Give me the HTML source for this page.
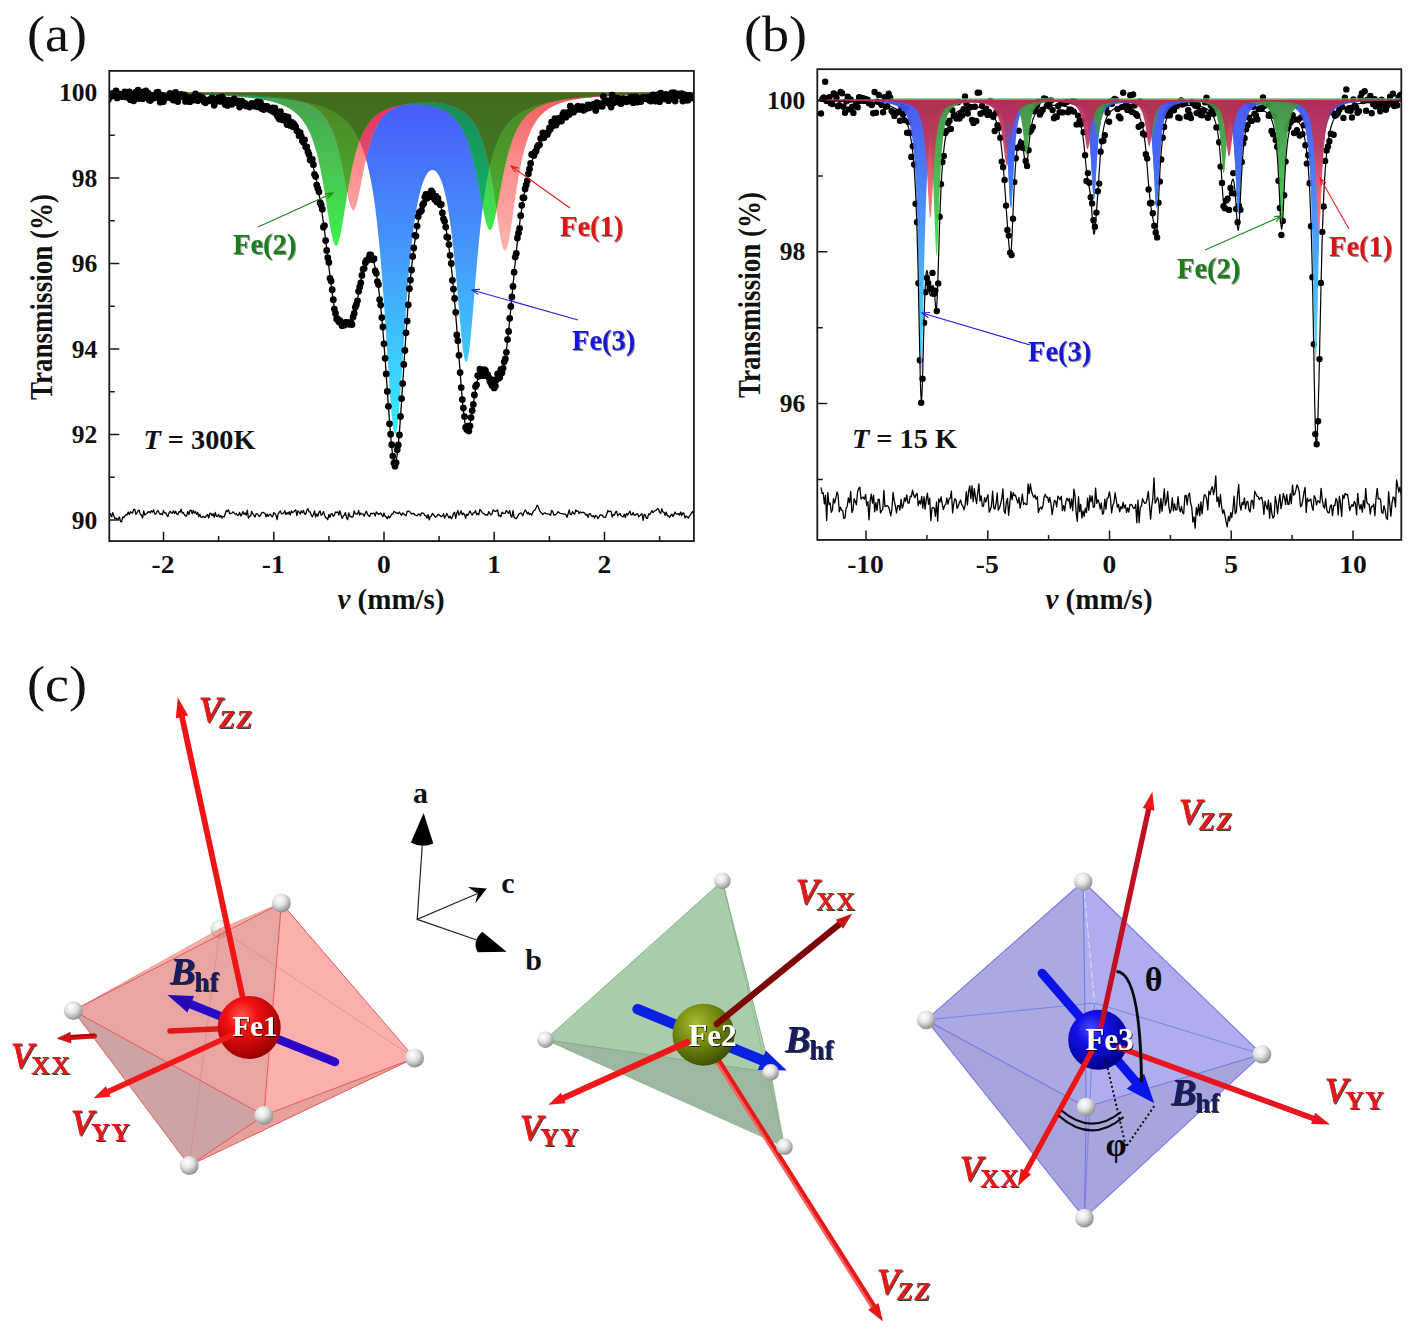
<!DOCTYPE html>
<html lang="en"><head><meta charset="utf-8"><title>Mossbauer spectra and EFG orientation</title>
<style>html,body{margin:0;padding:0;background:#fff;overflow:hidden;}svg{display:block;}text{font-family:"Liberation Serif", serif;}.b{font-weight:bold;}.i{font-style:italic;}.bi{font-weight:bold;font-style:italic;}</style></head><body>
<svg width="1416" height="1337" viewBox="0 0 1416 1337" role="img" aria-label="Mossbauer spectra and EFG orientation figure">
<defs>
<linearGradient id="aB" gradientUnits="userSpaceOnUse" x1="0" y1="92.5" x2="0" y2="438.8"><stop offset="0" stop-color="#4858f8"/><stop offset="0.45" stop-color="#4596fb"/><stop offset="1" stop-color="#35f2ff"/></linearGradient>
<linearGradient id="aG" gradientUnits="userSpaceOnUse" x1="0" y1="92.5" x2="0" y2="242.1"><stop offset="0" stop-color="#46a050"/><stop offset="0.5" stop-color="#49c552"/><stop offset="1" stop-color="#3df04a"/></linearGradient>
<linearGradient id="aR" gradientUnits="userSpaceOnUse" x1="0" y1="92.5" x2="0" y2="250.7"><stop offset="0" stop-color="#ee5a5e"/><stop offset="0.4" stop-color="#fb8a88"/><stop offset="1" stop-color="#ffb4b0"/></linearGradient>
<linearGradient id="aRB" gradientUnits="userSpaceOnUse" x1="0" y1="92.5" x2="0" y2="250.7"><stop offset="0" stop-color="#e8305a"/><stop offset="0.5" stop-color="#dc5078"/><stop offset="1" stop-color="#d07090"/></linearGradient>
<linearGradient id="aRG" gradientUnits="userSpaceOnUse" x1="0" y1="92.5" x2="0" y2="242.1"><stop offset="0" stop-color="#4a8426"/><stop offset="0.45" stop-color="#4c9c2a"/><stop offset="1" stop-color="#40c436"/></linearGradient>
<linearGradient id="aRGB" gradientUnits="userSpaceOnUse" x1="0" y1="92.5" x2="0" y2="242.1"><stop offset="0" stop-color="#426a1e"/><stop offset="0.5" stop-color="#3d7a22"/><stop offset="1" stop-color="#3a8a28"/></linearGradient>
<linearGradient id="aGB" gradientUnits="userSpaceOnUse" x1="0" y1="92.5" x2="0" y2="242.1"><stop offset="0" stop-color="#148c58"/><stop offset="1" stop-color="#16b86a"/></linearGradient>
<linearGradient id="bB" gradientUnits="userSpaceOnUse" x1="0" y1="100" x2="0" y2="373.2"><stop offset="0" stop-color="#4050f0"/><stop offset="0.45" stop-color="#4590fb"/><stop offset="1" stop-color="#35e8ff"/></linearGradient>
<linearGradient id="bB2" gradientUnits="userSpaceOnUse" x1="0" y1="100" x2="0" y2="373.2"><stop offset="0" stop-color="#4050f0" stop-opacity="0"/><stop offset="0.07" stop-color="#4258f2" stop-opacity="0"/><stop offset="0.2" stop-color="#4466f4" stop-opacity="1"/><stop offset="0.45" stop-color="#4590fb" stop-opacity="1"/><stop offset="1" stop-color="#35e8ff" stop-opacity="1"/></linearGradient>
<linearGradient id="bG" gradientUnits="userSpaceOnUse" x1="0" y1="100" x2="0" y2="259.4"><stop offset="0" stop-color="#3e8e42"/><stop offset="0.5" stop-color="#44b84c"/><stop offset="1" stop-color="#3fe64a"/></linearGradient>
<linearGradient id="bR" gradientUnits="userSpaceOnUse" x1="0" y1="100" x2="0" y2="236.6"><stop offset="0" stop-color="#b42a52"/><stop offset="0.35" stop-color="#c83a58"/><stop offset="0.7" stop-color="#f06868"/><stop offset="1" stop-color="#ff7c78"/></linearGradient>
<radialGradient id="sW" cx="38%" cy="32%" r="70%" fx="38%" fy="32%"><stop offset="0" stop-color="#ffffff"/><stop offset="0.45" stop-color="#e4e4e4"/><stop offset="1" stop-color="#8c8c8c"/></radialGradient>
<radialGradient id="sR" cx="38%" cy="32%" r="70%" fx="38%" fy="32%"><stop offset="0" stop-color="#ff5a4a"/><stop offset="0.35" stop-color="#f01010"/><stop offset="1" stop-color="#9a0000"/></radialGradient>
<radialGradient id="sO" cx="38%" cy="32%" r="70%" fx="38%" fy="32%"><stop offset="0" stop-color="#a9bc34"/><stop offset="0.4" stop-color="#7c9414"/><stop offset="1" stop-color="#3e5000"/></radialGradient>
<radialGradient id="sB" cx="38%" cy="32%" r="70%" fx="38%" fy="32%"><stop offset="0" stop-color="#4a4aff"/><stop offset="0.35" stop-color="#1212e8"/><stop offset="1" stop-color="#000088"/></radialGradient>
<filter id="sh" x="-10%" y="-10%" width="130%" height="130%"><feOffset in="SourceAlpha" dx="1.3" dy="1.1" result="o"/><feFlood flood-color="#000" flood-opacity="0.75"/><feComposite in2="o" operator="in" result="s"/><feMerge><feMergeNode in="s"/><feMergeNode in="SourceGraphic"/></feMerge></filter>
<filter id="sh2" x="-10%" y="-10%" width="130%" height="130%"><feOffset in="SourceAlpha" dx="1.2" dy="1.0" result="o"/><feFlood flood-color="#000" flood-opacity="0.45"/><feComposite in2="o" operator="in" result="s"/><feMerge><feMergeNode in="s"/><feMergeNode in="SourceGraphic"/></feMerge></filter>
<clipPath id="clipA"><rect x="109.3" y="70.9" width="584.6" height="470.2"/></clipPath>
<clipPath id="clipB"><rect x="817.3" y="69.2" width="584" height="470.7"/></clipPath>
</defs>
<rect x="0" y="0" width="1416" height="1337" fill="#ffffff"/>
<g clip-path="url(#clipA)">
<path d="M108.4 92.5L108.4 93.7 108.9 93.7 109.4 93.7 110 93.7 110.5 93.7 111 93.7 111.6 93.7 112.1 93.7 112.6 93.7 113.2 93.7 113.7 93.7 114.2 93.7 114.8 93.7 115.3 93.7 115.8 93.7 116.4 93.7 116.9 93.7 117.4 93.7 118 93.7 118.5 93.7 119 93.8 119.6 93.8 120.1 93.8 120.6 93.8 121.2 93.8 121.7 93.8 122.2 93.8 122.8 93.8 123.3 93.8 123.8 93.8 124.4 93.8 124.9 93.8 125.4 93.8 126 93.8 126.5 93.8 127 93.8 127.6 93.8 128.1 93.8 128.6 93.8 129.1 93.8 129.7 93.8 130.2 93.9 130.7 93.9 131.3 93.9 131.8 93.9 132.3 93.9 132.9 93.9 133.4 93.9 133.9 93.9 134.5 93.9 135 93.9 135.5 93.9 136.1 93.9 136.6 93.9 137.1 93.9 137.7 93.9 138.2 93.9 138.7 93.9 139.3 93.9 139.8 93.9 140.3 94 140.9 94 141.4 94 141.9 94 142.5 94 143 94 143.5 94 144.1 94 144.6 94 145.1 94 145.7 94 146.2 94 146.7 94 147.3 94 147.8 94 148.3 94 148.9 94 149.4 94.1 149.9 94.1 150.5 94.1 151 94.1 151.5 94.1 152.1 94.1 152.6 94.1 153.1 94.1 153.7 94.1 154.2 94.1 154.7 94.1 155.3 94.1 155.8 94.1 156.3 94.1 156.8 94.1 157.4 94.2 157.9 94.2 158.4 94.2 159 94.2 159.5 94.2 160 94.2 160.6 94.2 161.1 94.2 161.6 94.2 162.2 94.2 162.7 94.2 163.2 94.2 163.8 94.2 164.3 94.2 164.8 94.3 165.4 94.3 165.9 94.3 166.4 94.3 167 94.3 167.5 94.3 168 94.3 168.6 94.3 169.1 94.3 169.6 94.3 170.2 94.3 170.7 94.3 171.2 94.3 171.8 94.4 172.3 94.4 172.8 94.4 173.4 94.4 173.9 94.4 174.4 94.4 175 94.4 175.5 94.4 176 94.4 176.6 94.4 177.1 94.4 177.6 94.4 178.2 94.5 178.7 94.5 179.2 94.5 179.8 94.5 180.3 94.5 180.8 94.5 181.4 94.5 181.9 94.5 182.4 94.5 183 94.5 183.5 94.5 184 94.6 184.5 94.6 185.1 94.6 185.6 94.6 186.1 94.6 186.7 94.6 187.2 94.6 187.7 94.6 188.3 94.6 188.8 94.6 189.3 94.7 189.9 94.7 190.4 94.7 190.9 94.7 191.5 94.7 192 94.7 192.5 94.7 193.1 94.7 193.6 94.7 194.1 94.8 194.7 94.8 195.2 94.8 195.7 94.8 196.3 94.8 196.8 94.8 197.3 94.8 197.9 94.8 198.4 94.8 198.9 94.9 199.5 94.9 200 94.9 200.5 94.9 201.1 94.9 201.6 94.9 202.1 94.9 202.7 94.9 203.2 95 203.7 95 204.3 95 204.8 95 205.3 95 205.9 95 206.4 95 206.9 95 207.5 95.1 208 95.1 208.5 95.1 209.1 95.1 209.6 95.1 210.1 95.1 210.7 95.1 211.2 95.1 211.7 95.2 212.2 95.2 212.8 95.2 213.3 95.2 213.8 95.2 214.4 95.2 214.9 95.3 215.4 95.3 216 95.3 216.5 95.3 217 95.3 217.6 95.3 218.1 95.3 218.6 95.4 219.2 95.4 219.7 95.4 220.2 95.4 220.8 95.4 221.3 95.4 221.8 95.5 222.4 95.5 222.9 95.5 223.4 95.5 224 95.5 224.5 95.5 225 95.6 225.6 95.6 226.1 95.6 226.6 95.6 227.2 95.6 227.7 95.6 228.2 95.7 228.8 95.7 229.3 95.7 229.8 95.7 230.4 95.7 230.9 95.8 231.4 95.8 232 95.8 232.5 95.8 233 95.8 233.6 95.9 234.1 95.9 234.6 95.9 235.2 95.9 235.7 95.9 236.2 96 236.8 96 237.3 96 237.8 96 238.4 96 238.9 96.1 239.4 96.1 239.9 96.1 240.5 96.1 241 96.2 241.5 96.2 242.1 96.2 242.6 96.2 243.1 96.3 243.7 96.3 244.2 96.3 244.7 96.3 245.3 96.4 245.8 96.4 246.3 96.4 246.9 96.4 247.4 96.5 247.9 96.5 248.5 96.5 249 96.5 249.5 96.6 250.1 96.6 250.6 96.6 251.1 96.6 251.7 96.7 252.2 96.7 252.7 96.7 253.3 96.8 253.8 96.8 254.3 96.8 254.9 96.8 255.4 96.9 255.9 96.9 256.5 96.9 257 97 257.5 97 258.1 97 258.6 97.1 259.1 97.1 259.7 97.1 260.2 97.2 260.7 97.2 261.3 97.2 261.8 97.3 262.3 97.3 262.9 97.3 263.4 97.4 263.9 97.4 264.5 97.4 265 97.5 265.5 97.5 266.1 97.5 266.6 97.6 267.1 97.6 267.6 97.7 268.2 97.7 268.7 97.7 269.2 97.8 269.8 97.8 270.3 97.9 270.8 97.9 271.4 97.9 271.9 98 272.4 98 273 98.1 273.5 98.1 274 98.2 274.6 98.2 275.1 98.3 275.6 98.3 276.2 98.3 276.7 98.4 277.2 98.4 277.8 98.5 278.3 98.5 278.8 98.6 279.4 98.6 279.9 98.7 280.4 98.7 281 98.8 281.5 98.9 282 98.9 282.6 99 283.1 99 283.6 99.1 284.2 99.1 284.7 99.2 285.2 99.2 285.8 99.3 286.3 99.4 286.8 99.4 287.4 99.5 287.9 99.6 288.4 99.6 289 99.7 289.5 99.7 290 99.8 290.6 99.9 291.1 99.9 291.6 100 292.2 100.1 292.7 100.2 293.2 100.2 293.8 100.3 294.3 100.4 294.8 100.4 295.3 100.5 295.9 100.6 296.4 100.7 296.9 100.8 297.5 100.8 298 100.9 298.5 101 299.1 101.1 299.6 101.2 300.1 101.3 300.7 101.4 301.2 101.4 301.7 101.5 302.3 101.6 302.8 101.7 303.3 101.8 303.9 101.9 304.4 102 304.9 102.1 305.5 102.2 306 102.3 306.5 102.4 307.1 102.5 307.6 102.6 308.1 102.8 308.7 102.9 309.2 103 309.7 103.1 310.3 103.2 310.8 103.3 311.3 103.5 311.9 103.6 312.4 103.7 312.9 103.9 313.5 104 314 104.1 314.5 104.3 315.1 104.4 315.6 104.5 316.1 104.7 316.7 104.8 317.2 105 317.7 105.1 318.3 105.3 318.8 105.5 319.3 105.6 319.9 105.8 320.4 105.9 320.9 106.1 321.5 106.3 322 106.5 322.5 106.7 323 106.8 323.6 107 324.1 107.2 324.6 107.4 325.2 107.6 325.7 107.8 326.2 108 326.8 108.3 327.3 108.5 327.8 108.7 328.4 108.9 328.9 109.2 329.4 109.4 330 109.7 330.5 109.9 331 110.2 331.6 110.4 332.1 110.7 332.6 111 333.2 111.2 333.7 111.5 334.2 111.8 334.8 112.1 335.3 112.4 335.8 112.8 336.4 113.1 336.9 113.4 337.4 113.7 338 114.1 338.5 114.4 339 114.8 339.6 115.2 340.1 115.6 340.6 116 341.2 116.4 341.7 116.8 342.2 117.2 342.8 117.7 343.3 118.1 343.8 118.6 344.4 119.1 344.9 119.5 345.4 120 346 120.6 346.5 121.1 347 121.6 347.6 122.2 348.1 122.8 348.6 123.4 349.2 124 349.7 124.6 350.2 125.3 350.7 126 351.3 126.7 351.8 127.4 352.3 128.1 352.9 128.9 353.4 129.7 353.9 130.5 354.5 131.4 355 132.2 355.5 133.1 356.1 134.1 356.6 135 357.1 136 357.7 137.1 358.2 138.1 358.7 139.2 359.3 140.4 359.8 141.6 360.3 142.8 360.9 144.1 361.4 145.4 361.9 146.8 362.5 148.3 363 149.7 363.5 151.3 364.1 152.9 364.6 154.6 365.1 156.3 365.7 158.2 366.2 160 366.7 162 367.3 164.1 367.8 166.2 368.3 168.4 368.9 170.8 369.4 173.2 369.9 175.7 370.5 178.4 371 181.2 371.5 184 372.1 187.1 372.6 190.2 373.1 193.5 373.7 197 374.2 200.6 374.7 204.3 375.3 208.3 375.8 212.4 376.3 216.7 376.9 221.2 377.4 225.9 377.9 230.9 378.4 236 379 241.4 379.5 247 380 252.8 380.6 258.9 381.1 265.2 381.6 271.8 382.2 278.6 382.7 285.7 383.2 293 383.8 300.5 384.3 308.2 384.8 316.1 385.4 324.2 385.9 332.4 386.4 340.7 387 349.1 387.5 357.5 388 365.8 388.6 374 389.1 382 389.6 389.8 390.2 397.2 390.7 404.1 391.2 410.6 391.8 416.4 392.3 421.5 392.8 425.9 393.4 429.4 393.9 432.1 394.4 433.8 395 434.5 395.5 434.3 396 433.1 396.6 430.9 397.1 427.9 397.6 424 398.2 419.3 398.7 413.9 399.2 407.8 399.8 401.3 400.3 394.3 400.8 386.9 401.4 379.2 401.9 371.3 402.4 363.3 403 355.2 403.5 347.1 404 339.1 404.6 331.1 405.1 323.3 405.6 315.7 406.1 308.2 406.7 300.9 407.2 293.9 407.7 287.1 408.3 280.6 408.8 274.3 409.3 268.2 409.9 262.4 410.4 256.9 410.9 251.6 411.5 246.5 412 241.7 412.5 237.1 413.1 232.7 413.6 228.5 414.1 224.5 414.7 220.8 415.2 217.2 415.7 213.8 416.3 210.6 416.8 207.5 417.3 204.6 417.9 201.9 418.4 199.3 418.9 196.9 419.5 194.6 420 192.4 420.5 190.3 421.1 188.4 421.6 186.6 422.1 184.9 422.7 183.3 423.2 181.8 423.7 180.4 424.3 179.2 424.8 178 425.3 176.9 425.9 175.8 426.4 174.9 426.9 174.1 427.5 173.3 428 172.6 428.5 172 429.1 171.5 429.6 171.1 430.1 170.7 430.7 170.4 431.2 170.2 431.7 170 432.3 170 432.8 170 433.3 170.1 433.8 170.2 434.4 170.4 434.9 170.8 435.4 171.1 436 171.6 436.5 172.1 437 172.8 437.6 173.5 438.1 174.3 438.6 175.1 439.2 176.1 439.7 177.2 440.2 178.3 440.8 179.6 441.3 180.9 441.8 182.4 442.4 184 442.9 185.6 443.4 187.4 444 189.4 444.5 191.4 445 193.6 445.6 195.9 446.1 198.3 446.6 200.9 447.2 203.7 447.7 206.6 448.2 209.7 448.8 212.9 449.3 216.4 449.8 220 450.4 223.8 450.9 227.7 451.4 231.9 452 236.3 452.5 240.8 453 245.6 453.6 250.5 454.1 255.7 454.6 261 455.2 266.5 455.7 272.2 456.2 278 456.8 284 457.3 290 457.8 296.2 458.4 302.3 458.9 308.5 459.4 314.6 460 320.6 460.5 326.4 461 332 461.5 337.3 462.1 342.3 462.6 346.9 463.1 350.9 463.7 354.4 464.2 357.3 464.7 359.6 465.3 361.1 465.8 361.9 466.3 362 466.9 361.3 467.4 359.9 467.9 357.7 468.5 354.9 469 351.4 469.5 347.3 470.1 342.7 470.6 337.7 471.1 332.2 471.7 326.4 472.2 320.3 472.7 314.1 473.3 307.6 473.8 301.1 474.3 294.6 474.9 288.1 475.4 281.6 475.9 275.2 476.5 268.9 477 262.7 477.5 256.7 478.1 250.9 478.6 245.2 479.1 239.7 479.7 234.4 480.2 229.3 480.7 224.4 481.3 219.6 481.8 215.1 482.3 210.7 482.9 206.5 483.4 202.5 483.9 198.7 484.5 195 485 191.5 485.5 188.1 486.1 184.9 486.6 181.8 487.1 178.9 487.7 176.1 488.2 173.4 488.7 170.8 489.2 168.4 489.8 166 490.3 163.7 490.8 161.6 491.4 159.5 491.9 157.5 492.4 155.6 493 153.8 493.5 152 494 150.3 494.6 148.7 495.1 147.2 495.6 145.7 496.2 144.3 496.7 142.9 497.2 141.6 497.8 140.3 498.3 139.1 498.8 137.9 499.4 136.8 499.9 135.7 500.4 134.6 501 133.6 501.5 132.7 502 131.7 502.6 130.8 503.1 129.9 503.6 129.1 504.2 128.3 504.7 127.5 505.2 126.7 505.8 126 506.3 125.2 506.8 124.5 507.4 123.9 507.9 123.2 508.4 122.6 509 122 509.5 121.4 510 120.8 510.6 120.3 511.1 119.7 511.6 119.2 512.2 118.7 512.7 118.2 513.2 117.7 513.8 117.3 514.3 116.8 514.8 116.4 515.4 115.9 515.9 115.5 516.4 115.1 516.9 114.7 517.5 114.3 518 114 518.5 113.6 519.1 113.3 519.6 112.9 520.1 112.6 520.7 112.3 521.2 111.9 521.7 111.6 522.3 111.3 522.8 111 523.3 110.7 523.9 110.5 524.4 110.2 524.9 109.9 525.5 109.6 526 109.4 526.5 109.1 527.1 108.9 527.6 108.7 528.1 108.4 528.7 108.2 529.2 108 529.7 107.8 530.3 107.5 530.8 107.3 531.3 107.1 531.9 106.9 532.4 106.7 532.9 106.5 533.5 106.4 534 106.2 534.5 106 535.1 105.8 535.6 105.6 536.1 105.5 536.7 105.3 537.2 105.1 537.7 105 538.3 104.8 538.8 104.7 539.3 104.5 539.9 104.4 540.4 104.2 540.9 104.1 541.5 104 542 103.8 542.5 103.7 543.1 103.6 543.6 103.4 544.1 103.3 544.6 103.2 545.2 103.1 545.7 102.9 546.2 102.8 546.8 102.7 547.3 102.6 547.8 102.5 548.4 102.4 548.9 102.3 549.4 102.2 550 102 550.5 101.9 551 101.8 551.6 101.7 552.1 101.6 552.6 101.5 553.2 101.5 553.7 101.4 554.2 101.3 554.8 101.2 555.3 101.1 555.8 101 556.4 100.9 556.9 100.8 557.4 100.8 558 100.7 558.5 100.6 559 100.5 559.6 100.4 560.1 100.4 560.6 100.3 561.2 100.2 561.7 100.1 562.2 100.1 562.8 100 563.3 99.9 563.8 99.8 564.4 99.8 564.9 99.7 565.4 99.6 566 99.6 566.5 99.5 567 99.5 567.6 99.4 568.1 99.3 568.6 99.3 569.2 99.2 569.7 99.1 570.2 99.1 570.8 99 571.3 99 571.8 98.9 572.3 98.9 572.9 98.8 573.4 98.8 573.9 98.7 574.5 98.7 575 98.6 575.5 98.5 576.1 98.5 576.6 98.4 577.1 98.4 577.7 98.4 578.2 98.3 578.7 98.3 579.3 98.2 579.8 98.2 580.3 98.1 580.9 98.1 581.4 98 581.9 98 582.5 97.9 583 97.9 583.5 97.9 584.1 97.8 584.6 97.8 585.1 97.7 585.7 97.7 586.2 97.7 586.7 97.6 587.3 97.6 587.8 97.5 588.3 97.5 588.9 97.5 589.4 97.4 589.9 97.4 590.5 97.4 591 97.3 591.5 97.3 592.1 97.2 592.6 97.2 593.1 97.2 593.7 97.1 594.2 97.1 594.7 97.1 595.3 97 595.8 97 596.3 97 596.9 96.9 597.4 96.9 597.9 96.9 598.5 96.9 599 96.8 599.5 96.8 600 96.8 600.6 96.7 601.1 96.7 601.6 96.7 602.2 96.6 602.7 96.6 603.2 96.6 603.8 96.6 604.3 96.5 604.8 96.5 605.4 96.5 605.9 96.5 606.4 96.4 607 96.4 607.5 96.4 608 96.4 608.6 96.3 609.1 96.3 609.6 96.3 610.2 96.3 610.7 96.2 611.2 96.2 611.8 96.2 612.3 96.2 612.8 96.1 613.4 96.1 613.9 96.1 614.4 96.1 615 96 615.5 96 616 96 616.6 96 617.1 96 617.6 95.9 618.2 95.9 618.7 95.9 619.2 95.9 619.8 95.9 620.3 95.8 620.8 95.8 621.4 95.8 621.9 95.8 622.4 95.8 623 95.7 623.5 95.7 624 95.7 624.6 95.7 625.1 95.7 625.6 95.6 626.2 95.6 626.7 95.6 627.2 95.6 627.7 95.6 628.3 95.6 628.8 95.5 629.3 95.5 629.9 95.5 630.4 95.5 630.9 95.5 631.5 95.5 632 95.4 632.5 95.4 633.1 95.4 633.6 95.4 634.1 95.4 634.7 95.4 635.2 95.3 635.7 95.3 636.3 95.3 636.8 95.3 637.3 95.3 637.9 95.3 638.4 95.2 638.9 95.2 639.5 95.2 640 95.2 640.5 95.2 641.1 95.2 641.6 95.2 642.1 95.1 642.7 95.1 643.2 95.1 643.7 95.1 644.3 95.1 644.8 95.1 645.3 95.1 645.9 95 646.4 95 646.9 95 647.5 95 648 95 648.5 95 649.1 95 649.6 95 650.1 94.9 650.7 94.9 651.2 94.9 651.7 94.9 652.3 94.9 652.8 94.9 653.3 94.9 653.9 94.9 654.4 94.8 654.9 94.8 655.4 94.8 656 94.8 656.5 94.8 657 94.8 657.6 94.8 658.1 94.8 658.6 94.8 659.2 94.7 659.7 94.7 660.2 94.7 660.8 94.7 661.3 94.7 661.8 94.7 662.4 94.7 662.9 94.7 663.4 94.7 664 94.6 664.5 94.6 665 94.6 665.6 94.6 666.1 94.6 666.6 94.6 667.2 94.6 667.7 94.6 668.2 94.6 668.8 94.6 669.3 94.5 669.8 94.5 670.4 94.5 670.9 94.5 671.4 94.5 672 94.5 672.5 94.5 673 94.5 673.6 94.5 674.1 94.5 674.6 94.5 675.2 94.4 675.7 94.4 676.2 94.4 676.8 94.4 677.3 94.4 677.8 94.4 678.4 94.4 678.9 94.4 679.4 94.4 680 94.4 680.5 94.4 681 94.4 681.6 94.3 682.1 94.3 682.6 94.3 683.1 94.3 683.7 94.3 684.2 94.3 684.7 94.3 685.3 94.3 685.8 94.3 686.3 94.3 686.9 94.3 687.4 94.3 687.9 94.3 688.5 94.2 689 94.2 689.5 94.2 690.1 94.2 690.6 94.2 691.1 94.2 691.7 94.2 692.2 94.2 692.7 94.2 693.3 94.2 693.8 94.2L693.8 92.5 Z" fill="url(#aB)" />
<path d="M108.4 92.5L108.4 93.4 108.9 93.4 109.4 93.5 110 93.5 110.5 93.5 111 93.5 111.6 93.5 112.1 93.5 112.6 93.5 113.2 93.5 113.7 93.5 114.2 93.5 114.8 93.5 115.3 93.5 115.8 93.5 116.4 93.5 116.9 93.5 117.4 93.5 118 93.5 118.5 93.5 119 93.5 119.6 93.5 120.1 93.5 120.6 93.5 121.2 93.5 121.7 93.6 122.2 93.6 122.8 93.6 123.3 93.6 123.8 93.6 124.4 93.6 124.9 93.6 125.4 93.6 126 93.6 126.5 93.6 127 93.6 127.6 93.6 128.1 93.6 128.6 93.6 129.1 93.6 129.7 93.6 130.2 93.6 130.7 93.6 131.3 93.6 131.8 93.6 132.3 93.7 132.9 93.7 133.4 93.7 133.9 93.7 134.5 93.7 135 93.7 135.5 93.7 136.1 93.7 136.6 93.7 137.1 93.7 137.7 93.7 138.2 93.7 138.7 93.7 139.3 93.7 139.8 93.7 140.3 93.7 140.9 93.7 141.4 93.8 141.9 93.8 142.5 93.8 143 93.8 143.5 93.8 144.1 93.8 144.6 93.8 145.1 93.8 145.7 93.8 146.2 93.8 146.7 93.8 147.3 93.8 147.8 93.8 148.3 93.8 148.9 93.8 149.4 93.8 149.9 93.9 150.5 93.9 151 93.9 151.5 93.9 152.1 93.9 152.6 93.9 153.1 93.9 153.7 93.9 154.2 93.9 154.7 93.9 155.3 93.9 155.8 93.9 156.3 93.9 156.8 94 157.4 94 157.9 94 158.4 94 159 94 159.5 94 160 94 160.6 94 161.1 94 161.6 94 162.2 94 162.7 94 163.2 94 163.8 94.1 164.3 94.1 164.8 94.1 165.4 94.1 165.9 94.1 166.4 94.1 167 94.1 167.5 94.1 168 94.1 168.6 94.1 169.1 94.1 169.6 94.2 170.2 94.2 170.7 94.2 171.2 94.2 171.8 94.2 172.3 94.2 172.8 94.2 173.4 94.2 173.9 94.2 174.4 94.2 175 94.3 175.5 94.3 176 94.3 176.6 94.3 177.1 94.3 177.6 94.3 178.2 94.3 178.7 94.3 179.2 94.3 179.8 94.4 180.3 94.4 180.8 94.4 181.4 94.4 181.9 94.4 182.4 94.4 183 94.4 183.5 94.4 184 94.4 184.5 94.5 185.1 94.5 185.6 94.5 186.1 94.5 186.7 94.5 187.2 94.5 187.7 94.5 188.3 94.5 188.8 94.6 189.3 94.6 189.9 94.6 190.4 94.6 190.9 94.6 191.5 94.6 192 94.6 192.5 94.7 193.1 94.7 193.6 94.7 194.1 94.7 194.7 94.7 195.2 94.7 195.7 94.7 196.3 94.8 196.8 94.8 197.3 94.8 197.9 94.8 198.4 94.8 198.9 94.8 199.5 94.9 200 94.9 200.5 94.9 201.1 94.9 201.6 94.9 202.1 94.9 202.7 95 203.2 95 203.7 95 204.3 95 204.8 95 205.3 95 205.9 95.1 206.4 95.1 206.9 95.1 207.5 95.1 208 95.1 208.5 95.2 209.1 95.2 209.6 95.2 210.1 95.2 210.7 95.2 211.2 95.3 211.7 95.3 212.2 95.3 212.8 95.3 213.3 95.4 213.8 95.4 214.4 95.4 214.9 95.4 215.4 95.4 216 95.5 216.5 95.5 217 95.5 217.6 95.5 218.1 95.6 218.6 95.6 219.2 95.6 219.7 95.6 220.2 95.7 220.8 95.7 221.3 95.7 221.8 95.7 222.4 95.8 222.9 95.8 223.4 95.8 224 95.9 224.5 95.9 225 95.9 225.6 95.9 226.1 96 226.6 96 227.2 96 227.7 96.1 228.2 96.1 228.8 96.1 229.3 96.2 229.8 96.2 230.4 96.2 230.9 96.3 231.4 96.3 232 96.3 232.5 96.4 233 96.4 233.6 96.4 234.1 96.5 234.6 96.5 235.2 96.6 235.7 96.6 236.2 96.6 236.8 96.7 237.3 96.7 237.8 96.8 238.4 96.8 238.9 96.8 239.4 96.9 239.9 96.9 240.5 97 241 97 241.5 97.1 242.1 97.1 242.6 97.2 243.1 97.2 243.7 97.3 244.2 97.3 244.7 97.4 245.3 97.4 245.8 97.5 246.3 97.5 246.9 97.6 247.4 97.6 247.9 97.7 248.5 97.7 249 97.8 249.5 97.9 250.1 97.9 250.6 98 251.1 98 251.7 98.1 252.2 98.2 252.7 98.2 253.3 98.3 253.8 98.4 254.3 98.4 254.9 98.5 255.4 98.6 255.9 98.6 256.5 98.7 257 98.8 257.5 98.9 258.1 99 258.6 99 259.1 99.1 259.7 99.2 260.2 99.3 260.7 99.4 261.3 99.5 261.8 99.5 262.3 99.6 262.9 99.7 263.4 99.8 263.9 99.9 264.5 100 265 100.1 265.5 100.2 266.1 100.3 266.6 100.4 267.1 100.6 267.6 100.7 268.2 100.8 268.7 100.9 269.2 101 269.8 101.1 270.3 101.3 270.8 101.4 271.4 101.5 271.9 101.7 272.4 101.8 273 101.9 273.5 102.1 274 102.2 274.6 102.4 275.1 102.5 275.6 102.7 276.2 102.9 276.7 103 277.2 103.2 277.8 103.4 278.3 103.5 278.8 103.7 279.4 103.9 279.9 104.1 280.4 104.3 281 104.5 281.5 104.7 282 104.9 282.6 105.1 283.1 105.4 283.6 105.6 284.2 105.8 284.7 106.1 285.2 106.3 285.8 106.6 286.3 106.8 286.8 107.1 287.4 107.4 287.9 107.7 288.4 108 289 108.3 289.5 108.6 290 108.9 290.6 109.3 291.1 109.6 291.6 109.9 292.2 110.3 292.7 110.7 293.2 111.1 293.8 111.5 294.3 111.9 294.8 112.3 295.3 112.8 295.9 113.2 296.4 113.7 296.9 114.2 297.5 114.7 298 115.2 298.5 115.7 299.1 116.3 299.6 116.8 300.1 117.4 300.7 118.1 301.2 118.7 301.7 119.3 302.3 120 302.8 120.7 303.3 121.5 303.9 122.2 304.4 123 304.9 123.9 305.5 124.7 306 125.6 306.5 126.5 307.1 127.5 307.6 128.5 308.1 129.5 308.7 130.6 309.2 131.7 309.7 132.8 310.3 134.1 310.8 135.3 311.3 136.6 311.9 138 312.4 139.4 312.9 140.9 313.5 142.4 314 144 314.5 145.7 315.1 147.4 315.6 149.2 316.1 151.1 316.7 153.1 317.2 155.1 317.7 157.2 318.3 159.4 318.8 161.7 319.3 164.1 319.9 166.5 320.4 169.1 320.9 171.7 321.5 174.4 322 177.2 322.5 180.1 323 183.1 323.6 186.2 324.1 189.3 324.6 192.5 325.2 195.8 325.7 199.1 326.2 202.4 326.8 205.8 327.3 209.2 327.8 212.6 328.4 215.9 328.9 219.2 329.4 222.4 330 225.6 330.5 228.6 331 231.4 331.6 234.1 332.1 236.5 332.6 238.7 333.2 240.7 333.7 242.3 334.2 243.7 334.8 244.7 335.3 245.4 335.8 245.7 336.4 245.7 336.9 245.3 337.4 244.6 338 243.5 338.5 242.1 339 240.4 339.6 238.4 340.1 236.1 340.6 233.7 341.2 231 341.7 228.1 342.2 225.1 342.8 222 343.3 218.8 343.8 215.5 344.4 212.1 344.9 208.8 345.4 205.4 346 202.1 346.5 198.7 347 195.5 347.6 192.2 348.1 189.1 348.6 186 349.2 182.9 349.7 180 350.2 177.1 350.7 174.4 351.3 171.7 351.8 169.1 352.3 166.6 352.9 164.2 353.4 161.9 353.9 159.6 354.5 157.5 355 155.4 355.5 153.4 356.1 151.5 356.6 149.6 357.1 147.9 357.7 146.2 358.2 144.5 358.7 143 359.3 141.5 359.8 140 360.3 138.6 360.9 137.3 361.4 136 361.9 134.8 362.5 133.6 363 132.5 363.5 131.4 364.1 130.4 364.6 129.4 365.1 128.4 365.7 127.5 366.2 126.6 366.7 125.8 367.3 124.9 367.8 124.2 368.3 123.4 368.9 122.7 369.4 122 369.9 121.3 370.5 120.6 371 120 371.5 119.4 372.1 118.8 372.6 118.3 373.1 117.7 373.7 117.2 374.2 116.7 374.7 116.2 375.3 115.7 375.8 115.3 376.3 114.9 376.9 114.4 377.4 114 377.9 113.6 378.4 113.3 379 112.9 379.5 112.5 380 112.2 380.6 111.9 381.1 111.5 381.6 111.2 382.2 110.9 382.7 110.7 383.2 110.4 383.8 110.1 384.3 109.8 384.8 109.6 385.4 109.4 385.9 109.1 386.4 108.9 387 108.7 387.5 108.5 388 108.3 388.6 108.1 389.1 107.9 389.6 107.7 390.2 107.5 390.7 107.3 391.2 107.2 391.8 107 392.3 106.9 392.8 106.7 393.4 106.6 393.9 106.4 394.4 106.3 395 106.2 395.5 106 396 105.9 396.6 105.8 397.1 105.7 397.6 105.6 398.2 105.5 398.7 105.4 399.2 105.3 399.8 105.2 400.3 105.1 400.8 105.1 401.4 105 401.9 104.9 402.4 104.8 403 104.8 403.5 104.7 404 104.7 404.6 104.6 405.1 104.5 405.6 104.5 406.1 104.4 406.7 104.4 407.2 104.4 407.7 104.3 408.3 104.3 408.8 104.3 409.3 104.2 409.9 104.2 410.4 104.2 410.9 104.2 411.5 104.2 412 104.2 412.5 104.2 413.1 104.1 413.6 104.1 414.1 104.1 414.7 104.2 415.2 104.2 415.7 104.2 416.3 104.2 416.8 104.2 417.3 104.2 417.9 104.2 418.4 104.3 418.9 104.3 419.5 104.3 420 104.4 420.5 104.4 421.1 104.4 421.6 104.5 422.1 104.5 422.7 104.6 423.2 104.6 423.7 104.7 424.3 104.8 424.8 104.8 425.3 104.9 425.9 105 426.4 105.1 426.9 105.1 427.5 105.2 428 105.3 428.5 105.4 429.1 105.5 429.6 105.6 430.1 105.7 430.7 105.8 431.2 105.9 431.7 106.1 432.3 106.2 432.8 106.3 433.3 106.4 433.8 106.6 434.4 106.7 434.9 106.9 435.4 107 436 107.2 436.5 107.4 437 107.5 437.6 107.7 438.1 107.9 438.6 108.1 439.2 108.3 439.7 108.5 440.2 108.7 440.8 108.9 441.3 109.2 441.8 109.4 442.4 109.6 442.9 109.9 443.4 110.2 444 110.4 444.5 110.7 445 111 445.6 111.3 446.1 111.6 446.6 111.9 447.2 112.3 447.7 112.6 448.2 113 448.8 113.3 449.3 113.7 449.8 114.1 450.4 114.5 450.9 115 451.4 115.4 452 115.9 452.5 116.3 453 116.8 453.6 117.4 454.1 117.9 454.6 118.4 455.2 119 455.7 119.6 456.2 120.2 456.8 120.9 457.3 121.5 457.8 122.2 458.4 122.9 458.9 123.7 459.4 124.4 460 125.2 460.5 126.1 461 126.9 461.5 127.8 462.1 128.8 462.6 129.8 463.1 130.8 463.7 131.8 464.2 132.9 464.7 134.1 465.3 135.3 465.8 136.5 466.3 137.8 466.9 139.1 467.4 140.5 467.9 142 468.5 143.5 469 145 469.5 146.7 470.1 148.4 470.6 150.1 471.1 151.9 471.7 153.8 472.2 155.8 472.7 157.9 473.3 160 473.8 162.2 474.3 164.4 474.9 166.8 475.4 169.2 475.9 171.7 476.5 174.2 477 176.8 477.5 179.5 478.1 182.3 478.6 185.1 479.1 187.9 479.7 190.8 480.2 193.7 480.7 196.6 481.3 199.5 481.8 202.4 482.3 205.2 482.9 208 483.4 210.7 483.9 213.4 484.5 215.9 485 218.3 485.5 220.5 486.1 222.5 486.6 224.4 487.1 226 487.7 227.3 488.2 228.4 488.7 229.2 489.2 229.7 489.8 230 490.3 229.9 490.8 229.5 491.4 228.9 491.9 227.9 492.4 226.7 493 225.3 493.5 223.6 494 221.6 494.6 219.5 495.1 217.2 495.6 214.8 496.2 212.2 496.7 209.5 497.2 206.7 497.8 203.9 498.3 201 498.8 198.1 499.4 195.1 499.9 192.2 500.4 189.3 501 186.4 501.5 183.6 502 180.8 502.6 178 503.1 175.3 503.6 172.7 504.2 170.2 504.7 167.7 505.2 165.3 505.8 162.9 506.3 160.7 506.8 158.5 507.4 156.4 507.9 154.4 508.4 152.4 509 150.5 509.5 148.7 510 146.9 510.6 145.2 511.1 143.6 511.6 142 512.2 140.5 512.7 139.1 513.2 137.7 513.8 136.3 514.3 135 514.8 133.8 515.4 132.6 515.9 131.4 516.4 130.3 516.9 129.3 517.5 128.2 518 127.3 518.5 126.3 519.1 125.4 519.6 124.5 520.1 123.7 520.7 122.8 521.2 122.1 521.7 121.3 522.3 120.6 522.8 119.9 523.3 119.2 523.9 118.5 524.4 117.9 524.9 117.3 525.5 116.7 526 116.1 526.5 115.5 527.1 115 527.6 114.5 528.1 114 528.7 113.5 529.2 113 529.7 112.6 530.3 112.2 530.8 111.7 531.3 111.3 531.9 110.9 532.4 110.5 532.9 110.2 533.5 109.8 534 109.4 534.5 109.1 535.1 108.8 535.6 108.5 536.1 108.1 536.7 107.8 537.2 107.5 537.7 107.3 538.3 107 538.8 106.7 539.3 106.4 539.9 106.2 540.4 105.9 540.9 105.7 541.5 105.5 542 105.2 542.5 105 543.1 104.8 543.6 104.6 544.1 104.4 544.6 104.2 545.2 104 545.7 103.8 546.2 103.6 546.8 103.4 547.3 103.2 547.8 103.1 548.4 102.9 548.9 102.7 549.4 102.6 550 102.4 550.5 102.3 551 102.1 551.6 102 552.1 101.8 552.6 101.7 553.2 101.5 553.7 101.4 554.2 101.3 554.8 101.2 555.3 101 555.8 100.9 556.4 100.8 556.9 100.7 557.4 100.6 558 100.5 558.5 100.3 559 100.2 559.6 100.1 560.1 100 560.6 99.9 561.2 99.8 561.7 99.7 562.2 99.6 562.8 99.5 563.3 99.5 563.8 99.4 564.4 99.3 564.9 99.2 565.4 99.1 566 99 566.5 98.9 567 98.9 567.6 98.8 568.1 98.7 568.6 98.6 569.2 98.6 569.7 98.5 570.2 98.4 570.8 98.4 571.3 98.3 571.8 98.2 572.3 98.2 572.9 98.1 573.4 98 573.9 98 574.5 97.9 575 97.8 575.5 97.8 576.1 97.7 576.6 97.7 577.1 97.6 577.7 97.6 578.2 97.5 578.7 97.4 579.3 97.4 579.8 97.3 580.3 97.3 580.9 97.2 581.4 97.2 581.9 97.1 582.5 97.1 583 97 583.5 97 584.1 97 584.6 96.9 585.1 96.9 585.7 96.8 586.2 96.8 586.7 96.7 587.3 96.7 587.8 96.7 588.3 96.6 588.9 96.6 589.4 96.5 589.9 96.5 590.5 96.5 591 96.4 591.5 96.4 592.1 96.4 592.6 96.3 593.1 96.3 593.7 96.2 594.2 96.2 594.7 96.2 595.3 96.1 595.8 96.1 596.3 96.1 596.9 96.1 597.4 96 597.9 96 598.5 96 599 95.9 599.5 95.9 600 95.9 600.6 95.8 601.1 95.8 601.6 95.8 602.2 95.8 602.7 95.7 603.2 95.7 603.8 95.7 604.3 95.6 604.8 95.6 605.4 95.6 605.9 95.6 606.4 95.5 607 95.5 607.5 95.5 608 95.5 608.6 95.5 609.1 95.4 609.6 95.4 610.2 95.4 610.7 95.4 611.2 95.3 611.8 95.3 612.3 95.3 612.8 95.3 613.4 95.2 613.9 95.2 614.4 95.2 615 95.2 615.5 95.2 616 95.1 616.6 95.1 617.1 95.1 617.6 95.1 618.2 95.1 618.7 95.1 619.2 95 619.8 95 620.3 95 620.8 95 621.4 95 621.9 94.9 622.4 94.9 623 94.9 623.5 94.9 624 94.9 624.6 94.9 625.1 94.8 625.6 94.8 626.2 94.8 626.7 94.8 627.2 94.8 627.7 94.8 628.3 94.7 628.8 94.7 629.3 94.7 629.9 94.7 630.4 94.7 630.9 94.7 631.5 94.7 632 94.6 632.5 94.6 633.1 94.6 633.6 94.6 634.1 94.6 634.7 94.6 635.2 94.6 635.7 94.5 636.3 94.5 636.8 94.5 637.3 94.5 637.9 94.5 638.4 94.5 638.9 94.5 639.5 94.5 640 94.4 640.5 94.4 641.1 94.4 641.6 94.4 642.1 94.4 642.7 94.4 643.2 94.4 643.7 94.4 644.3 94.3 644.8 94.3 645.3 94.3 645.9 94.3 646.4 94.3 646.9 94.3 647.5 94.3 648 94.3 648.5 94.3 649.1 94.3 649.6 94.2 650.1 94.2 650.7 94.2 651.2 94.2 651.7 94.2 652.3 94.2 652.8 94.2 653.3 94.2 653.9 94.2 654.4 94.2 654.9 94.1 655.4 94.1 656 94.1 656.5 94.1 657 94.1 657.6 94.1 658.1 94.1 658.6 94.1 659.2 94.1 659.7 94.1 660.2 94.1 660.8 94 661.3 94 661.8 94 662.4 94 662.9 94 663.4 94 664 94 664.5 94 665 94 665.6 94 666.1 94 666.6 94 667.2 93.9 667.7 93.9 668.2 93.9 668.8 93.9 669.3 93.9 669.8 93.9 670.4 93.9 670.9 93.9 671.4 93.9 672 93.9 672.5 93.9 673 93.9 673.6 93.9 674.1 93.9 674.6 93.8 675.2 93.8 675.7 93.8 676.2 93.8 676.8 93.8 677.3 93.8 677.8 93.8 678.4 93.8 678.9 93.8 679.4 93.8 680 93.8 680.5 93.8 681 93.8 681.6 93.8 682.1 93.8 682.6 93.7 683.1 93.7 683.7 93.7 684.2 93.7 684.7 93.7 685.3 93.7 685.8 93.7 686.3 93.7 686.9 93.7 687.4 93.7 687.9 93.7 688.5 93.7 689 93.7 689.5 93.7 690.1 93.7 690.6 93.7 691.1 93.7 691.7 93.6 692.2 93.6 692.7 93.6 693.3 93.6 693.8 93.6L693.8 92.5 Z" fill="url(#aG)" />
<path d="M108.4 92.5L108.4 93.4 108.9 93.4 109.4 93.5 110 93.5 110.5 93.5 111 93.5 111.6 93.5 112.1 93.5 112.6 93.5 113.2 93.5 113.7 93.5 114.2 93.5 114.8 93.5 115.3 93.5 115.8 93.5 116.4 93.5 116.9 93.5 117.4 93.5 118 93.5 118.5 93.5 119 93.5 119.6 93.5 120.1 93.5 120.6 93.5 121.2 93.5 121.7 93.6 122.2 93.6 122.8 93.6 123.3 93.6 123.8 93.6 124.4 93.6 124.9 93.6 125.4 93.6 126 93.6 126.5 93.6 127 93.6 127.6 93.6 128.1 93.6 128.6 93.6 129.1 93.6 129.7 93.6 130.2 93.6 130.7 93.6 131.3 93.6 131.8 93.6 132.3 93.7 132.9 93.7 133.4 93.7 133.9 93.7 134.5 93.7 135 93.7 135.5 93.7 136.1 93.7 136.6 93.7 137.1 93.7 137.7 93.7 138.2 93.7 138.7 93.7 139.3 93.7 139.8 93.7 140.3 93.7 140.9 93.7 141.4 93.8 141.9 93.8 142.5 93.8 143 93.8 143.5 93.8 144.1 93.8 144.6 93.8 145.1 93.8 145.7 93.8 146.2 93.8 146.7 93.8 147.3 93.8 147.8 93.8 148.3 93.8 148.9 93.8 149.4 93.8 149.9 93.9 150.5 93.9 151 93.9 151.5 93.9 152.1 93.9 152.6 93.9 153.1 93.9 153.7 93.9 154.2 93.9 154.7 93.9 155.3 93.9 155.8 93.9 156.3 93.9 156.8 94 157.4 94 157.9 94 158.4 94 159 94 159.5 94 160 94 160.6 94 161.1 94 161.6 94 162.2 94 162.7 94 163.2 94 163.8 94.1 164.3 94.1 164.8 94.1 165.4 94.1 165.9 94.1 166.4 94.1 167 94.1 167.5 94.1 168 94.1 168.6 94.1 169.1 94.1 169.6 94.2 170.2 94.2 170.7 94.2 171.2 94.2 171.8 94.2 172.3 94.2 172.8 94.2 173.4 94.2 173.9 94.2 174.4 94.2 175 94.3 175.5 94.3 176 94.3 176.6 94.3 177.1 94.3 177.6 94.3 178.2 94.3 178.7 94.3 179.2 94.3 179.8 94.4 180.3 94.4 180.8 94.4 181.4 94.4 181.9 94.4 182.4 94.4 183 94.4 183.5 94.4 184 94.4 184.5 94.5 185.1 94.5 185.6 94.5 186.1 94.5 186.7 94.5 187.2 94.5 187.7 94.5 188.3 94.5 188.8 94.6 189.3 94.6 189.9 94.6 190.4 94.6 190.9 94.6 191.5 94.6 192 94.6 192.5 94.7 193.1 94.7 193.6 94.7 194.1 94.7 194.7 94.7 195.2 94.7 195.7 94.7 196.3 94.8 196.8 94.8 197.3 94.8 197.9 94.8 198.4 94.8 198.9 94.8 199.5 94.9 200 94.9 200.5 94.9 201.1 94.9 201.6 94.9 202.1 94.9 202.7 94.9 203.2 95 203.7 95 204.3 95 204.8 95 205.3 95 205.9 95 206.4 95 206.9 95 207.5 95.1 208 95.1 208.5 95.1 209.1 95.1 209.6 95.1 210.1 95.1 210.7 95.1 211.2 95.1 211.7 95.2 212.2 95.2 212.8 95.2 213.3 95.2 213.8 95.2 214.4 95.2 214.9 95.3 215.4 95.3 216 95.3 216.5 95.3 217 95.3 217.6 95.3 218.1 95.3 218.6 95.4 219.2 95.4 219.7 95.4 220.2 95.4 220.8 95.4 221.3 95.4 221.8 95.5 222.4 95.5 222.9 95.5 223.4 95.5 224 95.5 224.5 95.5 225 95.6 225.6 95.6 226.1 95.6 226.6 95.6 227.2 95.6 227.7 95.6 228.2 95.7 228.8 95.7 229.3 95.7 229.8 95.7 230.4 95.7 230.9 95.8 231.4 95.8 232 95.8 232.5 95.8 233 95.8 233.6 95.9 234.1 95.9 234.6 95.9 235.2 95.9 235.7 95.9 236.2 96 236.8 96 237.3 96 237.8 96 238.4 96 238.9 96.1 239.4 96.1 239.9 96.1 240.5 96.1 241 96.2 241.5 96.2 242.1 96.2 242.6 96.2 243.1 96.3 243.7 96.3 244.2 96.3 244.7 96.3 245.3 96.4 245.8 96.4 246.3 96.4 246.9 96.4 247.4 96.5 247.9 96.5 248.5 96.5 249 96.5 249.5 96.6 250.1 96.6 250.6 96.6 251.1 96.6 251.7 96.7 252.2 96.7 252.7 96.7 253.3 96.8 253.8 96.8 254.3 96.8 254.9 96.8 255.4 96.9 255.9 96.9 256.5 96.9 257 97 257.5 97 258.1 97 258.6 97.1 259.1 97.1 259.7 97.1 260.2 97.2 260.7 97.2 261.3 97.2 261.8 97.3 262.3 97.3 262.9 97.3 263.4 97.4 263.9 97.4 264.5 97.4 265 97.5 265.5 97.5 266.1 97.5 266.6 97.6 267.1 97.6 267.6 97.7 268.2 97.7 268.7 97.7 269.2 97.8 269.8 97.8 270.3 97.9 270.8 97.9 271.4 97.9 271.9 98 272.4 98 273 98.1 273.5 98.1 274 98.2 274.6 98.2 275.1 98.3 275.6 98.3 276.2 98.3 276.7 98.4 277.2 98.4 277.8 98.5 278.3 98.5 278.8 98.6 279.4 98.6 279.9 98.7 280.4 98.7 281 98.8 281.5 98.9 282 98.9 282.6 99 283.1 99 283.6 99.1 284.2 99.1 284.7 99.2 285.2 99.2 285.8 99.3 286.3 99.4 286.8 99.4 287.4 99.5 287.9 99.6 288.4 99.6 289 99.7 289.5 99.7 290 99.8 290.6 99.9 291.1 99.9 291.6 100 292.2 100.1 292.7 100.2 293.2 100.2 293.8 100.3 294.3 100.4 294.8 100.4 295.3 100.5 295.9 100.6 296.4 100.7 296.9 100.8 297.5 100.8 298 100.9 298.5 101 299.1 101.1 299.6 101.2 300.1 101.3 300.7 101.4 301.2 101.4 301.7 101.5 302.3 101.6 302.8 101.7 303.3 101.8 303.9 101.9 304.4 102 304.9 102.1 305.5 102.2 306 102.3 306.5 102.4 307.1 102.5 307.6 102.6 308.1 102.8 308.7 102.9 309.2 103 309.7 103.1 310.3 103.2 310.8 103.3 311.3 103.5 311.9 103.6 312.4 103.7 312.9 103.9 313.5 104 314 104.1 314.5 104.3 315.1 104.4 315.6 104.5 316.1 104.7 316.7 104.8 317.2 105 317.7 105.1 318.3 105.3 318.8 105.5 319.3 105.6 319.9 105.8 320.4 105.9 320.9 106.1 321.5 106.3 322 106.5 322.5 106.7 323 106.8 323.6 107 324.1 107.2 324.6 107.4 325.2 107.6 325.7 107.8 326.2 108 326.8 108.3 327.3 108.5 327.8 108.7 328.4 108.9 328.9 109.2 329.4 109.4 330 109.7 330.5 109.9 331 110.2 331.6 110.4 332.1 110.7 332.6 111 333.2 111.2 333.7 111.5 334.2 111.8 334.8 112.1 335.3 112.4 335.8 112.8 336.4 113.1 336.9 113.4 337.4 113.7 338 114.1 338.5 114.4 339 114.8 339.6 115.2 340.1 115.6 340.6 116 341.2 116.4 341.7 116.8 342.2 117.2 342.8 117.7 343.3 118.1 343.8 118.6 344.4 119.1 344.9 119.5 345.4 120 346 120.6 346.5 121.1 347 121.6 347.6 122.2 348.1 122.8 348.6 123.4 349.2 124 349.7 124.6 350.2 125.3 350.7 126 351.3 126.7 351.8 127.4 352.3 128.1 352.9 128.9 353.4 129.7 353.9 130.5 354.5 131.4 355 132.2 355.5 133.1 356.1 134.1 356.6 135 357.1 136 357.7 137.1 358.2 138.1 358.7 139.2 359.3 140.4 359.8 140 360.3 138.6 360.9 137.3 361.4 136 361.9 134.8 362.5 133.6 363 132.5 363.5 131.4 364.1 130.4 364.6 129.4 365.1 128.4 365.7 127.5 366.2 126.6 366.7 125.8 367.3 124.9 367.8 124.2 368.3 123.4 368.9 122.7 369.4 122 369.9 121.3 370.5 120.6 371 120 371.5 119.4 372.1 118.8 372.6 118.3 373.1 117.7 373.7 117.2 374.2 116.7 374.7 116.2 375.3 115.7 375.8 115.3 376.3 114.9 376.9 114.4 377.4 114 377.9 113.6 378.4 113.3 379 112.9 379.5 112.5 380 112.2 380.6 111.9 381.1 111.5 381.6 111.2 382.2 110.9 382.7 110.7 383.2 110.4 383.8 110.1 384.3 109.8 384.8 109.6 385.4 109.4 385.9 109.1 386.4 108.9 387 108.7 387.5 108.5 388 108.3 388.6 108.1 389.1 107.9 389.6 107.7 390.2 107.5 390.7 107.3 391.2 107.2 391.8 107 392.3 106.9 392.8 106.7 393.4 106.6 393.9 106.4 394.4 106.3 395 106.2 395.5 106 396 105.9 396.6 105.8 397.1 105.7 397.6 105.6 398.2 105.5 398.7 105.4 399.2 105.3 399.8 105.2 400.3 105.1 400.8 105.1 401.4 105 401.9 104.9 402.4 104.8 403 104.8 403.5 104.7 404 104.7 404.6 104.6 405.1 104.5 405.6 104.5 406.1 104.4 406.7 104.4 407.2 104.4 407.7 104.3 408.3 104.3 408.8 104.3 409.3 104.2 409.9 104.2 410.4 104.2 410.9 104.2 411.5 104.2 412 104.2 412.5 104.2 413.1 104.1 413.6 104.1 414.1 104.1 414.7 104.2 415.2 104.2 415.7 104.2 416.3 104.2 416.8 104.2 417.3 104.2 417.9 104.2 418.4 104.3 418.9 104.3 419.5 104.3 420 104.4 420.5 104.4 421.1 104.4 421.6 104.5 422.1 104.5 422.7 104.6 423.2 104.6 423.7 104.7 424.3 104.8 424.8 104.8 425.3 104.9 425.9 105 426.4 105.1 426.9 105.1 427.5 105.2 428 105.3 428.5 105.4 429.1 105.5 429.6 105.6 430.1 105.7 430.7 105.8 431.2 105.9 431.7 106.1 432.3 106.2 432.8 106.3 433.3 106.4 433.8 106.6 434.4 106.7 434.9 106.9 435.4 107 436 107.2 436.5 107.4 437 107.5 437.6 107.7 438.1 107.9 438.6 108.1 439.2 108.3 439.7 108.5 440.2 108.7 440.8 108.9 441.3 109.2 441.8 109.4 442.4 109.6 442.9 109.9 443.4 110.2 444 110.4 444.5 110.7 445 111 445.6 111.3 446.1 111.6 446.6 111.9 447.2 112.3 447.7 112.6 448.2 113 448.8 113.3 449.3 113.7 449.8 114.1 450.4 114.5 450.9 115 451.4 115.4 452 115.9 452.5 116.3 453 116.8 453.6 117.4 454.1 117.9 454.6 118.4 455.2 119 455.7 119.6 456.2 120.2 456.8 120.9 457.3 121.5 457.8 122.2 458.4 122.9 458.9 123.7 459.4 124.4 460 125.2 460.5 126.1 461 126.9 461.5 127.8 462.1 128.8 462.6 129.8 463.1 130.8 463.7 131.8 464.2 132.9 464.7 134.1 465.3 135.3 465.8 136.5 466.3 137.8 466.9 139.1 467.4 140.5 467.9 142 468.5 143.5 469 145 469.5 146.7 470.1 148.4 470.6 150.1 471.1 151.9 471.7 153.8 472.2 155.8 472.7 157.9 473.3 160 473.8 162.2 474.3 164.4 474.9 166.8 475.4 169.2 475.9 171.7 476.5 174.2 477 176.8 477.5 179.5 478.1 182.3 478.6 185.1 479.1 187.9 479.7 190.8 480.2 193.7 480.7 196.6 481.3 199.5 481.8 202.4 482.3 205.2 482.9 206.5 483.4 202.5 483.9 198.7 484.5 195 485 191.5 485.5 188.1 486.1 184.9 486.6 181.8 487.1 178.9 487.7 176.1 488.2 173.4 488.7 170.8 489.2 168.4 489.8 166 490.3 163.7 490.8 161.6 491.4 159.5 491.9 157.5 492.4 155.6 493 153.8 493.5 152 494 150.3 494.6 148.7 495.1 147.2 495.6 145.7 496.2 144.3 496.7 142.9 497.2 141.6 497.8 140.3 498.3 139.1 498.8 137.9 499.4 136.8 499.9 135.7 500.4 134.6 501 133.6 501.5 132.7 502 131.7 502.6 130.8 503.1 129.9 503.6 129.1 504.2 128.3 504.7 127.5 505.2 126.7 505.8 126 506.3 125.2 506.8 124.5 507.4 123.9 507.9 123.2 508.4 122.6 509 122 509.5 121.4 510 120.8 510.6 120.3 511.1 119.7 511.6 119.2 512.2 118.7 512.7 118.2 513.2 117.7 513.8 117.3 514.3 116.8 514.8 116.4 515.4 115.9 515.9 115.5 516.4 115.1 516.9 114.7 517.5 114.3 518 114 518.5 113.6 519.1 113.3 519.6 112.9 520.1 112.6 520.7 112.3 521.2 111.9 521.7 111.6 522.3 111.3 522.8 111 523.3 110.7 523.9 110.5 524.4 110.2 524.9 109.9 525.5 109.6 526 109.4 526.5 109.1 527.1 108.9 527.6 108.7 528.1 108.4 528.7 108.2 529.2 108 529.7 107.8 530.3 107.5 530.8 107.3 531.3 107.1 531.9 106.9 532.4 106.7 532.9 106.5 533.5 106.4 534 106.2 534.5 106 535.1 105.8 535.6 105.6 536.1 105.5 536.7 105.3 537.2 105.1 537.7 105 538.3 104.8 538.8 104.7 539.3 104.5 539.9 104.4 540.4 104.2 540.9 104.1 541.5 104 542 103.8 542.5 103.7 543.1 103.6 543.6 103.4 544.1 103.3 544.6 103.2 545.2 103.1 545.7 102.9 546.2 102.8 546.8 102.7 547.3 102.6 547.8 102.5 548.4 102.4 548.9 102.3 549.4 102.2 550 102 550.5 101.9 551 101.8 551.6 101.7 552.1 101.6 552.6 101.5 553.2 101.5 553.7 101.4 554.2 101.3 554.8 101.2 555.3 101 555.8 100.9 556.4 100.8 556.9 100.7 557.4 100.6 558 100.5 558.5 100.3 559 100.2 559.6 100.1 560.1 100 560.6 99.9 561.2 99.8 561.7 99.7 562.2 99.6 562.8 99.5 563.3 99.5 563.8 99.4 564.4 99.3 564.9 99.2 565.4 99.1 566 99 566.5 98.9 567 98.9 567.6 98.8 568.1 98.7 568.6 98.6 569.2 98.6 569.7 98.5 570.2 98.4 570.8 98.4 571.3 98.3 571.8 98.2 572.3 98.2 572.9 98.1 573.4 98 573.9 98 574.5 97.9 575 97.8 575.5 97.8 576.1 97.7 576.6 97.7 577.1 97.6 577.7 97.6 578.2 97.5 578.7 97.4 579.3 97.4 579.8 97.3 580.3 97.3 580.9 97.2 581.4 97.2 581.9 97.1 582.5 97.1 583 97 583.5 97 584.1 97 584.6 96.9 585.1 96.9 585.7 96.8 586.2 96.8 586.7 96.7 587.3 96.7 587.8 96.7 588.3 96.6 588.9 96.6 589.4 96.5 589.9 96.5 590.5 96.5 591 96.4 591.5 96.4 592.1 96.4 592.6 96.3 593.1 96.3 593.7 96.2 594.2 96.2 594.7 96.2 595.3 96.1 595.8 96.1 596.3 96.1 596.9 96.1 597.4 96 597.9 96 598.5 96 599 95.9 599.5 95.9 600 95.9 600.6 95.8 601.1 95.8 601.6 95.8 602.2 95.8 602.7 95.7 603.2 95.7 603.8 95.7 604.3 95.6 604.8 95.6 605.4 95.6 605.9 95.6 606.4 95.5 607 95.5 607.5 95.5 608 95.5 608.6 95.5 609.1 95.4 609.6 95.4 610.2 95.4 610.7 95.4 611.2 95.3 611.8 95.3 612.3 95.3 612.8 95.3 613.4 95.2 613.9 95.2 614.4 95.2 615 95.2 615.5 95.2 616 95.1 616.6 95.1 617.1 95.1 617.6 95.1 618.2 95.1 618.7 95.1 619.2 95 619.8 95 620.3 95 620.8 95 621.4 95 621.9 94.9 622.4 94.9 623 94.9 623.5 94.9 624 94.9 624.6 94.9 625.1 94.8 625.6 94.8 626.2 94.8 626.7 94.8 627.2 94.8 627.7 94.8 628.3 94.7 628.8 94.7 629.3 94.7 629.9 94.7 630.4 94.7 630.9 94.7 631.5 94.7 632 94.6 632.5 94.6 633.1 94.6 633.6 94.6 634.1 94.6 634.7 94.6 635.2 94.6 635.7 94.5 636.3 94.5 636.8 94.5 637.3 94.5 637.9 94.5 638.4 94.5 638.9 94.5 639.5 94.5 640 94.4 640.5 94.4 641.1 94.4 641.6 94.4 642.1 94.4 642.7 94.4 643.2 94.4 643.7 94.4 644.3 94.3 644.8 94.3 645.3 94.3 645.9 94.3 646.4 94.3 646.9 94.3 647.5 94.3 648 94.3 648.5 94.3 649.1 94.3 649.6 94.2 650.1 94.2 650.7 94.2 651.2 94.2 651.7 94.2 652.3 94.2 652.8 94.2 653.3 94.2 653.9 94.2 654.4 94.2 654.9 94.1 655.4 94.1 656 94.1 656.5 94.1 657 94.1 657.6 94.1 658.1 94.1 658.6 94.1 659.2 94.1 659.7 94.1 660.2 94.1 660.8 94 661.3 94 661.8 94 662.4 94 662.9 94 663.4 94 664 94 664.5 94 665 94 665.6 94 666.1 94 666.6 94 667.2 93.9 667.7 93.9 668.2 93.9 668.8 93.9 669.3 93.9 669.8 93.9 670.4 93.9 670.9 93.9 671.4 93.9 672 93.9 672.5 93.9 673 93.9 673.6 93.9 674.1 93.9 674.6 93.8 675.2 93.8 675.7 93.8 676.2 93.8 676.8 93.8 677.3 93.8 677.8 93.8 678.4 93.8 678.9 93.8 679.4 93.8 680 93.8 680.5 93.8 681 93.8 681.6 93.8 682.1 93.8 682.6 93.7 683.1 93.7 683.7 93.7 684.2 93.7 684.7 93.7 685.3 93.7 685.8 93.7 686.3 93.7 686.9 93.7 687.4 93.7 687.9 93.7 688.5 93.7 689 93.7 689.5 93.7 690.1 93.7 690.6 93.7 691.1 93.7 691.7 93.6 692.2 93.6 692.7 93.6 693.3 93.6 693.8 93.6L693.8 92.5 Z" fill="url(#aGB)" />
<path d="M108.4 92.5L108.4 93.1 108.9 93.1 109.4 93.1 110 93.1 110.5 93.1 111 93.1 111.6 93.1 112.1 93.1 112.6 93.1 113.2 93.1 113.7 93.1 114.2 93.1 114.8 93.1 115.3 93.1 115.8 93.1 116.4 93.1 116.9 93.1 117.4 93.1 118 93.2 118.5 93.2 119 93.2 119.6 93.2 120.1 93.2 120.6 93.2 121.2 93.2 121.7 93.2 122.2 93.2 122.8 93.2 123.3 93.2 123.8 93.2 124.4 93.2 124.9 93.2 125.4 93.2 126 93.2 126.5 93.2 127 93.2 127.6 93.2 128.1 93.2 128.6 93.2 129.1 93.2 129.7 93.2 130.2 93.2 130.7 93.2 131.3 93.2 131.8 93.2 132.3 93.2 132.9 93.2 133.4 93.2 133.9 93.2 134.5 93.2 135 93.2 135.5 93.2 136.1 93.2 136.6 93.3 137.1 93.3 137.7 93.3 138.2 93.3 138.7 93.3 139.3 93.3 139.8 93.3 140.3 93.3 140.9 93.3 141.4 93.3 141.9 93.3 142.5 93.3 143 93.3 143.5 93.3 144.1 93.3 144.6 93.3 145.1 93.3 145.7 93.3 146.2 93.3 146.7 93.3 147.3 93.3 147.8 93.3 148.3 93.3 148.9 93.3 149.4 93.3 149.9 93.3 150.5 93.3 151 93.3 151.5 93.4 152.1 93.4 152.6 93.4 153.1 93.4 153.7 93.4 154.2 93.4 154.7 93.4 155.3 93.4 155.8 93.4 156.3 93.4 156.8 93.4 157.4 93.4 157.9 93.4 158.4 93.4 159 93.4 159.5 93.4 160 93.4 160.6 93.4 161.1 93.4 161.6 93.4 162.2 93.4 162.7 93.4 163.2 93.4 163.8 93.4 164.3 93.5 164.8 93.5 165.4 93.5 165.9 93.5 166.4 93.5 167 93.5 167.5 93.5 168 93.5 168.6 93.5 169.1 93.5 169.6 93.5 170.2 93.5 170.7 93.5 171.2 93.5 171.8 93.5 172.3 93.5 172.8 93.5 173.4 93.5 173.9 93.5 174.4 93.5 175 93.6 175.5 93.6 176 93.6 176.6 93.6 177.1 93.6 177.6 93.6 178.2 93.6 178.7 93.6 179.2 93.6 179.8 93.6 180.3 93.6 180.8 93.6 181.4 93.6 181.9 93.6 182.4 93.6 183 93.6 183.5 93.6 184 93.7 184.5 93.7 185.1 93.7 185.6 93.7 186.1 93.7 186.7 93.7 187.2 93.7 187.7 93.7 188.3 93.7 188.8 93.7 189.3 93.7 189.9 93.7 190.4 93.7 190.9 93.7 191.5 93.7 192 93.8 192.5 93.8 193.1 93.8 193.6 93.8 194.1 93.8 194.7 93.8 195.2 93.8 195.7 93.8 196.3 93.8 196.8 93.8 197.3 93.8 197.9 93.8 198.4 93.8 198.9 93.8 199.5 93.9 200 93.9 200.5 93.9 201.1 93.9 201.6 93.9 202.1 93.9 202.7 93.9 203.2 93.9 203.7 93.9 204.3 93.9 204.8 93.9 205.3 94 205.9 94 206.4 94 206.9 94 207.5 94 208 94 208.5 94 209.1 94 209.6 94 210.1 94 210.7 94 211.2 94.1 211.7 94.1 212.2 94.1 212.8 94.1 213.3 94.1 213.8 94.1 214.4 94.1 214.9 94.1 215.4 94.1 216 94.2 216.5 94.2 217 94.2 217.6 94.2 218.1 94.2 218.6 94.2 219.2 94.2 219.7 94.2 220.2 94.2 220.8 94.3 221.3 94.3 221.8 94.3 222.4 94.3 222.9 94.3 223.4 94.3 224 94.3 224.5 94.3 225 94.4 225.6 94.4 226.1 94.4 226.6 94.4 227.2 94.4 227.7 94.4 228.2 94.4 228.8 94.5 229.3 94.5 229.8 94.5 230.4 94.5 230.9 94.5 231.4 94.5 232 94.5 232.5 94.6 233 94.6 233.6 94.6 234.1 94.6 234.6 94.6 235.2 94.6 235.7 94.7 236.2 94.7 236.8 94.7 237.3 94.7 237.8 94.7 238.4 94.7 238.9 94.8 239.4 94.8 239.9 94.8 240.5 94.8 241 94.8 241.5 94.9 242.1 94.9 242.6 94.9 243.1 94.9 243.7 94.9 244.2 95 244.7 95 245.3 95 245.8 95 246.3 95.1 246.9 95.1 247.4 95.1 247.9 95.1 248.5 95.1 249 95.2 249.5 95.2 250.1 95.2 250.6 95.2 251.1 95.3 251.7 95.3 252.2 95.3 252.7 95.3 253.3 95.4 253.8 95.4 254.3 95.4 254.9 95.4 255.4 95.5 255.9 95.5 256.5 95.5 257 95.6 257.5 95.6 258.1 95.6 258.6 95.7 259.1 95.7 259.7 95.7 260.2 95.7 260.7 95.8 261.3 95.8 261.8 95.8 262.3 95.9 262.9 95.9 263.4 96 263.9 96 264.5 96 265 96.1 265.5 96.1 266.1 96.1 266.6 96.2 267.1 96.2 267.6 96.3 268.2 96.3 268.7 96.3 269.2 96.4 269.8 96.4 270.3 96.5 270.8 96.5 271.4 96.6 271.9 96.6 272.4 96.7 273 96.7 273.5 96.8 274 96.8 274.6 96.9 275.1 96.9 275.6 97 276.2 97 276.7 97.1 277.2 97.1 277.8 97.2 278.3 97.2 278.8 97.3 279.4 97.4 279.9 97.4 280.4 97.5 281 97.6 281.5 97.6 282 97.7 282.6 97.8 283.1 97.8 283.6 97.9 284.2 98 284.7 98.1 285.2 98.1 285.8 98.2 286.3 98.3 286.8 98.4 287.4 98.5 287.9 98.5 288.4 98.6 289 98.7 289.5 98.8 290 98.9 290.6 99 291.1 99.1 291.6 99.2 292.2 99.3 292.7 99.4 293.2 99.5 293.8 99.6 294.3 99.7 294.8 99.9 295.3 100 295.9 100.1 296.4 100.2 296.9 100.3 297.5 100.5 298 100.6 298.5 100.7 299.1 100.9 299.6 101 300.1 101.2 300.7 101.3 301.2 101.5 301.7 101.7 302.3 101.8 302.8 102 303.3 102.2 303.9 102.4 304.4 102.5 304.9 102.7 305.5 102.9 306 103.1 306.5 103.3 307.1 103.6 307.6 103.8 308.1 104 308.7 104.3 309.2 104.5 309.7 104.8 310.3 105 310.8 105.3 311.3 105.6 311.9 105.8 312.4 106.1 312.9 106.4 313.5 106.8 314 107.1 314.5 107.4 315.1 107.8 315.6 108.1 316.1 108.5 316.7 108.9 317.2 109.3 317.7 109.7 318.3 110.2 318.8 110.6 319.3 111.1 319.9 111.6 320.4 112.1 320.9 112.6 321.5 113.1 322 113.7 322.5 114.3 323 114.9 323.6 115.5 324.1 116.2 324.6 116.9 325.2 117.6 325.7 118.3 326.2 119.1 326.8 119.9 327.3 120.8 327.8 121.6 328.4 122.6 328.9 123.5 329.4 124.5 330 125.6 330.5 126.7 331 127.8 331.6 129 332.1 130.2 332.6 131.5 333.2 132.9 333.7 134.3 334.2 135.8 334.8 137.3 335.3 139 335.8 140.6 336.4 142.4 336.9 144.2 337.4 146.1 338 148.1 338.5 150.2 339 152.3 339.6 154.6 340.1 156.9 340.6 159.3 341.2 161.7 341.7 164.3 342.2 166.9 342.8 169.5 343.3 172.2 343.8 175 344.4 177.8 344.9 180.6 345.4 183.4 346 186.2 346.5 189 347 191.7 347.6 194.3 348.1 196.8 348.6 199.2 349.2 201.4 349.7 203.4 350.2 205.2 350.7 206.8 351.3 208 351.8 209 352.3 209.7 352.9 210.1 353.4 210.2 353.9 209.9 354.5 209.4 355 208.5 355.5 207.3 356.1 205.9 356.6 204.2 357.1 202.3 357.7 200.1 358.2 197.8 358.7 195.4 359.3 192.8 359.8 190.2 360.3 187.5 360.9 184.7 361.4 181.9 361.9 179.1 362.5 176.3 363 173.6 363.5 170.9 364.1 168.2 364.6 165.6 365.1 163.1 365.7 160.6 366.2 158.2 366.7 155.9 367.3 153.6 367.8 151.5 368.3 149.4 368.9 147.4 369.4 145.5 369.9 143.7 370.5 141.9 371 140.2 371.5 138.6 372.1 137.1 372.6 135.6 373.1 134.2 373.7 132.8 374.2 131.5 374.7 130.3 375.3 129.1 375.8 127.9 376.3 126.9 376.9 125.8 377.4 124.8 377.9 123.9 378.4 123 379 122.1 379.5 121.3 380 120.5 380.6 119.7 381.1 119 381.6 118.3 382.2 117.6 382.7 116.9 383.2 116.3 383.8 115.7 384.3 115.2 384.8 114.6 385.4 114.1 385.9 113.6 386.4 113.1 387 112.6 387.5 112.2 388 111.8 388.6 111.4 389.1 111 389.6 110.6 390.2 110.2 390.7 109.9 391.2 109.5 391.8 109.2 392.3 108.9 392.8 108.6 393.4 108.3 393.9 108 394.4 107.7 395 107.5 395.5 107.2 396 107 396.6 106.8 397.1 106.5 397.6 106.3 398.2 106.1 398.7 105.9 399.2 105.7 399.8 105.5 400.3 105.4 400.8 105.2 401.4 105 401.9 104.9 402.4 104.7 403 104.6 403.5 104.4 404 104.3 404.6 104.2 405.1 104 405.6 103.9 406.1 103.8 406.7 103.7 407.2 103.6 407.7 103.5 408.3 103.4 408.8 103.3 409.3 103.2 409.9 103.1 410.4 103 410.9 102.9 411.5 102.9 412 102.8 412.5 102.7 413.1 102.7 413.6 102.6 414.1 102.5 414.7 102.5 415.2 102.4 415.7 102.4 416.3 102.3 416.8 102.3 417.3 102.3 417.9 102.2 418.4 102.2 418.9 102.2 419.5 102.1 420 102.1 420.5 102.1 421.1 102.1 421.6 102.1 422.1 102 422.7 102 423.2 102 423.7 102 424.3 102 424.8 102 425.3 102 425.9 102 426.4 102 426.9 102 427.5 102 428 102.1 428.5 102.1 429.1 102.1 429.6 102.1 430.1 102.1 430.7 102.2 431.2 102.2 431.7 102.2 432.3 102.3 432.8 102.3 433.3 102.3 433.8 102.4 434.4 102.4 434.9 102.5 435.4 102.5 436 102.6 436.5 102.7 437 102.7 437.6 102.8 438.1 102.8 438.6 102.9 439.2 103 439.7 103.1 440.2 103.1 440.8 103.2 441.3 103.3 441.8 103.4 442.4 103.5 442.9 103.6 443.4 103.7 444 103.8 444.5 103.9 445 104 445.6 104.2 446.1 104.3 446.6 104.4 447.2 104.5 447.7 104.7 448.2 104.8 448.8 105 449.3 105.1 449.8 105.3 450.4 105.4 450.9 105.6 451.4 105.8 452 105.9 452.5 106.1 453 106.3 453.6 106.5 454.1 106.7 454.6 106.9 455.2 107.1 455.7 107.4 456.2 107.6 456.8 107.8 457.3 108.1 457.8 108.3 458.4 108.6 458.9 108.9 459.4 109.2 460 109.5 460.5 109.8 461 110.1 461.5 110.4 462.1 110.7 462.6 111.1 463.1 111.5 463.7 111.8 464.2 112.2 464.7 112.6 465.3 113 465.8 113.5 466.3 113.9 466.9 114.4 467.4 114.9 467.9 115.4 468.5 115.9 469 116.4 469.5 117 470.1 117.6 470.6 118.2 471.1 118.8 471.7 119.4 472.2 120.1 472.7 120.8 473.3 121.6 473.8 122.3 474.3 123.1 474.9 123.9 475.4 124.8 475.9 125.7 476.5 126.6 477 127.6 477.5 128.6 478.1 129.7 478.6 130.8 479.1 131.9 479.7 133.1 480.2 134.4 480.7 135.7 481.3 137.1 481.8 138.5 482.3 140 482.9 141.5 483.4 143.2 483.9 144.9 484.5 146.6 485 148.5 485.5 150.4 486.1 152.4 486.6 154.5 487.1 156.7 487.7 159 488.2 161.4 488.7 163.9 489.2 166.5 489.8 169.2 490.3 172 490.8 174.9 491.4 177.9 491.9 181 492.4 184.3 493 187.6 493.5 191 494 194.5 494.6 198 495.1 201.7 495.6 205.3 496.2 209.1 496.7 212.8 497.2 216.5 497.8 220.2 498.3 223.8 498.8 227.4 499.4 230.8 499.9 234.1 500.4 237.1 501 240 501.5 242.6 502 244.8 502.6 246.8 503.1 248.4 503.6 249.6 504.2 250.4 504.7 250.8 505.2 250.8 505.8 250.3 506.3 249.5 506.8 248.2 507.4 246.6 507.9 244.6 508.4 242.3 509 239.7 509.5 236.8 510 233.7 510.6 230.4 511.1 227 511.6 223.4 512.2 219.7 512.7 216 513.2 212.3 513.8 208.6 514.3 204.8 514.8 201.1 515.4 197.5 515.9 193.9 516.4 190.4 516.9 187 517.5 183.7 518 180.5 518.5 177.3 519.1 174.3 519.6 171.4 520.1 168.6 520.7 165.9 521.2 163.3 521.7 160.8 522.3 158.4 522.8 156.1 523.3 153.9 523.9 151.8 524.4 149.7 524.9 147.8 525.5 145.9 526 144.1 526.5 142.4 527.1 140.8 527.6 139.2 528.1 137.7 528.7 136.3 529.2 134.9 529.7 133.6 530.3 132.3 530.8 131.1 531.3 129.9 531.9 128.8 532.4 127.8 532.9 126.7 533.5 125.7 534 124.8 534.5 123.9 535.1 123 535.6 122.2 536.1 121.3 536.7 120.6 537.2 119.8 537.7 119.1 538.3 118.4 538.8 117.7 539.3 117.1 539.9 116.5 540.4 115.9 540.9 115.3 541.5 114.7 542 114.2 542.5 113.7 543.1 113.2 543.6 112.7 544.1 112.2 544.6 111.8 545.2 111.3 545.7 110.9 546.2 110.5 546.8 110.1 547.3 109.7 547.8 109.4 548.4 109 548.9 108.7 549.4 108.3 550 108 550.5 107.7 551 107.4 551.6 107.1 552.1 106.8 552.6 106.5 553.2 106.2 553.7 106 554.2 105.7 554.8 105.5 555.3 105.2 555.8 105 556.4 104.7 556.9 104.5 557.4 104.3 558 104.1 558.5 103.9 559 103.7 559.6 103.5 560.1 103.3 560.6 103.1 561.2 102.9 561.7 102.8 562.2 102.6 562.8 102.4 563.3 102.3 563.8 102.1 564.4 101.9 564.9 101.8 565.4 101.6 566 101.5 566.5 101.4 567 101.2 567.6 101.1 568.1 101 568.6 100.8 569.2 100.7 569.7 100.6 570.2 100.5 570.8 100.3 571.3 100.2 571.8 100.1 572.3 100 572.9 99.9 573.4 99.8 573.9 99.7 574.5 99.6 575 99.5 575.5 99.4 576.1 99.3 576.6 99.2 577.1 99.1 577.7 99 578.2 98.9 578.7 98.9 579.3 98.8 579.8 98.7 580.3 98.6 580.9 98.5 581.4 98.5 581.9 98.4 582.5 98.3 583 98.2 583.5 98.2 584.1 98.1 584.6 98 585.1 98 585.7 97.9 586.2 97.8 586.7 97.8 587.3 97.7 587.8 97.6 588.3 97.6 588.9 97.5 589.4 97.5 589.9 97.4 590.5 97.4 591 97.3 591.5 97.2 592.1 97.2 592.6 97.1 593.1 97.1 593.7 97 594.2 97 594.7 96.9 595.3 96.9 595.8 96.8 596.3 96.8 596.9 96.7 597.4 96.7 597.9 96.7 598.5 96.6 599 96.6 599.5 96.5 600 96.5 600.6 96.4 601.1 96.4 601.6 96.4 602.2 96.3 602.7 96.3 603.2 96.3 603.8 96.2 604.3 96.2 604.8 96.1 605.4 96.1 605.9 96.1 606.4 96 607 96 607.5 96 608 95.9 608.6 95.9 609.1 95.9 609.6 95.8 610.2 95.8 610.7 95.8 611.2 95.8 611.8 95.7 612.3 95.7 612.8 95.7 613.4 95.6 613.9 95.6 614.4 95.6 615 95.6 615.5 95.5 616 95.5 616.6 95.5 617.1 95.4 617.6 95.4 618.2 95.4 618.7 95.4 619.2 95.3 619.8 95.3 620.3 95.3 620.8 95.3 621.4 95.3 621.9 95.2 622.4 95.2 623 95.2 623.5 95.2 624 95.1 624.6 95.1 625.1 95.1 625.6 95.1 626.2 95.1 626.7 95 627.2 95 627.7 95 628.3 95 628.8 95 629.3 94.9 629.9 94.9 630.4 94.9 630.9 94.9 631.5 94.9 632 94.8 632.5 94.8 633.1 94.8 633.6 94.8 634.1 94.8 634.7 94.8 635.2 94.7 635.7 94.7 636.3 94.7 636.8 94.7 637.3 94.7 637.9 94.7 638.4 94.6 638.9 94.6 639.5 94.6 640 94.6 640.5 94.6 641.1 94.6 641.6 94.6 642.1 94.5 642.7 94.5 643.2 94.5 643.7 94.5 644.3 94.5 644.8 94.5 645.3 94.5 645.9 94.4 646.4 94.4 646.9 94.4 647.5 94.4 648 94.4 648.5 94.4 649.1 94.4 649.6 94.3 650.1 94.3 650.7 94.3 651.2 94.3 651.7 94.3 652.3 94.3 652.8 94.3 653.3 94.3 653.9 94.3 654.4 94.2 654.9 94.2 655.4 94.2 656 94.2 656.5 94.2 657 94.2 657.6 94.2 658.1 94.2 658.6 94.2 659.2 94.1 659.7 94.1 660.2 94.1 660.8 94.1 661.3 94.1 661.8 94.1 662.4 94.1 662.9 94.1 663.4 94.1 664 94.1 664.5 94 665 94 665.6 94 666.1 94 666.6 94 667.2 94 667.7 94 668.2 94 668.8 94 669.3 94 669.8 94 670.4 93.9 670.9 93.9 671.4 93.9 672 93.9 672.5 93.9 673 93.9 673.6 93.9 674.1 93.9 674.6 93.9 675.2 93.9 675.7 93.9 676.2 93.9 676.8 93.8 677.3 93.8 677.8 93.8 678.4 93.8 678.9 93.8 679.4 93.8 680 93.8 680.5 93.8 681 93.8 681.6 93.8 682.1 93.8 682.6 93.8 683.1 93.8 683.7 93.8 684.2 93.7 684.7 93.7 685.3 93.7 685.8 93.7 686.3 93.7 686.9 93.7 687.4 93.7 687.9 93.7 688.5 93.7 689 93.7 689.5 93.7 690.1 93.7 690.6 93.7 691.1 93.7 691.7 93.7 692.2 93.7 692.7 93.6 693.3 93.6 693.8 93.6L693.8 92.5 Z" fill="url(#aR)" />
<path d="M108.4 92.5L108.4 93.1 108.9 93.1 109.4 93.1 110 93.1 110.5 93.1 111 93.1 111.6 93.1 112.1 93.1 112.6 93.1 113.2 93.1 113.7 93.1 114.2 93.1 114.8 93.1 115.3 93.1 115.8 93.1 116.4 93.1 116.9 93.1 117.4 93.1 118 93.2 118.5 93.2 119 93.2 119.6 93.2 120.1 93.2 120.6 93.2 121.2 93.2 121.7 93.2 122.2 93.2 122.8 93.2 123.3 93.2 123.8 93.2 124.4 93.2 124.9 93.2 125.4 93.2 126 93.2 126.5 93.2 127 93.2 127.6 93.2 128.1 93.2 128.6 93.2 129.1 93.2 129.7 93.2 130.2 93.2 130.7 93.2 131.3 93.2 131.8 93.2 132.3 93.2 132.9 93.2 133.4 93.2 133.9 93.2 134.5 93.2 135 93.2 135.5 93.2 136.1 93.2 136.6 93.3 137.1 93.3 137.7 93.3 138.2 93.3 138.7 93.3 139.3 93.3 139.8 93.3 140.3 93.3 140.9 93.3 141.4 93.3 141.9 93.3 142.5 93.3 143 93.3 143.5 93.3 144.1 93.3 144.6 93.3 145.1 93.3 145.7 93.3 146.2 93.3 146.7 93.3 147.3 93.3 147.8 93.3 148.3 93.3 148.9 93.3 149.4 93.3 149.9 93.3 150.5 93.3 151 93.3 151.5 93.4 152.1 93.4 152.6 93.4 153.1 93.4 153.7 93.4 154.2 93.4 154.7 93.4 155.3 93.4 155.8 93.4 156.3 93.4 156.8 93.4 157.4 93.4 157.9 93.4 158.4 93.4 159 93.4 159.5 93.4 160 93.4 160.6 93.4 161.1 93.4 161.6 93.4 162.2 93.4 162.7 93.4 163.2 93.4 163.8 93.4 164.3 93.5 164.8 93.5 165.4 93.5 165.9 93.5 166.4 93.5 167 93.5 167.5 93.5 168 93.5 168.6 93.5 169.1 93.5 169.6 93.5 170.2 93.5 170.7 93.5 171.2 93.5 171.8 93.5 172.3 93.5 172.8 93.5 173.4 93.5 173.9 93.5 174.4 93.5 175 93.6 175.5 93.6 176 93.6 176.6 93.6 177.1 93.6 177.6 93.6 178.2 93.6 178.7 93.6 179.2 93.6 179.8 93.6 180.3 93.6 180.8 93.6 181.4 93.6 181.9 93.6 182.4 93.6 183 93.6 183.5 93.6 184 93.7 184.5 93.7 185.1 93.7 185.6 93.7 186.1 93.7 186.7 93.7 187.2 93.7 187.7 93.7 188.3 93.7 188.8 93.7 189.3 93.7 189.9 93.7 190.4 93.7 190.9 93.7 191.5 93.7 192 93.8 192.5 93.8 193.1 93.8 193.6 93.8 194.1 93.8 194.7 93.8 195.2 93.8 195.7 93.8 196.3 93.8 196.8 93.8 197.3 93.8 197.9 93.8 198.4 93.8 198.9 93.8 199.5 93.9 200 93.9 200.5 93.9 201.1 93.9 201.6 93.9 202.1 93.9 202.7 93.9 203.2 93.9 203.7 93.9 204.3 93.9 204.8 93.9 205.3 94 205.9 94 206.4 94 206.9 94 207.5 94 208 94 208.5 94 209.1 94 209.6 94 210.1 94 210.7 94 211.2 94.1 211.7 94.1 212.2 94.1 212.8 94.1 213.3 94.1 213.8 94.1 214.4 94.1 214.9 94.1 215.4 94.1 216 94.2 216.5 94.2 217 94.2 217.6 94.2 218.1 94.2 218.6 94.2 219.2 94.2 219.7 94.2 220.2 94.2 220.8 94.3 221.3 94.3 221.8 94.3 222.4 94.3 222.9 94.3 223.4 94.3 224 94.3 224.5 94.3 225 94.4 225.6 94.4 226.1 94.4 226.6 94.4 227.2 94.4 227.7 94.4 228.2 94.4 228.8 94.5 229.3 94.5 229.8 94.5 230.4 94.5 230.9 94.5 231.4 94.5 232 94.5 232.5 94.6 233 94.6 233.6 94.6 234.1 94.6 234.6 94.6 235.2 94.6 235.7 94.7 236.2 94.7 236.8 94.7 237.3 94.7 237.8 94.7 238.4 94.7 238.9 94.8 239.4 94.8 239.9 94.8 240.5 94.8 241 94.8 241.5 94.9 242.1 94.9 242.6 94.9 243.1 94.9 243.7 94.9 244.2 95 244.7 95 245.3 95 245.8 95 246.3 95.1 246.9 95.1 247.4 95.1 247.9 95.1 248.5 95.1 249 95.2 249.5 95.2 250.1 95.2 250.6 95.2 251.1 95.3 251.7 95.3 252.2 95.3 252.7 95.3 253.3 95.4 253.8 95.4 254.3 95.4 254.9 95.4 255.4 95.5 255.9 95.5 256.5 95.5 257 95.6 257.5 95.6 258.1 95.6 258.6 95.7 259.1 95.7 259.7 95.7 260.2 95.7 260.7 95.8 261.3 95.8 261.8 95.8 262.3 95.9 262.9 95.9 263.4 96 263.9 96 264.5 96 265 96.1 265.5 96.1 266.1 96.1 266.6 96.2 267.1 96.2 267.6 96.3 268.2 96.3 268.7 96.3 269.2 96.4 269.8 96.4 270.3 96.5 270.8 96.5 271.4 96.6 271.9 96.6 272.4 96.7 273 96.7 273.5 96.8 274 96.8 274.6 96.9 275.1 96.9 275.6 97 276.2 97 276.7 97.1 277.2 97.1 277.8 97.2 278.3 97.2 278.8 97.3 279.4 97.4 279.9 97.4 280.4 97.5 281 97.6 281.5 97.6 282 97.7 282.6 97.8 283.1 97.8 283.6 97.9 284.2 98 284.7 98.1 285.2 98.1 285.8 98.2 286.3 98.3 286.8 98.4 287.4 98.5 287.9 98.5 288.4 98.6 289 98.7 289.5 98.8 290 98.9 290.6 99 291.1 99.1 291.6 99.2 292.2 99.3 292.7 99.4 293.2 99.5 293.8 99.6 294.3 99.7 294.8 99.9 295.3 100 295.9 100.1 296.4 100.2 296.9 100.3 297.5 100.5 298 100.6 298.5 100.7 299.1 100.9 299.6 101 300.1 101.2 300.7 101.3 301.2 101.4 301.7 101.5 302.3 101.6 302.8 101.7 303.3 101.8 303.9 101.9 304.4 102 304.9 102.1 305.5 102.2 306 102.3 306.5 102.4 307.1 102.5 307.6 102.6 308.1 102.8 308.7 102.9 309.2 103 309.7 103.1 310.3 103.2 310.8 103.3 311.3 103.5 311.9 103.6 312.4 103.7 312.9 103.9 313.5 104 314 104.1 314.5 104.3 315.1 104.4 315.6 104.5 316.1 104.7 316.7 104.8 317.2 105 317.7 105.1 318.3 105.3 318.8 105.5 319.3 105.6 319.9 105.8 320.4 105.9 320.9 106.1 321.5 106.3 322 106.5 322.5 106.7 323 106.8 323.6 107 324.1 107.2 324.6 107.4 325.2 107.6 325.7 107.8 326.2 108 326.8 108.3 327.3 108.5 327.8 108.7 328.4 108.9 328.9 109.2 329.4 109.4 330 109.7 330.5 109.9 331 110.2 331.6 110.4 332.1 110.7 332.6 111 333.2 111.2 333.7 111.5 334.2 111.8 334.8 112.1 335.3 112.4 335.8 112.8 336.4 113.1 336.9 113.4 337.4 113.7 338 114.1 338.5 114.4 339 114.8 339.6 115.2 340.1 115.6 340.6 116 341.2 116.4 341.7 116.8 342.2 117.2 342.8 117.7 343.3 118.1 343.8 118.6 344.4 119.1 344.9 119.5 345.4 120 346 120.6 346.5 121.1 347 121.6 347.6 122.2 348.1 122.8 348.6 123.4 349.2 124 349.7 124.6 350.2 125.3 350.7 126 351.3 126.7 351.8 127.4 352.3 128.1 352.9 128.9 353.4 129.7 353.9 130.5 354.5 131.4 355 132.2 355.5 133.1 356.1 134.1 356.6 135 357.1 136 357.7 137.1 358.2 138.1 358.7 139.2 359.3 140.4 359.8 141.6 360.3 142.8 360.9 144.1 361.4 145.4 361.9 146.8 362.5 148.3 363 149.7 363.5 151.3 364.1 152.9 364.6 154.6 365.1 156.3 365.7 158.2 366.2 158.2 366.7 155.9 367.3 153.6 367.8 151.5 368.3 149.4 368.9 147.4 369.4 145.5 369.9 143.7 370.5 141.9 371 140.2 371.5 138.6 372.1 137.1 372.6 135.6 373.1 134.2 373.7 132.8 374.2 131.5 374.7 130.3 375.3 129.1 375.8 127.9 376.3 126.9 376.9 125.8 377.4 124.8 377.9 123.9 378.4 123 379 122.1 379.5 121.3 380 120.5 380.6 119.7 381.1 119 381.6 118.3 382.2 117.6 382.7 116.9 383.2 116.3 383.8 115.7 384.3 115.2 384.8 114.6 385.4 114.1 385.9 113.6 386.4 113.1 387 112.6 387.5 112.2 388 111.8 388.6 111.4 389.1 111 389.6 110.6 390.2 110.2 390.7 109.9 391.2 109.5 391.8 109.2 392.3 108.9 392.8 108.6 393.4 108.3 393.9 108 394.4 107.7 395 107.5 395.5 107.2 396 107 396.6 106.8 397.1 106.5 397.6 106.3 398.2 106.1 398.7 105.9 399.2 105.7 399.8 105.5 400.3 105.4 400.8 105.2 401.4 105 401.9 104.9 402.4 104.7 403 104.6 403.5 104.4 404 104.3 404.6 104.2 405.1 104 405.6 103.9 406.1 103.8 406.7 103.7 407.2 103.6 407.7 103.5 408.3 103.4 408.8 103.3 409.3 103.2 409.9 103.1 410.4 103 410.9 102.9 411.5 102.9 412 102.8 412.5 102.7 413.1 102.7 413.6 102.6 414.1 102.5 414.7 102.5 415.2 102.4 415.7 102.4 416.3 102.3 416.8 102.3 417.3 102.3 417.9 102.2 418.4 102.2 418.9 102.2 419.5 102.1 420 102.1 420.5 102.1 421.1 102.1 421.6 102.1 422.1 102 422.7 102 423.2 102 423.7 102 424.3 102 424.8 102 425.3 102 425.9 102 426.4 102 426.9 102 427.5 102 428 102.1 428.5 102.1 429.1 102.1 429.6 102.1 430.1 102.1 430.7 102.2 431.2 102.2 431.7 102.2 432.3 102.3 432.8 102.3 433.3 102.3 433.8 102.4 434.4 102.4 434.9 102.5 435.4 102.5 436 102.6 436.5 102.7 437 102.7 437.6 102.8 438.1 102.8 438.6 102.9 439.2 103 439.7 103.1 440.2 103.1 440.8 103.2 441.3 103.3 441.8 103.4 442.4 103.5 442.9 103.6 443.4 103.7 444 103.8 444.5 103.9 445 104 445.6 104.2 446.1 104.3 446.6 104.4 447.2 104.5 447.7 104.7 448.2 104.8 448.8 105 449.3 105.1 449.8 105.3 450.4 105.4 450.9 105.6 451.4 105.8 452 105.9 452.5 106.1 453 106.3 453.6 106.5 454.1 106.7 454.6 106.9 455.2 107.1 455.7 107.4 456.2 107.6 456.8 107.8 457.3 108.1 457.8 108.3 458.4 108.6 458.9 108.9 459.4 109.2 460 109.5 460.5 109.8 461 110.1 461.5 110.4 462.1 110.7 462.6 111.1 463.1 111.5 463.7 111.8 464.2 112.2 464.7 112.6 465.3 113 465.8 113.5 466.3 113.9 466.9 114.4 467.4 114.9 467.9 115.4 468.5 115.9 469 116.4 469.5 117 470.1 117.6 470.6 118.2 471.1 118.8 471.7 119.4 472.2 120.1 472.7 120.8 473.3 121.6 473.8 122.3 474.3 123.1 474.9 123.9 475.4 124.8 475.9 125.7 476.5 126.6 477 127.6 477.5 128.6 478.1 129.7 478.6 130.8 479.1 131.9 479.7 133.1 480.2 134.4 480.7 135.7 481.3 137.1 481.8 138.5 482.3 140 482.9 141.5 483.4 143.2 483.9 144.9 484.5 146.6 485 148.5 485.5 150.4 486.1 152.4 486.6 154.5 487.1 156.7 487.7 159 488.2 161.4 488.7 163.9 489.2 166.5 489.8 166 490.3 163.7 490.8 161.6 491.4 159.5 491.9 157.5 492.4 155.6 493 153.8 493.5 152 494 150.3 494.6 148.7 495.1 147.2 495.6 145.7 496.2 144.3 496.7 142.9 497.2 141.6 497.8 140.3 498.3 139.1 498.8 137.9 499.4 136.8 499.9 135.7 500.4 134.6 501 133.6 501.5 132.7 502 131.7 502.6 130.8 503.1 129.9 503.6 129.1 504.2 128.3 504.7 127.5 505.2 126.7 505.8 126 506.3 125.2 506.8 124.5 507.4 123.9 507.9 123.2 508.4 122.6 509 122 509.5 121.4 510 120.8 510.6 120.3 511.1 119.7 511.6 119.2 512.2 118.7 512.7 118.2 513.2 117.7 513.8 117.3 514.3 116.8 514.8 116.4 515.4 115.9 515.9 115.5 516.4 115.1 516.9 114.7 517.5 114.3 518 114 518.5 113.6 519.1 113.3 519.6 112.9 520.1 112.6 520.7 112.3 521.2 111.9 521.7 111.6 522.3 111.3 522.8 111 523.3 110.7 523.9 110.5 524.4 110.2 524.9 109.9 525.5 109.6 526 109.4 526.5 109.1 527.1 108.9 527.6 108.7 528.1 108.4 528.7 108.2 529.2 108 529.7 107.8 530.3 107.5 530.8 107.3 531.3 107.1 531.9 106.9 532.4 106.7 532.9 106.5 533.5 106.4 534 106.2 534.5 106 535.1 105.8 535.6 105.6 536.1 105.5 536.7 105.3 537.2 105.1 537.7 105 538.3 104.8 538.8 104.7 539.3 104.5 539.9 104.4 540.4 104.2 540.9 104.1 541.5 104 542 103.8 542.5 103.7 543.1 103.6 543.6 103.4 544.1 103.3 544.6 103.2 545.2 103.1 545.7 102.9 546.2 102.8 546.8 102.7 547.3 102.6 547.8 102.5 548.4 102.4 548.9 102.3 549.4 102.2 550 102 550.5 101.9 551 101.8 551.6 101.7 552.1 101.6 552.6 101.5 553.2 101.5 553.7 101.4 554.2 101.3 554.8 101.2 555.3 101.1 555.8 101 556.4 100.9 556.9 100.8 557.4 100.8 558 100.7 558.5 100.6 559 100.5 559.6 100.4 560.1 100.4 560.6 100.3 561.2 100.2 561.7 100.1 562.2 100.1 562.8 100 563.3 99.9 563.8 99.8 564.4 99.8 564.9 99.7 565.4 99.6 566 99.6 566.5 99.5 567 99.5 567.6 99.4 568.1 99.3 568.6 99.3 569.2 99.2 569.7 99.1 570.2 99.1 570.8 99 571.3 99 571.8 98.9 572.3 98.9 572.9 98.8 573.4 98.8 573.9 98.7 574.5 98.7 575 98.6 575.5 98.5 576.1 98.5 576.6 98.4 577.1 98.4 577.7 98.4 578.2 98.3 578.7 98.3 579.3 98.2 579.8 98.2 580.3 98.1 580.9 98.1 581.4 98 581.9 98 582.5 97.9 583 97.9 583.5 97.9 584.1 97.8 584.6 97.8 585.1 97.7 585.7 97.7 586.2 97.7 586.7 97.6 587.3 97.6 587.8 97.5 588.3 97.5 588.9 97.5 589.4 97.4 589.9 97.4 590.5 97.4 591 97.3 591.5 97.2 592.1 97.2 592.6 97.1 593.1 97.1 593.7 97 594.2 97 594.7 96.9 595.3 96.9 595.8 96.8 596.3 96.8 596.9 96.7 597.4 96.7 597.9 96.7 598.5 96.6 599 96.6 599.5 96.5 600 96.5 600.6 96.4 601.1 96.4 601.6 96.4 602.2 96.3 602.7 96.3 603.2 96.3 603.8 96.2 604.3 96.2 604.8 96.1 605.4 96.1 605.9 96.1 606.4 96 607 96 607.5 96 608 95.9 608.6 95.9 609.1 95.9 609.6 95.8 610.2 95.8 610.7 95.8 611.2 95.8 611.8 95.7 612.3 95.7 612.8 95.7 613.4 95.6 613.9 95.6 614.4 95.6 615 95.6 615.5 95.5 616 95.5 616.6 95.5 617.1 95.4 617.6 95.4 618.2 95.4 618.7 95.4 619.2 95.3 619.8 95.3 620.3 95.3 620.8 95.3 621.4 95.3 621.9 95.2 622.4 95.2 623 95.2 623.5 95.2 624 95.1 624.6 95.1 625.1 95.1 625.6 95.1 626.2 95.1 626.7 95 627.2 95 627.7 95 628.3 95 628.8 95 629.3 94.9 629.9 94.9 630.4 94.9 630.9 94.9 631.5 94.9 632 94.8 632.5 94.8 633.1 94.8 633.6 94.8 634.1 94.8 634.7 94.8 635.2 94.7 635.7 94.7 636.3 94.7 636.8 94.7 637.3 94.7 637.9 94.7 638.4 94.6 638.9 94.6 639.5 94.6 640 94.6 640.5 94.6 641.1 94.6 641.6 94.6 642.1 94.5 642.7 94.5 643.2 94.5 643.7 94.5 644.3 94.5 644.8 94.5 645.3 94.5 645.9 94.4 646.4 94.4 646.9 94.4 647.5 94.4 648 94.4 648.5 94.4 649.1 94.4 649.6 94.3 650.1 94.3 650.7 94.3 651.2 94.3 651.7 94.3 652.3 94.3 652.8 94.3 653.3 94.3 653.9 94.3 654.4 94.2 654.9 94.2 655.4 94.2 656 94.2 656.5 94.2 657 94.2 657.6 94.2 658.1 94.2 658.6 94.2 659.2 94.1 659.7 94.1 660.2 94.1 660.8 94.1 661.3 94.1 661.8 94.1 662.4 94.1 662.9 94.1 663.4 94.1 664 94.1 664.5 94 665 94 665.6 94 666.1 94 666.6 94 667.2 94 667.7 94 668.2 94 668.8 94 669.3 94 669.8 94 670.4 93.9 670.9 93.9 671.4 93.9 672 93.9 672.5 93.9 673 93.9 673.6 93.9 674.1 93.9 674.6 93.9 675.2 93.9 675.7 93.9 676.2 93.9 676.8 93.8 677.3 93.8 677.8 93.8 678.4 93.8 678.9 93.8 679.4 93.8 680 93.8 680.5 93.8 681 93.8 681.6 93.8 682.1 93.8 682.6 93.8 683.1 93.8 683.7 93.8 684.2 93.7 684.7 93.7 685.3 93.7 685.8 93.7 686.3 93.7 686.9 93.7 687.4 93.7 687.9 93.7 688.5 93.7 689 93.7 689.5 93.7 690.1 93.7 690.6 93.7 691.1 93.7 691.7 93.7 692.2 93.7 692.7 93.6 693.3 93.6 693.8 93.6L693.8 92.5 Z" fill="url(#aRB)" />
<path d="M108.4 92.5L108.4 93.1 108.9 93.1 109.4 93.1 110 93.1 110.5 93.1 111 93.1 111.6 93.1 112.1 93.1 112.6 93.1 113.2 93.1 113.7 93.1 114.2 93.1 114.8 93.1 115.3 93.1 115.8 93.1 116.4 93.1 116.9 93.1 117.4 93.1 118 93.2 118.5 93.2 119 93.2 119.6 93.2 120.1 93.2 120.6 93.2 121.2 93.2 121.7 93.2 122.2 93.2 122.8 93.2 123.3 93.2 123.8 93.2 124.4 93.2 124.9 93.2 125.4 93.2 126 93.2 126.5 93.2 127 93.2 127.6 93.2 128.1 93.2 128.6 93.2 129.1 93.2 129.7 93.2 130.2 93.2 130.7 93.2 131.3 93.2 131.8 93.2 132.3 93.2 132.9 93.2 133.4 93.2 133.9 93.2 134.5 93.2 135 93.2 135.5 93.2 136.1 93.2 136.6 93.3 137.1 93.3 137.7 93.3 138.2 93.3 138.7 93.3 139.3 93.3 139.8 93.3 140.3 93.3 140.9 93.3 141.4 93.3 141.9 93.3 142.5 93.3 143 93.3 143.5 93.3 144.1 93.3 144.6 93.3 145.1 93.3 145.7 93.3 146.2 93.3 146.7 93.3 147.3 93.3 147.8 93.3 148.3 93.3 148.9 93.3 149.4 93.3 149.9 93.3 150.5 93.3 151 93.3 151.5 93.4 152.1 93.4 152.6 93.4 153.1 93.4 153.7 93.4 154.2 93.4 154.7 93.4 155.3 93.4 155.8 93.4 156.3 93.4 156.8 93.4 157.4 93.4 157.9 93.4 158.4 93.4 159 93.4 159.5 93.4 160 93.4 160.6 93.4 161.1 93.4 161.6 93.4 162.2 93.4 162.7 93.4 163.2 93.4 163.8 93.4 164.3 93.5 164.8 93.5 165.4 93.5 165.9 93.5 166.4 93.5 167 93.5 167.5 93.5 168 93.5 168.6 93.5 169.1 93.5 169.6 93.5 170.2 93.5 170.7 93.5 171.2 93.5 171.8 93.5 172.3 93.5 172.8 93.5 173.4 93.5 173.9 93.5 174.4 93.5 175 93.6 175.5 93.6 176 93.6 176.6 93.6 177.1 93.6 177.6 93.6 178.2 93.6 178.7 93.6 179.2 93.6 179.8 93.6 180.3 93.6 180.8 93.6 181.4 93.6 181.9 93.6 182.4 93.6 183 93.6 183.5 93.6 184 93.7 184.5 93.7 185.1 93.7 185.6 93.7 186.1 93.7 186.7 93.7 187.2 93.7 187.7 93.7 188.3 93.7 188.8 93.7 189.3 93.7 189.9 93.7 190.4 93.7 190.9 93.7 191.5 93.7 192 93.8 192.5 93.8 193.1 93.8 193.6 93.8 194.1 93.8 194.7 93.8 195.2 93.8 195.7 93.8 196.3 93.8 196.8 93.8 197.3 93.8 197.9 93.8 198.4 93.8 198.9 93.8 199.5 93.9 200 93.9 200.5 93.9 201.1 93.9 201.6 93.9 202.1 93.9 202.7 93.9 203.2 93.9 203.7 93.9 204.3 93.9 204.8 93.9 205.3 94 205.9 94 206.4 94 206.9 94 207.5 94 208 94 208.5 94 209.1 94 209.6 94 210.1 94 210.7 94 211.2 94.1 211.7 94.1 212.2 94.1 212.8 94.1 213.3 94.1 213.8 94.1 214.4 94.1 214.9 94.1 215.4 94.1 216 94.2 216.5 94.2 217 94.2 217.6 94.2 218.1 94.2 218.6 94.2 219.2 94.2 219.7 94.2 220.2 94.2 220.8 94.3 221.3 94.3 221.8 94.3 222.4 94.3 222.9 94.3 223.4 94.3 224 94.3 224.5 94.3 225 94.4 225.6 94.4 226.1 94.4 226.6 94.4 227.2 94.4 227.7 94.4 228.2 94.4 228.8 94.5 229.3 94.5 229.8 94.5 230.4 94.5 230.9 94.5 231.4 94.5 232 94.5 232.5 94.6 233 94.6 233.6 94.6 234.1 94.6 234.6 94.6 235.2 94.6 235.7 94.7 236.2 94.7 236.8 94.7 237.3 94.7 237.8 94.7 238.4 94.7 238.9 94.8 239.4 94.8 239.9 94.8 240.5 94.8 241 94.8 241.5 94.9 242.1 94.9 242.6 94.9 243.1 94.9 243.7 94.9 244.2 95 244.7 95 245.3 95 245.8 95 246.3 95.1 246.9 95.1 247.4 95.1 247.9 95.1 248.5 95.1 249 95.2 249.5 95.2 250.1 95.2 250.6 95.2 251.1 95.3 251.7 95.3 252.2 95.3 252.7 95.3 253.3 95.4 253.8 95.4 254.3 95.4 254.9 95.4 255.4 95.5 255.9 95.5 256.5 95.5 257 95.6 257.5 95.6 258.1 95.6 258.6 95.7 259.1 95.7 259.7 95.7 260.2 95.7 260.7 95.8 261.3 95.8 261.8 95.8 262.3 95.9 262.9 95.9 263.4 96 263.9 96 264.5 96 265 96.1 265.5 96.1 266.1 96.1 266.6 96.2 267.1 96.2 267.6 96.3 268.2 96.3 268.7 96.3 269.2 96.4 269.8 96.4 270.3 96.5 270.8 96.5 271.4 96.6 271.9 96.6 272.4 96.7 273 96.7 273.5 96.8 274 96.8 274.6 96.9 275.1 96.9 275.6 97 276.2 97 276.7 97.1 277.2 97.1 277.8 97.2 278.3 97.2 278.8 97.3 279.4 97.4 279.9 97.4 280.4 97.5 281 97.6 281.5 97.6 282 97.7 282.6 97.8 283.1 97.8 283.6 97.9 284.2 98 284.7 98.1 285.2 98.1 285.8 98.2 286.3 98.3 286.8 98.4 287.4 98.5 287.9 98.5 288.4 98.6 289 98.7 289.5 98.8 290 98.9 290.6 99 291.1 99.1 291.6 99.2 292.2 99.3 292.7 99.4 293.2 99.5 293.8 99.6 294.3 99.7 294.8 99.9 295.3 100 295.9 100.1 296.4 100.2 296.9 100.3 297.5 100.5 298 100.6 298.5 100.7 299.1 100.9 299.6 101 300.1 101.2 300.7 101.3 301.2 101.5 301.7 101.7 302.3 101.8 302.8 102 303.3 102.2 303.9 102.4 304.4 102.5 304.9 102.7 305.5 102.9 306 103.1 306.5 103.3 307.1 103.6 307.6 103.8 308.1 104 308.7 104.3 309.2 104.5 309.7 104.8 310.3 105 310.8 105.3 311.3 105.6 311.9 105.8 312.4 106.1 312.9 106.4 313.5 106.8 314 107.1 314.5 107.4 315.1 107.8 315.6 108.1 316.1 108.5 316.7 108.9 317.2 109.3 317.7 109.7 318.3 110.2 318.8 110.6 319.3 111.1 319.9 111.6 320.4 112.1 320.9 112.6 321.5 113.1 322 113.7 322.5 114.3 323 114.9 323.6 115.5 324.1 116.2 324.6 116.9 325.2 117.6 325.7 118.3 326.2 119.1 326.8 119.9 327.3 120.8 327.8 121.6 328.4 122.6 328.9 123.5 329.4 124.5 330 125.6 330.5 126.7 331 127.8 331.6 129 332.1 130.2 332.6 131.5 333.2 132.9 333.7 134.3 334.2 135.8 334.8 137.3 335.3 139 335.8 140.6 336.4 142.4 336.9 144.2 337.4 146.1 338 148.1 338.5 150.2 339 152.3 339.6 154.6 340.1 156.9 340.6 159.3 341.2 161.7 341.7 164.3 342.2 166.9 342.8 169.5 343.3 172.2 343.8 175 344.4 177.8 344.9 180.6 345.4 183.4 346 186.2 346.5 189 347 191.7 347.6 192.2 348.1 189.1 348.6 186 349.2 182.9 349.7 180 350.2 177.1 350.7 174.4 351.3 171.7 351.8 169.1 352.3 166.6 352.9 164.2 353.4 161.9 353.9 159.6 354.5 157.5 355 155.4 355.5 153.4 356.1 151.5 356.6 149.6 357.1 147.9 357.7 146.2 358.2 144.5 358.7 143 359.3 141.5 359.8 140 360.3 138.6 360.9 137.3 361.4 136 361.9 134.8 362.5 133.6 363 132.5 363.5 131.4 364.1 130.4 364.6 129.4 365.1 128.4 365.7 127.5 366.2 126.6 366.7 125.8 367.3 124.9 367.8 124.2 368.3 123.4 368.9 122.7 369.4 122 369.9 121.3 370.5 120.6 371 120 371.5 119.4 372.1 118.8 372.6 118.3 373.1 117.7 373.7 117.2 374.2 116.7 374.7 116.2 375.3 115.7 375.8 115.3 376.3 114.9 376.9 114.4 377.4 114 377.9 113.6 378.4 113.3 379 112.9 379.5 112.5 380 112.2 380.6 111.9 381.1 111.5 381.6 111.2 382.2 110.9 382.7 110.7 383.2 110.4 383.8 110.1 384.3 109.8 384.8 109.6 385.4 109.4 385.9 109.1 386.4 108.9 387 108.7 387.5 108.5 388 108.3 388.6 108.1 389.1 107.9 389.6 107.7 390.2 107.5 390.7 107.3 391.2 107.2 391.8 107 392.3 106.9 392.8 106.7 393.4 106.6 393.9 106.4 394.4 106.3 395 106.2 395.5 106 396 105.9 396.6 105.8 397.1 105.7 397.6 105.6 398.2 105.5 398.7 105.4 399.2 105.3 399.8 105.2 400.3 105.1 400.8 105.1 401.4 105 401.9 104.9 402.4 104.7 403 104.6 403.5 104.4 404 104.3 404.6 104.2 405.1 104 405.6 103.9 406.1 103.8 406.7 103.7 407.2 103.6 407.7 103.5 408.3 103.4 408.8 103.3 409.3 103.2 409.9 103.1 410.4 103 410.9 102.9 411.5 102.9 412 102.8 412.5 102.7 413.1 102.7 413.6 102.6 414.1 102.5 414.7 102.5 415.2 102.4 415.7 102.4 416.3 102.3 416.8 102.3 417.3 102.3 417.9 102.2 418.4 102.2 418.9 102.2 419.5 102.1 420 102.1 420.5 102.1 421.1 102.1 421.6 102.1 422.1 102 422.7 102 423.2 102 423.7 102 424.3 102 424.8 102 425.3 102 425.9 102 426.4 102 426.9 102 427.5 102 428 102.1 428.5 102.1 429.1 102.1 429.6 102.1 430.1 102.1 430.7 102.2 431.2 102.2 431.7 102.2 432.3 102.3 432.8 102.3 433.3 102.3 433.8 102.4 434.4 102.4 434.9 102.5 435.4 102.5 436 102.6 436.5 102.7 437 102.7 437.6 102.8 438.1 102.8 438.6 102.9 439.2 103 439.7 103.1 440.2 103.1 440.8 103.2 441.3 103.3 441.8 103.4 442.4 103.5 442.9 103.6 443.4 103.7 444 103.8 444.5 103.9 445 104 445.6 104.2 446.1 104.3 446.6 104.4 447.2 104.5 447.7 104.7 448.2 104.8 448.8 105 449.3 105.1 449.8 105.3 450.4 105.4 450.9 105.6 451.4 105.8 452 105.9 452.5 106.1 453 106.3 453.6 106.5 454.1 106.7 454.6 106.9 455.2 107.1 455.7 107.4 456.2 107.6 456.8 107.8 457.3 108.1 457.8 108.3 458.4 108.6 458.9 108.9 459.4 109.2 460 109.5 460.5 109.8 461 110.1 461.5 110.4 462.1 110.7 462.6 111.1 463.1 111.5 463.7 111.8 464.2 112.2 464.7 112.6 465.3 113 465.8 113.5 466.3 113.9 466.9 114.4 467.4 114.9 467.9 115.4 468.5 115.9 469 116.4 469.5 117 470.1 117.6 470.6 118.2 471.1 118.8 471.7 119.4 472.2 120.1 472.7 120.8 473.3 121.6 473.8 122.3 474.3 123.1 474.9 123.9 475.4 124.8 475.9 125.7 476.5 126.6 477 127.6 477.5 128.6 478.1 129.7 478.6 130.8 479.1 131.9 479.7 133.1 480.2 134.4 480.7 135.7 481.3 137.1 481.8 138.5 482.3 140 482.9 141.5 483.4 143.2 483.9 144.9 484.5 146.6 485 148.5 485.5 150.4 486.1 152.4 486.6 154.5 487.1 156.7 487.7 159 488.2 161.4 488.7 163.9 489.2 166.5 489.8 169.2 490.3 172 490.8 174.9 491.4 177.9 491.9 181 492.4 184.3 493 187.6 493.5 191 494 194.5 494.6 198 495.1 201.7 495.6 205.3 496.2 209.1 496.7 209.5 497.2 206.7 497.8 203.9 498.3 201 498.8 198.1 499.4 195.1 499.9 192.2 500.4 189.3 501 186.4 501.5 183.6 502 180.8 502.6 178 503.1 175.3 503.6 172.7 504.2 170.2 504.7 167.7 505.2 165.3 505.8 162.9 506.3 160.7 506.8 158.5 507.4 156.4 507.9 154.4 508.4 152.4 509 150.5 509.5 148.7 510 146.9 510.6 145.2 511.1 143.6 511.6 142 512.2 140.5 512.7 139.1 513.2 137.7 513.8 136.3 514.3 135 514.8 133.8 515.4 132.6 515.9 131.4 516.4 130.3 516.9 129.3 517.5 128.2 518 127.3 518.5 126.3 519.1 125.4 519.6 124.5 520.1 123.7 520.7 122.8 521.2 122.1 521.7 121.3 522.3 120.6 522.8 119.9 523.3 119.2 523.9 118.5 524.4 117.9 524.9 117.3 525.5 116.7 526 116.1 526.5 115.5 527.1 115 527.6 114.5 528.1 114 528.7 113.5 529.2 113 529.7 112.6 530.3 112.2 530.8 111.7 531.3 111.3 531.9 110.9 532.4 110.5 532.9 110.2 533.5 109.8 534 109.4 534.5 109.1 535.1 108.8 535.6 108.5 536.1 108.1 536.7 107.8 537.2 107.5 537.7 107.3 538.3 107 538.8 106.7 539.3 106.4 539.9 106.2 540.4 105.9 540.9 105.7 541.5 105.5 542 105.2 542.5 105 543.1 104.8 543.6 104.6 544.1 104.4 544.6 104.2 545.2 104 545.7 103.8 546.2 103.6 546.8 103.4 547.3 103.2 547.8 103.1 548.4 102.9 548.9 102.7 549.4 102.6 550 102.4 550.5 102.3 551 102.1 551.6 102 552.1 101.8 552.6 101.7 553.2 101.5 553.7 101.4 554.2 101.3 554.8 101.2 555.3 101 555.8 100.9 556.4 100.8 556.9 100.7 557.4 100.6 558 100.5 558.5 100.3 559 100.2 559.6 100.1 560.1 100 560.6 99.9 561.2 99.8 561.7 99.7 562.2 99.6 562.8 99.5 563.3 99.5 563.8 99.4 564.4 99.3 564.9 99.2 565.4 99.1 566 99 566.5 98.9 567 98.9 567.6 98.8 568.1 98.7 568.6 98.6 569.2 98.6 569.7 98.5 570.2 98.4 570.8 98.4 571.3 98.3 571.8 98.2 572.3 98.2 572.9 98.1 573.4 98 573.9 98 574.5 97.9 575 97.8 575.5 97.8 576.1 97.7 576.6 97.7 577.1 97.6 577.7 97.6 578.2 97.5 578.7 97.4 579.3 97.4 579.8 97.3 580.3 97.3 580.9 97.2 581.4 97.2 581.9 97.1 582.5 97.1 583 97 583.5 97 584.1 97 584.6 96.9 585.1 96.9 585.7 96.8 586.2 96.8 586.7 96.7 587.3 96.7 587.8 96.7 588.3 96.6 588.9 96.6 589.4 96.5 589.9 96.5 590.5 96.5 591 96.4 591.5 96.4 592.1 96.4 592.6 96.3 593.1 96.3 593.7 96.2 594.2 96.2 594.7 96.2 595.3 96.1 595.8 96.1 596.3 96.1 596.9 96.1 597.4 96 597.9 96 598.5 96 599 95.9 599.5 95.9 600 95.9 600.6 95.8 601.1 95.8 601.6 95.8 602.2 95.8 602.7 95.7 603.2 95.7 603.8 95.7 604.3 95.6 604.8 95.6 605.4 95.6 605.9 95.6 606.4 95.5 607 95.5 607.5 95.5 608 95.5 608.6 95.5 609.1 95.4 609.6 95.4 610.2 95.4 610.7 95.4 611.2 95.3 611.8 95.3 612.3 95.3 612.8 95.3 613.4 95.2 613.9 95.2 614.4 95.2 615 95.2 615.5 95.2 616 95.1 616.6 95.1 617.1 95.1 617.6 95.1 618.2 95.1 618.7 95.1 619.2 95 619.8 95 620.3 95 620.8 95 621.4 95 621.9 94.9 622.4 94.9 623 94.9 623.5 94.9 624 94.9 624.6 94.9 625.1 94.8 625.6 94.8 626.2 94.8 626.7 94.8 627.2 94.8 627.7 94.8 628.3 94.7 628.8 94.7 629.3 94.7 629.9 94.7 630.4 94.7 630.9 94.7 631.5 94.7 632 94.6 632.5 94.6 633.1 94.6 633.6 94.6 634.1 94.6 634.7 94.6 635.2 94.6 635.7 94.5 636.3 94.5 636.8 94.5 637.3 94.5 637.9 94.5 638.4 94.5 638.9 94.5 639.5 94.5 640 94.4 640.5 94.4 641.1 94.4 641.6 94.4 642.1 94.4 642.7 94.4 643.2 94.4 643.7 94.4 644.3 94.3 644.8 94.3 645.3 94.3 645.9 94.3 646.4 94.3 646.9 94.3 647.5 94.3 648 94.3 648.5 94.3 649.1 94.3 649.6 94.2 650.1 94.2 650.7 94.2 651.2 94.2 651.7 94.2 652.3 94.2 652.8 94.2 653.3 94.2 653.9 94.2 654.4 94.2 654.9 94.1 655.4 94.1 656 94.1 656.5 94.1 657 94.1 657.6 94.1 658.1 94.1 658.6 94.1 659.2 94.1 659.7 94.1 660.2 94.1 660.8 94 661.3 94 661.8 94 662.4 94 662.9 94 663.4 94 664 94 664.5 94 665 94 665.6 94 666.1 94 666.6 94 667.2 93.9 667.7 93.9 668.2 93.9 668.8 93.9 669.3 93.9 669.8 93.9 670.4 93.9 670.9 93.9 671.4 93.9 672 93.9 672.5 93.9 673 93.9 673.6 93.9 674.1 93.9 674.6 93.8 675.2 93.8 675.7 93.8 676.2 93.8 676.8 93.8 677.3 93.8 677.8 93.8 678.4 93.8 678.9 93.8 679.4 93.8 680 93.8 680.5 93.8 681 93.8 681.6 93.8 682.1 93.8 682.6 93.7 683.1 93.7 683.7 93.7 684.2 93.7 684.7 93.7 685.3 93.7 685.8 93.7 686.3 93.7 686.9 93.7 687.4 93.7 687.9 93.7 688.5 93.7 689 93.7 689.5 93.7 690.1 93.7 690.6 93.7 691.1 93.7 691.7 93.6 692.2 93.6 692.7 93.6 693.3 93.6 693.8 93.6L693.8 92.5 Z" fill="url(#aRG)" />
<path d="M108.4 92.5L108.4 93.1 108.9 93.1 109.4 93.1 110 93.1 110.5 93.1 111 93.1 111.6 93.1 112.1 93.1 112.6 93.1 113.2 93.1 113.7 93.1 114.2 93.1 114.8 93.1 115.3 93.1 115.8 93.1 116.4 93.1 116.9 93.1 117.4 93.1 118 93.2 118.5 93.2 119 93.2 119.6 93.2 120.1 93.2 120.6 93.2 121.2 93.2 121.7 93.2 122.2 93.2 122.8 93.2 123.3 93.2 123.8 93.2 124.4 93.2 124.9 93.2 125.4 93.2 126 93.2 126.5 93.2 127 93.2 127.6 93.2 128.1 93.2 128.6 93.2 129.1 93.2 129.7 93.2 130.2 93.2 130.7 93.2 131.3 93.2 131.8 93.2 132.3 93.2 132.9 93.2 133.4 93.2 133.9 93.2 134.5 93.2 135 93.2 135.5 93.2 136.1 93.2 136.6 93.3 137.1 93.3 137.7 93.3 138.2 93.3 138.7 93.3 139.3 93.3 139.8 93.3 140.3 93.3 140.9 93.3 141.4 93.3 141.9 93.3 142.5 93.3 143 93.3 143.5 93.3 144.1 93.3 144.6 93.3 145.1 93.3 145.7 93.3 146.2 93.3 146.7 93.3 147.3 93.3 147.8 93.3 148.3 93.3 148.9 93.3 149.4 93.3 149.9 93.3 150.5 93.3 151 93.3 151.5 93.4 152.1 93.4 152.6 93.4 153.1 93.4 153.7 93.4 154.2 93.4 154.7 93.4 155.3 93.4 155.8 93.4 156.3 93.4 156.8 93.4 157.4 93.4 157.9 93.4 158.4 93.4 159 93.4 159.5 93.4 160 93.4 160.6 93.4 161.1 93.4 161.6 93.4 162.2 93.4 162.7 93.4 163.2 93.4 163.8 93.4 164.3 93.5 164.8 93.5 165.4 93.5 165.9 93.5 166.4 93.5 167 93.5 167.5 93.5 168 93.5 168.6 93.5 169.1 93.5 169.6 93.5 170.2 93.5 170.7 93.5 171.2 93.5 171.8 93.5 172.3 93.5 172.8 93.5 173.4 93.5 173.9 93.5 174.4 93.5 175 93.6 175.5 93.6 176 93.6 176.6 93.6 177.1 93.6 177.6 93.6 178.2 93.6 178.7 93.6 179.2 93.6 179.8 93.6 180.3 93.6 180.8 93.6 181.4 93.6 181.9 93.6 182.4 93.6 183 93.6 183.5 93.6 184 93.7 184.5 93.7 185.1 93.7 185.6 93.7 186.1 93.7 186.7 93.7 187.2 93.7 187.7 93.7 188.3 93.7 188.8 93.7 189.3 93.7 189.9 93.7 190.4 93.7 190.9 93.7 191.5 93.7 192 93.8 192.5 93.8 193.1 93.8 193.6 93.8 194.1 93.8 194.7 93.8 195.2 93.8 195.7 93.8 196.3 93.8 196.8 93.8 197.3 93.8 197.9 93.8 198.4 93.8 198.9 93.8 199.5 93.9 200 93.9 200.5 93.9 201.1 93.9 201.6 93.9 202.1 93.9 202.7 93.9 203.2 93.9 203.7 93.9 204.3 93.9 204.8 93.9 205.3 94 205.9 94 206.4 94 206.9 94 207.5 94 208 94 208.5 94 209.1 94 209.6 94 210.1 94 210.7 94 211.2 94.1 211.7 94.1 212.2 94.1 212.8 94.1 213.3 94.1 213.8 94.1 214.4 94.1 214.9 94.1 215.4 94.1 216 94.2 216.5 94.2 217 94.2 217.6 94.2 218.1 94.2 218.6 94.2 219.2 94.2 219.7 94.2 220.2 94.2 220.8 94.3 221.3 94.3 221.8 94.3 222.4 94.3 222.9 94.3 223.4 94.3 224 94.3 224.5 94.3 225 94.4 225.6 94.4 226.1 94.4 226.6 94.4 227.2 94.4 227.7 94.4 228.2 94.4 228.8 94.5 229.3 94.5 229.8 94.5 230.4 94.5 230.9 94.5 231.4 94.5 232 94.5 232.5 94.6 233 94.6 233.6 94.6 234.1 94.6 234.6 94.6 235.2 94.6 235.7 94.7 236.2 94.7 236.8 94.7 237.3 94.7 237.8 94.7 238.4 94.7 238.9 94.8 239.4 94.8 239.9 94.8 240.5 94.8 241 94.8 241.5 94.9 242.1 94.9 242.6 94.9 243.1 94.9 243.7 94.9 244.2 95 244.7 95 245.3 95 245.8 95 246.3 95.1 246.9 95.1 247.4 95.1 247.9 95.1 248.5 95.1 249 95.2 249.5 95.2 250.1 95.2 250.6 95.2 251.1 95.3 251.7 95.3 252.2 95.3 252.7 95.3 253.3 95.4 253.8 95.4 254.3 95.4 254.9 95.4 255.4 95.5 255.9 95.5 256.5 95.5 257 95.6 257.5 95.6 258.1 95.6 258.6 95.7 259.1 95.7 259.7 95.7 260.2 95.7 260.7 95.8 261.3 95.8 261.8 95.8 262.3 95.9 262.9 95.9 263.4 96 263.9 96 264.5 96 265 96.1 265.5 96.1 266.1 96.1 266.6 96.2 267.1 96.2 267.6 96.3 268.2 96.3 268.7 96.3 269.2 96.4 269.8 96.4 270.3 96.5 270.8 96.5 271.4 96.6 271.9 96.6 272.4 96.7 273 96.7 273.5 96.8 274 96.8 274.6 96.9 275.1 96.9 275.6 97 276.2 97 276.7 97.1 277.2 97.1 277.8 97.2 278.3 97.2 278.8 97.3 279.4 97.4 279.9 97.4 280.4 97.5 281 97.6 281.5 97.6 282 97.7 282.6 97.8 283.1 97.8 283.6 97.9 284.2 98 284.7 98.1 285.2 98.1 285.8 98.2 286.3 98.3 286.8 98.4 287.4 98.5 287.9 98.5 288.4 98.6 289 98.7 289.5 98.8 290 98.9 290.6 99 291.1 99.1 291.6 99.2 292.2 99.3 292.7 99.4 293.2 99.5 293.8 99.6 294.3 99.7 294.8 99.9 295.3 100 295.9 100.1 296.4 100.2 296.9 100.3 297.5 100.5 298 100.6 298.5 100.7 299.1 100.9 299.6 101 300.1 101.2 300.7 101.3 301.2 101.4 301.7 101.5 302.3 101.6 302.8 101.7 303.3 101.8 303.9 101.9 304.4 102 304.9 102.1 305.5 102.2 306 102.3 306.5 102.4 307.1 102.5 307.6 102.6 308.1 102.8 308.7 102.9 309.2 103 309.7 103.1 310.3 103.2 310.8 103.3 311.3 103.5 311.9 103.6 312.4 103.7 312.9 103.9 313.5 104 314 104.1 314.5 104.3 315.1 104.4 315.6 104.5 316.1 104.7 316.7 104.8 317.2 105 317.7 105.1 318.3 105.3 318.8 105.5 319.3 105.6 319.9 105.8 320.4 105.9 320.9 106.1 321.5 106.3 322 106.5 322.5 106.7 323 106.8 323.6 107 324.1 107.2 324.6 107.4 325.2 107.6 325.7 107.8 326.2 108 326.8 108.3 327.3 108.5 327.8 108.7 328.4 108.9 328.9 109.2 329.4 109.4 330 109.7 330.5 109.9 331 110.2 331.6 110.4 332.1 110.7 332.6 111 333.2 111.2 333.7 111.5 334.2 111.8 334.8 112.1 335.3 112.4 335.8 112.8 336.4 113.1 336.9 113.4 337.4 113.7 338 114.1 338.5 114.4 339 114.8 339.6 115.2 340.1 115.6 340.6 116 341.2 116.4 341.7 116.8 342.2 117.2 342.8 117.7 343.3 118.1 343.8 118.6 344.4 119.1 344.9 119.5 345.4 120 346 120.6 346.5 121.1 347 121.6 347.6 122.2 348.1 122.8 348.6 123.4 349.2 124 349.7 124.6 350.2 125.3 350.7 126 351.3 126.7 351.8 127.4 352.3 128.1 352.9 128.9 353.4 129.7 353.9 130.5 354.5 131.4 355 132.2 355.5 133.1 356.1 134.1 356.6 135 357.1 136 357.7 137.1 358.2 138.1 358.7 139.2 359.3 140.4 359.8 140 360.3 138.6 360.9 137.3 361.4 136 361.9 134.8 362.5 133.6 363 132.5 363.5 131.4 364.1 130.4 364.6 129.4 365.1 128.4 365.7 127.5 366.2 126.6 366.7 125.8 367.3 124.9 367.8 124.2 368.3 123.4 368.9 122.7 369.4 122 369.9 121.3 370.5 120.6 371 120 371.5 119.4 372.1 118.8 372.6 118.3 373.1 117.7 373.7 117.2 374.2 116.7 374.7 116.2 375.3 115.7 375.8 115.3 376.3 114.9 376.9 114.4 377.4 114 377.9 113.6 378.4 113.3 379 112.9 379.5 112.5 380 112.2 380.6 111.9 381.1 111.5 381.6 111.2 382.2 110.9 382.7 110.7 383.2 110.4 383.8 110.1 384.3 109.8 384.8 109.6 385.4 109.4 385.9 109.1 386.4 108.9 387 108.7 387.5 108.5 388 108.3 388.6 108.1 389.1 107.9 389.6 107.7 390.2 107.5 390.7 107.3 391.2 107.2 391.8 107 392.3 106.9 392.8 106.7 393.4 106.6 393.9 106.4 394.4 106.3 395 106.2 395.5 106 396 105.9 396.6 105.8 397.1 105.7 397.6 105.6 398.2 105.5 398.7 105.4 399.2 105.3 399.8 105.2 400.3 105.1 400.8 105.1 401.4 105 401.9 104.9 402.4 104.7 403 104.6 403.5 104.4 404 104.3 404.6 104.2 405.1 104 405.6 103.9 406.1 103.8 406.7 103.7 407.2 103.6 407.7 103.5 408.3 103.4 408.8 103.3 409.3 103.2 409.9 103.1 410.4 103 410.9 102.9 411.5 102.9 412 102.8 412.5 102.7 413.1 102.7 413.6 102.6 414.1 102.5 414.7 102.5 415.2 102.4 415.7 102.4 416.3 102.3 416.8 102.3 417.3 102.3 417.9 102.2 418.4 102.2 418.9 102.2 419.5 102.1 420 102.1 420.5 102.1 421.1 102.1 421.6 102.1 422.1 102 422.7 102 423.2 102 423.7 102 424.3 102 424.8 102 425.3 102 425.9 102 426.4 102 426.9 102 427.5 102 428 102.1 428.5 102.1 429.1 102.1 429.6 102.1 430.1 102.1 430.7 102.2 431.2 102.2 431.7 102.2 432.3 102.3 432.8 102.3 433.3 102.3 433.8 102.4 434.4 102.4 434.9 102.5 435.4 102.5 436 102.6 436.5 102.7 437 102.7 437.6 102.8 438.1 102.8 438.6 102.9 439.2 103 439.7 103.1 440.2 103.1 440.8 103.2 441.3 103.3 441.8 103.4 442.4 103.5 442.9 103.6 443.4 103.7 444 103.8 444.5 103.9 445 104 445.6 104.2 446.1 104.3 446.6 104.4 447.2 104.5 447.7 104.7 448.2 104.8 448.8 105 449.3 105.1 449.8 105.3 450.4 105.4 450.9 105.6 451.4 105.8 452 105.9 452.5 106.1 453 106.3 453.6 106.5 454.1 106.7 454.6 106.9 455.2 107.1 455.7 107.4 456.2 107.6 456.8 107.8 457.3 108.1 457.8 108.3 458.4 108.6 458.9 108.9 459.4 109.2 460 109.5 460.5 109.8 461 110.1 461.5 110.4 462.1 110.7 462.6 111.1 463.1 111.5 463.7 111.8 464.2 112.2 464.7 112.6 465.3 113 465.8 113.5 466.3 113.9 466.9 114.4 467.4 114.9 467.9 115.4 468.5 115.9 469 116.4 469.5 117 470.1 117.6 470.6 118.2 471.1 118.8 471.7 119.4 472.2 120.1 472.7 120.8 473.3 121.6 473.8 122.3 474.3 123.1 474.9 123.9 475.4 124.8 475.9 125.7 476.5 126.6 477 127.6 477.5 128.6 478.1 129.7 478.6 130.8 479.1 131.9 479.7 133.1 480.2 134.4 480.7 135.7 481.3 137.1 481.8 138.5 482.3 140 482.9 141.5 483.4 143.2 483.9 144.9 484.5 146.6 485 148.5 485.5 150.4 486.1 152.4 486.6 154.5 487.1 156.7 487.7 159 488.2 161.4 488.7 163.9 489.2 166.5 489.8 166 490.3 163.7 490.8 161.6 491.4 159.5 491.9 157.5 492.4 155.6 493 153.8 493.5 152 494 150.3 494.6 148.7 495.1 147.2 495.6 145.7 496.2 144.3 496.7 142.9 497.2 141.6 497.8 140.3 498.3 139.1 498.8 137.9 499.4 136.8 499.9 135.7 500.4 134.6 501 133.6 501.5 132.7 502 131.7 502.6 130.8 503.1 129.9 503.6 129.1 504.2 128.3 504.7 127.5 505.2 126.7 505.8 126 506.3 125.2 506.8 124.5 507.4 123.9 507.9 123.2 508.4 122.6 509 122 509.5 121.4 510 120.8 510.6 120.3 511.1 119.7 511.6 119.2 512.2 118.7 512.7 118.2 513.2 117.7 513.8 117.3 514.3 116.8 514.8 116.4 515.4 115.9 515.9 115.5 516.4 115.1 516.9 114.7 517.5 114.3 518 114 518.5 113.6 519.1 113.3 519.6 112.9 520.1 112.6 520.7 112.3 521.2 111.9 521.7 111.6 522.3 111.3 522.8 111 523.3 110.7 523.9 110.5 524.4 110.2 524.9 109.9 525.5 109.6 526 109.4 526.5 109.1 527.1 108.9 527.6 108.7 528.1 108.4 528.7 108.2 529.2 108 529.7 107.8 530.3 107.5 530.8 107.3 531.3 107.1 531.9 106.9 532.4 106.7 532.9 106.5 533.5 106.4 534 106.2 534.5 106 535.1 105.8 535.6 105.6 536.1 105.5 536.7 105.3 537.2 105.1 537.7 105 538.3 104.8 538.8 104.7 539.3 104.5 539.9 104.4 540.4 104.2 540.9 104.1 541.5 104 542 103.8 542.5 103.7 543.1 103.6 543.6 103.4 544.1 103.3 544.6 103.2 545.2 103.1 545.7 102.9 546.2 102.8 546.8 102.7 547.3 102.6 547.8 102.5 548.4 102.4 548.9 102.3 549.4 102.2 550 102 550.5 101.9 551 101.8 551.6 101.7 552.1 101.6 552.6 101.5 553.2 101.5 553.7 101.4 554.2 101.3 554.8 101.2 555.3 101 555.8 100.9 556.4 100.8 556.9 100.7 557.4 100.6 558 100.5 558.5 100.3 559 100.2 559.6 100.1 560.1 100 560.6 99.9 561.2 99.8 561.7 99.7 562.2 99.6 562.8 99.5 563.3 99.5 563.8 99.4 564.4 99.3 564.9 99.2 565.4 99.1 566 99 566.5 98.9 567 98.9 567.6 98.8 568.1 98.7 568.6 98.6 569.2 98.6 569.7 98.5 570.2 98.4 570.8 98.4 571.3 98.3 571.8 98.2 572.3 98.2 572.9 98.1 573.4 98 573.9 98 574.5 97.9 575 97.8 575.5 97.8 576.1 97.7 576.6 97.7 577.1 97.6 577.7 97.6 578.2 97.5 578.7 97.4 579.3 97.4 579.8 97.3 580.3 97.3 580.9 97.2 581.4 97.2 581.9 97.1 582.5 97.1 583 97 583.5 97 584.1 97 584.6 96.9 585.1 96.9 585.7 96.8 586.2 96.8 586.7 96.7 587.3 96.7 587.8 96.7 588.3 96.6 588.9 96.6 589.4 96.5 589.9 96.5 590.5 96.5 591 96.4 591.5 96.4 592.1 96.4 592.6 96.3 593.1 96.3 593.7 96.2 594.2 96.2 594.7 96.2 595.3 96.1 595.8 96.1 596.3 96.1 596.9 96.1 597.4 96 597.9 96 598.5 96 599 95.9 599.5 95.9 600 95.9 600.6 95.8 601.1 95.8 601.6 95.8 602.2 95.8 602.7 95.7 603.2 95.7 603.8 95.7 604.3 95.6 604.8 95.6 605.4 95.6 605.9 95.6 606.4 95.5 607 95.5 607.5 95.5 608 95.5 608.6 95.5 609.1 95.4 609.6 95.4 610.2 95.4 610.7 95.4 611.2 95.3 611.8 95.3 612.3 95.3 612.8 95.3 613.4 95.2 613.9 95.2 614.4 95.2 615 95.2 615.5 95.2 616 95.1 616.6 95.1 617.1 95.1 617.6 95.1 618.2 95.1 618.7 95.1 619.2 95 619.8 95 620.3 95 620.8 95 621.4 95 621.9 94.9 622.4 94.9 623 94.9 623.5 94.9 624 94.9 624.6 94.9 625.1 94.8 625.6 94.8 626.2 94.8 626.7 94.8 627.2 94.8 627.7 94.8 628.3 94.7 628.8 94.7 629.3 94.7 629.9 94.7 630.4 94.7 630.9 94.7 631.5 94.7 632 94.6 632.5 94.6 633.1 94.6 633.6 94.6 634.1 94.6 634.7 94.6 635.2 94.6 635.7 94.5 636.3 94.5 636.8 94.5 637.3 94.5 637.9 94.5 638.4 94.5 638.9 94.5 639.5 94.5 640 94.4 640.5 94.4 641.1 94.4 641.6 94.4 642.1 94.4 642.7 94.4 643.2 94.4 643.7 94.4 644.3 94.3 644.8 94.3 645.3 94.3 645.9 94.3 646.4 94.3 646.9 94.3 647.5 94.3 648 94.3 648.5 94.3 649.1 94.3 649.6 94.2 650.1 94.2 650.7 94.2 651.2 94.2 651.7 94.2 652.3 94.2 652.8 94.2 653.3 94.2 653.9 94.2 654.4 94.2 654.9 94.1 655.4 94.1 656 94.1 656.5 94.1 657 94.1 657.6 94.1 658.1 94.1 658.6 94.1 659.2 94.1 659.7 94.1 660.2 94.1 660.8 94 661.3 94 661.8 94 662.4 94 662.9 94 663.4 94 664 94 664.5 94 665 94 665.6 94 666.1 94 666.6 94 667.2 93.9 667.7 93.9 668.2 93.9 668.8 93.9 669.3 93.9 669.8 93.9 670.4 93.9 670.9 93.9 671.4 93.9 672 93.9 672.5 93.9 673 93.9 673.6 93.9 674.1 93.9 674.6 93.8 675.2 93.8 675.7 93.8 676.2 93.8 676.8 93.8 677.3 93.8 677.8 93.8 678.4 93.8 678.9 93.8 679.4 93.8 680 93.8 680.5 93.8 681 93.8 681.6 93.8 682.1 93.8 682.6 93.7 683.1 93.7 683.7 93.7 684.2 93.7 684.7 93.7 685.3 93.7 685.8 93.7 686.3 93.7 686.9 93.7 687.4 93.7 687.9 93.7 688.5 93.7 689 93.7 689.5 93.7 690.1 93.7 690.6 93.7 691.1 93.7 691.7 93.6 692.2 93.6 692.7 93.6 693.3 93.6 693.8 93.6L693.8 92.5 Z" fill="url(#aRGB)" />
<path d="M174.5 92.5H648.6" stroke="#7a7432" stroke-width="1.2" fill="none"/>
<path d="M108.4 95.2 108.9 95.2 109.4 95.2 110 95.3 110.5 95.3 111 95.3 111.6 95.3 112.1 95.3 112.6 95.3 113.2 95.3 113.7 95.3 114.2 95.3 114.8 95.3 115.3 95.4 115.8 95.4 116.4 95.4 116.9 95.4 117.4 95.4 118 95.4 118.5 95.4 119 95.4 119.6 95.5 120.1 95.5 120.6 95.5 121.2 95.5 121.7 95.5 122.2 95.5 122.8 95.5 123.3 95.5 123.8 95.5 124.4 95.6 124.9 95.6 125.4 95.6 126 95.6 126.5 95.6 127 95.6 127.6 95.6 128.1 95.6 128.6 95.7 129.1 95.7 129.7 95.7 130.2 95.7 130.7 95.7 131.3 95.7 131.8 95.7 132.3 95.8 132.9 95.8 133.4 95.8 133.9 95.8 134.5 95.8 135 95.8 135.5 95.8 136.1 95.9 136.6 95.9 137.1 95.9 137.7 95.9 138.2 95.9 138.7 95.9 139.3 95.9 139.8 96 140.3 96 140.9 96 141.4 96 141.9 96 142.5 96 143 96 143.5 96.1 144.1 96.1 144.6 96.1 145.1 96.1 145.7 96.1 146.2 96.1 146.7 96.2 147.3 96.2 147.8 96.2 148.3 96.2 148.9 96.2 149.4 96.2 149.9 96.3 150.5 96.3 151 96.3 151.5 96.3 152.1 96.3 152.6 96.3 153.1 96.4 153.7 96.4 154.2 96.4 154.7 96.4 155.3 96.4 155.8 96.4 156.3 96.5 156.8 96.5 157.4 96.5 157.9 96.5 158.4 96.5 159 96.6 159.5 96.6 160 96.6 160.6 96.6 161.1 96.6 161.6 96.7 162.2 96.7 162.7 96.7 163.2 96.7 163.8 96.7 164.3 96.8 164.8 96.8 165.4 96.8 165.9 96.8 166.4 96.8 167 96.9 167.5 96.9 168 96.9 168.6 96.9 169.1 97 169.6 97 170.2 97 170.7 97 171.2 97 171.8 97.1 172.3 97.1 172.8 97.1 173.4 97.1 173.9 97.2 174.4 97.2 175 97.2 175.5 97.2 176 97.3 176.6 97.3 177.1 97.3 177.6 97.3 178.2 97.4 178.7 97.4 179.2 97.4 179.8 97.4 180.3 97.5 180.8 97.5 181.4 97.5 181.9 97.5 182.4 97.6 183 97.6 183.5 97.6 184 97.7 184.5 97.7 185.1 97.7 185.6 97.7 186.1 97.8 186.7 97.8 187.2 97.8 187.7 97.9 188.3 97.9 188.8 97.9 189.3 97.9 189.9 98 190.4 98 190.9 98 191.5 98.1 192 98.1 192.5 98.1 193.1 98.2 193.6 98.2 194.1 98.2 194.7 98.3 195.2 98.3 195.7 98.3 196.3 98.4 196.8 98.4 197.3 98.4 197.9 98.5 198.4 98.5 198.9 98.5 199.5 98.6 200 98.6 200.5 98.7 201.1 98.7 201.6 98.7 202.1 98.8 202.7 98.8 203.2 98.8 203.7 98.9 204.3 98.9 204.8 99 205.3 99 205.9 99 206.4 99.1 206.9 99.1 207.5 99.2 208 99.2 208.5 99.3 209.1 99.3 209.6 99.3 210.1 99.4 210.7 99.4 211.2 99.5 211.7 99.5 212.2 99.6 212.8 99.6 213.3 99.7 213.8 99.7 214.4 99.8 214.9 99.8 215.4 99.9 216 99.9 216.5 100 217 100 217.6 100.1 218.1 100.1 218.6 100.2 219.2 100.2 219.7 100.3 220.2 100.3 220.8 100.4 221.3 100.4 221.8 100.5 222.4 100.5 222.9 100.6 223.4 100.7 224 100.7 224.5 100.8 225 100.8 225.6 100.9 226.1 101 226.6 101 227.2 101.1 227.7 101.1 228.2 101.2 228.8 101.3 229.3 101.3 229.8 101.4 230.4 101.5 230.9 101.5 231.4 101.6 232 101.7 232.5 101.8 233 101.8 233.6 101.9 234.1 102 234.6 102 235.2 102.1 235.7 102.2 236.2 102.3 236.8 102.4 237.3 102.4 237.8 102.5 238.4 102.6 238.9 102.7 239.4 102.8 239.9 102.9 240.5 102.9 241 103 241.5 103.1 242.1 103.2 242.6 103.3 243.1 103.4 243.7 103.5 244.2 103.6 244.7 103.7 245.3 103.8 245.8 103.9 246.3 104 246.9 104.1 247.4 104.2 247.9 104.3 248.5 104.4 249 104.5 249.5 104.6 250.1 104.7 250.6 104.8 251.1 104.9 251.7 105.1 252.2 105.2 252.7 105.3 253.3 105.4 253.8 105.5 254.3 105.7 254.9 105.8 255.4 105.9 255.9 106.1 256.5 106.2 257 106.3 257.5 106.5 258.1 106.6 258.6 106.7 259.1 106.9 259.7 107 260.2 107.2 260.7 107.3 261.3 107.5 261.8 107.7 262.3 107.8 262.9 108 263.4 108.1 263.9 108.3 264.5 108.5 265 108.7 265.5 108.8 266.1 109 266.6 109.2 267.1 109.4 267.6 109.6 268.2 109.8 268.7 110 269.2 110.2 269.8 110.4 270.3 110.6 270.8 110.8 271.4 111 271.9 111.3 272.4 111.5 273 111.7 273.5 112 274 112.2 274.6 112.5 275.1 112.7 275.6 113 276.2 113.2 276.7 113.5 277.2 113.8 277.8 114 278.3 114.3 278.8 114.6 279.4 114.9 279.9 115.2 280.4 115.5 281 115.9 281.5 116.2 282 116.5 282.6 116.9 283.1 117.2 283.6 117.6 284.2 117.9 284.7 118.3 285.2 118.7 285.8 119.1 286.3 119.5 286.8 119.9 287.4 120.3 287.9 120.8 288.4 121.2 289 121.7 289.5 122.2 290 122.6 290.6 123.1 291.1 123.6 291.6 124.2 292.2 124.7 292.7 125.2 293.2 125.8 293.8 126.4 294.3 127 294.8 127.6 295.3 128.2 295.9 128.9 296.4 129.6 296.9 130.3 297.5 131 298 131.7 298.5 132.5 299.1 133.3 299.6 134.1 300.1 134.9 300.7 135.7 301.2 136.6 301.7 137.5 302.3 138.5 302.8 139.5 303.3 140.5 303.9 141.5 304.4 142.6 304.9 143.7 305.5 144.9 306 146.1 306.5 147.3 307.1 148.6 307.6 149.9 308.1 151.3 308.7 152.7 309.2 154.2 309.7 155.7 310.3 157.3 310.8 158.9 311.3 160.7 311.9 162.4 312.4 164.3 312.9 166.2 313.5 168.2 314 170.2 314.5 172.4 315.1 174.6 315.6 176.9 316.1 179.3 316.7 181.8 317.2 184.4 317.7 187.1 318.3 189.9 318.8 192.8 319.3 195.8 319.9 198.9 320.4 202.1 320.9 205.4 321.5 208.8 322 212.4 322.5 216.1 323 219.8 323.6 223.7 324.1 227.7 324.6 231.8 325.2 236 325.7 240.2 326.2 244.6 326.8 249 327.3 253.4 327.8 257.9 328.4 262.4 328.9 266.9 329.4 271.4 330 275.8 330.5 280.1 331 284.4 331.6 288.5 332.1 292.4 332.6 296.2 333.2 299.8 333.7 303.2 334.2 306.3 334.8 309.2 335.3 311.8 335.8 314.1 336.4 316.1 336.9 317.9 337.4 319.4 338 320.7 338.5 321.7 339 322.5 339.6 323.2 340.1 323.6 340.6 323.9 341.2 324.1 341.7 324.2 342.2 324.2 342.8 324.2 343.3 324.1 343.8 324 344.4 324 344.9 323.9 345.4 323.9 346 323.8 346.5 323.8 347 323.8 347.6 323.7 348.1 323.7 348.6 323.5 349.2 323.3 349.7 323 350.2 322.6 350.7 322.1 351.3 321.4 351.8 320.5 352.3 319.5 352.9 318.2 353.4 316.7 353.9 315.1 354.5 313.2 355 311.1 355.5 308.8 356.1 306.4 356.6 303.8 357.1 301.2 357.7 298.4 358.2 295.5 358.7 292.6 359.3 289.7 359.8 286.8 360.3 283.9 360.9 281.1 361.4 278.4 361.9 275.7 362.5 273.2 363 270.8 363.5 268.6 364.1 266.5 364.6 264.6 365.1 262.8 365.7 261.3 366.2 259.9 366.7 258.7 367.3 257.7 367.8 256.9 368.3 256.3 368.9 255.9 369.4 255.7 369.9 255.7 370.5 255.9 371 256.4 371.5 257 372.1 257.9 372.6 259 373.1 260.4 373.7 262 374.2 263.8 374.7 265.8 375.3 268.1 375.8 270.6 376.3 273.4 376.9 276.5 377.4 279.8 377.9 283.4 378.4 287.2 379 291.4 379.5 295.8 380 300.5 380.6 305.5 381.1 310.7 381.6 316.3 382.2 322.1 382.7 328.3 383.2 334.7 383.8 341.3 384.3 348.2 384.8 355.3 385.4 362.6 385.9 370.1 386.4 377.7 387 385.4 387.5 393.1 388 400.8 388.6 408.4 389.1 415.9 389.6 423 390.2 429.9 390.7 436.3 391.2 442.3 391.8 447.6 392.3 452.3 392.8 456.2 393.4 459.3 393.9 461.5 394.4 462.8 395 463.2 395.5 462.5 396 461 396.6 458.5 397.1 455.1 397.6 450.9 398.2 445.9 398.7 440.2 399.2 433.9 399.8 427 400.3 419.8 400.8 412.1 401.4 404.2 401.9 396.1 402.4 387.8 403 379.5 403.5 371.2 404 363 404.6 354.9 405.1 346.9 405.6 339.1 406.1 331.4 406.7 324 407.2 316.9 407.7 309.9 408.3 303.2 408.8 296.8 409.3 290.6 409.9 284.7 410.4 279.1 410.9 273.7 411.5 268.5 412 263.6 412.5 258.9 413.1 254.5 413.6 250.2 414.1 246.2 414.7 242.4 415.2 238.8 415.7 235.3 416.3 232.1 416.8 229 417.3 226.1 417.9 223.4 418.4 220.8 418.9 218.3 419.5 216 420 213.9 420.5 211.8 421.1 209.9 421.6 208.1 422.1 206.5 422.7 204.9 423.2 203.5 423.7 202.2 424.3 200.9 424.8 199.8 425.3 198.8 425.9 197.8 426.4 197 426.9 196.2 427.5 195.6 428 195 428.5 194.5 429.1 194.1 429.6 193.8 430.1 193.6 430.7 193.4 431.2 193.3 431.7 193.3 432.3 193.4 432.8 193.6 433.3 193.8 433.8 194.2 434.4 194.6 434.9 195.1 435.4 195.7 436 196.4 436.5 197.1 437 198 437.6 199 438.1 200 438.6 201.1 439.2 202.4 439.7 203.7 440.2 205.2 440.8 206.7 441.3 208.4 441.8 210.2 442.4 212.1 442.9 214.1 443.4 216.3 444 218.6 444.5 221 445 223.6 445.6 226.3 446.1 229.2 446.6 232.3 447.2 235.5 447.7 238.9 448.2 242.5 448.8 246.2 449.3 250.2 449.8 254.4 450.4 258.7 450.9 263.3 451.4 268.1 452 273.1 452.5 278.3 453 283.7 453.6 289.4 454.1 295.3 454.6 301.4 455.2 307.7 455.7 314.2 456.2 320.8 456.8 327.7 457.3 334.6 457.8 341.7 458.4 348.8 458.9 356 459.4 363.2 460 370.3 460.5 377.2 461 384 461.5 390.6 462.1 396.8 462.6 402.7 463.1 408.2 463.7 413.1 464.2 417.5 464.7 421.3 465.3 424.4 465.8 426.9 466.3 428.7 466.9 429.8 467.4 430.2 467.9 430 468.5 429.2 469 427.9 469.5 426 470.1 423.6 470.6 420.9 471.1 417.9 471.7 414.7 472.2 411.3 472.7 407.7 473.3 404.2 473.8 400.6 474.3 397.1 474.9 393.8 475.4 390.6 475.9 387.6 476.5 384.7 477 382.2 477.5 379.9 478.1 377.8 478.6 376 479.1 374.5 479.7 373.3 480.2 372.3 480.7 371.6 481.3 371.2 481.8 370.9 482.3 370.9 482.9 371.1 483.4 371.4 483.9 371.9 484.5 372.5 485 373.3 485.5 374 486.1 374.9 486.6 375.7 487.1 376.6 487.7 377.4 488.2 378.2 488.7 378.9 489.2 379.6 489.8 380.2 490.3 380.6 490.8 381 491.4 381.3 491.9 381.5 492.4 381.6 493 381.6 493.5 381.6 494 381.5 494.6 381.3 495.1 381.1 495.6 380.8 496.2 380.5 496.7 380.2 497.2 379.8 497.8 379.4 498.3 378.9 498.8 378.4 499.4 377.7 499.9 377 500.4 376.1 501 375 501.5 373.8 502 372.3 502.6 370.6 503.1 368.6 503.6 366.4 504.2 363.8 504.7 361 505.2 357.8 505.8 354.2 506.3 350.4 506.8 346.3 507.4 341.9 507.9 337.2 508.4 332.3 509 327.2 509.5 321.9 510 316.4 510.6 310.9 511.1 305.3 511.6 299.6 512.2 294 512.7 288.3 513.2 282.7 513.8 277.1 514.3 271.7 514.8 266.3 515.4 261 515.9 255.9 516.4 250.9 516.9 246 517.5 241.3 518 236.7 518.5 232.2 519.1 228 519.6 223.8 520.1 219.8 520.7 216 521.2 212.3 521.7 208.7 522.3 205.3 522.8 202 523.3 198.8 523.9 195.7 524.4 192.8 524.9 190 525.5 187.2 526 184.6 526.5 182.1 527.1 179.7 527.6 177.4 528.1 175.1 528.7 173 529.2 170.9 529.7 168.9 530.3 167 530.8 165.2 531.3 163.4 531.9 161.7 532.4 160 532.9 158.4 533.5 156.9 534 155.4 534.5 154 535.1 152.6 535.6 151.3 536.1 150 536.7 148.7 537.2 147.5 537.7 146.3 538.3 145.2 538.8 144.1 539.3 143.1 539.9 142 540.4 141.1 540.9 140.1 541.5 139.2 542 138.3 542.5 137.4 543.1 136.5 543.6 135.7 544.1 134.9 544.6 134.1 545.2 133.4 545.7 132.6 546.2 131.9 546.8 131.2 547.3 130.6 547.8 129.9 548.4 129.3 548.9 128.6 549.4 128 550 127.5 550.5 126.9 551 126.3 551.6 125.8 552.1 125.2 552.6 124.7 553.2 124.2 553.7 123.7 554.2 123.3 554.8 122.8 555.3 122.3 555.8 121.9 556.4 121.5 556.9 121 557.4 120.6 558 120.2 558.5 119.8 559 119.4 559.6 119 560.1 118.7 560.6 118.3 561.2 118 561.7 117.6 562.2 117.3 562.8 116.9 563.3 116.6 563.8 116.3 564.4 116 564.9 115.7 565.4 115.4 566 115.1 566.5 114.8 567 114.5 567.6 114.3 568.1 114 568.6 113.7 569.2 113.5 569.7 113.2 570.2 113 570.8 112.7 571.3 112.5 571.8 112.2 572.3 112 572.9 111.8 573.4 111.6 573.9 111.4 574.5 111.1 575 110.9 575.5 110.7 576.1 110.5 576.6 110.3 577.1 110.1 577.7 109.9 578.2 109.7 578.7 109.6 579.3 109.4 579.8 109.2 580.3 109 580.9 108.8 581.4 108.7 581.9 108.5 582.5 108.3 583 108.2 583.5 108 584.1 107.9 584.6 107.7 585.1 107.6 585.7 107.4 586.2 107.3 586.7 107.1 587.3 107 587.8 106.8 588.3 106.7 588.9 106.6 589.4 106.4 589.9 106.3 590.5 106.2 591 106 591.5 105.9 592.1 105.8 592.6 105.7 593.1 105.5 593.7 105.4 594.2 105.3 594.7 105.2 595.3 105.1 595.8 105 596.3 104.9 596.9 104.7 597.4 104.6 597.9 104.5 598.5 104.4 599 104.3 599.5 104.2 600 104.1 600.6 104 601.1 103.9 601.6 103.8 602.2 103.7 602.7 103.6 603.2 103.5 603.8 103.5 604.3 103.4 604.8 103.3 605.4 103.2 605.9 103.1 606.4 103 607 102.9 607.5 102.9 608 102.8 608.6 102.7 609.1 102.6 609.6 102.5 610.2 102.5 610.7 102.4 611.2 102.3 611.8 102.2 612.3 102.1 612.8 102.1 613.4 102 613.9 101.9 614.4 101.9 615 101.8 615.5 101.7 616 101.6 616.6 101.6 617.1 101.5 617.6 101.4 618.2 101.4 618.7 101.3 619.2 101.3 619.8 101.2 620.3 101.1 620.8 101.1 621.4 101 621.9 100.9 622.4 100.9 623 100.8 623.5 100.8 624 100.7 624.6 100.7 625.1 100.6 625.6 100.5 626.2 100.5 626.7 100.4 627.2 100.4 627.7 100.3 628.3 100.3 628.8 100.2 629.3 100.2 629.9 100.1 630.4 100.1 630.9 100 631.5 100 632 99.9 632.5 99.9 633.1 99.8 633.6 99.8 634.1 99.7 634.7 99.7 635.2 99.6 635.7 99.6 636.3 99.5 636.8 99.5 637.3 99.5 637.9 99.4 638.4 99.4 638.9 99.3 639.5 99.3 640 99.2 640.5 99.2 641.1 99.2 641.6 99.1 642.1 99.1 642.7 99 643.2 99 643.7 99 644.3 98.9 644.8 98.9 645.3 98.8 645.9 98.8 646.4 98.8 646.9 98.7 647.5 98.7 648 98.7 648.5 98.6 649.1 98.6 649.6 98.5 650.1 98.5 650.7 98.5 651.2 98.4 651.7 98.4 652.3 98.4 652.8 98.3 653.3 98.3 653.9 98.3 654.4 98.2 654.9 98.2 655.4 98.2 656 98.1 656.5 98.1 657 98.1 657.6 98 658.1 98 658.6 98 659.2 98 659.7 97.9 660.2 97.9 660.8 97.9 661.3 97.8 661.8 97.8 662.4 97.8 662.9 97.8 663.4 97.7 664 97.7 664.5 97.7 665 97.6 665.6 97.6 666.1 97.6 666.6 97.6 667.2 97.5 667.7 97.5 668.2 97.5 668.8 97.5 669.3 97.4 669.8 97.4 670.4 97.4 670.9 97.4 671.4 97.3 672 97.3 672.5 97.3 673 97.3 673.6 97.2 674.1 97.2 674.6 97.2 675.2 97.2 675.7 97.1 676.2 97.1 676.8 97.1 677.3 97.1 677.8 97 678.4 97 678.9 97 679.4 97 680 97 680.5 96.9 681 96.9 681.6 96.9 682.1 96.9 682.6 96.8 683.1 96.8 683.7 96.8 684.2 96.8 684.7 96.8 685.3 96.7 685.8 96.7 686.3 96.7 686.9 96.7 687.4 96.7 687.9 96.6 688.5 96.6 689 96.6 689.5 96.6 690.1 96.6 690.6 96.5 691.1 96.5 691.7 96.5 692.2 96.5 692.7 96.5 693.3 96.5 693.8 96.4" fill="none" stroke="#000" stroke-width="1.3"/>
<path d="M108.4 99.4h0M109.5 94.1h0M110.6 95.3h0M111.7 96.3h0M112.8 93.4h0M113.9 95.3h0M115 95.4h0M116.1 91h0M117.2 97.9h0M118.3 96.9h0M119.4 93.9h0M120.5 95h0M121.6 96.7h0M122.7 94.9h0M123.8 94.9h0M124.9 92h0M126 97h0M127.1 95.9h0M128.2 96.3h0M129.3 91.9h0M130.4 99.8h0M131.5 96.1h0M132.6 94.8h0M133.7 100.8h0M134.8 95.7h0M135.9 92.2h0M137 94.9h0M138.1 90.2h0M139.2 98.5h0M140.3 94.9h0M141.4 94.2h0M142.6 98.7h0M143.7 92h0M144.8 97.4h0M145.9 91h0M147 94.5h0M148.1 93.2h0M149.2 99.9h0M150.3 100.6h0M151.4 95.5h0M152.5 98.4h0M153.6 95.9h0M154.7 97.8h0M155.8 94.6h0M156.9 92.3h0M158 92.1h0M159.1 97.5h0M160.2 102.2h0M161.3 97.3h0M162.4 95.4h0M163.5 101.5h0M164.6 97.4h0M165.7 97.1h0M166.8 97.5h0M167.9 96.6h0M169 96.2h0M170.1 93.4h0M171.2 98.3h0M172.3 96.9h0M173.4 100.1h0M174.5 96.3h0M175.6 92.5h0M176.7 97h0M177.8 101.6h0M178.9 96.4h0M180 95.2h0M181.1 94.5h0M182.2 95h0M183.3 96.9h0M184.4 94.8h0M185.5 101.4h0M186.7 97.1h0M187.8 98.1h0M188.9 101.5h0M190 101.7h0M191.1 97.5h0M192.2 98.9h0M193.3 100h0M194.4 97.8h0M195.5 93.9h0M196.6 100h0M197.7 100.7h0M198.8 99.6h0M199.9 96.3h0M201 98.2h0M202.1 97.3h0M203.2 98.1h0M204.3 102.1h0M205.4 102.8h0M206.5 100.8h0M207.6 100.5h0M208.7 100.9h0M209.8 99.3h0M210.9 99.3h0M212 97.9h0M213.1 99.5h0M214.2 105.3h0M215.3 102h0M216.4 99.1h0M217.5 98.9h0M218.6 98h0M219.7 101.2h0M220.8 101.4h0M221.9 96.9h0M223 101.8h0M224.1 99.3h0M225.2 104.4h0M226.3 101.4h0M227.4 105.4h0M228.5 100.1h0M229.6 100.7h0M230.8 102.3h0M231.9 104.3h0M233 103.2h0M234.1 98.9h0M235.2 102.6h0M236.3 102.3h0M237.4 101.4h0M238.5 101h0M239.6 107.1h0M240.7 102h0M241.8 101.1h0M242.9 104.9h0M244 103.9h0M245.1 103.5h0M246.2 105.9h0M247.3 105.4h0M248.4 105.3h0M249.5 107h0M250.6 105.5h0M251.7 103.5h0M252.8 104.4h0M253.9 104.3h0M255 106.3h0M256.1 103.4h0M257.2 101.8h0M258.3 106.9h0M259.4 103.7h0M260.5 102.4h0M261.6 108.5h0M262.7 106.2h0M263.8 109.5h0M264.9 107.3h0M266 106.2h0M267.1 106.3h0M268.2 108.5h0M269.3 109.5h0M270.4 108.6h0M271.5 110.4h0M272.6 107.8h0M273.7 112.1h0M274.9 108.1h0M276 112.6h0M277.1 115.4h0M278.2 117h0M279.3 119.1h0M280.4 111.6h0M281.5 118.1h0M282.6 119.9h0M283.7 120h0M284.8 116.1h0M285.9 120.2h0M287 124.6h0M288.1 117.2h0M289.2 123.1h0M290.3 125.6h0M291.4 122.2h0M292.5 126.5h0M293.6 123.6h0M294.7 125.5h0M295.8 126.8h0M296.9 130.7h0M298 131.5h0M299.1 135.7h0M300.2 132.7h0M301.3 136.5h0M302.4 141.1h0M303.5 142.2h0M304.6 139.8h0M305.7 147.1h0M306.8 146.8h0M307.9 151.7h0M309 154.4h0M310.1 159.9h0M311.2 160.6h0M312.3 159.5h0M313.4 164.7h0M314.5 174.3h0M315.6 176.5h0M316.7 185.1h0M317.8 188.4h0M319 191.8h0M320.1 202.7h0M321.2 204.9h0M322.3 209.2h0M323.4 227.2h0M324.5 225.6h0M325.6 240.6h0M326.7 250.4h0M327.8 257.7h0M328.9 262.4h0M330 278.3h0M331.1 281.1h0M332.2 289.7h0M333.3 299.7h0M334.4 309.1h0M335.5 313.4h0M336.6 318.9h0M337.7 319h0M338.8 321.8h0M339.9 320.6h0M341 323.3h0M342.1 325.7h0M343.2 323.4h0M344.3 325.2h0M345.4 322.5h0M346.5 322.3h0M347.6 323.8h0M348.7 323h0M349.8 324.4h0M350.9 322.3h0M352 324.5h0M353.1 317h0M354.2 313.5h0M355.3 307.2h0M356.4 304.7h0M357.5 300.8h0M358.6 291.3h0M359.7 287h0M360.8 283h0M361.9 275.4h0M363.1 269.3h0M364.2 268.6h0M365.3 262.7h0M366.4 260.5h0M367.5 260.2h0M368.6 258.9h0M369.7 254.8h0M370.8 254.9h0M371.9 258.3h0M373 259.7h0M374.1 258.7h0M375.2 270.9h0M376.3 273.3h0M377.4 281.6h0M378.5 284.6h0M379.6 299.6h0M380.7 305.1h0M381.8 317.6h0M382.9 327h0M384 343.8h0M385.1 358.3h0M386.2 373.9h0M387.3 391.4h0M388.4 406.3h0M389.5 423.8h0M390.6 434.2h0M391.7 444.7h0M392.8 456.1h0M393.9 463.1h0M395 466.2h0M396.1 462.6h0M397.2 449.7h0M398.3 445h0M399.4 434.9h0M400.5 416.4h0M401.6 398.6h0M402.7 383.6h0M403.8 364.4h0M404.9 350.5h0M406 332.8h0M407.2 321.1h0M408.3 304.8h0M409.4 288.7h0M410.5 280.1h0M411.6 270h0M412.7 256.5h0M413.8 248h0M414.9 235.3h0M416 236.1h0M417.1 226.1h0M418.2 216.6h0M419.3 212.4h0M420.4 211.8h0M421.5 210.4h0M422.6 204.9h0M423.7 203.4h0M424.8 197.1h0M425.9 194.4h0M427 198.3h0M428.1 196.1h0M429.2 193.9h0M430.3 196.7h0M431.4 191h0M432.5 192.5h0M433.6 196.6h0M434.7 199.5h0M435.8 196.2h0M436.9 202h0M438 198.3h0M439.1 203.1h0M440.2 204.7h0M441.3 204.5h0M442.4 213h0M443.5 219h0M444.6 221.3h0M445.7 227.1h0M446.8 237h0M447.9 237.4h0M449 244.6h0M450.1 255.3h0M451.3 263.5h0M452.4 280.3h0M453.5 289.1h0M454.6 298.5h0M455.7 312.3h0M456.8 334.9h0M457.9 340.8h0M459 355.3h0M460.1 372.6h0M461.2 387.6h0M462.3 399.6h0M463.4 408.1h0M464.5 416.6h0M465.6 427.4h0M466.7 429.4h0M467.8 426.1h0M468.9 431.1h0M470 425.9h0M471.1 417.6h0M472.2 410.6h0M473.3 404.5h0M474.4 395h0M475.5 386.6h0M476.6 384.8h0M477.7 375.6h0M478.8 376.3h0M479.9 369.2h0M481 371.1h0M482.1 370.6h0M483.2 375.7h0M484.3 369.7h0M485.4 370.4h0M486.5 374.1h0M487.6 374.6h0M488.7 377.5h0M489.8 381.3h0M490.9 383h0M492 385.6h0M493.1 379.8h0M494.2 387.9h0M495.4 385.9h0M496.5 379.8h0M497.6 373.9h0M498.7 378.3h0M499.8 377.4h0M500.9 369.5h0M502 372.7h0M503.1 368.3h0M504.2 361.8h0M505.3 359h0M506.4 352.3h0M507.5 339.6h0M508.6 331.4h0M509.7 318.3h0M510.8 306.5h0M511.9 297h0M513 286.4h0M514.1 272.2h0M515.2 257h0M516.3 253.4h0M517.4 238h0M518.5 232.9h0M519.6 228.3h0M520.7 215.7h0M521.8 205.3h0M522.9 197.7h0M524 197.8h0M525.1 189h0M526.2 184.9h0M527.3 180.9h0M528.4 173.8h0M529.5 168.9h0M530.6 163.4h0M531.7 154.4h0M532.8 154.9h0M533.9 155.4h0M535 152.2h0M536.1 150.9h0M537.2 147.1h0M538.3 145.4h0M539.5 144.8h0M540.6 138.6h0M541.7 138.1h0M542.8 133h0M543.9 137.7h0M545 133.8h0M546.1 133.4h0M547.2 134.6h0M548.3 132.1h0M549.4 128h0M550.5 128.9h0M551.6 122.2h0M552.7 125.8h0M553.8 124h0M554.9 118.7h0M556 125.1h0M557.1 119.1h0M558.2 121.7h0M559.3 118.2h0M560.4 120.9h0M561.5 121h0M562.6 115h0M563.7 112.6h0M564.8 115.4h0M565.9 117.2h0M567 113.6h0M568.1 112.5h0M569.2 114.6h0M570.3 106.1h0M571.4 110.8h0M572.5 108.5h0M573.6 112.2h0M574.7 109.2h0M575.8 107.8h0M576.9 109.3h0M578 106.2h0M579.1 109.4h0M580.2 107.4h0M581.3 107.8h0M582.4 106.6h0M583.6 110.3h0M584.7 107.4h0M585.8 108.7h0M586.9 108.3h0M588 104.8h0M589.1 107.9h0M590.2 107.1h0M591.3 106.7h0M592.4 104.7h0M593.5 104.4h0M594.6 107.2h0M595.7 110.4h0M596.8 102.7h0M597.9 105.9h0M599 103.4h0M600.1 106.1h0M601.2 105h0M602.3 106.3h0M603.4 96.6h0M604.5 101.8h0M605.6 100.7h0M606.7 102.7h0M607.8 101h0M608.9 101h0M610 104.2h0M611.1 107h0M612.2 95.2h0M613.3 101.2h0M614.4 102.6h0M615.5 101.7h0M616.6 100.7h0M617.7 98.1h0M618.8 99h0M619.9 103h0M621 103.7h0M622.1 101.2h0M623.2 98.7h0M624.3 100.9h0M625.4 100h0M626.5 101.8h0M627.7 100.6h0M628.8 98.7h0M629.9 100.6h0M631 97.1h0M632.1 101.9h0M633.2 102.7h0M634.3 96.8h0M635.4 100.7h0M636.5 97.1h0M637.6 102.1h0M638.7 101.6h0M639.8 98.7h0M640.9 101.6h0M642 98h0M643.1 97.4h0M644.2 97.5h0M645.3 98.5h0M646.4 98h0M647.5 99.1h0M648.6 97.1h0M649.7 100.4h0M650.8 101h0M651.9 97.2h0M653 94.8h0M654.1 100.1h0M655.2 101h0M656.3 97.7h0M657.4 94.9h0M658.5 98.7h0M659.6 101.7h0M660.7 93.2h0M661.8 99h0M662.9 97h0M664 95.6h0M665.1 98.9h0M666.2 94.4h0M667.3 98.3h0M668.4 100.7h0M669.5 97.9h0M670.6 95.2h0M671.8 92.9h0M672.9 94.1h0M674 92.6h0M675.1 101.1h0M676.2 96.5h0M677.3 94.5h0M678.4 93.8h0M679.5 94.3h0M680.6 96.1h0M681.7 93.7h0M682.8 101h0M683.9 94.9h0M685 94.8h0M686.1 97.5h0M687.2 100.3h0M688.3 99.9h0M689.4 95.4h0M690.5 97.2h0M691.6 96.9h0M692.7 97.8h0M693.8 97.1h0" fill="none" stroke="#000" stroke-width="6.8" stroke-linecap="round"/>
<path d="M108.4 515.3 109.5 516.1 110.6 513.7 111.7 516.8 112.8 512.6 113.9 515.9 115 518.7 116.1 518.2 117.2 519.3 118.3 519 119.4 517 120.5 521.4 121.6 521.9 122.7 517.2 123.8 517.5 124.9 516 126 514.6 127.1 514.9 128.2 512.1 129.3 514.5 130.4 511.7 131.5 512.8 132.6 513 133.7 509.4 134.8 509.4 135.9 514.3 137 512.9 138.1 510.7 139.2 510.2 140.3 514.6 141.4 514.8 142.6 518 143.7 511 144.8 515.1 145.9 513.9 147 513.5 148.1 512 149.2 511.7 150.3 513 151.4 510.7 152.5 512.1 153.6 509.9 154.7 514.1 155.8 514 156.9 511.8 158 510.6 159.1 512.8 160.2 514.5 161.3 513.6 162.4 514.7 163.5 510.5 164.6 513 165.7 512.8 166.8 514.9 167.9 516.6 169 512.9 170.1 511.4 171.2 512.8 172.3 513.3 173.4 510.8 174.5 513.4 175.6 511.1 176.7 514 177.8 514.6 178.9 511.7 180 512.2 181.1 509.1 182.2 513.1 183.3 512.5 184.4 514.7 185.5 516 186.7 515.8 187.8 511.4 188.9 514.6 190 510.3 191.1 510.1 192.2 513.7 193.3 510.3 194.4 513.2 195.5 511.7 196.6 514.4 197.7 512.4 198.8 516.6 199.9 514.3 201 517.2 202.1 517.3 203.2 516.3 204.3 517.3 205.4 517.5 206.5 515.4 207.6 514.5 208.7 518 209.8 513.7 210.9 513.2 212 515.8 213.1 513.7 214.2 517.3 215.3 512.4 216.4 516.2 217.5 516.5 218.6 514.5 219.7 517.2 220.8 515.5 221.9 518.1 223 516.3 224.1 517 225.2 513.7 226.3 510.5 227.4 511.5 228.5 509.9 229.6 513.5 230.8 513.5 231.9 513.1 233 511.8 234.1 512.9 235.2 514.2 236.3 513.5 237.4 515.3 238.5 515.1 239.6 512.4 240.7 516 241.8 514.5 242.9 511.6 244 514.3 245.1 512.9 246.2 515.2 247.3 510.2 248.4 518.2 249.5 516.2 250.6 516.2 251.7 511.3 252.8 513.9 253.9 515.2 255 517.1 256.1 513.6 257.2 513.8 258.3 515.1 259.4 516.5 260.5 515.5 261.6 512.8 262.7 512.4 263.8 512.7 264.9 513.3 266 516.8 267.1 513.9 268.2 516.4 269.3 514.7 270.4 514.1 271.5 516.3 272.6 516.8 273.7 512.6 274.9 513.6 276 515.4 277.1 519.7 278.2 513.9 279.3 512.2 280.4 510.9 281.5 513.9 282.6 513.6 283.7 513.1 284.8 510.7 285.9 514.6 287 512.6 288.1 514.1 289.2 511.7 290.3 515 291.4 511 292.5 512.5 293.6 512 294.7 510.7 295.8 509.8 296.9 515.6 298 510.8 299.1 512.1 300.2 514 301.3 510.7 302.4 512.8 303.5 510.5 304.6 513.9 305.7 514.3 306.8 510.3 307.9 508.6 309 511.8 310.1 511.8 311.2 514.8 312.3 516.7 313.4 514.5 314.5 510.9 315.6 517 316.7 514 317.8 516.3 319 512.3 320.1 510.9 321.2 515.3 322.3 514.3 323.4 511.6 324.5 515 325.6 517.6 326.7 518.1 327.8 519.7 328.9 514.5 330 517.4 331.1 513.7 332.2 513.8 333.3 516.2 334.4 515.3 335.5 512 336.6 512.5 337.7 511.7 338.8 515.2 339.9 510.6 341 514.7 342.1 518.4 343.2 516.2 344.3 515 345.4 512.5 346.5 517.6 347.6 519.6 348.7 512.8 349.8 516.3 350.9 516.5 352 517.3 353.1 516.4 354.2 510.9 355.3 513.7 356.4 514 357.5 514.1 358.6 510.4 359.7 515 360.8 513.1 361.9 514 363.1 514.1 364.2 516.2 365.3 513.1 366.4 511.2 367.5 514.3 368.6 515.8 369.7 516.3 370.8 513.1 371.9 513.8 373 513.3 374.1 513.1 375.2 516.1 376.3 511.9 377.4 513.3 378.5 514.3 379.6 514 380.7 512.9 381.8 514.8 382.9 516.7 384 513 385.1 516.2 386.2 516.9 387.3 518.7 388.4 515.9 389.5 517.9 390.6 516.5 391.7 514 392.8 514 393.9 511.4 395 512.1 396.1 513.1 397.2 512.9 398.3 513.6 399.4 512 400.5 514 401.6 515.2 402.7 512.9 403.8 514.1 404.9 514.6 406 515.9 407.2 511.4 408.3 511.2 409.4 511.5 410.5 512.6 411.6 514 412.7 513.5 413.8 513.5 414.9 514.8 416 515.3 417.1 515.9 418.2 514.1 419.3 514.1 420.4 515.8 421.5 513 422.6 513.1 423.7 513.3 424.8 515.4 425.9 515.9 427 518 428.1 514.4 429.2 519.9 430.3 516.3 431.4 515.9 432.5 513.3 433.6 514.7 434.7 516.4 435.8 517.2 436.9 515.9 438 514.5 439.1 514.9 440.2 515.6 441.3 516.8 442.4 516 443.5 513.8 444.6 518 445.7 516.1 446.8 513.4 447.9 515.8 449 518 450.1 516 451.3 518.7 452.4 517 453.5 513.5 454.6 512.2 455.7 518.4 456.8 513.3 457.9 510.5 459 515 460.1 513.3 461.2 510.8 462.3 514.8 463.4 513.2 464.5 514.5 465.6 518.4 466.7 514.2 467.8 515.4 468.9 513.3 470 511 471.1 513.5 472.2 515.1 473.3 512.9 474.4 512.7 475.5 510.5 476.6 514.6 477.7 513.5 478.8 514.7 479.9 509.4 481 510.7 482.1 512.4 483.2 513.3 484.3 513.8 485.4 515.2 486.5 514.7 487.6 515.3 488.7 511.7 489.8 513.4 490.9 515 492 513.9 493.1 509.8 494.2 510.9 495.4 511.3 496.5 510.9 497.6 509.9 498.7 515.9 499.8 515.2 500.9 516.8 502 512.1 503.1 513.3 504.2 513.4 505.3 513.3 506.4 510.4 507.5 512.1 508.6 513.3 509.7 510.5 510.8 515.8 511.9 517.2 513 510.6 514.1 517.2 515.2 518.2 516.3 518.7 517.4 517.2 518.5 514.5 519.6 513.5 520.7 512.9 521.8 513.8 522.9 515.7 524 512.3 525.1 510 526.2 511.2 527.3 513.9 528.4 512.3 529.5 514.6 530.6 513.6 531.7 515.2 532.8 512.4 533.9 510.5 535 510.1 536.1 507.7 537.2 505.3 538.3 506.6 539.5 510.4 540.6 512.2 541.7 513.1 542.8 514.6 543.9 513.3 545 512.9 546.1 513.7 547.2 513.8 548.3 513.9 549.4 514.3 550.5 515.4 551.6 510.5 552.7 511.5 553.8 515 554.9 514.9 556 514.2 557.1 513.3 558.2 511.6 559.3 512.8 560.4 513.3 561.5 513.6 562.6 513.7 563.7 514.2 564.8 514.1 565.9 514.6 567 517.3 568.1 513.8 569.2 509.9 570.3 514.4 571.4 514.7 572.5 511.6 573.6 513.4 574.7 514.2 575.8 510 576.9 511.4 578 511 579.1 513.6 580.2 511.9 581.3 512.6 582.4 512.5 583.6 512.4 584.7 513 585.8 515.2 586.9 514.2 588 517.5 589.1 513.9 590.2 513.6 591.3 515.7 592.4 516.6 593.5 515.5 594.6 518 595.7 515.5 596.8 516 597.9 518.7 599 516.9 600.1 515 601.2 515 602.3 515.1 603.4 517.1 604.5 517.3 605.6 517 606.7 514.6 607.8 510.5 608.9 511.8 610 511.1 611.1 511.3 612.2 517.1 613.3 514.5 614.4 515.2 615.5 512.1 616.6 511.3 617.7 515.8 618.8 514.4 619.9 513.4 621 515.6 622.1 516.3 623.2 516.8 624.3 514.1 625.4 517.5 626.5 513.4 627.7 515 628.8 513.2 629.9 511.1 631 514.8 632.1 514.9 633.2 512.4 634.3 515.3 635.4 514.9 636.5 514 637.6 513.8 638.7 516.9 639.8 515.8 640.9 514.6 642 513.7 643.1 520.4 644.2 514.3 645.3 515 646.4 518.3 647.5 518.4 648.6 513.9 649.7 514.7 650.8 512.8 651.9 510.7 653 512.6 654.1 511.3 655.2 510.7 656.3 510.1 657.4 508.7 658.5 509.1 659.6 512.2 660.7 513.4 661.8 508.6 662.9 511.9 664 512.3 665.1 515.3 666.2 512.2 667.3 515.8 668.4 515.7 669.5 517.5 670.6 515.7 671.8 514.1 672.9 516.4 674 514.4 675.1 512.1 676.2 514 677.3 514.1 678.4 513.6 679.5 515.2 680.6 512 681.7 515.6 682.8 512.8 683.9 513.3 685 518 686.1 516 687.2 517 688.3 518.1 689.4 516 690.5 515.1 691.6 512.6 692.7 511.5 693.8 515" fill="none" stroke="#000" stroke-width="1.3" stroke-linejoin="round"/>
</g>
<rect x="109.3" y="70.9" width="584.6" height="470.2" fill="none" stroke="#1a1a1a" stroke-width="1.8"/>
<path d="M163.5 541.1v-9.3M273.8 541.1v-9.3M384 541.1v-9.3M494.2 541.1v-9.3M604.5 541.1v-9.3M218.6 541.1v-5M328.9 541.1v-5M439.1 541.1v-5M549.4 541.1v-5M659.6 541.1v-5M109.3 92.5h10M109.3 178h10M109.3 263.5h10M109.3 349h10M109.3 434.5h10M109.3 520h10M109.3 135.2h5.5M109.3 220.8h5.5M109.3 306.2h5.5M109.3 391.8h5.5M109.3 477.2h5.5" stroke="#1a1a1a" stroke-width="1.5" fill="none"/>
<text class="b" transform="translate(97.3 101.1) scale(0.985 1)" font-size="26.0" text-anchor="end" fill="#111">100</text>
<text class="b" transform="translate(97.3 186.6) scale(0.985 1)" font-size="26.0" text-anchor="end" fill="#111">98</text>
<text class="b" transform="translate(97.3 272.1) scale(0.985 1)" font-size="26.0" text-anchor="end" fill="#111">96</text>
<text class="b" transform="translate(97.3 357.6) scale(0.985 1)" font-size="26.0" text-anchor="end" fill="#111">94</text>
<text class="b" transform="translate(97.3 443.1) scale(0.985 1)" font-size="26.0" text-anchor="end" fill="#111">92</text>
<text class="b" transform="translate(97.3 528.6) scale(0.985 1)" font-size="26.0" text-anchor="end" fill="#111">90</text>
<text class="b" transform="translate(163 572.8) scale(1.06 1)" font-size="26.0" text-anchor="middle" fill="#111">-2</text>
<text class="b" transform="translate(273.2 572.8) scale(1.06 1)" font-size="26.0" text-anchor="middle" fill="#111">-1</text>
<text class="b" transform="translate(384 572.8) scale(1.06 1)" font-size="26.0" text-anchor="middle" fill="#111">0</text>
<text class="b" transform="translate(494.2 572.8) scale(1.06 1)" font-size="26.0" text-anchor="middle" fill="#111">1</text>
<text class="b" transform="translate(604.5 572.8) scale(1.06 1)" font-size="26.0" text-anchor="middle" fill="#111">2</text>
<text class="b" font-size="29" fill="#111" text-anchor="middle" x="391" y="608.5"><tspan class="bi">v</tspan> (mm/s)</text>
<text class="b" font-size="31.5" fill="#111" text-anchor="middle" transform="translate(52.3 297) rotate(-90) scale(0.858 1)">Transmission (%)</text>
<text font-size="51" fill="#111" transform="translate(27 50.5) scale(1.06 1)">(a)</text>
<text class="b" font-size="28.3" fill="#111" x="143.5" y="449"><tspan class="bi">T</tspan> = 300K</text>
<path d="M258 227L333 193M327.3 198.6L333 193L325.1 193.6" stroke="#1a8a1a" stroke-width="1.1" fill="none"/>
<path d="M570 208L511 166M518.7 168.1L511 166L515.5 172.5" stroke="#e02020" stroke-width="1.1" fill="none"/>
<path d="M578 320L472 290M480 289.4L472 290L478.5 294.6" stroke="#2020e0" stroke-width="1.1" fill="none"/>
<g filter="url(#sh2)" class="b" font-size="28.5">
<text x="233" y="254" fill="#1c7c1c">Fe(2)</text>
<text x="560" y="236" fill="#e01818">Fe(1)</text>
<text x="572" y="350" fill="#1818d8">Fe(3)</text>
</g>
<g clip-path="url(#clipB)">
<path d="M821 113.5h0M822.4 98.9h0M823.8 97.4h0M825.2 81.8h0M826.6 100.9h0M828 98.7h0M829.4 97.2h0M830.8 103.3h0M832.3 104.1h0M833.7 93.4h0M835.1 94.8h0M836.5 97.8h0M837.9 106.2h0M839.3 105.3h0M840.7 91.9h0M842.1 93.3h0M843.5 106.7h0M845 112.8h0M846.4 101.2h0M847.8 96.6h0M849.2 109.4h0M850.6 99.4h0M852 106.9h0M853.4 112.9h0M854.8 106.3h0M856.3 102.4h0M857.7 107.2h0M859.1 97.3h0M860.5 100.8h0M861.9 98h0M863.3 100.8h0M864.7 98.8h0M866.1 101.1h0M867.6 99.8h0M869 103.3h0M870.4 103.2h0M871.8 105h0M873.2 113.2h0M874.6 92h0M876 112.7h0M877.4 101.8h0M878.9 94.9h0M880.3 102.7h0M881.7 104.9h0M883.1 112.2h0M884.5 97.1h0M885.9 106.7h0M887.3 106.3h0M888.7 93.7h0M890.2 97.8h0M891.6 111.1h0M893 112.4h0M894.4 115.9h0M895.8 112.7h0M897.2 112.6h0M898.6 111.6h0M900 120.7h0M901.5 107.3h0M902.9 114.2h0M904.3 120.1h0M905.7 108.6h0M907.1 132.8h0M908.5 122h0M909.9 133h0M911.3 156.9h0M912.8 146.3h0M914.2 164.5h0M915.6 203.8h0M917 222.2h0M918.4 283.2h0M919.8 360.3h0M921.2 402.8h0M922.6 378.8h0M924.1 322.8h0M925.5 292.2h0M926.9 278h0M928.3 283.3h0M929.7 287.9h0M931.1 289.1h0M932.5 272.9h0M933.9 293.9h0M935.3 290.8h0M936.8 311h0M938.2 283.4h0M939.6 216.8h0M941 184.1h0M942.4 162h0M943.8 155.9h0M945.2 133.1h0M946.6 131h0M948.1 122.9h0M949.5 120.8h0M950.9 128.9h0M952.3 110.2h0M953.7 115.7h0M955.1 115.6h0M956.5 118.6h0M957.9 102.2h0M959.4 118.5h0M960.8 112.9h0M962.2 115.5h0M963.6 109.2h0M965 96.4h0M966.4 103.2h0M967.8 113.5h0M969.2 107.7h0M970.7 106.9h0M972.1 120h0M973.5 122.9h0M974.9 106.8h0M976.3 121h0M977.7 92.8h0M979.1 92.6h0M980.5 113.8h0M982 105.9h0M983.4 112.4h0M984.8 112.4h0M986.2 108.6h0M987.6 114.9h0M989 112h0M990.4 101h0M991.8 115.1h0M993.3 116.7h0M994.7 131h0M996.1 112.8h0M997.5 125.2h0M998.9 127.8h0M1000.3 137.8h0M1001.7 161.6h0M1003.1 167.2h0M1004.6 180h0M1006 205.6h0M1007.4 230h0M1008.8 235.6h0M1010.2 252.8h0M1011.6 255h0M1013 218.7h0M1014.4 182.1h0M1015.8 158.2h0M1017.3 147.8h0M1018.7 130.7h0M1020.1 146h0M1021.5 143.2h0M1022.9 147.9h0M1024.3 148h0M1025.7 160.9h0M1027.1 165.9h0M1028.6 150.3h0M1030 131.7h0M1031.4 129.7h0M1032.8 126.9h0M1034.2 111.2h0M1035.6 109.6h0M1037 105.2h0M1038.4 101.7h0M1039.9 114.6h0M1041.3 111.7h0M1042.7 109.8h0M1044.1 98.4h0M1045.5 98.9h0M1046.9 105.6h0M1048.3 102.9h0M1049.7 106.5h0M1051.2 100.5h0M1052.6 110.1h0M1054 118.3h0M1055.4 116.5h0M1056.8 116.9h0M1058.2 105.9h0M1059.6 112.1h0M1061 102.9h0M1062.5 112.4h0M1063.9 103.3h0M1065.3 102.8h0M1066.7 102h0M1068.1 112.2h0M1069.5 109.7h0M1070.9 109.8h0M1072.3 101.2h0M1073.8 111.6h0M1075.2 101.6h0M1076.6 124.6h0M1078 115.6h0M1079.4 121.5h0M1080.8 124.3h0M1082.2 120.7h0M1083.6 132.3h0M1085.1 155.3h0M1086.5 180.9h0M1087.9 173.1h0M1089.3 182.7h0M1090.7 197.2h0M1092.1 203.4h0M1093.5 220.2h0M1094.9 226.8h0M1096.4 212.6h0M1097.8 191.2h0M1099.2 183.6h0M1100.6 151.7h0M1102 141.3h0M1103.4 140.8h0M1104.8 135.2h0M1106.2 107.2h0M1107.6 112.8h0M1109.1 121.7h0M1110.5 101.7h0M1111.9 103.7h0M1113.3 100.1h0M1114.7 98.9h0M1116.1 100h0M1117.5 109h0M1118.9 116.5h0M1120.4 118.2h0M1121.8 107.1h0M1123.2 92.8h0M1124.6 106.6h0M1126 104.7h0M1127.4 109.9h0M1128.8 106.8h0M1130.2 95.2h0M1131.7 111.7h0M1133.1 94.5h0M1134.5 105.4h0M1135.9 113.9h0M1137.3 115.8h0M1138.7 126.8h0M1140.1 101.4h0M1141.5 125h0M1143 133.5h0M1144.4 134.8h0M1145.8 154.2h0M1147.2 158.4h0M1148.6 189.4h0M1150 203.3h0M1151.4 203h0M1152.8 213.2h0M1154.3 225.7h0M1155.7 232.4h0M1157.1 237.4h0M1158.5 202.8h0M1159.9 181.6h0M1161.3 159.5h0M1162.7 137.8h0M1164.1 127h0M1165.6 115.5h0M1167 112.4h0M1168.4 109.4h0M1169.8 115.4h0M1171.2 104.9h0M1172.6 110.5h0M1174 110.3h0M1175.4 104.5h0M1176.9 106.1h0M1178.3 117.4h0M1179.7 118.1h0M1181.1 100.5h0M1182.5 104.5h0M1183.9 103h0M1185.3 103.5h0M1186.7 116.5h0M1188.2 110.3h0M1189.6 114.4h0M1191 118.1h0M1192.4 102.2h0M1193.8 104.1h0M1195.2 105.8h0M1196.6 113.1h0M1198 105.3h0M1199.4 110.9h0M1200.9 114.9h0M1202.3 115.3h0M1203.7 110.6h0M1205.1 102.3h0M1206.5 97.6h0M1207.9 117.8h0M1209.3 114.2h0M1210.7 105.6h0M1212.2 110.7h0M1213.6 113.7h0M1215 108.5h0M1216.4 127.4h0M1217.8 127.4h0M1219.2 142.2h0M1220.6 166.6h0M1222 182.9h0M1223.5 206.2h0M1224.9 208.3h0M1226.3 200.5h0M1227.7 198.8h0M1229.1 209.9h0M1230.5 188h0M1231.9 193.1h0M1233.3 173.1h0M1234.8 193.6h0M1236.2 208.9h0M1237.6 222.3h0M1239 205.7h0M1240.4 209.7h0M1241.8 161.9h0M1243.2 143.3h0M1244.6 138.2h0M1246.1 129.3h0M1247.5 125.3h0M1248.9 117.6h0M1250.3 105.8h0M1251.7 120.9h0M1253.1 106.7h0M1254.5 113.8h0M1255.9 115.5h0M1257.4 119.4h0M1258.8 109h0M1260.2 108.3h0M1261.6 108.9h0M1263 97.5h0M1264.4 105.8h0M1265.8 104.7h0M1267.2 104.7h0M1268.7 115.7h0M1270.1 114.3h0M1271.5 130.9h0M1272.9 134.3h0M1274.3 116.1h0M1275.7 140.1h0M1277.1 146.8h0M1278.5 180.8h0M1279.9 208h0M1281.4 235h0M1282.8 221h0M1284.2 195.2h0M1285.6 161.6h0M1287 128.4h0M1288.4 127.2h0M1289.8 122.9h0M1291.2 121.4h0M1292.7 115.2h0M1294.1 133h0M1295.5 119.5h0M1296.9 130.3h0M1298.3 119.5h0M1299.7 135.6h0M1301.1 117.5h0M1302.5 134.1h0M1304 125.3h0M1305.4 145.2h0M1306.8 163.6h0M1308.2 155.3h0M1309.6 183.3h0M1311 226.3h0M1312.4 277.3h0M1313.8 344.3h0M1315.3 434.1h0M1316.7 444.2h0M1318.1 421.2h0M1319.5 359.1h0M1320.9 282.9h0M1322.3 231.9h0M1323.7 206.5h0M1325.1 160.9h0M1326.6 150.5h0M1328 146.5h0M1329.4 141.2h0M1330.8 133.7h0M1332.2 112.6h0M1333.6 134.8h0M1335 115.8h0M1336.4 114.8h0M1337.9 112.9h0M1339.3 109.8h0M1340.7 103.3h0M1342.1 106.9h0M1343.5 117.9h0M1344.9 97.8h0M1346.3 89.4h0M1347.7 110.3h0M1349.2 108.3h0M1350.6 110.7h0M1352 117.5h0M1353.4 99.5h0M1354.8 105.7h0M1356.2 107.8h0M1357.6 112.8h0M1359 111.1h0M1360.5 97.4h0M1361.9 93.3h0M1363.3 101.1h0M1364.7 91.3h0M1366.1 110.8h0M1367.5 99.8h0M1368.9 100h0M1370.3 96h0M1371.7 113.3h0M1373.2 104.3h0M1374.6 99.2h0M1376 106.4h0M1377.4 101.3h0M1378.8 106.2h0M1380.2 111.3h0M1381.6 99.8h0M1383 105.4h0M1384.5 105.1h0M1385.9 109.7h0M1387.3 105.8h0M1388.7 101.7h0M1390.1 96.8h0M1391.5 103.5h0M1392.9 93.8h0M1394.3 106h0M1395.8 101.7h0M1397.2 105.2h0M1398.6 97.4h0M1400 95.4h0M1401.4 94.5h0" fill="none" stroke="#000" stroke-width="6.4" stroke-linecap="round"/>
<path d="M817.3 100L817.3 100.4 817.5 100.4 817.8 100.4 818 100.4 818.3 100.4 818.5 100.4 818.8 100.4 819 100.4 819.2 100.4 819.5 100.4 819.7 100.4 820 100.4 820.2 100.4 820.5 100.4 820.7 100.4 821 100.5 821.2 100.5 821.4 100.5 821.7 100.5 821.9 100.5 822.2 100.5 822.4 100.5 822.7 100.5 822.9 100.5 823.1 100.5 823.4 100.5 823.6 100.5 823.9 100.5 824.1 100.5 824.4 100.5 824.6 100.5 824.9 100.5 825.1 100.5 825.3 100.5 825.6 100.5 825.8 100.5 826.1 100.5 826.3 100.5 826.6 100.5 826.8 100.5 827 100.5 827.3 100.5 827.5 100.5 827.8 100.5 828 100.5 828.3 100.5 828.5 100.5 828.7 100.5 829 100.5 829.2 100.5 829.5 100.5 829.7 100.5 830 100.5 830.2 100.5 830.5 100.5 830.7 100.5 830.9 100.5 831.2 100.5 831.4 100.5 831.7 100.5 831.9 100.6 832.2 100.6 832.4 100.6 832.6 100.6 832.9 100.6 833.1 100.6 833.4 100.6 833.6 100.6 833.9 100.6 834.1 100.6 834.4 100.6 834.6 100.6 834.8 100.6 835.1 100.6 835.3 100.6 835.6 100.6 835.8 100.6 836.1 100.6 836.3 100.6 836.5 100.6 836.8 100.6 837 100.6 837.3 100.6 837.5 100.6 837.8 100.6 838 100.6 838.2 100.6 838.5 100.6 838.7 100.6 839 100.6 839.2 100.6 839.5 100.6 839.7 100.6 840 100.7 840.2 100.7 840.4 100.7 840.7 100.7 840.9 100.7 841.2 100.7 841.4 100.7 841.7 100.7 841.9 100.7 842.1 100.7 842.4 100.7 842.6 100.7 842.9 100.7 843.1 100.7 843.4 100.7 843.6 100.7 843.9 100.7 844.1 100.7 844.3 100.7 844.6 100.7 844.8 100.7 845.1 100.7 845.3 100.7 845.6 100.7 845.8 100.7 846 100.7 846.3 100.8 846.5 100.8 846.8 100.8 847 100.8 847.3 100.8 847.5 100.8 847.8 100.8 848 100.8 848.2 100.8 848.5 100.8 848.7 100.8 849 100.8 849.2 100.8 849.5 100.8 849.7 100.8 849.9 100.8 850.2 100.8 850.4 100.8 850.7 100.8 850.9 100.8 851.2 100.9 851.4 100.9 851.6 100.9 851.9 100.9 852.1 100.9 852.4 100.9 852.6 100.9 852.9 100.9 853.1 100.9 853.4 100.9 853.6 100.9 853.8 100.9 854.1 100.9 854.3 100.9 854.6 100.9 854.8 100.9 855.1 100.9 855.3 100.9 855.5 101 855.8 101 856 101 856.3 101 856.5 101 856.8 101 857 101 857.3 101 857.5 101 857.7 101 858 101 858.2 101 858.5 101 858.7 101 859 101.1 859.2 101.1 859.4 101.1 859.7 101.1 859.9 101.1 860.2 101.1 860.4 101.1 860.7 101.1 860.9 101.1 861.1 101.1 861.4 101.1 861.6 101.1 861.9 101.2 862.1 101.2 862.4 101.2 862.6 101.2 862.9 101.2 863.1 101.2 863.3 101.2 863.6 101.2 863.8 101.2 864.1 101.2 864.3 101.2 864.6 101.3 864.8 101.3 865 101.3 865.3 101.3 865.5 101.3 865.8 101.3 866 101.3 866.3 101.3 866.5 101.3 866.8 101.3 867 101.4 867.2 101.4 867.5 101.4 867.7 101.4 868 101.4 868.2 101.4 868.5 101.4 868.7 101.4 868.9 101.5 869.2 101.5 869.4 101.5 869.7 101.5 869.9 101.5 870.2 101.5 870.4 101.5 870.6 101.5 870.9 101.6 871.1 101.6 871.4 101.6 871.6 101.6 871.9 101.6 872.1 101.6 872.4 101.6 872.6 101.7 872.8 101.7 873.1 101.7 873.3 101.7 873.6 101.7 873.8 101.7 874.1 101.8 874.3 101.8 874.5 101.8 874.8 101.8 875 101.8 875.3 101.8 875.5 101.9 875.8 101.9 876 101.9 876.3 101.9 876.5 101.9 876.7 102 877 102 877.2 102 877.5 102 877.7 102 878 102.1 878.2 102.1 878.4 102.1 878.7 102.1 878.9 102.2 879.2 102.2 879.4 102.2 879.7 102.2 879.9 102.3 880.1 102.3 880.4 102.3 880.6 102.3 880.9 102.4 881.1 102.4 881.4 102.4 881.6 102.4 881.9 102.5 882.1 102.5 882.3 102.5 882.6 102.6 882.8 102.6 883.1 102.6 883.3 102.6 883.6 102.7 883.8 102.7 884 102.7 884.3 102.8 884.5 102.8 884.8 102.8 885 102.9 885.3 102.9 885.5 103 885.8 103 886 103 886.2 103.1 886.5 103.1 886.7 103.2 887 103.2 887.2 103.2 887.5 103.3 887.7 103.3 887.9 103.4 888.2 103.4 888.4 103.5 888.7 103.5 888.9 103.6 889.2 103.6 889.4 103.7 889.6 103.7 889.9 103.8 890.1 103.8 890.4 103.9 890.6 104 890.9 104 891.1 104.1 891.4 104.2 891.6 104.2 891.8 104.3 892.1 104.4 892.3 104.4 892.6 104.5 892.8 104.6 893.1 104.6 893.3 104.7 893.5 104.8 893.8 104.9 894 105 894.3 105 894.5 105.1 894.8 105.2 895 105.3 895.3 105.4 895.5 105.5 895.7 105.6 896 105.7 896.2 105.8 896.5 105.9 896.7 106 897 106.2 897.2 106.3 897.4 106.4 897.7 106.5 897.9 106.7 898.2 106.8 898.4 106.9 898.7 107.1 898.9 107.2 899.2 107.4 899.4 107.5 899.6 107.7 899.9 107.9 900.1 108 900.4 108.2 900.6 108.4 900.9 108.6 901.1 108.8 901.3 109 901.6 109.2 901.8 109.4 902.1 109.6 902.3 109.9 902.6 110.1 902.8 110.4 903 110.6 903.3 110.9 903.5 111.2 903.8 111.5 904 111.8 904.3 112.1 904.5 112.5 904.8 112.8 905 113.2 905.2 113.6 905.5 113.9 905.7 114.4 906 114.8 906.2 115.2 906.5 115.7 906.7 116.2 906.9 116.7 907.2 117.3 907.4 117.8 907.7 118.4 907.9 119 908.2 119.7 908.4 120.4 908.7 121.1 908.9 121.9 909.1 122.7 909.4 123.5 909.6 124.4 909.9 125.4 910.1 126.4 910.4 127.4 910.6 128.6 910.8 129.7 911.1 131 911.3 132.4 911.6 133.8 911.8 135.3 912.1 136.9 912.3 138.7 912.5 140.5 912.8 142.5 913 144.6 913.3 146.9 913.5 149.3 913.8 152 914 154.8 914.3 157.8 914.5 161.1 914.7 164.6 915 168.4 915.2 172.5 915.5 176.9 915.7 181.7 916 186.9 916.2 192.5 916.4 198.6 916.7 205.2 916.9 212.2 917.2 219.9 917.4 228.1 917.7 236.9 917.9 246.3 918.2 256.3 918.4 266.9 918.6 277.9 918.9 289.3 919.1 301 919.4 312.7 919.6 324.1 919.9 335.1 920.1 345.2 920.3 354 920.6 361.2 920.8 366.6 921.1 369.7 921.3 370.5 921.6 368.8 921.8 364.9 922 358.9 922.3 351 922.5 341.7 922.8 331.3 923 320.1 923.3 308.5 923.5 296.9 923.8 285.3 924 274 924.2 263.1 924.5 252.7 924.7 243 925 233.8 925.2 225.2 925.5 217.1 925.7 209.7 925.9 202.8 926.2 196.4 926.4 190.5 926.7 185.1 926.9 180 927.2 175.4 927.4 171.1 927.7 167.1 927.9 163.4 928.1 159.9 928.4 156.8 928.6 153.8 928.9 151.1 929.1 148.5 929.4 146.2 929.6 143.9 929.8 141.9 930.1 139.9 930.3 138.1 930.6 136.4 930.8 134.9 931.1 133.4 931.3 132 931.5 130.7 931.8 129.4 932 128.3 932.3 127.2 932.5 126.1 932.8 125.1 933 124.2 933.3 123.3 933.5 122.5 933.7 121.7 934 121 934.2 120.3 934.5 119.6 934.7 118.9 935 118.3 935.2 117.8 935.4 117.2 935.7 116.7 935.9 116.2 936.2 115.7 936.4 115.2 936.7 114.8 936.9 114.4 937.2 114 937.4 113.6 937.6 113.2 937.9 112.9 938.1 112.5 938.4 112.2 938.6 111.9 938.9 111.6 939.1 111.3 939.3 111 939.6 110.7 939.8 110.5 940.1 110.2 940.3 110 940.6 109.8 940.8 109.5 941 109.3 941.3 109.1 941.5 108.9 941.8 108.7 942 108.6 942.3 108.4 942.5 108.2 942.8 108 943 107.9 943.2 107.7 943.5 107.6 943.7 107.4 944 107.3 944.2 107.1 944.5 107 944.7 106.9 944.9 106.7 945.2 106.6 945.4 106.5 945.7 106.4 945.9 106.3 946.2 106.2 946.4 106.1 946.7 106 946.9 105.9 947.1 105.8 947.4 105.7 947.6 105.6 947.9 105.5 948.1 105.4 948.4 105.3 948.6 105.2 948.8 105.2 949.1 105.1 949.3 105 949.6 104.9 949.8 104.9 950.1 104.8 950.3 104.7 950.6 104.7 950.8 104.6 951 104.5 951.3 104.5 951.5 104.4 951.8 104.4 952 104.3 952.3 104.3 952.5 104.2 952.7 104.2 953 104.1 953.2 104.1 953.5 104 953.7 104 954 103.9 954.2 103.9 954.4 103.8 954.7 103.8 954.9 103.7 955.2 103.7 955.4 103.7 955.7 103.6 955.9 103.6 956.2 103.6 956.4 103.5 956.6 103.5 956.9 103.5 957.1 103.4 957.4 103.4 957.6 103.4 957.9 103.3 958.1 103.3 958.3 103.3 958.6 103.2 958.8 103.2 959.1 103.2 959.3 103.2 959.6 103.1 959.8 103.1 960.1 103.1 960.3 103.1 960.5 103 960.8 103 961 103 961.3 103 961.5 103 961.8 102.9 962 102.9 962.2 102.9 962.5 102.9 962.7 102.9 963 102.8 963.2 102.8 963.5 102.8 963.7 102.8 963.9 102.8 964.2 102.8 964.4 102.7 964.7 102.7 964.9 102.7 965.2 102.7 965.4 102.7 965.7 102.7 965.9 102.7 966.1 102.7 966.4 102.6 966.6 102.6 966.9 102.6 967.1 102.6 967.4 102.6 967.6 102.6 967.8 102.6 968.1 102.6 968.3 102.6 968.6 102.6 968.8 102.6 969.1 102.6 969.3 102.5 969.6 102.5 969.8 102.5 970 102.5 970.3 102.5 970.5 102.5 970.8 102.5 971 102.5 971.3 102.5 971.5 102.5 971.7 102.5 972 102.5 972.2 102.5 972.5 102.5 972.7 102.5 973 102.5 973.2 102.5 973.4 102.5 973.7 102.5 973.9 102.5 974.2 102.5 974.4 102.5 974.7 102.5 974.9 102.5 975.2 102.5 975.4 102.5 975.6 102.5 975.9 102.5 976.1 102.6 976.4 102.6 976.6 102.6 976.9 102.6 977.1 102.6 977.3 102.6 977.6 102.6 977.8 102.6 978.1 102.6 978.3 102.6 978.6 102.6 978.8 102.7 979.1 102.7 979.3 102.7 979.5 102.7 979.8 102.7 980 102.7 980.3 102.7 980.5 102.8 980.8 102.8 981 102.8 981.2 102.8 981.5 102.8 981.7 102.8 982 102.9 982.2 102.9 982.5 102.9 982.7 102.9 982.9 103 983.2 103 983.4 103 983.7 103 983.9 103.1 984.2 103.1 984.4 103.1 984.7 103.1 984.9 103.2 985.1 103.2 985.4 103.2 985.6 103.3 985.9 103.3 986.1 103.3 986.4 103.4 986.6 103.4 986.8 103.5 987.1 103.5 987.3 103.6 987.6 103.6 987.8 103.7 988.1 103.7 988.3 103.8 988.6 103.8 988.8 103.9 989 103.9 989.3 104 989.5 104 989.8 104.1 990 104.2 990.3 104.2 990.5 104.3 990.7 104.4 991 104.5 991.2 104.5 991.5 104.6 991.7 104.7 992 104.8 992.2 104.9 992.4 105 992.7 105.1 992.9 105.2 993.2 105.3 993.4 105.4 993.7 105.5 993.9 105.7 994.2 105.8 994.4 105.9 994.6 106.1 994.9 106.2 995.1 106.4 995.4 106.5 995.6 106.7 995.9 106.9 996.1 107.1 996.3 107.2 996.6 107.4 996.8 107.7 997.1 107.9 997.3 108.1 997.6 108.4 997.8 108.6 998.1 108.9 998.3 109.2 998.5 109.5 998.8 109.8 999 110.1 999.3 110.5 999.5 110.9 999.8 111.3 1000 111.7 1000.2 112.1 1000.5 112.6 1000.7 113.1 1001 113.6 1001.2 114.2 1001.5 114.8 1001.7 115.5 1001.9 116.2 1002.2 116.9 1002.4 117.7 1002.7 118.5 1002.9 119.4 1003.2 120.4 1003.4 121.5 1003.7 122.6 1003.9 123.8 1004.1 125.1 1004.4 126.5 1004.6 128 1004.9 129.7 1005.1 131.5 1005.4 133.4 1005.6 135.4 1005.8 137.7 1006.1 140.1 1006.3 142.8 1006.6 145.6 1006.8 148.7 1007.1 151.9 1007.3 155.5 1007.6 159.2 1007.8 163.2 1008 167.4 1008.3 171.8 1008.5 176.4 1008.8 181 1009 185.6 1009.3 190.1 1009.5 194.4 1009.7 198.3 1010 201.7 1010.2 204.5 1010.5 206.5 1010.7 207.6 1011 207.7 1011.2 207 1011.5 205.3 1011.7 202.8 1011.9 199.5 1012.2 195.8 1012.4 191.6 1012.7 187.1 1012.9 182.5 1013.2 177.9 1013.4 173.3 1013.6 168.9 1013.9 164.6 1014.1 160.5 1014.4 156.7 1014.6 153.1 1014.9 149.7 1015.1 146.6 1015.3 143.7 1015.6 141 1015.8 138.5 1016.1 136.1 1016.3 134 1016.6 132 1016.8 130.2 1017.1 128.5 1017.3 127 1017.5 125.5 1017.8 124.2 1018 122.9 1018.3 121.8 1018.5 120.7 1018.8 119.7 1019 118.8 1019.2 117.9 1019.5 117.1 1019.7 116.3 1020 115.6 1020.2 115 1020.5 114.3 1020.7 113.8 1021 113.2 1021.2 112.7 1021.4 112.2 1021.7 111.7 1021.9 111.3 1022.2 110.9 1022.4 110.5 1022.7 110.2 1022.9 109.8 1023.1 109.5 1023.4 109.2 1023.6 108.9 1023.9 108.6 1024.1 108.3 1024.4 108.1 1024.6 107.8 1024.8 107.6 1025.1 107.4 1025.3 107.2 1025.6 107 1025.8 106.8 1026.1 106.6 1026.3 106.5 1026.6 106.3 1026.8 106.1 1027 106 1027.3 105.8 1027.5 105.7 1027.8 105.6 1028 105.4 1028.3 105.3 1028.5 105.2 1028.7 105.1 1029 105 1029.2 104.9 1029.5 104.8 1029.7 104.7 1030 104.6 1030.2 104.5 1030.5 104.4 1030.7 104.3 1030.9 104.2 1031.2 104.2 1031.4 104.1 1031.7 104 1031.9 103.9 1032.2 103.9 1032.4 103.8 1032.6 103.7 1032.9 103.7 1033.1 103.6 1033.4 103.6 1033.6 103.5 1033.9 103.5 1034.1 103.4 1034.3 103.4 1034.6 103.3 1034.8 103.3 1035.1 103.2 1035.3 103.2 1035.6 103.1 1035.8 103.1 1036.1 103 1036.3 103 1036.5 103 1036.8 102.9 1037 102.9 1037.3 102.9 1037.5 102.8 1037.8 102.8 1038 102.8 1038.2 102.7 1038.5 102.7 1038.7 102.7 1039 102.7 1039.2 102.6 1039.5 102.6 1039.7 102.6 1040 102.6 1040.2 102.5 1040.4 102.5 1040.7 102.5 1040.9 102.5 1041.2 102.4 1041.4 102.4 1041.7 102.4 1041.9 102.4 1042.1 102.4 1042.4 102.3 1042.6 102.3 1042.9 102.3 1043.1 102.3 1043.4 102.3 1043.6 102.3 1043.8 102.3 1044.1 102.2 1044.3 102.2 1044.6 102.2 1044.8 102.2 1045.1 102.2 1045.3 102.2 1045.6 102.2 1045.8 102.2 1046 102.1 1046.3 102.1 1046.5 102.1 1046.8 102.1 1047 102.1 1047.3 102.1 1047.5 102.1 1047.7 102.1 1048 102.1 1048.2 102.1 1048.5 102.1 1048.7 102.1 1049 102.1 1049.2 102 1049.5 102 1049.7 102 1049.9 102 1050.2 102 1050.4 102 1050.7 102 1050.9 102 1051.2 102 1051.4 102 1051.6 102 1051.9 102 1052.1 102 1052.4 102 1052.6 102 1052.9 102 1053.1 102 1053.3 102 1053.6 102 1053.8 102 1054.1 102 1054.3 102 1054.6 102 1054.8 102 1055.1 102 1055.3 102 1055.5 102 1055.8 102 1056 102 1056.3 102 1056.5 102 1056.8 102 1057 102.1 1057.2 102.1 1057.5 102.1 1057.7 102.1 1058 102.1 1058.2 102.1 1058.5 102.1 1058.7 102.1 1059 102.1 1059.2 102.1 1059.4 102.1 1059.7 102.1 1059.9 102.1 1060.2 102.2 1060.4 102.2 1060.7 102.2 1060.9 102.2 1061.1 102.2 1061.4 102.2 1061.6 102.2 1061.9 102.2 1062.1 102.3 1062.4 102.3 1062.6 102.3 1062.9 102.3 1063.1 102.3 1063.3 102.3 1063.6 102.4 1063.8 102.4 1064.1 102.4 1064.3 102.4 1064.6 102.4 1064.8 102.5 1065 102.5 1065.3 102.5 1065.5 102.5 1065.8 102.5 1066 102.6 1066.3 102.6 1066.5 102.6 1066.7 102.6 1067 102.7 1067.2 102.7 1067.5 102.7 1067.7 102.8 1068 102.8 1068.2 102.8 1068.5 102.9 1068.7 102.9 1068.9 102.9 1069.2 103 1069.4 103 1069.7 103 1069.9 103.1 1070.2 103.1 1070.4 103.2 1070.6 103.2 1070.9 103.3 1071.1 103.3 1071.4 103.4 1071.6 103.4 1071.9 103.5 1072.1 103.5 1072.4 103.6 1072.6 103.6 1072.8 103.7 1073.1 103.8 1073.3 103.8 1073.6 103.9 1073.8 104 1074.1 104 1074.3 104.1 1074.5 104.2 1074.8 104.3 1075 104.4 1075.3 104.4 1075.5 104.5 1075.8 104.6 1076 104.7 1076.2 104.8 1076.5 104.9 1076.7 105.1 1077 105.2 1077.2 105.3 1077.5 105.4 1077.7 105.5 1078 105.7 1078.2 105.8 1078.4 106 1078.7 106.1 1078.9 106.3 1079.2 106.5 1079.4 106.7 1079.7 106.8 1079.9 107 1080.1 107.2 1080.4 107.5 1080.6 107.7 1080.9 107.9 1081.1 108.2 1081.4 108.4 1081.6 108.7 1081.9 109 1082.1 109.3 1082.3 109.7 1082.6 110 1082.8 110.4 1083.1 110.8 1083.3 111.2 1083.6 111.6 1083.8 112.1 1084 112.6 1084.3 113.1 1084.5 113.7 1084.8 114.3 1085 114.9 1085.3 115.6 1085.5 116.3 1085.7 117.1 1086 118 1086.2 118.9 1086.5 119.8 1086.7 120.9 1087 122 1087.2 123.2 1087.5 124.5 1087.7 125.9 1087.9 127.4 1088.2 129.1 1088.4 130.9 1088.7 132.8 1088.9 134.9 1089.2 137.1 1089.4 139.6 1089.6 142.2 1089.9 145 1090.1 148.1 1090.4 151.3 1090.6 154.8 1090.9 158.5 1091.1 162.4 1091.4 166.4 1091.6 170.6 1091.8 174.8 1092.1 179 1092.3 183.1 1092.6 187 1092.8 190.6 1093.1 193.6 1093.3 196 1093.5 197.7 1093.8 198.6 1094 198.6 1094.3 197.8 1094.5 196.2 1094.8 193.8 1095 190.7 1095.2 187.2 1095.5 183.4 1095.7 179.3 1096 175.1 1096.2 170.8 1096.5 166.7 1096.7 162.6 1097 158.7 1097.2 155 1097.4 151.5 1097.7 148.3 1097.9 145.2 1098.2 142.4 1098.4 139.8 1098.7 137.3 1098.9 135.1 1099.1 133 1099.4 131 1099.6 129.3 1099.9 127.6 1100.1 126.1 1100.4 124.7 1100.6 123.4 1100.9 122.2 1101.1 121 1101.3 120 1101.6 119 1101.8 118.1 1102.1 117.3 1102.3 116.5 1102.6 115.8 1102.8 115.1 1103 114.4 1103.3 113.8 1103.5 113.3 1103.8 112.8 1104 112.3 1104.3 111.8 1104.5 111.4 1104.7 111 1105 110.6 1105.2 110.2 1105.5 109.9 1105.7 109.5 1106 109.2 1106.2 108.9 1106.5 108.7 1106.7 108.4 1106.9 108.1 1107.2 107.9 1107.4 107.7 1107.7 107.5 1107.9 107.3 1108.2 107.1 1108.4 106.9 1108.6 106.7 1108.9 106.5 1109.1 106.4 1109.4 106.2 1109.6 106.1 1109.9 106 1110.1 105.8 1110.4 105.7 1110.6 105.6 1110.8 105.5 1111.1 105.3 1111.3 105.2 1111.6 105.1 1111.8 105 1112.1 104.9 1112.3 104.9 1112.5 104.8 1112.8 104.7 1113 104.6 1113.3 104.5 1113.5 104.5 1113.8 104.4 1114 104.3 1114.3 104.3 1114.5 104.2 1114.7 104.1 1115 104.1 1115.2 104 1115.5 104 1115.7 103.9 1116 103.9 1116.2 103.8 1116.4 103.8 1116.7 103.8 1116.9 103.7 1117.2 103.7 1117.4 103.6 1117.7 103.6 1117.9 103.6 1118.1 103.5 1118.4 103.5 1118.6 103.5 1118.9 103.5 1119.1 103.4 1119.4 103.4 1119.6 103.4 1119.9 103.4 1120.1 103.3 1120.3 103.3 1120.6 103.3 1120.8 103.3 1121.1 103.3 1121.3 103.3 1121.6 103.2 1121.8 103.2 1122 103.2 1122.3 103.2 1122.5 103.2 1122.8 103.2 1123 103.2 1123.3 103.2 1123.5 103.2 1123.8 103.2 1124 103.2 1124.2 103.2 1124.5 103.2 1124.7 103.2 1125 103.2 1125.2 103.2 1125.5 103.2 1125.7 103.2 1125.9 103.2 1126.2 103.2 1126.4 103.2 1126.7 103.2 1126.9 103.2 1127.2 103.2 1127.4 103.2 1127.6 103.2 1127.9 103.2 1128.1 103.3 1128.4 103.3 1128.6 103.3 1128.9 103.3 1129.1 103.3 1129.4 103.3 1129.6 103.4 1129.8 103.4 1130.1 103.4 1130.3 103.4 1130.6 103.5 1130.8 103.5 1131.1 103.5 1131.3 103.5 1131.5 103.6 1131.8 103.6 1132 103.6 1132.3 103.7 1132.5 103.7 1132.8 103.7 1133 103.8 1133.3 103.8 1133.5 103.9 1133.7 103.9 1134 104 1134.2 104 1134.5 104.1 1134.7 104.1 1135 104.2 1135.2 104.2 1135.4 104.3 1135.7 104.4 1135.9 104.4 1136.2 104.5 1136.4 104.6 1136.7 104.6 1136.9 104.7 1137.1 104.8 1137.4 104.9 1137.6 105 1137.9 105.1 1138.1 105.2 1138.4 105.3 1138.6 105.4 1138.9 105.5 1139.1 105.6 1139.3 105.7 1139.6 105.8 1139.8 105.9 1140.1 106.1 1140.3 106.2 1140.6 106.4 1140.8 106.5 1141 106.7 1141.3 106.8 1141.5 107 1141.8 107.2 1142 107.4 1142.3 107.6 1142.5 107.8 1142.8 108 1143 108.3 1143.2 108.5 1143.5 108.8 1143.7 109.1 1144 109.3 1144.2 109.6 1144.5 110 1144.7 110.3 1144.9 110.7 1145.2 111 1145.4 111.5 1145.7 111.9 1145.9 112.3 1146.2 112.8 1146.4 113.3 1146.6 113.9 1146.9 114.4 1147.1 115.1 1147.4 115.7 1147.6 116.4 1147.9 117.2 1148.1 118 1148.4 118.8 1148.6 119.7 1148.8 120.7 1149.1 121.8 1149.3 122.9 1149.6 124.2 1149.8 125.5 1150.1 126.9 1150.3 128.5 1150.5 130.2 1150.8 132 1151 133.9 1151.3 136.1 1151.5 138.3 1151.8 140.8 1152 143.5 1152.3 146.4 1152.5 149.5 1152.7 152.9 1153 156.4 1153.2 160.3 1153.5 164.3 1153.7 168.6 1154 173 1154.2 177.6 1154.4 182.2 1154.7 186.8 1154.9 191.3 1155.2 195.5 1155.4 199.3 1155.7 202.6 1155.9 205.1 1156.1 206.9 1156.4 207.8 1156.6 207.7 1156.9 206.7 1157.1 204.8 1157.4 202.1 1157.6 198.7 1157.9 194.8 1158.1 190.6 1158.3 186.1 1158.6 181.4 1158.8 176.8 1159.1 172.3 1159.3 167.8 1159.6 163.6 1159.8 159.6 1160 155.8 1160.3 152.3 1160.5 149 1160.8 145.9 1161 143 1161.3 140.4 1161.5 137.9 1161.8 135.7 1162 133.6 1162.2 131.6 1162.5 129.8 1162.7 128.2 1163 126.6 1163.2 125.2 1163.5 123.9 1163.7 122.7 1163.9 121.6 1164.2 120.5 1164.4 119.5 1164.7 118.6 1164.9 117.7 1165.2 117 1165.4 116.2 1165.7 115.5 1165.9 114.9 1166.1 114.2 1166.4 113.7 1166.6 113.1 1166.9 112.6 1167.1 112.1 1167.4 111.7 1167.6 111.3 1167.8 110.9 1168.1 110.5 1168.3 110.1 1168.6 109.8 1168.8 109.5 1169.1 109.2 1169.3 108.9 1169.5 108.6 1169.8 108.3 1170 108.1 1170.3 107.8 1170.5 107.6 1170.8 107.4 1171 107.2 1171.3 107 1171.5 106.8 1171.7 106.6 1172 106.5 1172.2 106.3 1172.5 106.2 1172.7 106 1173 105.9 1173.2 105.7 1173.4 105.6 1173.7 105.5 1173.9 105.3 1174.2 105.2 1174.4 105.1 1174.7 105 1174.9 104.9 1175.2 104.8 1175.4 104.7 1175.6 104.6 1175.9 104.5 1176.1 104.4 1176.4 104.4 1176.6 104.3 1176.9 104.2 1177.1 104.1 1177.3 104.1 1177.6 104 1177.8 103.9 1178.1 103.9 1178.3 103.8 1178.6 103.7 1178.8 103.7 1179 103.6 1179.3 103.6 1179.5 103.5 1179.8 103.5 1180 103.4 1180.3 103.4 1180.5 103.3 1180.8 103.3 1181 103.2 1181.2 103.2 1181.5 103.2 1181.7 103.1 1182 103.1 1182.2 103.1 1182.5 103 1182.7 103 1182.9 103 1183.2 102.9 1183.4 102.9 1183.7 102.9 1183.9 102.8 1184.2 102.8 1184.4 102.8 1184.7 102.8 1184.9 102.7 1185.1 102.7 1185.4 102.7 1185.6 102.7 1185.9 102.6 1186.1 102.6 1186.4 102.6 1186.6 102.6 1186.8 102.6 1187.1 102.5 1187.3 102.5 1187.6 102.5 1187.8 102.5 1188.1 102.5 1188.3 102.4 1188.5 102.4 1188.8 102.4 1189 102.4 1189.3 102.4 1189.5 102.4 1189.8 102.4 1190 102.4 1190.3 102.3 1190.5 102.3 1190.7 102.3 1191 102.3 1191.2 102.3 1191.5 102.3 1191.7 102.3 1192 102.3 1192.2 102.3 1192.4 102.3 1192.7 102.3 1192.9 102.2 1193.2 102.2 1193.4 102.2 1193.7 102.2 1193.9 102.2 1194.2 102.2 1194.4 102.2 1194.6 102.2 1194.9 102.2 1195.1 102.2 1195.4 102.2 1195.6 102.2 1195.9 102.2 1196.1 102.2 1196.3 102.2 1196.6 102.2 1196.8 102.2 1197.1 102.2 1197.3 102.2 1197.6 102.2 1197.8 102.2 1198 102.2 1198.3 102.2 1198.5 102.2 1198.8 102.2 1199 102.2 1199.3 102.2 1199.5 102.2 1199.8 102.2 1200 102.2 1200.2 102.2 1200.5 102.2 1200.7 102.2 1201 102.3 1201.2 102.3 1201.5 102.3 1201.7 102.3 1201.9 102.3 1202.2 102.3 1202.4 102.3 1202.7 102.3 1202.9 102.3 1203.2 102.3 1203.4 102.3 1203.7 102.3 1203.9 102.4 1204.1 102.4 1204.4 102.4 1204.6 102.4 1204.9 102.4 1205.1 102.4 1205.4 102.4 1205.6 102.5 1205.8 102.5 1206.1 102.5 1206.3 102.5 1206.6 102.5 1206.8 102.5 1207.1 102.6 1207.3 102.6 1207.5 102.6 1207.8 102.6 1208 102.6 1208.3 102.7 1208.5 102.7 1208.8 102.7 1209 102.7 1209.3 102.8 1209.5 102.8 1209.7 102.8 1210 102.8 1210.2 102.9 1210.5 102.9 1210.7 102.9 1211 103 1211.2 103 1211.4 103 1211.7 103 1211.9 103.1 1212.2 103.1 1212.4 103.2 1212.7 103.2 1212.9 103.2 1213.2 103.3 1213.4 103.3 1213.6 103.4 1213.9 103.4 1214.1 103.5 1214.4 103.5 1214.6 103.6 1214.9 103.6 1215.1 103.7 1215.3 103.7 1215.6 103.8 1215.8 103.8 1216.1 103.9 1216.3 103.9 1216.6 104 1216.8 104.1 1217.1 104.1 1217.3 104.2 1217.5 104.3 1217.8 104.4 1218 104.4 1218.3 104.5 1218.5 104.6 1218.8 104.7 1219 104.8 1219.2 104.9 1219.5 105 1219.7 105.1 1220 105.2 1220.2 105.3 1220.5 105.4 1220.7 105.5 1220.9 105.7 1221.2 105.8 1221.4 105.9 1221.7 106.1 1221.9 106.2 1222.2 106.4 1222.4 106.5 1222.7 106.7 1222.9 106.9 1223.1 107.1 1223.4 107.3 1223.6 107.5 1223.9 107.7 1224.1 107.9 1224.4 108.1 1224.6 108.4 1224.8 108.6 1225.1 108.9 1225.3 109.2 1225.6 109.5 1225.8 109.8 1226.1 110.1 1226.3 110.5 1226.6 110.8 1226.8 111.2 1227 111.6 1227.3 112 1227.5 112.5 1227.8 113 1228 113.5 1228.3 114.1 1228.5 114.6 1228.7 115.3 1229 115.9 1229.2 116.6 1229.5 117.4 1229.7 118.2 1230 119 1230.2 120 1230.4 120.9 1230.7 122 1230.9 123.1 1231.2 124.4 1231.4 125.7 1231.7 127.1 1231.9 128.7 1232.2 130.3 1232.4 132.1 1232.6 134 1232.9 136.1 1233.1 138.4 1233.4 140.9 1233.6 143.5 1233.9 146.4 1234.1 149.5 1234.3 152.8 1234.6 156.4 1234.8 160.2 1235.1 164.3 1235.3 168.6 1235.6 173.1 1235.8 177.8 1236.1 182.7 1236.3 187.6 1236.5 192.4 1236.8 197.1 1237 201.5 1237.3 205.5 1237.5 208.8 1237.8 211.4 1238 213.2 1238.2 214 1238.5 213.7 1238.7 212.5 1239 210.4 1239.2 207.5 1239.5 203.8 1239.7 199.7 1239.9 195.1 1240.2 190.3 1240.4 185.4 1240.7 180.6 1240.9 175.8 1241.2 171.1 1241.4 166.7 1241.7 162.5 1241.9 158.5 1242.1 154.8 1242.4 151.4 1242.6 148.1 1242.9 145.2 1243.1 142.4 1243.4 139.8 1243.6 137.5 1243.8 135.3 1244.1 133.3 1244.3 131.4 1244.6 129.7 1244.8 128.1 1245.1 126.6 1245.3 125.2 1245.6 123.9 1245.8 122.8 1246 121.7 1246.3 120.6 1246.5 119.7 1246.8 118.8 1247 118 1247.3 117.2 1247.5 116.5 1247.7 115.8 1248 115.1 1248.2 114.5 1248.5 114 1248.7 113.5 1249 113 1249.2 112.5 1249.4 112 1249.7 111.6 1249.9 111.2 1250.2 110.9 1250.4 110.5 1250.7 110.2 1250.9 109.9 1251.2 109.6 1251.4 109.3 1251.6 109 1251.9 108.8 1252.1 108.5 1252.4 108.3 1252.6 108.1 1252.9 107.8 1253.1 107.6 1253.3 107.5 1253.6 107.3 1253.8 107.1 1254.1 106.9 1254.3 106.8 1254.6 106.6 1254.8 106.5 1255.1 106.3 1255.3 106.2 1255.5 106.1 1255.8 105.9 1256 105.8 1256.3 105.7 1256.5 105.6 1256.8 105.5 1257 105.4 1257.2 105.3 1257.5 105.2 1257.7 105.1 1258 105.1 1258.2 105 1258.5 104.9 1258.7 104.8 1258.9 104.7 1259.2 104.7 1259.4 104.6 1259.7 104.5 1259.9 104.5 1260.2 104.4 1260.4 104.4 1260.7 104.3 1260.9 104.3 1261.1 104.2 1261.4 104.2 1261.6 104.1 1261.9 104.1 1262.1 104 1262.4 104 1262.6 104 1262.8 103.9 1263.1 103.9 1263.3 103.8 1263.6 103.8 1263.8 103.8 1264.1 103.7 1264.3 103.7 1264.6 103.7 1264.8 103.7 1265 103.6 1265.3 103.6 1265.5 103.6 1265.8 103.6 1266 103.5 1266.3 103.5 1266.5 103.5 1266.7 103.5 1267 103.5 1267.2 103.5 1267.5 103.4 1267.7 103.4 1268 103.4 1268.2 103.4 1268.4 103.4 1268.7 103.4 1268.9 103.4 1269.2 103.4 1269.4 103.4 1269.7 103.3 1269.9 103.3 1270.2 103.3 1270.4 103.3 1270.6 103.3 1270.9 103.3 1271.1 103.3 1271.4 103.3 1271.6 103.3 1271.9 103.3 1272.1 103.3 1272.3 103.3 1272.6 103.3 1272.8 103.3 1273.1 103.3 1273.3 103.3 1273.6 103.3 1273.8 103.3 1274.1 103.3 1274.3 103.4 1274.5 103.4 1274.8 103.4 1275 103.4 1275.3 103.4 1275.5 103.4 1275.8 103.4 1276 103.4 1276.2 103.4 1276.5 103.4 1276.7 103.5 1277 103.5 1277.2 103.5 1277.5 103.5 1277.7 103.5 1278 103.5 1278.2 103.6 1278.4 103.6 1278.7 103.6 1278.9 103.6 1279.2 103.6 1279.4 103.7 1279.7 103.7 1279.9 103.7 1280.1 103.7 1280.4 103.8 1280.6 103.8 1280.9 103.8 1281.1 103.9 1281.4 103.9 1281.6 103.9 1281.8 104 1282.1 104 1282.3 104 1282.6 104.1 1282.8 104.1 1283.1 104.1 1283.3 104.2 1283.6 104.2 1283.8 104.3 1284 104.3 1284.3 104.3 1284.5 104.4 1284.8 104.4 1285 104.5 1285.3 104.5 1285.5 104.6 1285.7 104.6 1286 104.7 1286.2 104.7 1286.5 104.8 1286.7 104.9 1287 104.9 1287.2 105 1287.5 105.1 1287.7 105.1 1287.9 105.2 1288.2 105.3 1288.4 105.3 1288.7 105.4 1288.9 105.5 1289.2 105.6 1289.4 105.6 1289.6 105.7 1289.9 105.8 1290.1 105.9 1290.4 106 1290.6 106.1 1290.9 106.2 1291.1 106.3 1291.3 106.4 1291.6 106.5 1291.8 106.6 1292.1 106.7 1292.3 106.9 1292.6 107 1292.8 107.1 1293.1 107.2 1293.3 107.4 1293.5 107.5 1293.8 107.6 1294 107.8 1294.3 108 1294.5 108.1 1294.8 108.3 1295 108.4 1295.2 108.6 1295.5 108.8 1295.7 109 1296 109.2 1296.2 109.4 1296.5 109.6 1296.7 109.8 1297 110.1 1297.2 110.3 1297.4 110.5 1297.7 110.8 1297.9 111.1 1298.2 111.3 1298.4 111.6 1298.7 111.9 1298.9 112.2 1299.1 112.6 1299.4 112.9 1299.6 113.3 1299.9 113.6 1300.1 114 1300.4 114.4 1300.6 114.8 1300.8 115.3 1301.1 115.8 1301.3 116.2 1301.6 116.7 1301.8 117.3 1302.1 117.8 1302.3 118.4 1302.6 119 1302.8 119.7 1303 120.4 1303.3 121.1 1303.5 121.9 1303.8 122.7 1304 123.5 1304.3 124.4 1304.5 125.3 1304.7 126.3 1305 127.4 1305.2 128.5 1305.5 129.7 1305.7 131 1306 132.3 1306.2 133.8 1306.5 135.3 1306.7 136.9 1306.9 138.7 1307.2 140.5 1307.4 142.5 1307.7 144.7 1307.9 147 1308.2 149.4 1308.4 152.1 1308.6 154.9 1308.9 158 1309.1 161.3 1309.4 164.8 1309.6 168.7 1309.9 172.9 1310.1 177.4 1310.3 182.2 1310.6 187.5 1310.8 193.2 1311.1 199.4 1311.3 206 1311.6 213.2 1311.8 220.9 1312.1 229.2 1312.3 238.1 1312.5 247.6 1312.8 257.6 1313 268.1 1313.3 279 1313.5 290.1 1313.8 301.4 1314 312.5 1314.2 323.3 1314.5 333.3 1314.7 342.2 1315 349.7 1315.2 355.5 1315.5 359.2 1315.7 360.7 1316 359.9 1316.2 356.8 1316.4 351.6 1316.7 344.6 1316.9 336 1317.2 326.3 1317.4 315.7 1317.7 304.7 1317.9 293.4 1318.1 282.2 1318.4 271.2 1318.6 260.6 1318.9 250.4 1319.1 240.8 1319.4 231.7 1319.6 223.3 1319.8 215.4 1320.1 208 1320.3 201.2 1320.6 194.9 1320.8 189.1 1321.1 183.7 1321.3 178.7 1321.6 174.1 1321.8 169.8 1322 165.9 1322.3 162.2 1322.5 158.8 1322.8 155.7 1323 152.8 1323.3 150.1 1323.5 147.5 1323.7 145.2 1324 143 1324.2 141 1324.5 139.1 1324.7 137.3 1325 135.6 1325.2 134.1 1325.5 132.6 1325.7 131.2 1325.9 129.9 1326.2 128.7 1326.4 127.6 1326.7 126.5 1326.9 125.4 1327.2 124.5 1327.4 123.6 1327.6 122.7 1327.9 121.9 1328.1 121.1 1328.4 120.4 1328.6 119.7 1328.9 119 1329.1 118.4 1329.4 117.8 1329.6 117.2 1329.8 116.7 1330.1 116.2 1330.3 115.7 1330.6 115.2 1330.8 114.7 1331.1 114.3 1331.3 113.9 1331.5 113.5 1331.8 113.1 1332 112.7 1332.3 112.4 1332.5 112.1 1332.8 111.7 1333 111.4 1333.2 111.1 1333.5 110.8 1333.7 110.6 1334 110.3 1334.2 110.1 1334.5 109.8 1334.7 109.6 1335 109.3 1335.2 109.1 1335.4 108.9 1335.7 108.7 1335.9 108.5 1336.2 108.3 1336.4 108.1 1336.7 108 1336.9 107.8 1337.1 107.6 1337.4 107.5 1337.6 107.3 1337.9 107.2 1338.1 107 1338.4 106.9 1338.6 106.7 1338.9 106.6 1339.1 106.5 1339.3 106.3 1339.6 106.2 1339.8 106.1 1340.1 106 1340.3 105.9 1340.6 105.8 1340.8 105.7 1341 105.6 1341.3 105.5 1341.5 105.4 1341.8 105.3 1342 105.2 1342.3 105.1 1342.5 105 1342.7 104.9 1343 104.8 1343.2 104.7 1343.5 104.7 1343.7 104.6 1344 104.5 1344.2 104.4 1344.5 104.4 1344.7 104.3 1344.9 104.2 1345.2 104.2 1345.4 104.1 1345.7 104 1345.9 104 1346.2 103.9 1346.4 103.9 1346.6 103.8 1346.9 103.8 1347.1 103.7 1347.4 103.6 1347.6 103.6 1347.9 103.5 1348.1 103.5 1348.4 103.4 1348.6 103.4 1348.8 103.3 1349.1 103.3 1349.3 103.3 1349.6 103.2 1349.8 103.2 1350.1 103.1 1350.3 103.1 1350.5 103 1350.8 103 1351 103 1351.3 102.9 1351.5 102.9 1351.8 102.9 1352 102.8 1352.2 102.8 1352.5 102.8 1352.7 102.7 1353 102.7 1353.2 102.7 1353.5 102.6 1353.7 102.6 1354 102.6 1354.2 102.5 1354.4 102.5 1354.7 102.5 1354.9 102.4 1355.2 102.4 1355.4 102.4 1355.7 102.4 1355.9 102.3 1356.1 102.3 1356.4 102.3 1356.6 102.3 1356.9 102.2 1357.1 102.2 1357.4 102.2 1357.6 102.2 1357.9 102.1 1358.1 102.1 1358.3 102.1 1358.6 102.1 1358.8 102 1359.1 102 1359.3 102 1359.6 102 1359.8 102 1360 101.9 1360.3 101.9 1360.5 101.9 1360.8 101.9 1361 101.9 1361.3 101.8 1361.5 101.8 1361.7 101.8 1362 101.8 1362.2 101.8 1362.5 101.8 1362.7 101.7 1363 101.7 1363.2 101.7 1363.5 101.7 1363.7 101.7 1363.9 101.7 1364.2 101.6 1364.4 101.6 1364.7 101.6 1364.9 101.6 1365.2 101.6 1365.4 101.6 1365.6 101.6 1365.9 101.5 1366.1 101.5 1366.4 101.5 1366.6 101.5 1366.9 101.5 1367.1 101.5 1367.4 101.5 1367.6 101.5 1367.8 101.4 1368.1 101.4 1368.3 101.4 1368.6 101.4 1368.8 101.4 1369.1 101.4 1369.3 101.4 1369.5 101.4 1369.8 101.3 1370 101.3 1370.3 101.3 1370.5 101.3 1370.8 101.3 1371 101.3 1371.2 101.3 1371.5 101.3 1371.7 101.3 1372 101.3 1372.2 101.2 1372.5 101.2 1372.7 101.2 1373 101.2 1373.2 101.2 1373.4 101.2 1373.7 101.2 1373.9 101.2 1374.2 101.2 1374.4 101.2 1374.7 101.2 1374.9 101.1 1375.1 101.1 1375.4 101.1 1375.6 101.1 1375.9 101.1 1376.1 101.1 1376.4 101.1 1376.6 101.1 1376.9 101.1 1377.1 101.1 1377.3 101.1 1377.6 101.1 1377.8 101 1378.1 101 1378.3 101 1378.6 101 1378.8 101 1379 101 1379.3 101 1379.5 101 1379.8 101 1380 101 1380.3 101 1380.5 101 1380.8 101 1381 101 1381.2 101 1381.5 100.9 1381.7 100.9 1382 100.9 1382.2 100.9 1382.5 100.9 1382.7 100.9 1382.9 100.9 1383.2 100.9 1383.4 100.9 1383.7 100.9 1383.9 100.9 1384.2 100.9 1384.4 100.9 1384.6 100.9 1384.9 100.9 1385.1 100.9 1385.4 100.9 1385.6 100.8 1385.9 100.8 1386.1 100.8 1386.4 100.8 1386.6 100.8 1386.8 100.8 1387.1 100.8 1387.3 100.8 1387.6 100.8 1387.8 100.8 1388.1 100.8 1388.3 100.8 1388.5 100.8 1388.8 100.8 1389 100.8 1389.3 100.8 1389.5 100.8 1389.8 100.8 1390 100.8 1390.3 100.8 1390.5 100.8 1390.7 100.7 1391 100.7 1391.2 100.7 1391.5 100.7 1391.7 100.7 1392 100.7 1392.2 100.7 1392.4 100.7 1392.7 100.7 1392.9 100.7 1393.2 100.7 1393.4 100.7 1393.7 100.7 1393.9 100.7 1394.1 100.7 1394.4 100.7 1394.6 100.7 1394.9 100.7 1395.1 100.7 1395.4 100.7 1395.6 100.7 1395.9 100.7 1396.1 100.7 1396.3 100.7 1396.6 100.7 1396.8 100.7 1397.1 100.6 1397.3 100.6 1397.6 100.6 1397.8 100.6 1398 100.6 1398.3 100.6 1398.5 100.6 1398.8 100.6 1399 100.6 1399.3 100.6 1399.5 100.6 1399.8 100.6 1400 100.6 1400.2 100.6 1400.5 100.6 1400.7 100.6 1401 100.6 1401.2 100.6 1401.5 100.6 1401.7 100.6L1401.7 100 Z" fill="url(#bB)" opacity="0.95"/>
<path d="M817.3 100L817.3 100.2 817.5 100.2 817.8 100.2 818 100.2 818.3 100.2 818.5 100.2 818.8 100.2 819 100.2 819.2 100.2 819.5 100.2 819.7 100.2 820 100.2 820.2 100.2 820.5 100.2 820.7 100.2 821 100.2 821.2 100.2 821.4 100.2 821.7 100.2 821.9 100.2 822.2 100.2 822.4 100.2 822.7 100.2 822.9 100.2 823.1 100.2 823.4 100.2 823.6 100.2 823.9 100.2 824.1 100.2 824.4 100.2 824.6 100.2 824.9 100.2 825.1 100.2 825.3 100.2 825.6 100.2 825.8 100.2 826.1 100.2 826.3 100.2 826.6 100.2 826.8 100.2 827 100.2 827.3 100.2 827.5 100.2 827.8 100.2 828 100.2 828.3 100.2 828.5 100.2 828.7 100.2 829 100.2 829.2 100.2 829.5 100.2 829.7 100.2 830 100.2 830.2 100.2 830.5 100.2 830.7 100.2 830.9 100.2 831.2 100.2 831.4 100.2 831.7 100.2 831.9 100.2 832.2 100.2 832.4 100.2 832.6 100.2 832.9 100.2 833.1 100.2 833.4 100.2 833.6 100.2 833.9 100.2 834.1 100.2 834.4 100.2 834.6 100.2 834.8 100.2 835.1 100.2 835.3 100.2 835.6 100.3 835.8 100.3 836.1 100.3 836.3 100.3 836.5 100.3 836.8 100.3 837 100.3 837.3 100.3 837.5 100.3 837.8 100.3 838 100.3 838.2 100.3 838.5 100.3 838.7 100.3 839 100.3 839.2 100.3 839.5 100.3 839.7 100.3 840 100.3 840.2 100.3 840.4 100.3 840.7 100.3 840.9 100.3 841.2 100.3 841.4 100.3 841.7 100.3 841.9 100.3 842.1 100.3 842.4 100.3 842.6 100.3 842.9 100.3 843.1 100.3 843.4 100.3 843.6 100.3 843.9 100.3 844.1 100.3 844.3 100.3 844.6 100.3 844.8 100.3 845.1 100.3 845.3 100.3 845.6 100.3 845.8 100.3 846 100.3 846.3 100.3 846.5 100.3 846.8 100.3 847 100.3 847.3 100.3 847.5 100.3 847.8 100.3 848 100.3 848.2 100.3 848.5 100.3 848.7 100.3 849 100.3 849.2 100.3 849.5 100.3 849.7 100.3 849.9 100.3 850.2 100.3 850.4 100.3 850.7 100.3 850.9 100.3 851.2 100.3 851.4 100.3 851.6 100.3 851.9 100.3 852.1 100.3 852.4 100.3 852.6 100.3 852.9 100.3 853.1 100.4 853.4 100.4 853.6 100.4 853.8 100.4 854.1 100.4 854.3 100.4 854.6 100.4 854.8 100.4 855.1 100.4 855.3 100.4 855.5 100.4 855.8 100.4 856 100.4 856.3 100.4 856.5 100.4 856.8 100.4 857 100.4 857.3 100.4 857.5 100.4 857.7 100.4 858 100.4 858.2 100.4 858.5 100.4 858.7 100.4 859 100.4 859.2 100.4 859.4 100.4 859.7 100.4 859.9 100.4 860.2 100.4 860.4 100.4 860.7 100.4 860.9 100.4 861.1 100.4 861.4 100.4 861.6 100.4 861.9 100.4 862.1 100.4 862.4 100.4 862.6 100.4 862.9 100.4 863.1 100.4 863.3 100.4 863.6 100.4 863.8 100.5 864.1 100.5 864.3 100.5 864.6 100.5 864.8 100.5 865 100.5 865.3 100.5 865.5 100.5 865.8 100.5 866 100.5 866.3 100.5 866.5 100.5 866.8 100.5 867 100.5 867.2 100.5 867.5 100.5 867.7 100.5 868 100.5 868.2 100.5 868.5 100.5 868.7 100.5 868.9 100.5 869.2 100.5 869.4 100.5 869.7 100.5 869.9 100.5 870.2 100.5 870.4 100.5 870.6 100.5 870.9 100.5 871.1 100.5 871.4 100.6 871.6 100.6 871.9 100.6 872.1 100.6 872.4 100.6 872.6 100.6 872.8 100.6 873.1 100.6 873.3 100.6 873.6 100.6 873.8 100.6 874.1 100.6 874.3 100.6 874.5 100.6 874.8 100.6 875 100.6 875.3 100.6 875.5 100.6 875.8 100.6 876 100.6 876.3 100.6 876.5 100.6 876.7 100.6 877 100.6 877.2 100.7 877.5 100.7 877.7 100.7 878 100.7 878.2 100.7 878.4 100.7 878.7 100.7 878.9 100.7 879.2 100.7 879.4 100.7 879.7 100.7 879.9 100.7 880.1 100.7 880.4 100.7 880.6 100.7 880.9 100.7 881.1 100.7 881.4 100.7 881.6 100.8 881.9 100.8 882.1 100.8 882.3 100.8 882.6 100.8 882.8 100.8 883.1 100.8 883.3 100.8 883.6 100.8 883.8 100.8 884 100.8 884.3 100.8 884.5 100.8 884.8 100.8 885 100.8 885.3 100.9 885.5 100.9 885.8 100.9 886 100.9 886.2 100.9 886.5 100.9 886.7 100.9 887 100.9 887.2 100.9 887.5 100.9 887.7 100.9 887.9 100.9 888.2 101 888.4 101 888.7 101 888.9 101 889.2 101 889.4 101 889.6 101 889.9 101 890.1 101 890.4 101 890.6 101.1 890.9 101.1 891.1 101.1 891.4 101.1 891.6 101.1 891.8 101.1 892.1 101.1 892.3 101.1 892.6 101.1 892.8 101.2 893.1 101.2 893.3 101.2 893.5 101.2 893.8 101.2 894 101.2 894.3 101.2 894.5 101.2 894.8 101.3 895 101.3 895.3 101.3 895.5 101.3 895.7 101.3 896 101.3 896.2 101.3 896.5 101.4 896.7 101.4 897 101.4 897.2 101.4 897.4 101.4 897.7 101.4 897.9 101.5 898.2 101.5 898.4 101.5 898.7 101.5 898.9 101.5 899.2 101.6 899.4 101.6 899.6 101.6 899.9 101.6 900.1 101.6 900.4 101.7 900.6 101.7 900.9 101.7 901.1 101.7 901.3 101.7 901.6 101.8 901.8 101.8 902.1 101.8 902.3 101.8 902.6 101.9 902.8 101.9 903 101.9 903.3 101.9 903.5 102 903.8 102 904 102 904.3 102.1 904.5 102.1 904.8 102.1 905 102.1 905.2 102.2 905.5 102.2 905.7 102.2 906 102.3 906.2 102.3 906.5 102.3 906.7 102.4 906.9 102.4 907.2 102.5 907.4 102.5 907.7 102.5 907.9 102.6 908.2 102.6 908.4 102.7 908.7 102.7 908.9 102.8 909.1 102.8 909.4 102.8 909.6 102.9 909.9 102.9 910.1 103 910.4 103.1 910.6 103.1 910.8 103.2 911.1 103.2 911.3 103.3 911.6 103.3 911.8 103.4 912.1 103.5 912.3 103.5 912.5 103.6 912.8 103.7 913 103.7 913.3 103.8 913.5 103.9 913.8 104 914 104.1 914.3 104.1 914.5 104.2 914.7 104.3 915 104.4 915.2 104.5 915.5 104.6 915.7 104.7 916 104.8 916.2 104.9 916.4 105 916.7 105.2 916.9 105.3 917.2 105.4 917.4 105.5 917.7 105.7 917.9 105.8 918.2 106 918.4 106.1 918.6 106.3 918.9 106.4 919.1 106.6 919.4 106.8 919.6 107 919.9 107.2 920.1 107.4 920.3 107.6 920.6 107.8 920.8 108 921.1 108.3 921.3 108.5 921.6 108.8 921.8 109 922 109.3 922.3 109.6 922.5 109.9 922.8 110.3 923 110.6 923.3 111 923.5 111.3 923.8 111.7 924 112.2 924.2 112.6 924.5 113.1 924.7 113.5 925 114.1 925.2 114.6 925.5 115.2 925.7 115.8 925.9 116.4 926.2 117.1 926.4 117.9 926.7 118.6 926.9 119.5 927.2 120.3 927.4 121.3 927.7 122.3 927.9 123.4 928.1 124.5 928.4 125.7 928.6 127 928.9 128.4 929.1 129.9 929.4 131.6 929.6 133.3 929.8 135.2 930.1 137.2 930.3 139.4 930.6 141.8 930.8 144.4 931.1 147.1 931.3 150.1 931.5 153.4 931.8 156.9 932 160.6 932.3 164.7 932.5 169.1 932.8 173.9 933 179 933.3 184.4 933.5 190.2 933.7 196.2 934 202.6 934.2 209.2 934.5 215.9 934.7 222.6 935 229.2 935.2 235.5 935.4 241.3 935.7 246.4 935.9 250.5 936.2 253.5 936.4 255.3 936.7 255.7 936.9 254.7 937.2 252.5 937.4 248.9 937.6 244.4 937.9 239 938.1 233 938.4 226.6 938.6 219.9 938.9 213.2 939.1 206.5 939.3 200 939.6 193.7 939.8 187.8 940.1 182.2 940.3 176.9 940.6 171.9 940.8 167.3 941 163 941.3 159.1 941.5 155.4 941.8 152 942 148.9 942.3 146 942.5 143.3 942.8 140.8 943 138.5 943.2 136.4 943.5 134.5 943.7 132.6 944 130.9 944.2 129.4 944.5 127.9 944.7 126.5 944.9 125.3 945.2 124.1 945.4 123 945.7 121.9 945.9 120.9 946.2 120 946.4 119.2 946.7 118.4 946.9 117.6 947.1 116.9 947.4 116.2 947.6 115.6 947.9 115 948.1 114.4 948.4 113.9 948.6 113.4 948.8 112.9 949.1 112.5 949.3 112 949.6 111.6 949.8 111.2 950.1 110.9 950.3 110.5 950.6 110.2 950.8 109.9 951 109.6 951.3 109.3 951.5 109 951.8 108.7 952 108.5 952.3 108.2 952.5 108 952.7 107.8 953 107.6 953.2 107.4 953.5 107.2 953.7 107 954 106.8 954.2 106.6 954.4 106.5 954.7 106.3 954.9 106.2 955.2 106 955.4 105.9 955.7 105.7 955.9 105.6 956.2 105.5 956.4 105.3 956.6 105.2 956.9 105.1 957.1 105 957.4 104.9 957.6 104.8 957.9 104.7 958.1 104.6 958.3 104.5 958.6 104.4 958.8 104.3 959.1 104.2 959.3 104.2 959.6 104.1 959.8 104 960.1 103.9 960.3 103.9 960.5 103.8 960.8 103.7 961 103.6 961.3 103.6 961.5 103.5 961.8 103.5 962 103.4 962.2 103.3 962.5 103.3 962.7 103.2 963 103.2 963.2 103.1 963.5 103.1 963.7 103 963.9 103 964.2 102.9 964.4 102.9 964.7 102.9 964.9 102.8 965.2 102.8 965.4 102.7 965.7 102.7 965.9 102.7 966.1 102.6 966.4 102.6 966.6 102.6 966.9 102.5 967.1 102.5 967.4 102.5 967.6 102.4 967.8 102.4 968.1 102.4 968.3 102.3 968.6 102.3 968.8 102.3 969.1 102.2 969.3 102.2 969.6 102.2 969.8 102.2 970 102.1 970.3 102.1 970.5 102.1 970.8 102.1 971 102.1 971.3 102 971.5 102 971.7 102 972 102 972.2 101.9 972.5 101.9 972.7 101.9 973 101.9 973.2 101.9 973.4 101.9 973.7 101.8 973.9 101.8 974.2 101.8 974.4 101.8 974.7 101.8 974.9 101.8 975.2 101.7 975.4 101.7 975.6 101.7 975.9 101.7 976.1 101.7 976.4 101.7 976.6 101.7 976.9 101.7 977.1 101.6 977.3 101.6 977.6 101.6 977.8 101.6 978.1 101.6 978.3 101.6 978.6 101.6 978.8 101.6 979.1 101.6 979.3 101.5 979.5 101.5 979.8 101.5 980 101.5 980.3 101.5 980.5 101.5 980.8 101.5 981 101.5 981.2 101.5 981.5 101.5 981.7 101.5 982 101.5 982.2 101.5 982.5 101.5 982.7 101.4 982.9 101.4 983.2 101.4 983.4 101.4 983.7 101.4 983.9 101.4 984.2 101.4 984.4 101.4 984.7 101.4 984.9 101.4 985.1 101.4 985.4 101.4 985.6 101.4 985.9 101.4 986.1 101.4 986.4 101.4 986.6 101.4 986.8 101.4 987.1 101.4 987.3 101.4 987.6 101.4 987.8 101.4 988.1 101.4 988.3 101.4 988.6 101.4 988.8 101.4 989 101.4 989.3 101.4 989.5 101.4 989.8 101.4 990 101.4 990.3 101.4 990.5 101.4 990.7 101.4 991 101.4 991.2 101.4 991.5 101.4 991.7 101.4 992 101.4 992.2 101.4 992.4 101.4 992.7 101.4 992.9 101.4 993.2 101.4 993.4 101.4 993.7 101.4 993.9 101.4 994.2 101.4 994.4 101.4 994.6 101.4 994.9 101.4 995.1 101.5 995.4 101.5 995.6 101.5 995.9 101.5 996.1 101.5 996.3 101.5 996.6 101.5 996.8 101.5 997.1 101.5 997.3 101.5 997.6 101.5 997.8 101.6 998.1 101.6 998.3 101.6 998.5 101.6 998.8 101.6 999 101.6 999.3 101.6 999.5 101.6 999.8 101.7 1000 101.7 1000.2 101.7 1000.5 101.7 1000.7 101.7 1001 101.7 1001.2 101.8 1001.5 101.8 1001.7 101.8 1001.9 101.8 1002.2 101.8 1002.4 101.9 1002.7 101.9 1002.9 101.9 1003.2 101.9 1003.4 102 1003.7 102 1003.9 102 1004.1 102 1004.4 102.1 1004.6 102.1 1004.9 102.1 1005.1 102.2 1005.4 102.2 1005.6 102.2 1005.8 102.3 1006.1 102.3 1006.3 102.3 1006.6 102.4 1006.8 102.4 1007.1 102.5 1007.3 102.5 1007.6 102.6 1007.8 102.6 1008 102.7 1008.3 102.7 1008.5 102.8 1008.8 102.8 1009 102.9 1009.3 102.9 1009.5 103 1009.7 103.1 1010 103.2 1010.2 103.2 1010.5 103.3 1010.7 103.4 1011 103.5 1011.2 103.6 1011.5 103.7 1011.7 103.8 1011.9 103.9 1012.2 104 1012.4 104.1 1012.7 104.2 1012.9 104.3 1013.2 104.5 1013.4 104.6 1013.6 104.7 1013.9 104.9 1014.1 105.1 1014.4 105.2 1014.6 105.4 1014.9 105.6 1015.1 105.8 1015.3 106 1015.6 106.2 1015.8 106.5 1016.1 106.7 1016.3 107 1016.6 107.3 1016.8 107.6 1017.1 108 1017.3 108.3 1017.5 108.7 1017.8 109.1 1018 109.5 1018.3 110 1018.5 110.5 1018.8 111 1019 111.6 1019.2 112.2 1019.5 112.9 1019.7 113.6 1020 114.4 1020.2 115.2 1020.5 116.1 1020.7 117.1 1021 118.2 1021.2 119.3 1021.4 120.6 1021.7 121.9 1021.9 123.4 1022.2 124.9 1022.4 126.6 1022.7 128.4 1022.9 130.3 1023.1 132.4 1023.4 134.5 1023.6 136.8 1023.9 139.1 1024.1 141.5 1024.4 143.8 1024.6 146.1 1024.8 148.3 1025.1 150.3 1025.3 152 1025.6 153.4 1025.8 154.4 1026.1 155 1026.3 155.1 1026.6 154.6 1026.8 153.8 1027 152.5 1027.3 150.8 1027.5 148.9 1027.8 146.8 1028 144.5 1028.3 142.1 1028.5 139.8 1028.7 137.4 1029 135.2 1029.2 133 1029.5 130.9 1029.7 128.9 1030 127.1 1030.2 125.4 1030.5 123.8 1030.7 122.3 1030.9 120.9 1031.2 119.7 1031.4 118.5 1031.7 117.4 1031.9 116.4 1032.2 115.4 1032.4 114.6 1032.6 113.8 1032.9 113.1 1033.1 112.4 1033.4 111.7 1033.6 111.1 1033.9 110.6 1034.1 110.1 1034.3 109.6 1034.6 109.2 1034.8 108.8 1035.1 108.4 1035.3 108 1035.6 107.7 1035.8 107.4 1036.1 107.1 1036.3 106.8 1036.5 106.5 1036.8 106.3 1037 106 1037.3 105.8 1037.5 105.6 1037.8 105.4 1038 105.2 1038.2 105.1 1038.5 104.9 1038.7 104.7 1039 104.6 1039.2 104.4 1039.5 104.3 1039.7 104.2 1040 104.1 1040.2 103.9 1040.4 103.8 1040.7 103.7 1040.9 103.6 1041.2 103.5 1041.4 103.4 1041.7 103.3 1041.9 103.3 1042.1 103.2 1042.4 103.1 1042.6 103 1042.9 103 1043.1 102.9 1043.4 102.8 1043.6 102.8 1043.8 102.7 1044.1 102.6 1044.3 102.6 1044.6 102.5 1044.8 102.5 1045.1 102.4 1045.3 102.4 1045.6 102.3 1045.8 102.3 1046 102.3 1046.3 102.2 1046.5 102.2 1046.8 102.1 1047 102.1 1047.3 102.1 1047.5 102 1047.7 102 1048 102 1048.2 101.9 1048.5 101.9 1048.7 101.9 1049 101.9 1049.2 101.8 1049.5 101.8 1049.7 101.8 1049.9 101.8 1050.2 101.7 1050.4 101.7 1050.7 101.7 1050.9 101.7 1051.2 101.7 1051.4 101.6 1051.6 101.6 1051.9 101.6 1052.1 101.6 1052.4 101.6 1052.6 101.5 1052.9 101.5 1053.1 101.5 1053.3 101.5 1053.6 101.5 1053.8 101.5 1054.1 101.5 1054.3 101.4 1054.6 101.4 1054.8 101.4 1055.1 101.4 1055.3 101.4 1055.5 101.4 1055.8 101.4 1056 101.4 1056.3 101.4 1056.5 101.3 1056.8 101.3 1057 101.3 1057.2 101.3 1057.5 101.3 1057.7 101.3 1058 101.3 1058.2 101.3 1058.5 101.3 1058.7 101.3 1059 101.3 1059.2 101.3 1059.4 101.3 1059.7 101.3 1059.9 101.3 1060.2 101.2 1060.4 101.2 1060.7 101.2 1060.9 101.2 1061.1 101.2 1061.4 101.2 1061.6 101.2 1061.9 101.2 1062.1 101.2 1062.4 101.2 1062.6 101.2 1062.9 101.2 1063.1 101.2 1063.3 101.2 1063.6 101.2 1063.8 101.2 1064.1 101.2 1064.3 101.2 1064.6 101.2 1064.8 101.2 1065 101.2 1065.3 101.2 1065.5 101.2 1065.8 101.2 1066 101.2 1066.3 101.2 1066.5 101.2 1066.7 101.2 1067 101.2 1067.2 101.2 1067.5 101.2 1067.7 101.2 1068 101.2 1068.2 101.3 1068.5 101.3 1068.7 101.3 1068.9 101.3 1069.2 101.3 1069.4 101.3 1069.7 101.3 1069.9 101.3 1070.2 101.3 1070.4 101.3 1070.6 101.3 1070.9 101.3 1071.1 101.3 1071.4 101.3 1071.6 101.4 1071.9 101.4 1072.1 101.4 1072.4 101.4 1072.6 101.4 1072.8 101.4 1073.1 101.4 1073.3 101.4 1073.6 101.4 1073.8 101.5 1074.1 101.5 1074.3 101.5 1074.5 101.5 1074.8 101.5 1075 101.5 1075.3 101.6 1075.5 101.6 1075.8 101.6 1076 101.6 1076.2 101.6 1076.5 101.7 1076.7 101.7 1077 101.7 1077.2 101.7 1077.5 101.8 1077.7 101.8 1078 101.8 1078.2 101.8 1078.4 101.9 1078.7 101.9 1078.9 101.9 1079.2 102 1079.4 102 1079.7 102 1079.9 102.1 1080.1 102.1 1080.4 102.2 1080.6 102.2 1080.9 102.2 1081.1 102.3 1081.4 102.3 1081.6 102.4 1081.9 102.4 1082.1 102.5 1082.3 102.6 1082.6 102.6 1082.8 102.7 1083.1 102.7 1083.3 102.8 1083.6 102.9 1083.8 103 1084 103 1084.3 103.1 1084.5 103.2 1084.8 103.3 1085 103.4 1085.3 103.5 1085.5 103.6 1085.7 103.8 1086 103.9 1086.2 104 1086.5 104.1 1086.7 104.3 1087 104.4 1087.2 104.6 1087.5 104.8 1087.7 105 1087.9 105.2 1088.2 105.4 1088.4 105.6 1088.7 105.8 1088.9 106.1 1089.2 106.4 1089.4 106.7 1089.6 107 1089.9 107.3 1090.1 107.7 1090.4 108.1 1090.6 108.5 1090.9 108.9 1091.1 109.4 1091.4 110 1091.6 110.5 1091.8 111.1 1092.1 111.8 1092.3 112.5 1092.6 113.3 1092.8 114.1 1093.1 115 1093.3 116 1093.5 117.1 1093.8 118.2 1094 119.4 1094.3 120.7 1094.5 122.1 1094.8 123.6 1095 125.1 1095.2 126.7 1095.5 128.4 1095.7 130 1096 131.6 1096.2 133.2 1096.5 134.6 1096.7 135.9 1097 137 1097.2 137.8 1097.4 138.3 1097.7 138.5 1097.9 138.3 1098.2 137.8 1098.4 137 1098.7 136 1098.9 134.7 1099.1 133.2 1099.4 131.7 1099.6 130.1 1099.9 128.4 1100.1 126.8 1100.4 125.2 1100.6 123.7 1100.9 122.2 1101.1 120.8 1101.3 119.5 1101.6 118.3 1101.8 117.1 1102.1 116.1 1102.3 115.1 1102.6 114.2 1102.8 113.4 1103 112.6 1103.3 111.9 1103.5 111.2 1103.8 110.6 1104 110 1104.3 109.5 1104.5 109 1104.7 108.5 1105 108.1 1105.2 107.7 1105.5 107.4 1105.7 107 1106 106.7 1106.2 106.4 1106.5 106.2 1106.7 105.9 1106.9 105.7 1107.2 105.4 1107.4 105.2 1107.7 105 1107.9 104.9 1108.2 104.7 1108.4 104.5 1108.6 104.4 1108.9 104.2 1109.1 104.1 1109.4 104 1109.6 103.8 1109.9 103.7 1110.1 103.6 1110.4 103.5 1110.6 103.4 1110.8 103.3 1111.1 103.2 1111.3 103.1 1111.6 103.1 1111.8 103 1112.1 102.9 1112.3 102.8 1112.5 102.8 1112.8 102.7 1113 102.7 1113.3 102.6 1113.5 102.6 1113.8 102.5 1114 102.5 1114.3 102.4 1114.5 102.4 1114.7 102.3 1115 102.3 1115.2 102.2 1115.5 102.2 1115.7 102.2 1116 102.1 1116.2 102.1 1116.4 102.1 1116.7 102 1116.9 102 1117.2 102 1117.4 102 1117.7 101.9 1117.9 101.9 1118.1 101.9 1118.4 101.9 1118.6 101.9 1118.9 101.8 1119.1 101.8 1119.4 101.8 1119.6 101.8 1119.9 101.8 1120.1 101.8 1120.3 101.8 1120.6 101.7 1120.8 101.7 1121.1 101.7 1121.3 101.7 1121.6 101.7 1121.8 101.7 1122 101.7 1122.3 101.7 1122.5 101.7 1122.8 101.7 1123 101.7 1123.3 101.7 1123.5 101.6 1123.8 101.6 1124 101.6 1124.2 101.6 1124.5 101.6 1124.7 101.6 1125 101.6 1125.2 101.6 1125.5 101.6 1125.7 101.6 1125.9 101.6 1126.2 101.6 1126.4 101.6 1126.7 101.7 1126.9 101.7 1127.2 101.7 1127.4 101.7 1127.6 101.7 1127.9 101.7 1128.1 101.7 1128.4 101.7 1128.6 101.7 1128.9 101.7 1129.1 101.7 1129.4 101.7 1129.6 101.8 1129.8 101.8 1130.1 101.8 1130.3 101.8 1130.6 101.8 1130.8 101.8 1131.1 101.9 1131.3 101.9 1131.5 101.9 1131.8 101.9 1132 101.9 1132.3 102 1132.5 102 1132.8 102 1133 102 1133.3 102.1 1133.5 102.1 1133.7 102.1 1134 102.2 1134.2 102.2 1134.5 102.2 1134.7 102.3 1135 102.3 1135.2 102.3 1135.4 102.4 1135.7 102.4 1135.9 102.5 1136.2 102.5 1136.4 102.6 1136.7 102.6 1136.9 102.7 1137.1 102.7 1137.4 102.8 1137.6 102.9 1137.9 102.9 1138.1 103 1138.4 103.1 1138.6 103.2 1138.9 103.3 1139.1 103.3 1139.3 103.4 1139.6 103.5 1139.8 103.6 1140.1 103.7 1140.3 103.9 1140.6 104 1140.8 104.1 1141 104.3 1141.3 104.4 1141.5 104.6 1141.8 104.7 1142 104.9 1142.3 105.1 1142.5 105.3 1142.8 105.5 1143 105.7 1143.2 106 1143.5 106.2 1143.7 106.5 1144 106.8 1144.2 107.1 1144.5 107.4 1144.7 107.8 1144.9 108.2 1145.2 108.6 1145.4 109.1 1145.7 109.5 1145.9 110.1 1146.2 110.6 1146.4 111.3 1146.6 111.9 1146.9 112.7 1147.1 113.4 1147.4 114.3 1147.6 115.2 1147.9 116.2 1148.1 117.2 1148.4 118.4 1148.6 119.6 1148.8 120.9 1149.1 122.3 1149.3 123.8 1149.6 125.3 1149.8 126.9 1150.1 128.6 1150.3 130.2 1150.5 131.8 1150.8 133.4 1151 134.8 1151.3 136.1 1151.5 137.1 1151.8 137.9 1152 138.4 1152.3 138.5 1152.5 138.3 1152.7 137.8 1153 137 1153.2 135.9 1153.5 134.6 1153.7 133.1 1154 131.6 1154.2 130 1154.4 128.3 1154.7 126.7 1154.9 125.1 1155.2 123.6 1155.4 122.1 1155.7 120.7 1155.9 119.4 1156.1 118.2 1156.4 117.1 1156.6 116 1156.9 115 1157.1 114.1 1157.4 113.3 1157.6 112.5 1157.9 111.8 1158.1 111.2 1158.3 110.6 1158.6 110 1158.8 109.5 1159.1 109 1159.3 108.5 1159.6 108.1 1159.8 107.7 1160 107.4 1160.3 107 1160.5 106.7 1160.8 106.4 1161 106.2 1161.3 105.9 1161.5 105.7 1161.8 105.4 1162 105.2 1162.2 105 1162.5 104.9 1162.7 104.7 1163 104.5 1163.2 104.4 1163.5 104.2 1163.7 104.1 1163.9 103.9 1164.2 103.8 1164.4 103.7 1164.7 103.6 1164.9 103.5 1165.2 103.4 1165.4 103.3 1165.7 103.2 1165.9 103.1 1166.1 103 1166.4 103 1166.6 102.9 1166.9 102.8 1167.1 102.8 1167.4 102.7 1167.6 102.6 1167.8 102.6 1168.1 102.5 1168.3 102.5 1168.6 102.4 1168.8 102.4 1169.1 102.3 1169.3 102.3 1169.5 102.2 1169.8 102.2 1170 102.2 1170.3 102.1 1170.5 102.1 1170.8 102.1 1171 102 1171.3 102 1171.5 102 1171.7 101.9 1172 101.9 1172.2 101.9 1172.5 101.9 1172.7 101.8 1173 101.8 1173.2 101.8 1173.4 101.8 1173.7 101.8 1173.9 101.7 1174.2 101.7 1174.4 101.7 1174.7 101.7 1174.9 101.7 1175.2 101.6 1175.4 101.6 1175.6 101.6 1175.9 101.6 1176.1 101.6 1176.4 101.6 1176.6 101.6 1176.9 101.6 1177.1 101.5 1177.3 101.5 1177.6 101.5 1177.8 101.5 1178.1 101.5 1178.3 101.5 1178.6 101.5 1178.8 101.5 1179 101.5 1179.3 101.5 1179.5 101.5 1179.8 101.5 1180 101.4 1180.3 101.4 1180.5 101.4 1180.8 101.4 1181 101.4 1181.2 101.4 1181.5 101.4 1181.7 101.4 1182 101.4 1182.2 101.4 1182.5 101.4 1182.7 101.4 1182.9 101.4 1183.2 101.4 1183.4 101.4 1183.7 101.4 1183.9 101.4 1184.2 101.4 1184.4 101.4 1184.7 101.4 1184.9 101.4 1185.1 101.4 1185.4 101.4 1185.6 101.4 1185.9 101.4 1186.1 101.4 1186.4 101.4 1186.6 101.4 1186.8 101.4 1187.1 101.4 1187.3 101.4 1187.6 101.4 1187.8 101.5 1188.1 101.5 1188.3 101.5 1188.5 101.5 1188.8 101.5 1189 101.5 1189.3 101.5 1189.5 101.5 1189.8 101.5 1190 101.5 1190.3 101.5 1190.5 101.5 1190.7 101.5 1191 101.5 1191.2 101.6 1191.5 101.6 1191.7 101.6 1192 101.6 1192.2 101.6 1192.4 101.6 1192.7 101.6 1192.9 101.6 1193.2 101.7 1193.4 101.7 1193.7 101.7 1193.9 101.7 1194.2 101.7 1194.4 101.7 1194.6 101.7 1194.9 101.8 1195.1 101.8 1195.4 101.8 1195.6 101.8 1195.9 101.8 1196.1 101.8 1196.3 101.9 1196.6 101.9 1196.8 101.9 1197.1 101.9 1197.3 102 1197.6 102 1197.8 102 1198 102 1198.3 102.1 1198.5 102.1 1198.8 102.1 1199 102.1 1199.3 102.2 1199.5 102.2 1199.8 102.2 1200 102.3 1200.2 102.3 1200.5 102.3 1200.7 102.4 1201 102.4 1201.2 102.4 1201.5 102.5 1201.7 102.5 1201.9 102.6 1202.2 102.6 1202.4 102.6 1202.7 102.7 1202.9 102.7 1203.2 102.8 1203.4 102.8 1203.7 102.9 1203.9 103 1204.1 103 1204.4 103.1 1204.6 103.1 1204.9 103.2 1205.1 103.3 1205.4 103.3 1205.6 103.4 1205.8 103.5 1206.1 103.6 1206.3 103.6 1206.6 103.7 1206.8 103.8 1207.1 103.9 1207.3 104 1207.5 104.1 1207.8 104.2 1208 104.3 1208.3 104.4 1208.5 104.5 1208.8 104.7 1209 104.8 1209.3 104.9 1209.5 105.1 1209.7 105.2 1210 105.4 1210.2 105.5 1210.5 105.7 1210.7 105.9 1211 106.1 1211.2 106.3 1211.4 106.5 1211.7 106.7 1211.9 107 1212.2 107.2 1212.4 107.5 1212.7 107.8 1212.9 108.1 1213.2 108.4 1213.4 108.7 1213.6 109.1 1213.9 109.4 1214.1 109.8 1214.4 110.3 1214.6 110.7 1214.9 111.2 1215.1 111.7 1215.3 112.3 1215.6 112.9 1215.8 113.5 1216.1 114.2 1216.3 114.9 1216.6 115.7 1216.8 116.6 1217.1 117.5 1217.3 118.5 1217.5 119.5 1217.8 120.7 1218 121.9 1218.3 123.3 1218.5 124.7 1218.8 126.3 1219 128 1219.2 129.9 1219.5 131.9 1219.7 134 1220 136.3 1220.2 138.8 1220.5 141.4 1220.7 144.2 1220.9 147.1 1221.2 150.1 1221.4 153.2 1221.7 156.4 1221.9 159.5 1222.2 162.6 1222.4 165.4 1222.7 168 1222.9 170.1 1223.1 171.8 1223.4 173 1223.6 173.5 1223.9 173.4 1224.1 172.6 1224.4 171.3 1224.6 169.4 1224.8 167 1225.1 164.4 1225.3 161.4 1225.6 158.4 1225.8 155.2 1226.1 152.1 1226.3 149 1226.6 146 1226.8 143.1 1227 140.4 1227.3 137.9 1227.5 135.5 1227.8 133.3 1228 131.2 1228.3 129.3 1228.5 127.5 1228.7 125.8 1229 124.3 1229.2 122.9 1229.5 121.6 1229.7 120.4 1230 119.3 1230.2 118.2 1230.4 117.3 1230.7 116.4 1230.9 115.6 1231.2 114.8 1231.4 114.1 1231.7 113.5 1231.9 112.9 1232.2 112.3 1232.4 111.7 1232.6 111.3 1232.9 110.8 1233.1 110.3 1233.4 109.9 1233.6 109.6 1233.9 109.2 1234.1 108.9 1234.3 108.5 1234.6 108.2 1234.8 108 1235.1 107.7 1235.3 107.5 1235.6 107.2 1235.8 107 1236.1 106.8 1236.3 106.6 1236.5 106.4 1236.8 106.2 1237 106 1237.3 105.9 1237.5 105.7 1237.8 105.6 1238 105.5 1238.2 105.3 1238.5 105.2 1238.7 105.1 1239 105 1239.2 104.9 1239.5 104.8 1239.7 104.7 1239.9 104.6 1240.2 104.5 1240.4 104.4 1240.7 104.3 1240.9 104.2 1241.2 104.2 1241.4 104.1 1241.7 104 1241.9 104 1242.1 103.9 1242.4 103.9 1242.6 103.8 1242.9 103.8 1243.1 103.7 1243.4 103.7 1243.6 103.6 1243.8 103.6 1244.1 103.5 1244.3 103.5 1244.6 103.5 1244.8 103.4 1245.1 103.4 1245.3 103.4 1245.6 103.3 1245.8 103.3 1246 103.3 1246.3 103.3 1246.5 103.3 1246.8 103.2 1247 103.2 1247.3 103.2 1247.5 103.2 1247.7 103.2 1248 103.2 1248.2 103.1 1248.5 103.1 1248.7 103.1 1249 103.1 1249.2 103.1 1249.4 103.1 1249.7 103.1 1249.9 103.1 1250.2 103.1 1250.4 103.1 1250.7 103.1 1250.9 103.1 1251.2 103.1 1251.4 103.1 1251.6 103.1 1251.9 103.1 1252.1 103.1 1252.4 103.2 1252.6 103.2 1252.9 103.2 1253.1 103.2 1253.3 103.2 1253.6 103.2 1253.8 103.2 1254.1 103.3 1254.3 103.3 1254.6 103.3 1254.8 103.3 1255.1 103.4 1255.3 103.4 1255.5 103.4 1255.8 103.4 1256 103.5 1256.3 103.5 1256.5 103.5 1256.8 103.6 1257 103.6 1257.2 103.6 1257.5 103.7 1257.7 103.7 1258 103.8 1258.2 103.8 1258.5 103.9 1258.7 103.9 1258.9 104 1259.2 104 1259.4 104.1 1259.7 104.1 1259.9 104.2 1260.2 104.3 1260.4 104.3 1260.7 104.4 1260.9 104.5 1261.1 104.6 1261.4 104.6 1261.6 104.7 1261.9 104.8 1262.1 104.9 1262.4 105 1262.6 105.1 1262.8 105.2 1263.1 105.3 1263.3 105.4 1263.6 105.5 1263.8 105.6 1264.1 105.8 1264.3 105.9 1264.6 106 1264.8 106.2 1265 106.3 1265.3 106.5 1265.5 106.6 1265.8 106.8 1266 107 1266.3 107.2 1266.5 107.4 1266.7 107.6 1267 107.8 1267.2 108 1267.5 108.2 1267.7 108.5 1268 108.7 1268.2 109 1268.4 109.3 1268.7 109.6 1268.9 109.9 1269.2 110.3 1269.4 110.6 1269.7 111 1269.9 111.4 1270.2 111.8 1270.4 112.2 1270.6 112.7 1270.9 113.2 1271.1 113.7 1271.4 114.3 1271.6 114.9 1271.9 115.5 1272.1 116.2 1272.3 116.9 1272.6 117.7 1272.8 118.5 1273.1 119.4 1273.3 120.3 1273.6 121.3 1273.8 122.4 1274.1 123.5 1274.3 124.8 1274.5 126.1 1274.8 127.5 1275 129.1 1275.3 130.8 1275.5 132.6 1275.8 134.5 1276 136.6 1276.2 138.9 1276.5 141.4 1276.7 144.1 1277 147 1277.2 150.1 1277.5 153.5 1277.7 157.1 1278 161 1278.2 165.2 1278.4 169.6 1278.7 174.3 1278.9 179.3 1279.2 184.4 1279.4 189.7 1279.7 195 1279.9 200.3 1280.1 205.4 1280.4 210.1 1280.6 214.4 1280.9 218 1281.1 220.7 1281.4 222.5 1281.6 223.3 1281.8 223 1282.1 221.6 1282.3 219.2 1282.6 215.9 1282.8 211.9 1283.1 207.3 1283.3 202.4 1283.6 197.1 1283.8 191.8 1284 186.5 1284.3 181.3 1284.5 176.3 1284.8 171.5 1285 166.9 1285.3 162.6 1285.5 158.6 1285.7 154.9 1286 151.4 1286.2 148.1 1286.5 145.1 1286.7 142.4 1287 139.8 1287.2 137.4 1287.5 135.3 1287.7 133.2 1287.9 131.4 1288.2 129.6 1288.4 128 1288.7 126.5 1288.9 125.1 1289.2 123.9 1289.4 122.7 1289.6 121.5 1289.9 120.5 1290.1 119.5 1290.4 118.6 1290.6 117.8 1290.9 117 1291.1 116.3 1291.3 115.6 1291.6 114.9 1291.8 114.3 1292.1 113.7 1292.3 113.2 1292.6 112.7 1292.8 112.2 1293.1 111.7 1293.3 111.3 1293.5 110.9 1293.8 110.5 1294 110.1 1294.3 109.8 1294.5 109.4 1294.8 109.1 1295 108.8 1295.2 108.5 1295.5 108.3 1295.7 108 1296 107.8 1296.2 107.5 1296.5 107.3 1296.7 107.1 1297 106.9 1297.2 106.7 1297.4 106.5 1297.7 106.3 1297.9 106.1 1298.2 106 1298.4 105.8 1298.7 105.7 1298.9 105.5 1299.1 105.4 1299.4 105.2 1299.6 105.1 1299.9 105 1300.1 104.9 1300.4 104.7 1300.6 104.6 1300.8 104.5 1301.1 104.4 1301.3 104.3 1301.6 104.2 1301.8 104.1 1302.1 104 1302.3 103.9 1302.6 103.9 1302.8 103.8 1303 103.7 1303.3 103.6 1303.5 103.5 1303.8 103.5 1304 103.4 1304.3 103.3 1304.5 103.3 1304.7 103.2 1305 103.1 1305.2 103.1 1305.5 103 1305.7 103 1306 102.9 1306.2 102.9 1306.5 102.8 1306.7 102.8 1306.9 102.7 1307.2 102.7 1307.4 102.6 1307.7 102.6 1307.9 102.5 1308.2 102.5 1308.4 102.4 1308.6 102.4 1308.9 102.4 1309.1 102.3 1309.4 102.3 1309.6 102.2 1309.9 102.2 1310.1 102.2 1310.3 102.1 1310.6 102.1 1310.8 102.1 1311.1 102 1311.3 102 1311.6 102 1311.8 102 1312.1 101.9 1312.3 101.9 1312.5 101.9 1312.8 101.8 1313 101.8 1313.3 101.8 1313.5 101.8 1313.8 101.7 1314 101.7 1314.2 101.7 1314.5 101.7 1314.7 101.7 1315 101.6 1315.2 101.6 1315.5 101.6 1315.7 101.6 1316 101.5 1316.2 101.5 1316.4 101.5 1316.7 101.5 1316.9 101.5 1317.2 101.4 1317.4 101.4 1317.7 101.4 1317.9 101.4 1318.1 101.4 1318.4 101.4 1318.6 101.3 1318.9 101.3 1319.1 101.3 1319.4 101.3 1319.6 101.3 1319.8 101.3 1320.1 101.3 1320.3 101.2 1320.6 101.2 1320.8 101.2 1321.1 101.2 1321.3 101.2 1321.6 101.2 1321.8 101.2 1322 101.1 1322.3 101.1 1322.5 101.1 1322.8 101.1 1323 101.1 1323.3 101.1 1323.5 101.1 1323.7 101.1 1324 101.1 1324.2 101 1324.5 101 1324.7 101 1325 101 1325.2 101 1325.5 101 1325.7 101 1325.9 101 1326.2 101 1326.4 101 1326.7 100.9 1326.9 100.9 1327.2 100.9 1327.4 100.9 1327.6 100.9 1327.9 100.9 1328.1 100.9 1328.4 100.9 1328.6 100.9 1328.9 100.9 1329.1 100.9 1329.4 100.9 1329.6 100.8 1329.8 100.8 1330.1 100.8 1330.3 100.8 1330.6 100.8 1330.8 100.8 1331.1 100.8 1331.3 100.8 1331.5 100.8 1331.8 100.8 1332 100.8 1332.3 100.8 1332.5 100.8 1332.8 100.8 1333 100.7 1333.2 100.7 1333.5 100.7 1333.7 100.7 1334 100.7 1334.2 100.7 1334.5 100.7 1334.7 100.7 1335 100.7 1335.2 100.7 1335.4 100.7 1335.7 100.7 1335.9 100.7 1336.2 100.7 1336.4 100.7 1336.7 100.7 1336.9 100.7 1337.1 100.6 1337.4 100.6 1337.6 100.6 1337.9 100.6 1338.1 100.6 1338.4 100.6 1338.6 100.6 1338.9 100.6 1339.1 100.6 1339.3 100.6 1339.6 100.6 1339.8 100.6 1340.1 100.6 1340.3 100.6 1340.6 100.6 1340.8 100.6 1341 100.6 1341.3 100.6 1341.5 100.6 1341.8 100.6 1342 100.6 1342.3 100.6 1342.5 100.6 1342.7 100.5 1343 100.5 1343.2 100.5 1343.5 100.5 1343.7 100.5 1344 100.5 1344.2 100.5 1344.5 100.5 1344.7 100.5 1344.9 100.5 1345.2 100.5 1345.4 100.5 1345.7 100.5 1345.9 100.5 1346.2 100.5 1346.4 100.5 1346.6 100.5 1346.9 100.5 1347.1 100.5 1347.4 100.5 1347.6 100.5 1347.9 100.5 1348.1 100.5 1348.4 100.5 1348.6 100.5 1348.8 100.5 1349.1 100.5 1349.3 100.5 1349.6 100.5 1349.8 100.5 1350.1 100.5 1350.3 100.4 1350.5 100.4 1350.8 100.4 1351 100.4 1351.3 100.4 1351.5 100.4 1351.8 100.4 1352 100.4 1352.2 100.4 1352.5 100.4 1352.7 100.4 1353 100.4 1353.2 100.4 1353.5 100.4 1353.7 100.4 1354 100.4 1354.2 100.4 1354.4 100.4 1354.7 100.4 1354.9 100.4 1355.2 100.4 1355.4 100.4 1355.7 100.4 1355.9 100.4 1356.1 100.4 1356.4 100.4 1356.6 100.4 1356.9 100.4 1357.1 100.4 1357.4 100.4 1357.6 100.4 1357.9 100.4 1358.1 100.4 1358.3 100.4 1358.6 100.4 1358.8 100.4 1359.1 100.4 1359.3 100.4 1359.6 100.4 1359.8 100.4 1360 100.4 1360.3 100.4 1360.5 100.4 1360.8 100.4 1361 100.3 1361.3 100.3 1361.5 100.3 1361.7 100.3 1362 100.3 1362.2 100.3 1362.5 100.3 1362.7 100.3 1363 100.3 1363.2 100.3 1363.5 100.3 1363.7 100.3 1363.9 100.3 1364.2 100.3 1364.4 100.3 1364.7 100.3 1364.9 100.3 1365.2 100.3 1365.4 100.3 1365.6 100.3 1365.9 100.3 1366.1 100.3 1366.4 100.3 1366.6 100.3 1366.9 100.3 1367.1 100.3 1367.4 100.3 1367.6 100.3 1367.8 100.3 1368.1 100.3 1368.3 100.3 1368.6 100.3 1368.8 100.3 1369.1 100.3 1369.3 100.3 1369.5 100.3 1369.8 100.3 1370 100.3 1370.3 100.3 1370.5 100.3 1370.8 100.3 1371 100.3 1371.2 100.3 1371.5 100.3 1371.7 100.3 1372 100.3 1372.2 100.3 1372.5 100.3 1372.7 100.3 1373 100.3 1373.2 100.3 1373.4 100.3 1373.7 100.3 1373.9 100.3 1374.2 100.3 1374.4 100.3 1374.7 100.3 1374.9 100.3 1375.1 100.3 1375.4 100.3 1375.6 100.3 1375.9 100.3 1376.1 100.3 1376.4 100.3 1376.6 100.3 1376.9 100.3 1377.1 100.3 1377.3 100.3 1377.6 100.3 1377.8 100.3 1378.1 100.2 1378.3 100.2 1378.6 100.2 1378.8 100.2 1379 100.2 1379.3 100.2 1379.5 100.2 1379.8 100.2 1380 100.2 1380.3 100.2 1380.5 100.2 1380.8 100.2 1381 100.2 1381.2 100.2 1381.5 100.2 1381.7 100.2 1382 100.2 1382.2 100.2 1382.5 100.2 1382.7 100.2 1382.9 100.2 1383.2 100.2 1383.4 100.2 1383.7 100.2 1383.9 100.2 1384.2 100.2 1384.4 100.2 1384.6 100.2 1384.9 100.2 1385.1 100.2 1385.4 100.2 1385.6 100.2 1385.9 100.2 1386.1 100.2 1386.4 100.2 1386.6 100.2 1386.8 100.2 1387.1 100.2 1387.3 100.2 1387.6 100.2 1387.8 100.2 1388.1 100.2 1388.3 100.2 1388.5 100.2 1388.8 100.2 1389 100.2 1389.3 100.2 1389.5 100.2 1389.8 100.2 1390 100.2 1390.3 100.2 1390.5 100.2 1390.7 100.2 1391 100.2 1391.2 100.2 1391.5 100.2 1391.7 100.2 1392 100.2 1392.2 100.2 1392.4 100.2 1392.7 100.2 1392.9 100.2 1393.2 100.2 1393.4 100.2 1393.7 100.2 1393.9 100.2 1394.1 100.2 1394.4 100.2 1394.6 100.2 1394.9 100.2 1395.1 100.2 1395.4 100.2 1395.6 100.2 1395.9 100.2 1396.1 100.2 1396.3 100.2 1396.6 100.2 1396.8 100.2 1397.1 100.2 1397.3 100.2 1397.6 100.2 1397.8 100.2 1398 100.2 1398.3 100.2 1398.5 100.2 1398.8 100.2 1399 100.2 1399.3 100.2 1399.5 100.2 1399.8 100.2 1400 100.2 1400.2 100.2 1400.5 100.2 1400.7 100.2 1401 100.2 1401.2 100.2 1401.5 100.2 1401.7 100.2L1401.7 100 Z" fill="url(#bG)" opacity="0.95"/>
<path d="M817.3 100L817.3 100.2 817.5 100.2 817.8 100.2 818 100.2 818.3 100.2 818.5 100.2 818.8 100.2 819 100.2 819.2 100.2 819.5 100.2 819.7 100.2 820 100.2 820.2 100.2 820.5 100.3 820.7 100.3 821 100.3 821.2 100.3 821.4 100.3 821.7 100.3 821.9 100.3 822.2 100.3 822.4 100.3 822.7 100.3 822.9 100.3 823.1 100.3 823.4 100.3 823.6 100.3 823.9 100.3 824.1 100.3 824.4 100.3 824.6 100.3 824.9 100.3 825.1 100.3 825.3 100.3 825.6 100.3 825.8 100.3 826.1 100.3 826.3 100.3 826.6 100.3 826.8 100.3 827 100.3 827.3 100.3 827.5 100.3 827.8 100.3 828 100.3 828.3 100.3 828.5 100.3 828.7 100.3 829 100.3 829.2 100.3 829.5 100.3 829.7 100.3 830 100.3 830.2 100.3 830.5 100.3 830.7 100.3 830.9 100.3 831.2 100.3 831.4 100.3 831.7 100.3 831.9 100.3 832.2 100.3 832.4 100.3 832.6 100.3 832.9 100.3 833.1 100.3 833.4 100.3 833.6 100.3 833.9 100.3 834.1 100.3 834.4 100.3 834.6 100.3 834.8 100.3 835.1 100.3 835.3 100.3 835.6 100.3 835.8 100.3 836.1 100.3 836.3 100.3 836.5 100.3 836.8 100.3 837 100.3 837.3 100.3 837.5 100.3 837.8 100.3 838 100.3 838.2 100.3 838.5 100.3 838.7 100.3 839 100.3 839.2 100.3 839.5 100.3 839.7 100.3 840 100.3 840.2 100.3 840.4 100.3 840.7 100.4 840.9 100.4 841.2 100.4 841.4 100.4 841.7 100.4 841.9 100.4 842.1 100.4 842.4 100.4 842.6 100.4 842.9 100.4 843.1 100.4 843.4 100.4 843.6 100.4 843.9 100.4 844.1 100.4 844.3 100.4 844.6 100.4 844.8 100.4 845.1 100.4 845.3 100.4 845.6 100.4 845.8 100.4 846 100.4 846.3 100.4 846.5 100.4 846.8 100.4 847 100.4 847.3 100.4 847.5 100.4 847.8 100.4 848 100.4 848.2 100.4 848.5 100.4 848.7 100.4 849 100.4 849.2 100.4 849.5 100.4 849.7 100.4 849.9 100.4 850.2 100.4 850.4 100.4 850.7 100.4 850.9 100.4 851.2 100.4 851.4 100.4 851.6 100.4 851.9 100.4 852.1 100.4 852.4 100.4 852.6 100.4 852.9 100.4 853.1 100.5 853.4 100.5 853.6 100.5 853.8 100.5 854.1 100.5 854.3 100.5 854.6 100.5 854.8 100.5 855.1 100.5 855.3 100.5 855.5 100.5 855.8 100.5 856 100.5 856.3 100.5 856.5 100.5 856.8 100.5 857 100.5 857.3 100.5 857.5 100.5 857.7 100.5 858 100.5 858.2 100.5 858.5 100.5 858.7 100.5 859 100.5 859.2 100.5 859.4 100.5 859.7 100.5 859.9 100.5 860.2 100.5 860.4 100.5 860.7 100.5 860.9 100.5 861.1 100.5 861.4 100.5 861.6 100.6 861.9 100.6 862.1 100.6 862.4 100.6 862.6 100.6 862.9 100.6 863.1 100.6 863.3 100.6 863.6 100.6 863.8 100.6 864.1 100.6 864.3 100.6 864.6 100.6 864.8 100.6 865 100.6 865.3 100.6 865.5 100.6 865.8 100.6 866 100.6 866.3 100.6 866.5 100.6 866.8 100.6 867 100.6 867.2 100.6 867.5 100.6 867.7 100.6 868 100.7 868.2 100.7 868.5 100.7 868.7 100.7 868.9 100.7 869.2 100.7 869.4 100.7 869.7 100.7 869.9 100.7 870.2 100.7 870.4 100.7 870.6 100.7 870.9 100.7 871.1 100.7 871.4 100.7 871.6 100.7 871.9 100.7 872.1 100.7 872.4 100.7 872.6 100.7 872.8 100.8 873.1 100.8 873.3 100.8 873.6 100.8 873.8 100.8 874.1 100.8 874.3 100.8 874.5 100.8 874.8 100.8 875 100.8 875.3 100.8 875.5 100.8 875.8 100.8 876 100.8 876.3 100.8 876.5 100.8 876.7 100.8 877 100.9 877.2 100.9 877.5 100.9 877.7 100.9 878 100.9 878.2 100.9 878.4 100.9 878.7 100.9 878.9 100.9 879.2 100.9 879.4 100.9 879.7 100.9 879.9 100.9 880.1 101 880.4 101 880.6 101 880.9 101 881.1 101 881.4 101 881.6 101 881.9 101 882.1 101 882.3 101 882.6 101 882.8 101.1 883.1 101.1 883.3 101.1 883.6 101.1 883.8 101.1 884 101.1 884.3 101.1 884.5 101.1 884.8 101.1 885 101.1 885.3 101.2 885.5 101.2 885.8 101.2 886 101.2 886.2 101.2 886.5 101.2 886.7 101.2 887 101.2 887.2 101.2 887.5 101.3 887.7 101.3 887.9 101.3 888.2 101.3 888.4 101.3 888.7 101.3 888.9 101.3 889.2 101.4 889.4 101.4 889.6 101.4 889.9 101.4 890.1 101.4 890.4 101.4 890.6 101.4 890.9 101.5 891.1 101.5 891.4 101.5 891.6 101.5 891.8 101.5 892.1 101.6 892.3 101.6 892.6 101.6 892.8 101.6 893.1 101.6 893.3 101.6 893.5 101.7 893.8 101.7 894 101.7 894.3 101.7 894.5 101.7 894.8 101.8 895 101.8 895.3 101.8 895.5 101.8 895.7 101.9 896 101.9 896.2 101.9 896.5 101.9 896.7 102 897 102 897.2 102 897.4 102 897.7 102.1 897.9 102.1 898.2 102.1 898.4 102.2 898.7 102.2 898.9 102.2 899.2 102.2 899.4 102.3 899.6 102.3 899.9 102.3 900.1 102.4 900.4 102.4 900.6 102.5 900.9 102.5 901.1 102.5 901.3 102.6 901.6 102.6 901.8 102.7 902.1 102.7 902.3 102.7 902.6 102.8 902.8 102.8 903 102.9 903.3 102.9 903.5 103 903.8 103 904 103.1 904.3 103.1 904.5 103.2 904.8 103.2 905 103.3 905.2 103.4 905.5 103.4 905.7 103.5 906 103.5 906.2 103.6 906.5 103.7 906.7 103.7 906.9 103.8 907.2 103.9 907.4 104 907.7 104.1 907.9 104.1 908.2 104.2 908.4 104.3 908.7 104.4 908.9 104.5 909.1 104.6 909.4 104.7 909.6 104.8 909.9 104.9 910.1 105 910.4 105.1 910.6 105.2 910.8 105.4 911.1 105.5 911.3 105.6 911.6 105.7 911.8 105.9 912.1 106 912.3 106.2 912.5 106.3 912.8 106.5 913 106.7 913.3 106.8 913.5 107 913.8 107.2 914 107.4 914.3 107.6 914.5 107.8 914.7 108.1 915 108.3 915.2 108.5 915.5 108.8 915.7 109.1 916 109.3 916.2 109.6 916.4 109.9 916.7 110.3 916.9 110.6 917.2 110.9 917.4 111.3 917.7 111.7 917.9 112.1 918.2 112.6 918.4 113 918.6 113.5 918.9 114 919.1 114.5 919.4 115.1 919.6 115.7 919.9 116.3 920.1 117 920.3 117.7 920.6 118.4 920.8 119.2 921.1 120.1 921.3 121 921.6 121.9 921.8 123 922 124 922.3 125.2 922.5 126.4 922.8 127.8 923 129.2 923.3 130.7 923.5 132.3 923.8 134 924 135.9 924.2 137.9 924.5 140 924.7 142.3 925 144.8 925.2 147.4 925.5 150.2 925.7 153.2 925.9 156.4 926.2 159.8 926.4 163.4 926.7 167.2 926.9 171.2 927.2 175.4 927.4 179.7 927.7 184.1 927.9 188.6 928.1 193.1 928.4 197.5 928.6 201.7 928.9 205.7 929.1 209.3 929.4 212.4 929.6 214.9 929.8 216.7 930.1 217.7 930.3 218 930.6 217.4 930.8 216.1 931.1 214 931.3 211.3 931.5 208 931.8 204.2 932 200.1 932.3 195.8 932.5 191.4 932.8 186.9 933 182.4 933.3 178.1 933.5 173.8 933.7 169.7 934 165.8 934.2 162.1 934.5 158.5 934.7 155.2 935 152.1 935.2 149.2 935.4 146.5 935.7 143.9 935.9 141.5 936.2 139.3 936.4 137.2 936.7 135.3 936.9 133.5 937.2 131.8 937.4 130.2 937.6 128.7 937.9 127.4 938.1 126.1 938.4 124.9 938.6 123.7 938.9 122.7 939.1 121.7 939.3 120.8 939.6 119.9 939.8 119.1 940.1 118.3 940.3 117.6 940.6 116.9 940.8 116.2 941 115.6 941.3 115.1 941.5 114.5 941.8 114 942 113.5 942.3 113 942.5 112.6 942.8 112.2 943 111.8 943.2 111.4 943.5 111 943.7 110.7 944 110.4 944.2 110.1 944.5 109.8 944.7 109.5 944.9 109.2 945.2 109 945.4 108.7 945.7 108.5 945.9 108.3 946.2 108 946.4 107.8 946.7 107.6 946.9 107.4 947.1 107.3 947.4 107.1 947.6 106.9 947.9 106.8 948.1 106.6 948.4 106.5 948.6 106.3 948.8 106.2 949.1 106 949.3 105.9 949.6 105.8 949.8 105.7 950.1 105.6 950.3 105.4 950.6 105.3 950.8 105.2 951 105.1 951.3 105 951.5 105 951.8 104.9 952 104.8 952.3 104.7 952.5 104.6 952.7 104.5 953 104.5 953.2 104.4 953.5 104.3 953.7 104.3 954 104.2 954.2 104.1 954.4 104.1 954.7 104 954.9 104 955.2 103.9 955.4 103.8 955.7 103.8 955.9 103.7 956.2 103.7 956.4 103.6 956.6 103.6 956.9 103.6 957.1 103.5 957.4 103.5 957.6 103.4 957.9 103.4 958.1 103.4 958.3 103.3 958.6 103.3 958.8 103.3 959.1 103.2 959.3 103.2 959.6 103.2 959.8 103.1 960.1 103.1 960.3 103.1 960.5 103.1 960.8 103 961 103 961.3 103 961.5 103 961.8 102.9 962 102.9 962.2 102.9 962.5 102.9 962.7 102.9 963 102.8 963.2 102.8 963.5 102.8 963.7 102.8 963.9 102.8 964.2 102.8 964.4 102.7 964.7 102.7 964.9 102.7 965.2 102.7 965.4 102.7 965.7 102.7 965.9 102.7 966.1 102.7 966.4 102.7 966.6 102.7 966.9 102.6 967.1 102.6 967.4 102.6 967.6 102.6 967.8 102.6 968.1 102.6 968.3 102.6 968.6 102.6 968.8 102.6 969.1 102.6 969.3 102.6 969.6 102.6 969.8 102.6 970 102.6 970.3 102.6 970.5 102.6 970.8 102.6 971 102.6 971.3 102.6 971.5 102.6 971.7 102.6 972 102.6 972.2 102.6 972.5 102.7 972.7 102.7 973 102.7 973.2 102.7 973.4 102.7 973.7 102.7 973.9 102.7 974.2 102.7 974.4 102.7 974.7 102.7 974.9 102.8 975.2 102.8 975.4 102.8 975.6 102.8 975.9 102.8 976.1 102.8 976.4 102.8 976.6 102.9 976.9 102.9 977.1 102.9 977.3 102.9 977.6 102.9 977.8 103 978.1 103 978.3 103 978.6 103 978.8 103.1 979.1 103.1 979.3 103.1 979.5 103.2 979.8 103.2 980 103.2 980.3 103.2 980.5 103.3 980.8 103.3 981 103.4 981.2 103.4 981.5 103.4 981.7 103.5 982 103.5 982.2 103.6 982.5 103.6 982.7 103.6 982.9 103.7 983.2 103.7 983.4 103.8 983.7 103.8 983.9 103.9 984.2 104 984.4 104 984.7 104.1 984.9 104.1 985.1 104.2 985.4 104.3 985.6 104.3 985.9 104.4 986.1 104.5 986.4 104.6 986.6 104.7 986.8 104.7 987.1 104.8 987.3 104.9 987.6 105 987.8 105.1 988.1 105.2 988.3 105.3 988.6 105.4 988.8 105.5 989 105.6 989.3 105.8 989.5 105.9 989.8 106 990 106.2 990.3 106.3 990.5 106.4 990.7 106.6 991 106.8 991.2 106.9 991.5 107.1 991.7 107.3 992 107.5 992.2 107.7 992.4 107.9 992.7 108.1 992.9 108.3 993.2 108.6 993.4 108.8 993.7 109.1 993.9 109.3 994.2 109.6 994.4 109.9 994.6 110.2 994.9 110.5 995.1 110.9 995.4 111.3 995.6 111.6 995.9 112 996.1 112.5 996.3 112.9 996.6 113.4 996.8 113.8 997.1 114.4 997.3 114.9 997.6 115.5 997.8 116.1 998.1 116.7 998.3 117.4 998.5 118.1 998.8 118.9 999 119.7 999.3 120.5 999.5 121.4 999.8 122.4 1000 123.4 1000.2 124.4 1000.5 125.6 1000.7 126.8 1001 128 1001.2 129.3 1001.5 130.7 1001.7 132.2 1001.9 133.7 1002.2 135.3 1002.4 137 1002.7 138.8 1002.9 140.6 1003.2 142.5 1003.4 144.4 1003.7 146.4 1003.9 148.4 1004.1 150.4 1004.4 152.4 1004.6 154.4 1004.9 156.3 1005.1 158.1 1005.4 159.9 1005.6 161.4 1005.8 162.8 1006.1 163.9 1006.3 164.8 1006.6 165.4 1006.8 165.8 1007.1 165.8 1007.3 165.6 1007.6 165 1007.8 164.2 1008 163.2 1008.3 161.9 1008.5 160.4 1008.8 158.7 1009 157 1009.3 155.1 1009.5 153.1 1009.7 151.1 1010 149.1 1010.2 147.1 1010.5 145.1 1010.7 143.1 1011 141.2 1011.2 139.4 1011.5 137.6 1011.7 135.9 1011.9 134.2 1012.2 132.7 1012.4 131.2 1012.7 129.8 1012.9 128.4 1013.2 127.1 1013.4 125.9 1013.6 124.8 1013.9 123.7 1014.1 122.7 1014.4 121.7 1014.6 120.8 1014.9 119.9 1015.1 119.1 1015.3 118.3 1015.6 117.6 1015.8 116.9 1016.1 116.2 1016.3 115.6 1016.6 115 1016.8 114.5 1017.1 113.9 1017.3 113.4 1017.5 113 1017.8 112.5 1018 112.1 1018.3 111.7 1018.5 111.3 1018.8 110.9 1019 110.6 1019.2 110.2 1019.5 109.9 1019.7 109.6 1020 109.3 1020.2 109 1020.5 108.8 1020.7 108.5 1021 108.3 1021.2 108 1021.4 107.8 1021.7 107.6 1021.9 107.4 1022.2 107.2 1022.4 107 1022.7 106.8 1022.9 106.7 1023.1 106.5 1023.4 106.3 1023.6 106.2 1023.9 106 1024.1 105.9 1024.4 105.8 1024.6 105.6 1024.8 105.5 1025.1 105.4 1025.3 105.3 1025.6 105.2 1025.8 105 1026.1 104.9 1026.3 104.8 1026.6 104.7 1026.8 104.6 1027 104.6 1027.3 104.5 1027.5 104.4 1027.8 104.3 1028 104.2 1028.3 104.1 1028.5 104.1 1028.7 104 1029 103.9 1029.2 103.9 1029.5 103.8 1029.7 103.7 1030 103.7 1030.2 103.6 1030.5 103.5 1030.7 103.5 1030.9 103.4 1031.2 103.4 1031.4 103.3 1031.7 103.3 1031.9 103.2 1032.2 103.2 1032.4 103.1 1032.6 103.1 1032.9 103.1 1033.1 103 1033.4 103 1033.6 102.9 1033.9 102.9 1034.1 102.9 1034.3 102.8 1034.6 102.8 1034.8 102.8 1035.1 102.7 1035.3 102.7 1035.6 102.7 1035.8 102.6 1036.1 102.6 1036.3 102.6 1036.5 102.5 1036.8 102.5 1037 102.5 1037.3 102.5 1037.5 102.4 1037.8 102.4 1038 102.4 1038.2 102.4 1038.5 102.3 1038.7 102.3 1039 102.3 1039.2 102.3 1039.5 102.3 1039.7 102.2 1040 102.2 1040.2 102.2 1040.4 102.2 1040.7 102.2 1040.9 102.2 1041.2 102.1 1041.4 102.1 1041.7 102.1 1041.9 102.1 1042.1 102.1 1042.4 102.1 1042.6 102.1 1042.9 102 1043.1 102 1043.4 102 1043.6 102 1043.8 102 1044.1 102 1044.3 102 1044.6 102 1044.8 102 1045.1 101.9 1045.3 101.9 1045.6 101.9 1045.8 101.9 1046 101.9 1046.3 101.9 1046.5 101.9 1046.8 101.9 1047 101.9 1047.3 101.9 1047.5 101.9 1047.7 101.9 1048 101.9 1048.2 101.9 1048.5 101.9 1048.7 101.9 1049 101.9 1049.2 101.8 1049.5 101.8 1049.7 101.8 1049.9 101.8 1050.2 101.8 1050.4 101.8 1050.7 101.8 1050.9 101.8 1051.2 101.8 1051.4 101.8 1051.6 101.8 1051.9 101.8 1052.1 101.8 1052.4 101.8 1052.6 101.8 1052.9 101.8 1053.1 101.8 1053.3 101.8 1053.6 101.9 1053.8 101.9 1054.1 101.9 1054.3 101.9 1054.6 101.9 1054.8 101.9 1055.1 101.9 1055.3 101.9 1055.5 101.9 1055.8 101.9 1056 101.9 1056.3 101.9 1056.5 101.9 1056.8 101.9 1057 101.9 1057.2 101.9 1057.5 102 1057.7 102 1058 102 1058.2 102 1058.5 102 1058.7 102 1059 102 1059.2 102 1059.4 102 1059.7 102.1 1059.9 102.1 1060.2 102.1 1060.4 102.1 1060.7 102.1 1060.9 102.1 1061.1 102.2 1061.4 102.2 1061.6 102.2 1061.9 102.2 1062.1 102.2 1062.4 102.3 1062.6 102.3 1062.9 102.3 1063.1 102.3 1063.3 102.4 1063.6 102.4 1063.8 102.4 1064.1 102.4 1064.3 102.5 1064.6 102.5 1064.8 102.5 1065 102.6 1065.3 102.6 1065.5 102.6 1065.8 102.7 1066 102.7 1066.3 102.7 1066.5 102.8 1066.7 102.8 1067 102.9 1067.2 102.9 1067.5 103 1067.7 103 1068 103.1 1068.2 103.1 1068.5 103.2 1068.7 103.2 1068.9 103.3 1069.2 103.3 1069.4 103.4 1069.7 103.5 1069.9 103.5 1070.2 103.6 1070.4 103.7 1070.6 103.8 1070.9 103.8 1071.1 103.9 1071.4 104 1071.6 104.1 1071.9 104.2 1072.1 104.3 1072.4 104.4 1072.6 104.5 1072.8 104.6 1073.1 104.8 1073.3 104.9 1073.6 105 1073.8 105.2 1074.1 105.3 1074.3 105.5 1074.5 105.6 1074.8 105.8 1075 106 1075.3 106.1 1075.5 106.3 1075.8 106.5 1076 106.8 1076.2 107 1076.5 107.2 1076.7 107.5 1077 107.8 1077.2 108 1077.5 108.3 1077.7 108.7 1078 109 1078.2 109.4 1078.4 109.7 1078.7 110.1 1078.9 110.6 1079.2 111 1079.4 111.5 1079.7 112 1079.9 112.6 1080.1 113.2 1080.4 113.8 1080.6 114.5 1080.9 115.2 1081.1 115.9 1081.4 116.8 1081.6 117.6 1081.9 118.6 1082.1 119.6 1082.3 120.6 1082.6 121.7 1082.8 122.9 1083.1 124.2 1083.3 125.6 1083.6 127 1083.8 128.5 1084 130 1084.3 131.7 1084.5 133.3 1084.8 135.1 1085 136.8 1085.3 138.6 1085.5 140.3 1085.7 142 1086 143.5 1086.2 145 1086.5 146.3 1086.7 147.4 1087 148.3 1087.2 148.9 1087.5 149.2 1087.7 149.2 1087.9 148.9 1088.2 148.3 1088.4 147.5 1088.7 146.4 1088.9 145.1 1089.2 143.7 1089.4 142.1 1089.6 140.4 1089.9 138.7 1090.1 136.9 1090.4 135.2 1090.6 133.5 1090.9 131.8 1091.1 130.2 1091.4 128.6 1091.6 127.1 1091.8 125.7 1092.1 124.3 1092.3 123 1092.6 121.8 1092.8 120.7 1093.1 119.6 1093.3 118.6 1093.5 117.7 1093.8 116.8 1094 116 1094.3 115.2 1094.5 114.5 1094.8 113.8 1095 113.2 1095.2 112.6 1095.5 112.1 1095.7 111.6 1096 111.1 1096.2 110.6 1096.5 110.2 1096.7 109.8 1097 109.4 1097.2 109 1097.4 108.7 1097.7 108.4 1097.9 108.1 1098.2 107.8 1098.4 107.5 1098.7 107.3 1098.9 107 1099.1 106.8 1099.4 106.6 1099.6 106.4 1099.9 106.2 1100.1 106 1100.4 105.8 1100.6 105.6 1100.9 105.5 1101.1 105.3 1101.3 105.2 1101.6 105 1101.8 104.9 1102.1 104.8 1102.3 104.7 1102.6 104.6 1102.8 104.4 1103 104.3 1103.3 104.2 1103.5 104.1 1103.8 104 1104 104 1104.3 103.9 1104.5 103.8 1104.7 103.7 1105 103.6 1105.2 103.6 1105.5 103.5 1105.7 103.4 1106 103.4 1106.2 103.3 1106.5 103.3 1106.7 103.2 1106.9 103.2 1107.2 103.1 1107.4 103.1 1107.7 103 1107.9 103 1108.2 102.9 1108.4 102.9 1108.6 102.8 1108.9 102.8 1109.1 102.8 1109.4 102.7 1109.6 102.7 1109.9 102.7 1110.1 102.6 1110.4 102.6 1110.6 102.6 1110.8 102.5 1111.1 102.5 1111.3 102.5 1111.6 102.5 1111.8 102.4 1112.1 102.4 1112.3 102.4 1112.5 102.4 1112.8 102.3 1113 102.3 1113.3 102.3 1113.5 102.3 1113.8 102.3 1114 102.3 1114.3 102.2 1114.5 102.2 1114.7 102.2 1115 102.2 1115.2 102.2 1115.5 102.2 1115.7 102.2 1116 102.2 1116.2 102.2 1116.4 102.1 1116.7 102.1 1116.9 102.1 1117.2 102.1 1117.4 102.1 1117.7 102.1 1117.9 102.1 1118.1 102.1 1118.4 102.1 1118.6 102.1 1118.9 102.1 1119.1 102.1 1119.4 102.1 1119.6 102.1 1119.9 102.1 1120.1 102.1 1120.3 102.1 1120.6 102.1 1120.8 102.1 1121.1 102.1 1121.3 102.1 1121.6 102.1 1121.8 102.1 1122 102.1 1122.3 102.1 1122.5 102.1 1122.8 102.2 1123 102.2 1123.3 102.2 1123.5 102.2 1123.8 102.2 1124 102.2 1124.2 102.2 1124.5 102.2 1124.7 102.3 1125 102.3 1125.2 102.3 1125.5 102.3 1125.7 102.3 1125.9 102.4 1126.2 102.4 1126.4 102.4 1126.7 102.4 1126.9 102.4 1127.2 102.5 1127.4 102.5 1127.6 102.5 1127.9 102.5 1128.1 102.6 1128.4 102.6 1128.6 102.6 1128.9 102.7 1129.1 102.7 1129.4 102.8 1129.6 102.8 1129.8 102.8 1130.1 102.9 1130.3 102.9 1130.6 103 1130.8 103 1131.1 103.1 1131.3 103.1 1131.5 103.2 1131.8 103.2 1132 103.3 1132.3 103.4 1132.5 103.4 1132.8 103.5 1133 103.6 1133.3 103.6 1133.5 103.7 1133.7 103.8 1134 103.9 1134.2 104 1134.5 104.1 1134.7 104.2 1135 104.3 1135.2 104.4 1135.4 104.5 1135.7 104.6 1135.9 104.8 1136.2 104.9 1136.4 105 1136.7 105.2 1136.9 105.4 1137.1 105.5 1137.4 105.7 1137.6 105.9 1137.9 106.1 1138.1 106.3 1138.4 106.5 1138.6 106.7 1138.9 107 1139.1 107.2 1139.3 107.5 1139.6 107.8 1139.8 108.1 1140.1 108.5 1140.3 108.8 1140.6 109.2 1140.8 109.6 1141 110 1141.3 110.5 1141.5 111 1141.8 111.5 1142 112 1142.3 112.6 1142.5 113.3 1142.8 114 1143 114.7 1143.2 115.5 1143.5 116.3 1143.7 117.2 1144 118.2 1144.2 119.3 1144.5 120.4 1144.7 121.6 1144.9 122.8 1145.2 124.2 1145.4 125.6 1145.7 127.1 1145.9 128.7 1146.2 130.3 1146.4 132 1146.6 133.7 1146.9 135.4 1147.1 137.2 1147.4 138.8 1147.6 140.4 1147.9 141.9 1148.1 143.2 1148.4 144.4 1148.6 145.2 1148.8 145.8 1149.1 146.1 1149.3 146.1 1149.6 145.8 1149.8 145.1 1150.1 144.2 1150.3 143.1 1150.5 141.7 1150.8 140.2 1151 138.6 1151.3 136.9 1151.5 135.2 1151.8 133.4 1152 131.7 1152.3 130 1152.5 128.4 1152.7 126.8 1153 125.4 1153.2 123.9 1153.5 122.6 1153.7 121.3 1154 120.2 1154.2 119.1 1154.4 118 1154.7 117.1 1154.9 116.2 1155.2 115.3 1155.4 114.5 1155.7 113.8 1155.9 113.1 1156.1 112.5 1156.4 111.9 1156.6 111.3 1156.9 110.8 1157.1 110.3 1157.4 109.9 1157.6 109.4 1157.9 109 1158.1 108.7 1158.3 108.3 1158.6 108 1158.8 107.7 1159.1 107.4 1159.3 107.1 1159.6 106.8 1159.8 106.6 1160 106.4 1160.3 106.1 1160.5 105.9 1160.8 105.7 1161 105.6 1161.3 105.4 1161.5 105.2 1161.8 105.1 1162 104.9 1162.2 104.8 1162.5 104.6 1162.7 104.5 1163 104.4 1163.2 104.2 1163.5 104.1 1163.7 104 1163.9 103.9 1164.2 103.8 1164.4 103.7 1164.7 103.6 1164.9 103.6 1165.2 103.5 1165.4 103.4 1165.7 103.3 1165.9 103.2 1166.1 103.2 1166.4 103.1 1166.6 103 1166.9 103 1167.1 102.9 1167.4 102.9 1167.6 102.8 1167.8 102.8 1168.1 102.7 1168.3 102.7 1168.6 102.6 1168.8 102.6 1169.1 102.5 1169.3 102.5 1169.5 102.4 1169.8 102.4 1170 102.4 1170.3 102.3 1170.5 102.3 1170.8 102.3 1171 102.2 1171.3 102.2 1171.5 102.2 1171.7 102.1 1172 102.1 1172.2 102.1 1172.5 102 1172.7 102 1173 102 1173.2 102 1173.4 101.9 1173.7 101.9 1173.9 101.9 1174.2 101.9 1174.4 101.9 1174.7 101.8 1174.9 101.8 1175.2 101.8 1175.4 101.8 1175.6 101.8 1175.9 101.8 1176.1 101.7 1176.4 101.7 1176.6 101.7 1176.9 101.7 1177.1 101.7 1177.3 101.7 1177.6 101.7 1177.8 101.6 1178.1 101.6 1178.3 101.6 1178.6 101.6 1178.8 101.6 1179 101.6 1179.3 101.6 1179.5 101.6 1179.8 101.6 1180 101.5 1180.3 101.5 1180.5 101.5 1180.8 101.5 1181 101.5 1181.2 101.5 1181.5 101.5 1181.7 101.5 1182 101.5 1182.2 101.5 1182.5 101.5 1182.7 101.5 1182.9 101.5 1183.2 101.5 1183.4 101.5 1183.7 101.5 1183.9 101.5 1184.2 101.4 1184.4 101.4 1184.7 101.4 1184.9 101.4 1185.1 101.4 1185.4 101.4 1185.6 101.4 1185.9 101.4 1186.1 101.4 1186.4 101.4 1186.6 101.4 1186.8 101.4 1187.1 101.4 1187.3 101.4 1187.6 101.4 1187.8 101.4 1188.1 101.4 1188.3 101.4 1188.5 101.4 1188.8 101.4 1189 101.4 1189.3 101.4 1189.5 101.4 1189.8 101.4 1190 101.4 1190.3 101.4 1190.5 101.5 1190.7 101.5 1191 101.5 1191.2 101.5 1191.5 101.5 1191.7 101.5 1192 101.5 1192.2 101.5 1192.4 101.5 1192.7 101.5 1192.9 101.5 1193.2 101.5 1193.4 101.5 1193.7 101.5 1193.9 101.5 1194.2 101.5 1194.4 101.5 1194.6 101.6 1194.9 101.6 1195.1 101.6 1195.4 101.6 1195.6 101.6 1195.9 101.6 1196.1 101.6 1196.3 101.6 1196.6 101.6 1196.8 101.6 1197.1 101.7 1197.3 101.7 1197.6 101.7 1197.8 101.7 1198 101.7 1198.3 101.7 1198.5 101.7 1198.8 101.7 1199 101.8 1199.3 101.8 1199.5 101.8 1199.8 101.8 1200 101.8 1200.2 101.8 1200.5 101.9 1200.7 101.9 1201 101.9 1201.2 101.9 1201.5 101.9 1201.7 102 1201.9 102 1202.2 102 1202.4 102 1202.7 102.1 1202.9 102.1 1203.2 102.1 1203.4 102.1 1203.7 102.2 1203.9 102.2 1204.1 102.2 1204.4 102.3 1204.6 102.3 1204.9 102.3 1205.1 102.4 1205.4 102.4 1205.6 102.4 1205.8 102.5 1206.1 102.5 1206.3 102.5 1206.6 102.6 1206.8 102.6 1207.1 102.7 1207.3 102.7 1207.5 102.8 1207.8 102.8 1208 102.8 1208.3 102.9 1208.5 103 1208.8 103 1209 103.1 1209.3 103.1 1209.5 103.2 1209.7 103.2 1210 103.3 1210.2 103.4 1210.5 103.5 1210.7 103.5 1211 103.6 1211.2 103.7 1211.4 103.8 1211.7 103.9 1211.9 103.9 1212.2 104 1212.4 104.1 1212.7 104.2 1212.9 104.3 1213.2 104.4 1213.4 104.6 1213.6 104.7 1213.9 104.8 1214.1 104.9 1214.4 105.1 1214.6 105.2 1214.9 105.4 1215.1 105.5 1215.3 105.7 1215.6 105.8 1215.8 106 1216.1 106.2 1216.3 106.4 1216.6 106.6 1216.8 106.8 1217.1 107.1 1217.3 107.3 1217.5 107.6 1217.8 107.8 1218 108.1 1218.3 108.4 1218.5 108.7 1218.8 109.1 1219 109.4 1219.2 109.8 1219.5 110.2 1219.7 110.6 1220 111.1 1220.2 111.5 1220.5 112 1220.7 112.6 1220.9 113.2 1221.2 113.8 1221.4 114.4 1221.7 115.1 1221.9 115.8 1222.2 116.6 1222.4 117.5 1222.7 118.4 1222.9 119.3 1223.1 120.4 1223.4 121.4 1223.6 122.6 1223.9 123.9 1224.1 125.2 1224.4 126.6 1224.6 128.1 1224.8 129.6 1225.1 131.3 1225.3 133.1 1225.6 134.9 1225.8 136.8 1226.1 138.7 1226.3 140.7 1226.6 142.8 1226.8 144.8 1227 146.8 1227.3 148.7 1227.5 150.5 1227.8 152.1 1228 153.6 1228.3 154.8 1228.5 155.7 1228.7 156.3 1229 156.6 1229.2 156.5 1229.5 156.1 1229.7 155.4 1230 154.3 1230.2 153 1230.4 151.5 1230.7 149.8 1230.9 147.9 1231.2 146 1231.4 144 1231.7 141.9 1231.9 139.9 1232.2 137.9 1232.4 136 1232.6 134.1 1232.9 132.3 1233.1 130.6 1233.4 129 1233.6 127.5 1233.9 126 1234.1 124.6 1234.3 123.3 1234.6 122.1 1234.8 121 1235.1 119.9 1235.3 118.9 1235.6 118 1235.8 117.1 1236.1 116.3 1236.3 115.5 1236.5 114.8 1236.8 114.2 1237 113.5 1237.3 112.9 1237.5 112.4 1237.8 111.9 1238 111.4 1238.2 110.9 1238.5 110.5 1238.7 110.1 1239 109.7 1239.2 109.3 1239.5 109 1239.7 108.6 1239.9 108.3 1240.2 108 1240.4 107.7 1240.7 107.5 1240.9 107.2 1241.2 107 1241.4 106.8 1241.7 106.6 1241.9 106.4 1242.1 106.2 1242.4 106 1242.6 105.8 1242.9 105.6 1243.1 105.5 1243.4 105.3 1243.6 105.2 1243.8 105 1244.1 104.9 1244.3 104.8 1244.6 104.7 1244.8 104.5 1245.1 104.4 1245.3 104.3 1245.6 104.2 1245.8 104.1 1246 104 1246.3 103.9 1246.5 103.9 1246.8 103.8 1247 103.7 1247.3 103.6 1247.5 103.5 1247.7 103.5 1248 103.4 1248.2 103.3 1248.5 103.3 1248.7 103.2 1249 103.1 1249.2 103.1 1249.4 103 1249.7 103 1249.9 102.9 1250.2 102.9 1250.4 102.8 1250.7 102.8 1250.9 102.7 1251.2 102.7 1251.4 102.6 1251.6 102.6 1251.9 102.6 1252.1 102.5 1252.4 102.5 1252.6 102.5 1252.9 102.4 1253.1 102.4 1253.3 102.4 1253.6 102.3 1253.8 102.3 1254.1 102.3 1254.3 102.2 1254.6 102.2 1254.8 102.2 1255.1 102.2 1255.3 102.1 1255.5 102.1 1255.8 102.1 1256 102.1 1256.3 102 1256.5 102 1256.8 102 1257 102 1257.2 102 1257.5 101.9 1257.7 101.9 1258 101.9 1258.2 101.9 1258.5 101.9 1258.7 101.9 1258.9 101.8 1259.2 101.8 1259.4 101.8 1259.7 101.8 1259.9 101.8 1260.2 101.8 1260.4 101.8 1260.7 101.7 1260.9 101.7 1261.1 101.7 1261.4 101.7 1261.6 101.7 1261.9 101.7 1262.1 101.7 1262.4 101.7 1262.6 101.7 1262.8 101.7 1263.1 101.6 1263.3 101.6 1263.6 101.6 1263.8 101.6 1264.1 101.6 1264.3 101.6 1264.6 101.6 1264.8 101.6 1265 101.6 1265.3 101.6 1265.5 101.6 1265.8 101.6 1266 101.6 1266.3 101.6 1266.5 101.6 1266.7 101.6 1267 101.6 1267.2 101.6 1267.5 101.6 1267.7 101.5 1268 101.5 1268.2 101.5 1268.4 101.5 1268.7 101.5 1268.9 101.5 1269.2 101.5 1269.4 101.5 1269.7 101.5 1269.9 101.5 1270.2 101.5 1270.4 101.5 1270.6 101.5 1270.9 101.5 1271.1 101.5 1271.4 101.5 1271.6 101.5 1271.9 101.5 1272.1 101.5 1272.3 101.5 1272.6 101.5 1272.8 101.6 1273.1 101.6 1273.3 101.6 1273.6 101.6 1273.8 101.6 1274.1 101.6 1274.3 101.6 1274.5 101.6 1274.8 101.6 1275 101.6 1275.3 101.6 1275.5 101.6 1275.8 101.6 1276 101.6 1276.2 101.6 1276.5 101.6 1276.7 101.6 1277 101.6 1277.2 101.6 1277.5 101.6 1277.7 101.7 1278 101.7 1278.2 101.7 1278.4 101.7 1278.7 101.7 1278.9 101.7 1279.2 101.7 1279.4 101.7 1279.7 101.7 1279.9 101.7 1280.1 101.8 1280.4 101.8 1280.6 101.8 1280.9 101.8 1281.1 101.8 1281.4 101.8 1281.6 101.8 1281.8 101.8 1282.1 101.9 1282.3 101.9 1282.6 101.9 1282.8 101.9 1283.1 101.9 1283.3 101.9 1283.6 101.9 1283.8 102 1284 102 1284.3 102 1284.5 102 1284.8 102 1285 102.1 1285.3 102.1 1285.5 102.1 1285.7 102.1 1286 102.1 1286.2 102.2 1286.5 102.2 1286.7 102.2 1287 102.2 1287.2 102.3 1287.5 102.3 1287.7 102.3 1287.9 102.3 1288.2 102.4 1288.4 102.4 1288.7 102.4 1288.9 102.4 1289.2 102.5 1289.4 102.5 1289.6 102.5 1289.9 102.6 1290.1 102.6 1290.4 102.6 1290.6 102.7 1290.9 102.7 1291.1 102.8 1291.3 102.8 1291.6 102.8 1291.8 102.9 1292.1 102.9 1292.3 103 1292.6 103 1292.8 103 1293.1 103.1 1293.3 103.1 1293.5 103.2 1293.8 103.2 1294 103.3 1294.3 103.4 1294.5 103.4 1294.8 103.5 1295 103.5 1295.2 103.6 1295.5 103.7 1295.7 103.7 1296 103.8 1296.2 103.9 1296.5 103.9 1296.7 104 1297 104.1 1297.2 104.2 1297.4 104.3 1297.7 104.3 1297.9 104.4 1298.2 104.5 1298.4 104.6 1298.7 104.7 1298.9 104.8 1299.1 104.9 1299.4 105 1299.6 105.2 1299.9 105.3 1300.1 105.4 1300.4 105.5 1300.6 105.7 1300.8 105.8 1301.1 105.9 1301.3 106.1 1301.6 106.2 1301.8 106.4 1302.1 106.6 1302.3 106.7 1302.6 106.9 1302.8 107.1 1303 107.3 1303.3 107.5 1303.5 107.7 1303.8 108 1304 108.2 1304.3 108.4 1304.5 108.7 1304.7 109 1305 109.3 1305.2 109.6 1305.5 109.9 1305.7 110.2 1306 110.6 1306.2 110.9 1306.5 111.3 1306.7 111.7 1306.9 112.1 1307.2 112.6 1307.4 113.1 1307.7 113.6 1307.9 114.1 1308.2 114.7 1308.4 115.3 1308.6 115.9 1308.9 116.6 1309.1 117.3 1309.4 118 1309.6 118.8 1309.9 119.7 1310.1 120.6 1310.3 121.6 1310.6 122.7 1310.8 123.8 1311.1 125 1311.3 126.3 1311.6 127.7 1311.8 129.2 1312.1 130.8 1312.3 132.5 1312.5 134.4 1312.8 136.4 1313 138.5 1313.3 140.9 1313.5 143.4 1313.8 146.1 1314 149 1314.2 152.2 1314.5 155.6 1314.7 159.3 1315 163.2 1315.2 167.4 1315.5 171.9 1315.7 176.6 1316 181.6 1316.2 186.8 1316.4 192.1 1316.7 197.6 1316.9 203.1 1317.2 208.5 1317.4 213.7 1317.7 218.5 1317.9 222.8 1318.1 226.3 1318.4 229.1 1318.6 230.8 1318.9 231.5 1319.1 231.1 1319.4 229.7 1319.6 227.2 1319.8 223.8 1320.1 219.8 1320.3 215.1 1320.6 210 1320.8 204.6 1321.1 199.2 1321.3 193.7 1321.6 188.3 1321.8 183 1322 178 1322.3 173.1 1322.5 168.6 1322.8 164.3 1323 160.3 1323.3 156.6 1323.5 153.1 1323.7 149.9 1324 146.9 1324.2 144.1 1324.5 141.5 1324.7 139.1 1325 136.9 1325.2 134.9 1325.5 133 1325.7 131.2 1325.9 129.6 1326.2 128 1326.4 126.6 1326.7 125.3 1326.9 124.1 1327.2 122.9 1327.4 121.8 1327.6 120.8 1327.9 119.9 1328.1 119 1328.4 118.2 1328.6 117.4 1328.9 116.7 1329.1 116 1329.4 115.4 1329.6 114.7 1329.8 114.2 1330.1 113.6 1330.3 113.1 1330.6 112.6 1330.8 112.2 1331.1 111.7 1331.3 111.3 1331.5 110.9 1331.8 110.6 1332 110.2 1332.3 109.9 1332.5 109.5 1332.8 109.2 1333 109 1333.2 108.7 1333.5 108.4 1333.7 108.2 1334 107.9 1334.2 107.7 1334.5 107.5 1334.7 107.3 1335 107 1335.2 106.9 1335.4 106.7 1335.7 106.5 1335.9 106.3 1336.2 106.2 1336.4 106 1336.7 105.8 1336.9 105.7 1337.1 105.6 1337.4 105.4 1337.6 105.3 1337.9 105.2 1338.1 105 1338.4 104.9 1338.6 104.8 1338.9 104.7 1339.1 104.6 1339.3 104.5 1339.6 104.4 1339.8 104.3 1340.1 104.2 1340.3 104.1 1340.6 104 1340.8 103.9 1341 103.9 1341.3 103.8 1341.5 103.7 1341.8 103.6 1342 103.6 1342.3 103.5 1342.5 103.4 1342.7 103.4 1343 103.3 1343.2 103.2 1343.5 103.2 1343.7 103.1 1344 103.1 1344.2 103 1344.5 102.9 1344.7 102.9 1344.9 102.8 1345.2 102.8 1345.4 102.7 1345.7 102.7 1345.9 102.7 1346.2 102.6 1346.4 102.6 1346.6 102.5 1346.9 102.5 1347.1 102.4 1347.4 102.4 1347.6 102.4 1347.9 102.3 1348.1 102.3 1348.4 102.3 1348.6 102.2 1348.8 102.2 1349.1 102.2 1349.3 102.1 1349.6 102.1 1349.8 102.1 1350.1 102 1350.3 102 1350.5 102 1350.8 101.9 1351 101.9 1351.3 101.9 1351.5 101.9 1351.8 101.8 1352 101.8 1352.2 101.8 1352.5 101.8 1352.7 101.7 1353 101.7 1353.2 101.7 1353.5 101.7 1353.7 101.7 1354 101.6 1354.2 101.6 1354.4 101.6 1354.7 101.6 1354.9 101.6 1355.2 101.5 1355.4 101.5 1355.7 101.5 1355.9 101.5 1356.1 101.5 1356.4 101.4 1356.6 101.4 1356.9 101.4 1357.1 101.4 1357.4 101.4 1357.6 101.4 1357.9 101.3 1358.1 101.3 1358.3 101.3 1358.6 101.3 1358.8 101.3 1359.1 101.3 1359.3 101.3 1359.6 101.2 1359.8 101.2 1360 101.2 1360.3 101.2 1360.5 101.2 1360.8 101.2 1361 101.2 1361.3 101.2 1361.5 101.1 1361.7 101.1 1362 101.1 1362.2 101.1 1362.5 101.1 1362.7 101.1 1363 101.1 1363.2 101.1 1363.5 101 1363.7 101 1363.9 101 1364.2 101 1364.4 101 1364.7 101 1364.9 101 1365.2 101 1365.4 101 1365.6 101 1365.9 101 1366.1 100.9 1366.4 100.9 1366.6 100.9 1366.9 100.9 1367.1 100.9 1367.4 100.9 1367.6 100.9 1367.8 100.9 1368.1 100.9 1368.3 100.9 1368.6 100.9 1368.8 100.9 1369.1 100.8 1369.3 100.8 1369.5 100.8 1369.8 100.8 1370 100.8 1370.3 100.8 1370.5 100.8 1370.8 100.8 1371 100.8 1371.2 100.8 1371.5 100.8 1371.7 100.8 1372 100.8 1372.2 100.8 1372.5 100.8 1372.7 100.7 1373 100.7 1373.2 100.7 1373.4 100.7 1373.7 100.7 1373.9 100.7 1374.2 100.7 1374.4 100.7 1374.7 100.7 1374.9 100.7 1375.1 100.7 1375.4 100.7 1375.6 100.7 1375.9 100.7 1376.1 100.7 1376.4 100.7 1376.6 100.7 1376.9 100.7 1377.1 100.6 1377.3 100.6 1377.6 100.6 1377.8 100.6 1378.1 100.6 1378.3 100.6 1378.6 100.6 1378.8 100.6 1379 100.6 1379.3 100.6 1379.5 100.6 1379.8 100.6 1380 100.6 1380.3 100.6 1380.5 100.6 1380.8 100.6 1381 100.6 1381.2 100.6 1381.5 100.6 1381.7 100.6 1382 100.6 1382.2 100.6 1382.5 100.6 1382.7 100.6 1382.9 100.5 1383.2 100.5 1383.4 100.5 1383.7 100.5 1383.9 100.5 1384.2 100.5 1384.4 100.5 1384.6 100.5 1384.9 100.5 1385.1 100.5 1385.4 100.5 1385.6 100.5 1385.9 100.5 1386.1 100.5 1386.4 100.5 1386.6 100.5 1386.8 100.5 1387.1 100.5 1387.3 100.5 1387.6 100.5 1387.8 100.5 1388.1 100.5 1388.3 100.5 1388.5 100.5 1388.8 100.5 1389 100.5 1389.3 100.5 1389.5 100.5 1389.8 100.5 1390 100.5 1390.3 100.5 1390.5 100.5 1390.7 100.4 1391 100.4 1391.2 100.4 1391.5 100.4 1391.7 100.4 1392 100.4 1392.2 100.4 1392.4 100.4 1392.7 100.4 1392.9 100.4 1393.2 100.4 1393.4 100.4 1393.7 100.4 1393.9 100.4 1394.1 100.4 1394.4 100.4 1394.6 100.4 1394.9 100.4 1395.1 100.4 1395.4 100.4 1395.6 100.4 1395.9 100.4 1396.1 100.4 1396.3 100.4 1396.6 100.4 1396.8 100.4 1397.1 100.4 1397.3 100.4 1397.6 100.4 1397.8 100.4 1398 100.4 1398.3 100.4 1398.5 100.4 1398.8 100.4 1399 100.4 1399.3 100.4 1399.5 100.4 1399.8 100.4 1400 100.4 1400.2 100.4 1400.5 100.4 1400.7 100.4 1401 100.4 1401.2 100.4 1401.5 100.4 1401.7 100.4L1401.7 100 Z" fill="url(#bR)" opacity="0.92"/>
<path d="M817.3 100L817.3 100 817.5 100 817.8 100 818 100 818.3 100 818.5 100 818.8 100 819 100 819.2 100 819.5 100 819.7 100 820 100 820.2 100 820.5 100 820.7 100 821 100 821.2 100 821.4 100 821.7 100 821.9 100 822.2 100 822.4 100 822.7 100 822.9 100 823.1 100 823.4 100 823.6 100 823.9 100 824.1 100 824.4 100 824.6 100 824.9 100 825.1 100 825.3 100 825.6 100 825.8 100 826.1 100 826.3 100 826.6 100 826.8 100 827 100 827.3 100 827.5 100 827.8 100 828 100 828.3 100 828.5 100 828.7 100 829 100 829.2 100 829.5 100 829.7 100 830 100 830.2 100 830.5 100 830.7 100 830.9 100 831.2 100 831.4 100 831.7 100 831.9 100 832.2 100 832.4 100 832.6 100 832.9 100 833.1 100 833.4 100 833.6 100 833.9 100 834.1 100 834.4 100 834.6 100 834.8 100 835.1 100 835.3 100 835.6 100 835.8 100 836.1 100 836.3 100 836.5 100 836.8 100 837 100 837.3 100 837.5 100 837.8 100 838 100 838.2 100 838.5 100 838.7 100 839 100 839.2 100 839.5 100 839.7 100 840 100 840.2 100 840.4 100 840.7 100 840.9 100 841.2 100 841.4 100 841.7 100 841.9 100 842.1 100 842.4 100 842.6 100 842.9 100 843.1 100 843.4 100 843.6 100 843.9 100 844.1 100 844.3 100 844.6 100 844.8 100 845.1 100 845.3 100 845.6 100 845.8 100 846 100 846.3 100 846.5 100 846.8 100 847 100 847.3 100 847.5 100 847.8 100 848 100 848.2 100 848.5 100 848.7 100 849 100 849.2 100 849.5 100 849.7 100 849.9 100 850.2 100 850.4 100 850.7 100 850.9 100 851.2 100 851.4 100 851.6 100 851.9 100 852.1 100 852.4 100 852.6 100 852.9 100 853.1 100 853.4 100 853.6 100 853.8 100 854.1 100 854.3 100 854.6 100 854.8 100 855.1 100 855.3 100 855.5 100 855.8 100 856 100 856.3 100 856.5 100 856.8 100 857 100 857.3 100 857.5 100 857.7 100 858 100 858.2 100 858.5 100 858.7 100 859 100 859.2 100 859.4 100 859.7 100 859.9 100 860.2 100 860.4 100 860.7 100 860.9 100 861.1 100 861.4 100 861.6 100 861.9 100 862.1 100 862.4 100 862.6 100 862.9 100 863.1 100 863.3 100 863.6 100 863.8 100 864.1 100 864.3 100 864.6 100 864.8 100 865 100 865.3 100 865.5 100 865.8 100 866 100 866.3 100 866.5 100 866.8 100 867 100 867.2 100 867.5 100 867.7 100 868 100 868.2 100 868.5 100 868.7 100 868.9 100 869.2 100 869.4 100 869.7 100 869.9 100 870.2 100 870.4 100 870.6 100 870.9 100 871.1 100 871.4 100 871.6 100 871.9 100 872.1 100 872.4 100 872.6 100 872.8 100 873.1 100 873.3 100 873.6 100 873.8 100 874.1 100 874.3 100 874.5 100 874.8 100 875 100 875.3 100 875.5 100 875.8 100 876 100 876.3 100 876.5 100 876.7 100 877 100 877.2 100 877.5 100 877.7 100 878 100 878.2 100 878.4 100 878.7 100 878.9 100 879.2 100 879.4 100 879.7 100 879.9 100 880.1 100 880.4 100 880.6 100 880.9 100 881.1 100 881.4 100 881.6 100 881.9 100 882.1 100 882.3 100 882.6 100 882.8 100 883.1 100 883.3 100 883.6 100 883.8 100 884 100 884.3 100 884.5 100 884.8 100 885 100 885.3 100 885.5 100 885.8 100 886 100 886.2 100 886.5 100 886.7 100 887 100 887.2 100 887.5 100 887.7 100 887.9 100 888.2 100 888.4 100 888.7 100 888.9 100 889.2 100 889.4 100 889.6 100 889.9 100 890.1 100 890.4 100 890.6 100 890.9 100 891.1 100 891.4 100 891.6 100 891.8 100 892.1 100 892.3 100 892.6 100 892.8 100 893.1 100 893.3 100 893.5 100 893.8 100 894 100 894.3 100 894.5 100 894.8 100 895 100 895.3 100 895.5 100 895.7 100 896 100 896.2 100 896.5 100 896.7 100 897 100 897.2 100 897.4 100 897.7 100 897.9 100 898.2 100 898.4 100 898.7 100 898.9 100 899.2 100 899.4 100 899.6 100 899.9 100 900.1 100 900.4 100 900.6 100 900.9 100 901.1 100 901.3 100 901.6 100 901.8 100 902.1 100 902.3 100 902.6 100 902.8 100 903 100 903.3 100 903.5 100 903.8 100 904 100 904.3 100 904.5 100 904.8 100 905 100 905.2 100 905.5 100 905.7 100 906 100 906.2 100 906.5 100 906.7 100 906.9 100 907.2 100 907.4 100 907.7 100 907.9 100 908.2 100 908.4 100 908.7 100 908.9 100 909.1 100 909.4 100 909.6 100 909.9 100 910.1 100 910.4 100 910.6 100 910.8 100 911.1 100 911.3 100 911.6 100 911.8 100 912.1 100 912.3 100 912.5 100 912.8 100 913 100 913.3 100 913.5 100 913.8 100 914 100 914.3 100 914.5 100 914.7 100 915 100 915.2 100 915.5 100 915.7 100 916 100 916.2 100 916.4 100 916.7 100 916.9 100 917.2 100 917.4 100 917.7 100 917.9 100 918.2 100 918.4 100 918.6 100 918.9 100 919.1 100 919.4 100 919.6 100 919.9 100 920.1 100 920.3 100 920.6 100 920.8 100 921.1 100 921.3 100 921.6 100 921.8 100 922 100 922.3 100 922.5 100 922.8 100 923 100 923.3 100 923.5 100 923.8 100 924 100 924.2 100 924.5 100 924.7 100 925 100 925.2 100 925.5 100 925.7 100 925.9 100 926.2 100 926.4 100 926.7 100 926.9 100 927.2 100 927.4 100 927.7 100 927.9 100 928.1 100 928.4 100 928.6 100 928.9 100 929.1 100 929.4 100 929.6 100 929.8 100 930.1 100 930.3 100 930.6 100 930.8 100 931.1 100 931.3 100 931.5 100 931.8 100 932 100 932.3 100 932.5 100 932.8 100 933 100 933.3 100 933.5 100 933.7 100 934 100 934.2 100 934.5 100 934.7 100 935 100 935.2 100 935.4 100 935.7 100 935.9 100 936.2 100 936.4 100 936.7 100 936.9 100 937.2 100 937.4 100 937.6 100 937.9 100 938.1 100 938.4 100 938.6 100 938.9 100 939.1 100 939.3 100 939.6 100 939.8 100 940.1 100 940.3 100 940.6 100 940.8 100 941 100 941.3 100 941.5 100 941.8 100 942 100 942.3 100 942.5 100 942.8 100 943 100 943.2 100 943.5 100 943.7 100 944 100 944.2 100 944.5 100 944.7 100 944.9 100 945.2 100 945.4 100 945.7 100 945.9 100 946.2 100 946.4 100 946.7 100 946.9 100 947.1 100 947.4 100 947.6 100 947.9 100 948.1 100 948.4 100 948.6 100 948.8 100 949.1 100 949.3 100 949.6 100 949.8 100 950.1 100 950.3 100 950.6 100 950.8 100 951 100 951.3 100 951.5 100 951.8 100 952 100 952.3 100 952.5 100 952.7 100 953 100 953.2 100 953.5 100 953.7 100 954 100 954.2 100 954.4 100 954.7 100 954.9 100 955.2 100 955.4 100 955.7 100 955.9 100 956.2 100 956.4 100 956.6 100 956.9 100 957.1 100 957.4 100 957.6 100 957.9 100 958.1 100 958.3 100 958.6 100 958.8 100 959.1 100 959.3 100 959.6 100 959.8 100 960.1 100 960.3 100 960.5 100 960.8 100 961 100 961.3 100 961.5 100 961.8 100 962 100 962.2 100 962.5 100 962.7 100 963 100 963.2 100 963.5 102.8 963.7 102.8 963.9 102.8 964.2 102.8 964.4 102.7 964.7 102.7 964.9 102.7 965.2 102.7 965.4 102.7 965.7 102.7 965.9 102.7 966.1 102.7 966.4 102.6 966.6 102.6 966.9 102.6 967.1 102.6 967.4 102.6 967.6 102.6 967.8 102.6 968.1 102.6 968.3 102.6 968.6 102.6 968.8 102.6 969.1 102.6 969.3 102.5 969.6 102.5 969.8 102.5 970 102.5 970.3 102.5 970.5 102.5 970.8 102.5 971 102.5 971.3 102.5 971.5 102.5 971.7 102.5 972 102.5 972.2 102.5 972.5 102.5 972.7 102.5 973 102.5 973.2 102.5 973.4 102.5 973.7 102.5 973.9 102.5 974.2 102.5 974.4 102.5 974.7 102.5 974.9 102.5 975.2 102.5 975.4 102.5 975.6 102.5 975.9 102.5 976.1 102.6 976.4 102.6 976.6 102.6 976.9 102.6 977.1 102.6 977.3 102.6 977.6 102.6 977.8 102.6 978.1 102.6 978.3 102.6 978.6 102.6 978.8 102.7 979.1 102.7 979.3 102.7 979.5 102.7 979.8 102.7 980 102.7 980.3 102.7 980.5 102.8 980.8 102.8 981 102.8 981.2 102.8 981.5 102.8 981.7 102.8 982 102.9 982.2 102.9 982.5 102.9 982.7 102.9 982.9 103 983.2 103 983.4 103 983.7 103 983.9 103.1 984.2 103.1 984.4 103.1 984.7 103.1 984.9 103.2 985.1 103.2 985.4 103.2 985.6 103.3 985.9 103.3 986.1 103.3 986.4 103.4 986.6 103.4 986.8 103.5 987.1 103.5 987.3 103.6 987.6 103.6 987.8 103.7 988.1 103.7 988.3 103.8 988.6 103.8 988.8 103.9 989 103.9 989.3 104 989.5 104 989.8 104.1 990 104.2 990.3 104.2 990.5 104.3 990.7 104.4 991 104.5 991.2 104.5 991.5 104.6 991.7 104.7 992 104.8 992.2 104.9 992.4 105 992.7 105.1 992.9 105.2 993.2 105.3 993.4 105.4 993.7 105.5 993.9 105.7 994.2 105.8 994.4 105.9 994.6 106.1 994.9 106.2 995.1 106.4 995.4 106.5 995.6 106.7 995.9 106.9 996.1 107.1 996.3 107.2 996.6 107.4 996.8 107.7 997.1 107.9 997.3 108.1 997.6 108.4 997.8 108.6 998.1 108.9 998.3 109.2 998.5 109.5 998.8 109.8 999 110.1 999.3 110.5 999.5 110.9 999.8 111.3 1000 111.7 1000.2 112.1 1000.5 112.6 1000.7 113.1 1001 113.6 1001.2 114.2 1001.5 114.8 1001.7 115.5 1001.9 116.2 1002.2 116.9 1002.4 117.7 1002.7 118.5 1002.9 119.4 1003.2 120.4 1003.4 121.5 1003.7 122.6 1003.9 123.8 1004.1 125.1 1004.4 126.5 1004.6 128 1004.9 129.7 1005.1 131.5 1005.4 133.4 1005.6 135.4 1005.8 137.7 1006.1 140.1 1006.3 142.8 1006.6 145.6 1006.8 148.7 1007.1 151.9 1007.3 155.5 1007.6 159.2 1007.8 163.2 1008 167.4 1008.3 171.8 1008.5 176.4 1008.8 181 1009 185.6 1009.3 190.1 1009.5 194.4 1009.7 198.3 1010 201.7 1010.2 204.5 1010.5 206.5 1010.7 207.6 1011 207.7 1011.2 207 1011.5 205.3 1011.7 202.8 1011.9 199.5 1012.2 195.8 1012.4 191.6 1012.7 187.1 1012.9 182.5 1013.2 177.9 1013.4 173.3 1013.6 168.9 1013.9 164.6 1014.1 160.5 1014.4 156.7 1014.6 153.1 1014.9 149.7 1015.1 146.6 1015.3 143.7 1015.6 141 1015.8 138.5 1016.1 136.1 1016.3 134 1016.6 132 1016.8 130.2 1017.1 128.5 1017.3 127 1017.5 125.5 1017.8 124.2 1018 122.9 1018.3 121.8 1018.5 120.7 1018.8 119.7 1019 118.8 1019.2 117.9 1019.5 117.1 1019.7 116.3 1020 115.6 1020.2 115 1020.5 114.3 1020.7 113.8 1021 113.2 1021.2 112.7 1021.4 112.2 1021.7 111.7 1021.9 111.3 1022.2 110.9 1022.4 110.5 1022.7 110.2 1022.9 109.8 1023.1 109.5 1023.4 109.2 1023.6 108.9 1023.9 108.6 1024.1 108.3 1024.4 108.1 1024.6 107.8 1024.8 107.6 1025.1 107.4 1025.3 107.2 1025.6 107 1025.8 106.8 1026.1 106.6 1026.3 106.5 1026.6 106.3 1026.8 106.1 1027 106 1027.3 105.8 1027.5 105.7 1027.8 105.6 1028 105.4 1028.3 105.3 1028.5 105.2 1028.7 105.1 1029 105 1029.2 104.9 1029.5 104.8 1029.7 104.7 1030 104.6 1030.2 104.5 1030.5 104.4 1030.7 104.3 1030.9 104.2 1031.2 104.2 1031.4 104.1 1031.7 104 1031.9 103.9 1032.2 103.9 1032.4 103.8 1032.6 103.7 1032.9 103.7 1033.1 103.6 1033.4 103.6 1033.6 103.5 1033.9 103.5 1034.1 103.4 1034.3 103.4 1034.6 103.3 1034.8 103.3 1035.1 103.2 1035.3 103.2 1035.6 103.1 1035.8 103.1 1036.1 103 1036.3 103 1036.5 103 1036.8 102.9 1037 102.9 1037.3 102.9 1037.5 102.8 1037.8 102.8 1038 102.8 1038.2 102.7 1038.5 102.7 1038.7 102.7 1039 102.7 1039.2 102.6 1039.5 102.6 1039.7 102.6 1040 102.6 1040.2 102.5 1040.4 102.5 1040.7 102.5 1040.9 102.5 1041.2 102.4 1041.4 102.4 1041.7 102.4 1041.9 102.4 1042.1 102.4 1042.4 102.3 1042.6 102.3 1042.9 102.3 1043.1 102.3 1043.4 102.3 1043.6 102.3 1043.8 102.3 1044.1 102.2 1044.3 102.2 1044.6 102.2 1044.8 102.2 1045.1 102.2 1045.3 102.2 1045.6 102.2 1045.8 102.2 1046 102.1 1046.3 102.1 1046.5 102.1 1046.8 102.1 1047 102.1 1047.3 102.1 1047.5 102.1 1047.7 102.1 1048 102.1 1048.2 102.1 1048.5 102.1 1048.7 102.1 1049 102.1 1049.2 102 1049.5 102 1049.7 102 1049.9 102 1050.2 102 1050.4 102 1050.7 102 1050.9 102 1051.2 102 1051.4 102 1051.6 102 1051.9 102 1052.1 102 1052.4 102 1052.6 102 1052.9 102 1053.1 102 1053.3 102 1053.6 102 1053.8 102 1054.1 102 1054.3 102 1054.6 102 1054.8 102 1055.1 102 1055.3 102 1055.5 102 1055.8 102 1056 102 1056.3 102 1056.5 102 1056.8 102 1057 102.1 1057.2 102.1 1057.5 102.1 1057.7 102.1 1058 102.1 1058.2 102.1 1058.5 102.1 1058.7 102.1 1059 102.1 1059.2 102.1 1059.4 102.1 1059.7 102.1 1059.9 102.1 1060.2 102.2 1060.4 102.2 1060.7 102.2 1060.9 102.2 1061.1 102.2 1061.4 102.2 1061.6 102.2 1061.9 102.2 1062.1 102.3 1062.4 102.3 1062.6 102.3 1062.9 102.3 1063.1 102.3 1063.3 102.3 1063.6 102.4 1063.8 102.4 1064.1 102.4 1064.3 102.4 1064.6 102.4 1064.8 102.5 1065 102.5 1065.3 102.5 1065.5 102.5 1065.8 102.5 1066 102.6 1066.3 102.6 1066.5 102.6 1066.7 102.6 1067 102.7 1067.2 102.7 1067.5 102.7 1067.7 102.8 1068 102.8 1068.2 102.8 1068.5 102.9 1068.7 102.9 1068.9 102.9 1069.2 103 1069.4 103 1069.7 103 1069.9 103.1 1070.2 103.1 1070.4 103.2 1070.6 103.2 1070.9 103.3 1071.1 103.3 1071.4 103.4 1071.6 103.4 1071.9 103.5 1072.1 103.5 1072.4 103.6 1072.6 103.6 1072.8 103.7 1073.1 103.8 1073.3 103.8 1073.6 103.9 1073.8 104 1074.1 104 1074.3 104.1 1074.5 104.2 1074.8 104.3 1075 104.4 1075.3 104.4 1075.5 104.5 1075.8 104.6 1076 104.7 1076.2 104.8 1076.5 104.9 1076.7 105.1 1077 105.2 1077.2 105.3 1077.5 105.4 1077.7 105.5 1078 105.7 1078.2 105.8 1078.4 106 1078.7 106.1 1078.9 106.3 1079.2 106.5 1079.4 106.7 1079.7 106.8 1079.9 107 1080.1 107.2 1080.4 107.5 1080.6 107.7 1080.9 107.9 1081.1 108.2 1081.4 108.4 1081.6 108.7 1081.9 109 1082.1 109.3 1082.3 109.7 1082.6 110 1082.8 110.4 1083.1 110.8 1083.3 111.2 1083.6 111.6 1083.8 112.1 1084 112.6 1084.3 113.1 1084.5 113.7 1084.8 114.3 1085 114.9 1085.3 115.6 1085.5 116.3 1085.7 117.1 1086 118 1086.2 118.9 1086.5 119.8 1086.7 120.9 1087 122 1087.2 123.2 1087.5 124.5 1087.7 125.9 1087.9 127.4 1088.2 129.1 1088.4 130.9 1088.7 132.8 1088.9 134.9 1089.2 137.1 1089.4 139.6 1089.6 142.2 1089.9 145 1090.1 148.1 1090.4 151.3 1090.6 154.8 1090.9 158.5 1091.1 162.4 1091.4 166.4 1091.6 170.6 1091.8 174.8 1092.1 179 1092.3 183.1 1092.6 187 1092.8 190.6 1093.1 193.6 1093.3 196 1093.5 197.7 1093.8 198.6 1094 198.6 1094.3 197.8 1094.5 196.2 1094.8 193.8 1095 190.7 1095.2 187.2 1095.5 183.4 1095.7 179.3 1096 175.1 1096.2 170.8 1096.5 166.7 1096.7 162.6 1097 158.7 1097.2 155 1097.4 151.5 1097.7 148.3 1097.9 145.2 1098.2 142.4 1098.4 139.8 1098.7 137.3 1098.9 135.1 1099.1 133 1099.4 131 1099.6 129.3 1099.9 127.6 1100.1 126.1 1100.4 124.7 1100.6 123.4 1100.9 122.2 1101.1 121 1101.3 120 1101.6 119 1101.8 118.1 1102.1 117.3 1102.3 116.5 1102.6 115.8 1102.8 115.1 1103 114.4 1103.3 113.8 1103.5 113.3 1103.8 112.8 1104 112.3 1104.3 111.8 1104.5 111.4 1104.7 111 1105 110.6 1105.2 110.2 1105.5 109.9 1105.7 109.5 1106 109.2 1106.2 108.9 1106.5 108.7 1106.7 108.4 1106.9 108.1 1107.2 107.9 1107.4 107.7 1107.7 107.5 1107.9 107.3 1108.2 107.1 1108.4 106.9 1108.6 106.7 1108.9 106.5 1109.1 106.4 1109.4 106.2 1109.6 106.1 1109.9 106 1110.1 105.8 1110.4 105.7 1110.6 105.6 1110.8 105.5 1111.1 105.3 1111.3 105.2 1111.6 105.1 1111.8 105 1112.1 104.9 1112.3 104.9 1112.5 104.8 1112.8 104.7 1113 104.6 1113.3 104.5 1113.5 104.5 1113.8 104.4 1114 104.3 1114.3 104.3 1114.5 104.2 1114.7 104.1 1115 104.1 1115.2 104 1115.5 104 1115.7 103.9 1116 103.9 1116.2 103.8 1116.4 103.8 1116.7 103.8 1116.9 103.7 1117.2 103.7 1117.4 103.6 1117.7 103.6 1117.9 103.6 1118.1 103.5 1118.4 103.5 1118.6 103.5 1118.9 103.5 1119.1 103.4 1119.4 103.4 1119.6 103.4 1119.9 103.4 1120.1 103.3 1120.3 103.3 1120.6 103.3 1120.8 103.3 1121.1 103.3 1121.3 103.3 1121.6 103.2 1121.8 103.2 1122 103.2 1122.3 103.2 1122.5 103.2 1122.8 103.2 1123 103.2 1123.3 103.2 1123.5 103.2 1123.8 103.2 1124 103.2 1124.2 103.2 1124.5 103.2 1124.7 103.2 1125 103.2 1125.2 103.2 1125.5 103.2 1125.7 103.2 1125.9 103.2 1126.2 103.2 1126.4 103.2 1126.7 103.2 1126.9 103.2 1127.2 103.2 1127.4 103.2 1127.6 103.2 1127.9 103.2 1128.1 103.3 1128.4 103.3 1128.6 103.3 1128.9 103.3 1129.1 103.3 1129.4 103.3 1129.6 103.4 1129.8 103.4 1130.1 103.4 1130.3 103.4 1130.6 103.5 1130.8 103.5 1131.1 103.5 1131.3 103.5 1131.5 103.6 1131.8 103.6 1132 103.6 1132.3 103.7 1132.5 103.7 1132.8 103.7 1133 103.8 1133.3 103.8 1133.5 103.9 1133.7 103.9 1134 104 1134.2 104 1134.5 104.1 1134.7 104.1 1135 104.2 1135.2 104.2 1135.4 104.3 1135.7 104.4 1135.9 104.4 1136.2 104.5 1136.4 104.6 1136.7 104.6 1136.9 104.7 1137.1 104.8 1137.4 104.9 1137.6 105 1137.9 105.1 1138.1 105.2 1138.4 105.3 1138.6 105.4 1138.9 105.5 1139.1 105.6 1139.3 105.7 1139.6 105.8 1139.8 105.9 1140.1 106.1 1140.3 106.2 1140.6 106.4 1140.8 106.5 1141 106.7 1141.3 106.8 1141.5 107 1141.8 107.2 1142 107.4 1142.3 107.6 1142.5 107.8 1142.8 108 1143 108.3 1143.2 108.5 1143.5 108.8 1143.7 109.1 1144 109.3 1144.2 109.6 1144.5 110 1144.7 110.3 1144.9 110.7 1145.2 111 1145.4 111.5 1145.7 111.9 1145.9 112.3 1146.2 112.8 1146.4 113.3 1146.6 113.9 1146.9 114.4 1147.1 115.1 1147.4 115.7 1147.6 116.4 1147.9 117.2 1148.1 118 1148.4 118.8 1148.6 119.7 1148.8 120.7 1149.1 121.8 1149.3 122.9 1149.6 124.2 1149.8 125.5 1150.1 126.9 1150.3 128.5 1150.5 130.2 1150.8 132 1151 133.9 1151.3 136.1 1151.5 138.3 1151.8 140.8 1152 143.5 1152.3 146.4 1152.5 149.5 1152.7 152.9 1153 156.4 1153.2 160.3 1153.5 164.3 1153.7 168.6 1154 173 1154.2 177.6 1154.4 182.2 1154.7 186.8 1154.9 191.3 1155.2 195.5 1155.4 199.3 1155.7 202.6 1155.9 205.1 1156.1 206.9 1156.4 207.8 1156.6 207.7 1156.9 206.7 1157.1 204.8 1157.4 202.1 1157.6 198.7 1157.9 194.8 1158.1 190.6 1158.3 186.1 1158.6 181.4 1158.8 176.8 1159.1 172.3 1159.3 167.8 1159.6 163.6 1159.8 159.6 1160 155.8 1160.3 152.3 1160.5 149 1160.8 145.9 1161 143 1161.3 140.4 1161.5 137.9 1161.8 135.7 1162 133.6 1162.2 131.6 1162.5 129.8 1162.7 128.2 1163 126.6 1163.2 125.2 1163.5 123.9 1163.7 122.7 1163.9 121.6 1164.2 120.5 1164.4 119.5 1164.7 118.6 1164.9 117.7 1165.2 117 1165.4 116.2 1165.7 115.5 1165.9 114.9 1166.1 114.2 1166.4 113.7 1166.6 113.1 1166.9 112.6 1167.1 112.1 1167.4 111.7 1167.6 111.3 1167.8 110.9 1168.1 110.5 1168.3 110.1 1168.6 109.8 1168.8 109.5 1169.1 109.2 1169.3 108.9 1169.5 108.6 1169.8 108.3 1170 108.1 1170.3 107.8 1170.5 107.6 1170.8 107.4 1171 107.2 1171.3 107 1171.5 106.8 1171.7 106.6 1172 106.5 1172.2 106.3 1172.5 106.2 1172.7 106 1173 105.9 1173.2 105.7 1173.4 105.6 1173.7 105.5 1173.9 105.3 1174.2 105.2 1174.4 105.1 1174.7 105 1174.9 104.9 1175.2 104.8 1175.4 104.7 1175.6 104.6 1175.9 104.5 1176.1 104.4 1176.4 104.4 1176.6 104.3 1176.9 104.2 1177.1 104.1 1177.3 104.1 1177.6 104 1177.8 103.9 1178.1 103.9 1178.3 103.8 1178.6 103.7 1178.8 103.7 1179 103.6 1179.3 103.6 1179.5 103.5 1179.8 103.5 1180 103.4 1180.3 103.4 1180.5 103.3 1180.8 103.3 1181 103.2 1181.2 103.2 1181.5 103.2 1181.7 103.1 1182 103.1 1182.2 103.1 1182.5 103 1182.7 103 1182.9 103 1183.2 102.9 1183.4 102.9 1183.7 102.9 1183.9 102.8 1184.2 102.8 1184.4 102.8 1184.7 102.8 1184.9 102.7 1185.1 102.7 1185.4 102.7 1185.6 102.7 1185.9 102.6 1186.1 102.6 1186.4 102.6 1186.6 102.6 1186.8 102.6 1187.1 102.5 1187.3 102.5 1187.6 102.5 1187.8 102.5 1188.1 102.5 1188.3 102.4 1188.5 102.4 1188.8 102.4 1189 102.4 1189.3 102.4 1189.5 102.4 1189.8 102.4 1190 102.4 1190.3 102.3 1190.5 102.3 1190.7 102.3 1191 102.3 1191.2 102.3 1191.5 102.3 1191.7 102.3 1192 102.3 1192.2 102.3 1192.4 102.3 1192.7 102.3 1192.9 102.2 1193.2 102.2 1193.4 102.2 1193.7 102.2 1193.9 102.2 1194.2 102.2 1194.4 102.2 1194.6 102.2 1194.9 102.2 1195.1 102.2 1195.4 102.2 1195.6 102.2 1195.9 102.2 1196.1 102.2 1196.3 102.2 1196.6 102.2 1196.8 102.2 1197.1 102.2 1197.3 102.2 1197.6 102.2 1197.8 102.2 1198 102.2 1198.3 102.2 1198.5 102.2 1198.8 102.2 1199 102.2 1199.3 102.2 1199.5 102.2 1199.8 102.2 1200 102.2 1200.2 102.2 1200.5 102.2 1200.7 102.2 1201 102.3 1201.2 102.3 1201.5 102.3 1201.7 102.3 1201.9 102.3 1202.2 102.3 1202.4 102.3 1202.7 102.3 1202.9 102.3 1203.2 102.3 1203.4 102.3 1203.7 102.3 1203.9 102.4 1204.1 102.4 1204.4 102.4 1204.6 102.4 1204.9 102.4 1205.1 102.4 1205.4 102.4 1205.6 102.5 1205.8 102.5 1206.1 102.5 1206.3 102.5 1206.6 102.5 1206.8 102.5 1207.1 102.6 1207.3 102.6 1207.5 102.6 1207.8 102.6 1208 102.6 1208.3 102.7 1208.5 102.7 1208.8 102.7 1209 102.7 1209.3 102.8 1209.5 102.8 1209.7 102.8 1210 102.8 1210.2 102.9 1210.5 102.9 1210.7 102.9 1211 103 1211.2 103 1211.4 103 1211.7 103 1211.9 103.1 1212.2 103.1 1212.4 103.2 1212.7 103.2 1212.9 103.2 1213.2 103.3 1213.4 103.3 1213.6 103.4 1213.9 103.4 1214.1 103.5 1214.4 103.5 1214.6 103.6 1214.9 103.6 1215.1 103.7 1215.3 103.7 1215.6 103.8 1215.8 103.8 1216.1 103.9 1216.3 103.9 1216.6 104 1216.8 104.1 1217.1 104.1 1217.3 104.2 1217.5 104.3 1217.8 104.4 1218 104.4 1218.3 104.5 1218.5 104.6 1218.8 104.7 1219 104.8 1219.2 104.9 1219.5 105 1219.7 105.1 1220 105.2 1220.2 105.3 1220.5 105.4 1220.7 105.5 1220.9 105.7 1221.2 105.8 1221.4 105.9 1221.7 106.1 1221.9 106.2 1222.2 106.4 1222.4 106.5 1222.7 106.7 1222.9 106.9 1223.1 107.1 1223.4 107.3 1223.6 107.5 1223.9 107.7 1224.1 107.9 1224.4 108.1 1224.6 108.4 1224.8 108.6 1225.1 108.9 1225.3 109.2 1225.6 109.5 1225.8 109.8 1226.1 110.1 1226.3 110.5 1226.6 110.8 1226.8 111.2 1227 111.6 1227.3 112 1227.5 112.5 1227.8 113 1228 113.5 1228.3 114.1 1228.5 114.6 1228.7 115.3 1229 115.9 1229.2 116.6 1229.5 117.4 1229.7 118.2 1230 119 1230.2 120 1230.4 120.9 1230.7 122 1230.9 123.1 1231.2 124.4 1231.4 125.7 1231.7 127.1 1231.9 128.7 1232.2 130.3 1232.4 132.1 1232.6 134 1232.9 136.1 1233.1 138.4 1233.4 140.9 1233.6 143.5 1233.9 146.4 1234.1 149.5 1234.3 152.8 1234.6 156.4 1234.8 160.2 1235.1 164.3 1235.3 168.6 1235.6 173.1 1235.8 177.8 1236.1 182.7 1236.3 187.6 1236.5 192.4 1236.8 197.1 1237 201.5 1237.3 205.5 1237.5 208.8 1237.8 211.4 1238 213.2 1238.2 214 1238.5 213.7 1238.7 212.5 1239 210.4 1239.2 207.5 1239.5 203.8 1239.7 199.7 1239.9 195.1 1240.2 190.3 1240.4 185.4 1240.7 180.6 1240.9 175.8 1241.2 171.1 1241.4 166.7 1241.7 162.5 1241.9 158.5 1242.1 154.8 1242.4 151.4 1242.6 148.1 1242.9 145.2 1243.1 142.4 1243.4 139.8 1243.6 137.5 1243.8 135.3 1244.1 133.3 1244.3 131.4 1244.6 129.7 1244.8 128.1 1245.1 126.6 1245.3 125.2 1245.6 123.9 1245.8 122.8 1246 121.7 1246.3 120.6 1246.5 119.7 1246.8 118.8 1247 118 1247.3 117.2 1247.5 116.5 1247.7 115.8 1248 115.1 1248.2 114.5 1248.5 114 1248.7 113.5 1249 113 1249.2 112.5 1249.4 112 1249.7 111.6 1249.9 111.2 1250.2 110.9 1250.4 110.5 1250.7 110.2 1250.9 109.9 1251.2 109.6 1251.4 109.3 1251.6 109 1251.9 108.8 1252.1 108.5 1252.4 108.3 1252.6 108.1 1252.9 107.8 1253.1 107.6 1253.3 107.5 1253.6 107.3 1253.8 107.1 1254.1 106.9 1254.3 106.8 1254.6 106.6 1254.8 106.5 1255.1 106.3 1255.3 106.2 1255.5 106.1 1255.8 105.9 1256 105.8 1256.3 105.7 1256.5 105.6 1256.8 105.5 1257 105.4 1257.2 105.3 1257.5 105.2 1257.7 105.1 1258 105.1 1258.2 105 1258.5 104.9 1258.7 104.8 1258.9 104.7 1259.2 104.7 1259.4 104.6 1259.7 104.5 1259.9 104.5 1260.2 104.4 1260.4 104.4 1260.7 104.3 1260.9 104.3 1261.1 104.2 1261.4 104.2 1261.6 104.1 1261.9 104.1 1262.1 104 1262.4 104 1262.6 104 1262.8 103.9 1263.1 103.9 1263.3 103.8 1263.6 103.8 1263.8 103.8 1264.1 103.7 1264.3 103.7 1264.6 103.7 1264.8 103.7 1265 103.6 1265.3 103.6 1265.5 103.6 1265.8 103.6 1266 103.5 1266.3 103.5 1266.5 103.5 1266.7 103.5 1267 103.5 1267.2 103.5 1267.5 103.4 1267.7 103.4 1268 103.4 1268.2 103.4 1268.4 103.4 1268.7 103.4 1268.9 103.4 1269.2 103.4 1269.4 103.4 1269.7 103.3 1269.9 103.3 1270.2 103.3 1270.4 103.3 1270.6 103.3 1270.9 103.3 1271.1 103.3 1271.4 103.3 1271.6 103.3 1271.9 103.3 1272.1 103.3 1272.3 103.3 1272.6 103.3 1272.8 103.3 1273.1 103.3 1273.3 103.3 1273.6 103.3 1273.8 103.3 1274.1 103.3 1274.3 103.4 1274.5 103.4 1274.8 103.4 1275 103.4 1275.3 103.4 1275.5 103.4 1275.8 103.4 1276 103.4 1276.2 103.4 1276.5 103.4 1276.7 103.5 1277 103.5 1277.2 103.5 1277.5 103.5 1277.7 103.5 1278 103.5 1278.2 103.6 1278.4 103.6 1278.7 103.6 1278.9 103.6 1279.2 103.6 1279.4 103.7 1279.7 103.7 1279.9 103.7 1280.1 103.7 1280.4 103.8 1280.6 103.8 1280.9 103.8 1281.1 103.9 1281.4 103.9 1281.6 103.9 1281.8 104 1282.1 104 1282.3 104 1282.6 104.1 1282.8 104.1 1283.1 104.1 1283.3 104.2 1283.6 104.2 1283.8 104.3 1284 104.3 1284.3 104.3 1284.5 104.4 1284.8 104.4 1285 100 1285.3 100 1285.5 100 1285.7 100 1286 100 1286.2 100 1286.5 100 1286.7 100 1287 100 1287.2 100 1287.5 100 1287.7 100 1287.9 100 1288.2 100 1288.4 100 1288.7 100 1288.9 100 1289.2 100 1289.4 100 1289.6 100 1289.9 100 1290.1 100 1290.4 100 1290.6 100 1290.9 100 1291.1 100 1291.3 100 1291.6 100 1291.8 100 1292.1 100 1292.3 100 1292.6 100 1292.8 100 1293.1 100 1293.3 100 1293.5 100 1293.8 100 1294 100 1294.3 100 1294.5 100 1294.8 100 1295 100 1295.2 100 1295.5 100 1295.7 100 1296 100 1296.2 100 1296.5 100 1296.7 100 1297 100 1297.2 100 1297.4 100 1297.7 100 1297.9 100 1298.2 100 1298.4 100 1298.7 100 1298.9 100 1299.1 100 1299.4 100 1299.6 100 1299.9 100 1300.1 100 1300.4 100 1300.6 100 1300.8 100 1301.1 100 1301.3 100 1301.6 100 1301.8 100 1302.1 100 1302.3 100 1302.6 100 1302.8 100 1303 100 1303.3 100 1303.5 100 1303.8 100 1304 100 1304.3 100 1304.5 100 1304.7 100 1305 100 1305.2 100 1305.5 100 1305.7 100 1306 100 1306.2 100 1306.5 100 1306.7 100 1306.9 100 1307.2 100 1307.4 100 1307.7 100 1307.9 100 1308.2 100 1308.4 100 1308.6 100 1308.9 100 1309.1 100 1309.4 100 1309.6 100 1309.9 100 1310.1 100 1310.3 100 1310.6 100 1310.8 100 1311.1 100 1311.3 100 1311.6 100 1311.8 100 1312.1 100 1312.3 100 1312.5 100 1312.8 100 1313 100 1313.3 100 1313.5 100 1313.8 100 1314 100 1314.2 100 1314.5 100 1314.7 100 1315 100 1315.2 100 1315.5 100 1315.7 100 1316 100 1316.2 100 1316.4 100 1316.7 100 1316.9 100 1317.2 100 1317.4 100 1317.7 100 1317.9 100 1318.1 100 1318.4 100 1318.6 100 1318.9 100 1319.1 100 1319.4 100 1319.6 100 1319.8 100 1320.1 100 1320.3 100 1320.6 100 1320.8 100 1321.1 100 1321.3 100 1321.6 100 1321.8 100 1322 100 1322.3 100 1322.5 100 1322.8 100 1323 100 1323.3 100 1323.5 100 1323.7 100 1324 100 1324.2 100 1324.5 100 1324.7 100 1325 100 1325.2 100 1325.5 100 1325.7 100 1325.9 100 1326.2 100 1326.4 100 1326.7 100 1326.9 100 1327.2 100 1327.4 100 1327.6 100 1327.9 100 1328.1 100 1328.4 100 1328.6 100 1328.9 100 1329.1 100 1329.4 100 1329.6 100 1329.8 100 1330.1 100 1330.3 100 1330.6 100 1330.8 100 1331.1 100 1331.3 100 1331.5 100 1331.8 100 1332 100 1332.3 100 1332.5 100 1332.8 100 1333 100 1333.2 100 1333.5 100 1333.7 100 1334 100 1334.2 100 1334.5 100 1334.7 100 1335 100 1335.2 100 1335.4 100 1335.7 100 1335.9 100 1336.2 100 1336.4 100 1336.7 100 1336.9 100 1337.1 100 1337.4 100 1337.6 100 1337.9 100 1338.1 100 1338.4 100 1338.6 100 1338.9 100 1339.1 100 1339.3 100 1339.6 100 1339.8 100 1340.1 100 1340.3 100 1340.6 100 1340.8 100 1341 100 1341.3 100 1341.5 100 1341.8 100 1342 100 1342.3 100 1342.5 100 1342.7 100 1343 100 1343.2 100 1343.5 100 1343.7 100 1344 100 1344.2 100 1344.5 100 1344.7 100 1344.9 100 1345.2 100 1345.4 100 1345.7 100 1345.9 100 1346.2 100 1346.4 100 1346.6 100 1346.9 100 1347.1 100 1347.4 100 1347.6 100 1347.9 100 1348.1 100 1348.4 100 1348.6 100 1348.8 100 1349.1 100 1349.3 100 1349.6 100 1349.8 100 1350.1 100 1350.3 100 1350.5 100 1350.8 100 1351 100 1351.3 100 1351.5 100 1351.8 100 1352 100 1352.2 100 1352.5 100 1352.7 100 1353 100 1353.2 100 1353.5 100 1353.7 100 1354 100 1354.2 100 1354.4 100 1354.7 100 1354.9 100 1355.2 100 1355.4 100 1355.7 100 1355.9 100 1356.1 100 1356.4 100 1356.6 100 1356.9 100 1357.1 100 1357.4 100 1357.6 100 1357.9 100 1358.1 100 1358.3 100 1358.6 100 1358.8 100 1359.1 100 1359.3 100 1359.6 100 1359.8 100 1360 100 1360.3 100 1360.5 100 1360.8 100 1361 100 1361.3 100 1361.5 100 1361.7 100 1362 100 1362.2 100 1362.5 100 1362.7 100 1363 100 1363.2 100 1363.5 100 1363.7 100 1363.9 100 1364.2 100 1364.4 100 1364.7 100 1364.9 100 1365.2 100 1365.4 100 1365.6 100 1365.9 100 1366.1 100 1366.4 100 1366.6 100 1366.9 100 1367.1 100 1367.4 100 1367.6 100 1367.8 100 1368.1 100 1368.3 100 1368.6 100 1368.8 100 1369.1 100 1369.3 100 1369.5 100 1369.8 100 1370 100 1370.3 100 1370.5 100 1370.8 100 1371 100 1371.2 100 1371.5 100 1371.7 100 1372 100 1372.2 100 1372.5 100 1372.7 100 1373 100 1373.2 100 1373.4 100 1373.7 100 1373.9 100 1374.2 100 1374.4 100 1374.7 100 1374.9 100 1375.1 100 1375.4 100 1375.6 100 1375.9 100 1376.1 100 1376.4 100 1376.6 100 1376.9 100 1377.1 100 1377.3 100 1377.6 100 1377.8 100 1378.1 100 1378.3 100 1378.6 100 1378.8 100 1379 100 1379.3 100 1379.5 100 1379.8 100 1380 100 1380.3 100 1380.5 100 1380.8 100 1381 100 1381.2 100 1381.5 100 1381.7 100 1382 100 1382.2 100 1382.5 100 1382.7 100 1382.9 100 1383.2 100 1383.4 100 1383.7 100 1383.9 100 1384.2 100 1384.4 100 1384.6 100 1384.9 100 1385.1 100 1385.4 100 1385.6 100 1385.9 100 1386.1 100 1386.4 100 1386.6 100 1386.8 100 1387.1 100 1387.3 100 1387.6 100 1387.8 100 1388.1 100 1388.3 100 1388.5 100 1388.8 100 1389 100 1389.3 100 1389.5 100 1389.8 100 1390 100 1390.3 100 1390.5 100 1390.7 100 1391 100 1391.2 100 1391.5 100 1391.7 100 1392 100 1392.2 100 1392.4 100 1392.7 100 1392.9 100 1393.2 100 1393.4 100 1393.7 100 1393.9 100 1394.1 100 1394.4 100 1394.6 100 1394.9 100 1395.1 100 1395.4 100 1395.6 100 1395.9 100 1396.1 100 1396.3 100 1396.6 100 1396.8 100 1397.1 100 1397.3 100 1397.6 100 1397.8 100 1398 100 1398.3 100 1398.5 100 1398.8 100 1399 100 1399.3 100 1399.5 100 1399.8 100 1400 100 1400.2 100 1400.5 100 1400.7 100 1401 100 1401.2 100 1401.5 100 1401.7 100L1401.7 100 Z" fill="url(#bB2)" />
<path d="M827 100H1401.7" stroke="#c03048" stroke-width="1.6" fill="none"/>
<path d="M890.4 98.8H1401.7" stroke="#70c070" stroke-width="1" fill="none"/>
<path d="M817.3 100.8 817.5 100.9 817.8 100.9 818 100.9 818.3 100.9 818.5 100.9 818.8 100.9 819 100.9 819.2 100.9 819.5 100.9 819.7 100.9 820 100.9 820.2 100.9 820.5 100.9 820.7 100.9 821 100.9 821.2 100.9 821.4 100.9 821.7 100.9 821.9 100.9 822.2 100.9 822.4 100.9 822.7 100.9 822.9 100.9 823.1 100.9 823.4 100.9 823.6 100.9 823.9 100.9 824.1 100.9 824.4 101 824.6 101 824.9 101 825.1 101 825.3 101 825.6 101 825.8 101 826.1 101 826.3 101 826.6 101 826.8 101 827 101 827.3 101 827.5 101 827.8 101 828 101 828.3 101 828.5 101 828.7 101 829 101 829.2 101 829.5 101 829.7 101 830 101 830.2 101.1 830.5 101.1 830.7 101.1 830.9 101.1 831.2 101.1 831.4 101.1 831.7 101.1 831.9 101.1 832.2 101.1 832.4 101.1 832.6 101.1 832.9 101.1 833.1 101.1 833.4 101.1 833.6 101.1 833.9 101.1 834.1 101.1 834.4 101.1 834.6 101.1 834.8 101.1 835.1 101.2 835.3 101.2 835.6 101.2 835.8 101.2 836.1 101.2 836.3 101.2 836.5 101.2 836.8 101.2 837 101.2 837.3 101.2 837.5 101.2 837.8 101.2 838 101.2 838.2 101.2 838.5 101.2 838.7 101.2 839 101.2 839.2 101.3 839.5 101.3 839.7 101.3 840 101.3 840.2 101.3 840.4 101.3 840.7 101.3 840.9 101.3 841.2 101.3 841.4 101.3 841.7 101.3 841.9 101.3 842.1 101.3 842.4 101.3 842.6 101.3 842.9 101.3 843.1 101.4 843.4 101.4 843.6 101.4 843.9 101.4 844.1 101.4 844.3 101.4 844.6 101.4 844.8 101.4 845.1 101.4 845.3 101.4 845.6 101.4 845.8 101.4 846 101.4 846.3 101.5 846.5 101.5 846.8 101.5 847 101.5 847.3 101.5 847.5 101.5 847.8 101.5 848 101.5 848.2 101.5 848.5 101.5 848.7 101.5 849 101.5 849.2 101.5 849.5 101.6 849.7 101.6 849.9 101.6 850.2 101.6 850.4 101.6 850.7 101.6 850.9 101.6 851.2 101.6 851.4 101.6 851.6 101.6 851.9 101.6 852.1 101.7 852.4 101.7 852.6 101.7 852.9 101.7 853.1 101.7 853.4 101.7 853.6 101.7 853.8 101.7 854.1 101.7 854.3 101.8 854.6 101.8 854.8 101.8 855.1 101.8 855.3 101.8 855.5 101.8 855.8 101.8 856 101.8 856.3 101.8 856.5 101.8 856.8 101.9 857 101.9 857.3 101.9 857.5 101.9 857.7 101.9 858 101.9 858.2 101.9 858.5 101.9 858.7 102 859 102 859.2 102 859.4 102 859.7 102 859.9 102 860.2 102 860.4 102.1 860.7 102.1 860.9 102.1 861.1 102.1 861.4 102.1 861.6 102.1 861.9 102.1 862.1 102.1 862.4 102.2 862.6 102.2 862.9 102.2 863.1 102.2 863.3 102.2 863.6 102.2 863.8 102.3 864.1 102.3 864.3 102.3 864.6 102.3 864.8 102.3 865 102.3 865.3 102.4 865.5 102.4 865.8 102.4 866 102.4 866.3 102.4 866.5 102.4 866.8 102.5 867 102.5 867.2 102.5 867.5 102.5 867.7 102.5 868 102.6 868.2 102.6 868.5 102.6 868.7 102.6 868.9 102.6 869.2 102.7 869.4 102.7 869.7 102.7 869.9 102.7 870.2 102.7 870.4 102.8 870.6 102.8 870.9 102.8 871.1 102.8 871.4 102.9 871.6 102.9 871.9 102.9 872.1 102.9 872.4 103 872.6 103 872.8 103 873.1 103 873.3 103.1 873.6 103.1 873.8 103.1 874.1 103.1 874.3 103.2 874.5 103.2 874.8 103.2 875 103.2 875.3 103.3 875.5 103.3 875.8 103.3 876 103.4 876.3 103.4 876.5 103.4 876.7 103.5 877 103.5 877.2 103.5 877.5 103.6 877.7 103.6 878 103.6 878.2 103.7 878.4 103.7 878.7 103.7 878.9 103.8 879.2 103.8 879.4 103.8 879.7 103.9 879.9 103.9 880.1 103.9 880.4 104 880.6 104 880.9 104.1 881.1 104.1 881.4 104.2 881.6 104.2 881.9 104.2 882.1 104.3 882.3 104.3 882.6 104.4 882.8 104.4 883.1 104.5 883.3 104.5 883.6 104.6 883.8 104.6 884 104.7 884.3 104.7 884.5 104.8 884.8 104.8 885 104.9 885.3 104.9 885.5 105 885.8 105 886 105.1 886.2 105.2 886.5 105.2 886.7 105.3 887 105.4 887.2 105.4 887.5 105.5 887.7 105.5 887.9 105.6 888.2 105.7 888.4 105.8 888.7 105.8 888.9 105.9 889.2 106 889.4 106.1 889.6 106.1 889.9 106.2 890.1 106.3 890.4 106.4 890.6 106.5 890.9 106.6 891.1 106.6 891.4 106.7 891.6 106.8 891.8 106.9 892.1 107 892.3 107.1 892.6 107.2 892.8 107.3 893.1 107.4 893.3 107.5 893.5 107.7 893.8 107.8 894 107.9 894.3 108 894.5 108.1 894.8 108.3 895 108.4 895.3 108.5 895.5 108.6 895.7 108.8 896 108.9 896.2 109.1 896.5 109.2 896.7 109.4 897 109.5 897.2 109.7 897.4 109.9 897.7 110 897.9 110.2 898.2 110.4 898.4 110.6 898.7 110.8 898.9 111 899.2 111.2 899.4 111.4 899.6 111.6 899.9 111.8 900.1 112 900.4 112.3 900.6 112.5 900.9 112.8 901.1 113 901.3 113.3 901.6 113.6 901.8 113.9 902.1 114.2 902.3 114.5 902.6 114.8 902.8 115.1 903 115.4 903.3 115.8 903.5 116.1 903.8 116.5 904 116.9 904.3 117.3 904.5 117.7 904.8 118.2 905 118.6 905.2 119.1 905.5 119.6 905.7 120.1 906 120.6 906.2 121.2 906.5 121.7 906.7 122.3 906.9 123 907.2 123.6 907.4 124.3 907.7 125 907.9 125.7 908.2 126.5 908.4 127.3 908.7 128.2 908.9 129.1 909.1 130.1 909.4 131.1 909.6 132.1 909.9 133.2 910.1 134.4 910.4 135.6 910.6 136.9 910.8 138.3 911.1 139.7 911.3 141.2 911.6 142.9 911.8 144.6 912.1 146.4 912.3 148.4 912.5 150.5 912.8 152.7 913 155 913.3 157.6 913.5 160.3 913.8 163.2 914 166.2 914.3 169.6 914.5 173.1 914.7 177 915 181.1 915.2 185.5 915.5 190.3 915.7 195.5 916 201.1 916.2 207.1 916.4 213.6 916.7 220.6 916.9 228.1 917.2 236.3 917.4 245 917.7 254.3 917.9 264.3 918.2 274.9 918.4 286 918.6 297.7 918.9 309.8 919.1 322.1 919.4 334.6 919.6 346.8 919.9 358.6 920.1 369.5 920.3 379.3 920.6 387.5 920.8 393.8 921.1 398 921.3 399.9 921.6 399.5 921.8 396.9 922 392.2 922.3 385.8 922.5 378.1 922.8 369.3 923 359.9 923.3 350.2 923.5 340.5 923.8 331 924 322 924.2 313.6 924.5 305.8 924.7 298.8 925 292.6 925.2 287.2 925.5 282.5 925.7 278.7 925.9 275.7 926.2 273.4 926.4 271.8 926.7 270.9 926.9 270.7 927.2 271.1 927.4 272 927.7 273.5 927.9 275.3 928.1 277.5 928.4 280 928.6 282.6 928.9 285.2 929.1 287.8 929.4 290.1 929.6 292.1 929.8 293.8 930.1 294.9 930.3 295.6 930.6 295.7 930.8 295.3 931.1 294.5 931.3 293.4 931.5 292 931.8 290.5 932 289.1 932.3 287.7 932.5 286.7 932.8 285.9 933 285.6 933.3 285.8 933.5 286.5 933.7 287.7 934 289.4 934.2 291.5 934.5 294 934.7 296.8 935 299.7 935.2 302.5 935.4 304.9 935.7 306.9 935.9 308.2 936.2 308.5 936.4 307.7 936.7 305.8 936.9 302.6 937.2 298.2 937.4 292.7 937.6 286.4 937.9 279.2 938.1 271.6 938.4 263.6 938.6 255.5 938.9 247.4 939.1 239.5 939.3 231.8 939.6 224.4 939.8 217.4 940.1 210.7 940.3 204.4 940.6 198.6 940.8 193.1 941 188 941.3 183.3 941.5 178.9 941.8 174.8 942 170.9 942.3 167.4 942.5 164.1 942.8 161 943 158.2 943.2 155.5 943.5 153.1 943.7 150.7 944 148.6 944.2 146.6 944.5 144.7 944.7 142.9 944.9 141.2 945.2 139.6 945.4 138.2 945.7 136.8 945.9 135.5 946.2 134.2 946.4 133.1 946.7 132 946.9 130.9 947.1 129.9 947.4 129 947.6 128.1 947.9 127.3 948.1 126.5 948.4 125.7 948.6 125 948.8 124.3 949.1 123.6 949.3 123 949.6 122.4 949.8 121.8 950.1 121.2 950.3 120.7 950.6 120.2 950.8 119.7 951 119.3 951.3 118.8 951.5 118.4 951.8 118 952 117.6 952.3 117.2 952.5 116.8 952.7 116.5 953 116.2 953.2 115.8 953.5 115.5 953.7 115.2 954 114.9 954.2 114.6 954.4 114.4 954.7 114.1 954.9 113.9 955.2 113.6 955.4 113.4 955.7 113.2 955.9 112.9 956.2 112.7 956.4 112.5 956.6 112.3 956.9 112.1 957.1 111.9 957.4 111.8 957.6 111.6 957.9 111.4 958.1 111.3 958.3 111.1 958.6 110.9 958.8 110.8 959.1 110.6 959.3 110.5 959.6 110.4 959.8 110.2 960.1 110.1 960.3 110 960.5 109.9 960.8 109.8 961 109.6 961.3 109.5 961.5 109.4 961.8 109.3 962 109.2 962.2 109.1 962.5 109 962.7 108.9 963 108.9 963.2 108.8 963.5 108.7 963.7 108.6 963.9 108.5 964.2 108.5 964.4 108.4 964.7 108.3 964.9 108.3 965.2 108.2 965.4 108.1 965.7 108.1 965.9 108 966.1 107.9 966.4 107.9 966.6 107.8 966.9 107.8 967.1 107.7 967.4 107.7 967.6 107.6 967.8 107.6 968.1 107.6 968.3 107.5 968.6 107.5 968.8 107.4 969.1 107.4 969.3 107.4 969.6 107.3 969.8 107.3 970 107.3 970.3 107.3 970.5 107.2 970.8 107.2 971 107.2 971.3 107.2 971.5 107.2 971.7 107.1 972 107.1 972.2 107.1 972.5 107.1 972.7 107.1 973 107.1 973.2 107.1 973.4 107.1 973.7 107 973.9 107 974.2 107 974.4 107 974.7 107 974.9 107 975.2 107 975.4 107 975.6 107.1 975.9 107.1 976.1 107.1 976.4 107.1 976.6 107.1 976.9 107.1 977.1 107.1 977.3 107.1 977.6 107.2 977.8 107.2 978.1 107.2 978.3 107.2 978.6 107.3 978.8 107.3 979.1 107.3 979.3 107.3 979.5 107.4 979.8 107.4 980 107.5 980.3 107.5 980.5 107.5 980.8 107.6 981 107.6 981.2 107.7 981.5 107.7 981.7 107.8 982 107.8 982.2 107.9 982.5 108 982.7 108 982.9 108.1 983.2 108.2 983.4 108.2 983.7 108.3 983.9 108.4 984.2 108.5 984.4 108.5 984.7 108.6 984.9 108.7 985.1 108.8 985.4 108.9 985.6 109 985.9 109.1 986.1 109.2 986.4 109.3 986.6 109.5 986.8 109.6 987.1 109.7 987.3 109.8 987.6 110 987.8 110.1 988.1 110.3 988.3 110.4 988.6 110.6 988.8 110.8 989 110.9 989.3 111.1 989.5 111.3 989.8 111.5 990 111.7 990.3 111.9 990.5 112.1 990.7 112.4 991 112.6 991.2 112.9 991.5 113.1 991.7 113.4 992 113.7 992.2 114 992.4 114.3 992.7 114.6 992.9 114.9 993.2 115.3 993.4 115.6 993.7 116 993.9 116.4 994.2 116.8 994.4 117.3 994.6 117.7 994.9 118.2 995.1 118.7 995.4 119.2 995.6 119.8 995.9 120.4 996.1 121 996.3 121.6 996.6 122.3 996.8 123 997.1 123.8 997.3 124.6 997.6 125.4 997.8 126.3 998.1 127.2 998.3 128.2 998.5 129.2 998.8 130.3 999 131.4 999.3 132.7 999.5 133.9 999.8 135.3 1000 136.7 1000.2 138.3 1000.5 139.9 1000.7 141.6 1001 143.4 1001.2 145.3 1001.5 147.3 1001.7 149.4 1001.9 151.7 1002.2 154.1 1002.4 156.6 1002.7 159.2 1002.9 161.9 1003.2 164.8 1003.4 167.8 1003.7 171 1003.9 174.2 1004.1 177.6 1004.4 181 1004.6 184.5 1004.9 188.1 1005.1 191.8 1005.4 195.4 1005.6 199.1 1005.8 202.7 1006.1 206.3 1006.3 209.9 1006.6 213.4 1006.8 216.8 1007.1 220.2 1007.3 223.6 1007.6 226.8 1007.8 230.1 1008 233.3 1008.3 236.4 1008.5 239.5 1008.8 242.6 1009 245.5 1009.3 248.1 1009.5 250.5 1009.7 252.5 1010 254 1010.2 254.8 1010.5 254.9 1010.7 254.1 1011 252.4 1011.2 249.9 1011.5 246.5 1011.7 242.4 1011.9 237.6 1012.2 232.4 1012.4 226.8 1012.7 221.1 1012.9 215.3 1013.2 209.5 1013.4 203.8 1013.6 198.4 1013.9 193.2 1014.1 188.2 1014.4 183.6 1014.6 179.3 1014.9 175.2 1015.1 171.5 1015.3 168 1015.6 164.8 1015.8 161.8 1016.1 159.1 1016.3 156.6 1016.6 154.4 1016.8 152.3 1017.1 150.4 1017.3 148.7 1017.5 147.2 1017.8 145.8 1018 144.5 1018.3 143.4 1018.5 142.5 1018.8 141.6 1019 140.9 1019.2 140.3 1019.5 139.9 1019.7 139.5 1020 139.3 1020.2 139.2 1020.5 139.2 1020.7 139.4 1021 139.6 1021.2 140 1021.4 140.6 1021.7 141.3 1021.9 142.1 1022.2 143 1022.4 144.1 1022.7 145.4 1022.9 146.8 1023.1 148.4 1023.4 150 1023.6 151.8 1023.9 153.7 1024.1 155.7 1024.4 157.7 1024.6 159.6 1024.8 161.4 1025.1 163.1 1025.3 164.5 1025.6 165.6 1025.8 166.3 1026.1 166.5 1026.3 166.3 1026.6 165.7 1026.8 164.5 1027 163 1027.3 161.1 1027.5 159 1027.8 156.6 1028 154.1 1028.3 151.6 1028.5 149 1028.7 146.5 1029 144.1 1029.2 141.7 1029.5 139.5 1029.7 137.3 1030 135.3 1030.2 133.5 1030.5 131.7 1030.7 130.1 1030.9 128.6 1031.2 127.2 1031.4 125.9 1031.7 124.7 1031.9 123.6 1032.2 122.5 1032.4 121.5 1032.6 120.6 1032.9 119.8 1033.1 119 1033.4 118.3 1033.6 117.6 1033.9 117 1034.1 116.4 1034.3 115.8 1034.6 115.3 1034.8 114.8 1035.1 114.3 1035.3 113.9 1035.6 113.5 1035.8 113.1 1036.1 112.7 1036.3 112.4 1036.5 112 1036.8 111.7 1037 111.4 1037.3 111.2 1037.5 110.9 1037.8 110.6 1038 110.4 1038.2 110.2 1038.5 109.9 1038.7 109.7 1039 109.5 1039.2 109.4 1039.5 109.2 1039.7 109 1040 108.8 1040.2 108.7 1040.4 108.5 1040.7 108.4 1040.9 108.2 1041.2 108.1 1041.4 108 1041.7 107.9 1041.9 107.7 1042.1 107.6 1042.4 107.5 1042.6 107.4 1042.9 107.3 1043.1 107.2 1043.4 107.1 1043.6 107 1043.8 107 1044.1 106.9 1044.3 106.8 1044.6 106.7 1044.8 106.6 1045.1 106.6 1045.3 106.5 1045.6 106.4 1045.8 106.4 1046 106.3 1046.3 106.3 1046.5 106.2 1046.8 106.2 1047 106.1 1047.3 106.1 1047.5 106 1047.7 106 1048 105.9 1048.2 105.9 1048.5 105.8 1048.7 105.8 1049 105.8 1049.2 105.7 1049.5 105.7 1049.7 105.7 1049.9 105.6 1050.2 105.6 1050.4 105.6 1050.7 105.6 1050.9 105.5 1051.2 105.5 1051.4 105.5 1051.6 105.5 1051.9 105.4 1052.1 105.4 1052.4 105.4 1052.6 105.4 1052.9 105.4 1053.1 105.4 1053.3 105.4 1053.6 105.3 1053.8 105.3 1054.1 105.3 1054.3 105.3 1054.6 105.3 1054.8 105.3 1055.1 105.3 1055.3 105.3 1055.5 105.3 1055.8 105.3 1056 105.3 1056.3 105.3 1056.5 105.3 1056.8 105.3 1057 105.3 1057.2 105.3 1057.5 105.3 1057.7 105.3 1058 105.3 1058.2 105.4 1058.5 105.4 1058.7 105.4 1059 105.4 1059.2 105.4 1059.4 105.4 1059.7 105.5 1059.9 105.5 1060.2 105.5 1060.4 105.5 1060.7 105.5 1060.9 105.6 1061.1 105.6 1061.4 105.6 1061.6 105.7 1061.9 105.7 1062.1 105.7 1062.4 105.8 1062.6 105.8 1062.9 105.8 1063.1 105.9 1063.3 105.9 1063.6 106 1063.8 106 1064.1 106 1064.3 106.1 1064.6 106.1 1064.8 106.2 1065 106.3 1065.3 106.3 1065.5 106.4 1065.8 106.4 1066 106.5 1066.3 106.6 1066.5 106.6 1066.7 106.7 1067 106.8 1067.2 106.9 1067.5 106.9 1067.7 107 1068 107.1 1068.2 107.2 1068.5 107.3 1068.7 107.4 1068.9 107.5 1069.2 107.6 1069.4 107.7 1069.7 107.8 1069.9 107.9 1070.2 108 1070.4 108.2 1070.6 108.3 1070.9 108.4 1071.1 108.6 1071.4 108.7 1071.6 108.9 1071.9 109 1072.1 109.2 1072.4 109.4 1072.6 109.6 1072.8 109.7 1073.1 109.9 1073.3 110.1 1073.6 110.4 1073.8 110.6 1074.1 110.8 1074.3 111.1 1074.5 111.3 1074.8 111.6 1075 111.9 1075.3 112.1 1075.5 112.5 1075.8 112.8 1076 113.1 1076.2 113.5 1076.5 113.8 1076.7 114.2 1077 114.6 1077.2 115.1 1077.5 115.5 1077.7 116 1078 116.5 1078.2 117 1078.4 117.6 1078.7 118.2 1078.9 118.8 1079.2 119.5 1079.4 120.2 1079.7 120.9 1079.9 121.7 1080.1 122.5 1080.4 123.4 1080.6 124.4 1080.9 125.4 1081.1 126.4 1081.4 127.5 1081.6 128.7 1081.9 130 1082.1 131.4 1082.3 132.8 1082.6 134.4 1082.8 136 1083.1 137.7 1083.3 139.6 1083.6 141.5 1083.8 143.5 1084 145.7 1084.3 147.9 1084.5 150.2 1084.8 152.7 1085 155.1 1085.3 157.7 1085.5 160.3 1085.7 162.8 1086 165.4 1086.2 167.9 1086.5 170.3 1086.7 172.6 1087 174.7 1087.2 176.7 1087.5 178.5 1087.7 180.1 1087.9 181.5 1088.2 182.8 1088.4 184 1088.7 185 1088.9 186.1 1089.2 187.2 1089.4 188.3 1089.6 189.6 1089.9 191 1090.1 192.7 1090.4 194.6 1090.6 196.8 1090.9 199.2 1091.1 201.9 1091.4 204.9 1091.6 208.2 1091.8 211.6 1092.1 215.1 1092.3 218.7 1092.6 222.1 1092.8 225.4 1093.1 228.3 1093.3 230.7 1093.5 232.5 1093.8 233.7 1094 234.1 1094.3 233.8 1094.5 232.8 1094.8 231.2 1095 229.1 1095.2 226.6 1095.5 223.8 1095.7 220.8 1096 217.7 1096.2 214.6 1096.5 211.5 1096.7 208.3 1097 205.1 1097.2 201.8 1097.4 198.5 1097.7 195.1 1097.9 191.6 1098.2 188 1098.4 184.3 1098.7 180.5 1098.9 176.8 1099.1 173 1099.4 169.3 1099.6 165.7 1099.9 162.2 1100.1 158.9 1100.4 155.7 1100.6 152.7 1100.9 149.8 1101.1 147.2 1101.3 144.7 1101.6 142.4 1101.8 140.2 1102.1 138.2 1102.3 136.3 1102.6 134.5 1102.8 132.9 1103 131.4 1103.3 129.9 1103.5 128.6 1103.8 127.4 1104 126.2 1104.3 125.2 1104.5 124.2 1104.7 123.2 1105 122.3 1105.2 121.5 1105.5 120.7 1105.7 120 1106 119.3 1106.2 118.7 1106.5 118.1 1106.7 117.5 1106.9 117 1107.2 116.5 1107.4 116 1107.7 115.5 1107.9 115.1 1108.2 114.7 1108.4 114.3 1108.6 113.9 1108.9 113.6 1109.1 113.2 1109.4 112.9 1109.6 112.6 1109.9 112.3 1110.1 112 1110.4 111.8 1110.6 111.5 1110.8 111.3 1111.1 111.1 1111.3 110.9 1111.6 110.7 1111.8 110.5 1112.1 110.3 1112.3 110.1 1112.5 109.9 1112.8 109.8 1113 109.6 1113.3 109.5 1113.5 109.3 1113.8 109.2 1114 109 1114.3 108.9 1114.5 108.8 1114.7 108.7 1115 108.6 1115.2 108.5 1115.5 108.4 1115.7 108.3 1116 108.2 1116.2 108.1 1116.4 108 1116.7 107.9 1116.9 107.9 1117.2 107.8 1117.4 107.7 1117.7 107.7 1117.9 107.6 1118.1 107.6 1118.4 107.5 1118.6 107.4 1118.9 107.4 1119.1 107.4 1119.4 107.3 1119.6 107.3 1119.9 107.2 1120.1 107.2 1120.3 107.2 1120.6 107.1 1120.8 107.1 1121.1 107.1 1121.3 107.1 1121.6 107.1 1121.8 107 1122 107 1122.3 107 1122.5 107 1122.8 107 1123 107 1123.3 107 1123.5 107 1123.8 107 1124 107 1124.2 107 1124.5 107 1124.7 107.1 1125 107.1 1125.2 107.1 1125.5 107.1 1125.7 107.1 1125.9 107.2 1126.2 107.2 1126.4 107.2 1126.7 107.3 1126.9 107.3 1127.2 107.3 1127.4 107.4 1127.6 107.4 1127.9 107.5 1128.1 107.5 1128.4 107.6 1128.6 107.6 1128.9 107.7 1129.1 107.8 1129.4 107.8 1129.6 107.9 1129.8 108 1130.1 108.1 1130.3 108.2 1130.6 108.2 1130.8 108.3 1131.1 108.4 1131.3 108.5 1131.5 108.6 1131.8 108.8 1132 108.9 1132.3 109 1132.5 109.1 1132.8 109.3 1133 109.4 1133.3 109.5 1133.5 109.7 1133.7 109.9 1134 110 1134.2 110.2 1134.5 110.4 1134.7 110.6 1135 110.8 1135.2 111 1135.4 111.2 1135.7 111.4 1135.9 111.7 1136.2 111.9 1136.4 112.2 1136.7 112.5 1136.9 112.8 1137.1 113.1 1137.4 113.4 1137.6 113.7 1137.9 114.1 1138.1 114.5 1138.4 114.8 1138.6 115.3 1138.9 115.7 1139.1 116.2 1139.3 116.6 1139.6 117.2 1139.8 117.7 1140.1 118.3 1140.3 118.9 1140.6 119.5 1140.8 120.2 1141 120.9 1141.3 121.7 1141.5 122.5 1141.8 123.4 1142 124.3 1142.3 125.3 1142.5 126.4 1142.8 127.5 1143 128.7 1143.2 130 1143.5 131.3 1143.7 132.8 1144 134.3 1144.2 136 1144.5 137.8 1144.7 139.7 1144.9 141.7 1145.2 143.8 1145.4 146.1 1145.7 148.5 1145.9 151.1 1146.2 153.7 1146.4 156.6 1146.6 159.5 1146.9 162.5 1147.1 165.6 1147.4 168.8 1147.6 172 1147.9 175.3 1148.1 178.5 1148.4 181.6 1148.6 184.6 1148.8 187.5 1149.1 190.2 1149.3 192.8 1149.6 195.3 1149.8 197.6 1150.1 199.7 1150.3 201.8 1150.5 203.7 1150.8 205.6 1151 207.3 1151.3 209 1151.5 210.6 1151.8 212.1 1152 213.6 1152.3 214.9 1152.5 216.2 1152.7 217.5 1153 218.8 1153.2 220.1 1153.5 221.5 1153.7 223.1 1154 224.8 1154.2 226.6 1154.4 228.6 1154.7 230.6 1154.9 232.5 1155.2 234.4 1155.4 235.9 1155.7 237.1 1155.9 237.7 1156.1 237.6 1156.4 236.7 1156.6 235 1156.9 232.5 1157.1 229.2 1157.4 225.3 1157.6 220.7 1157.9 215.7 1158.1 210.4 1158.3 204.9 1158.6 199.4 1158.8 194 1159.1 188.6 1159.3 183.5 1159.6 178.6 1159.8 173.9 1160 169.6 1160.3 165.5 1160.5 161.6 1160.8 158 1161 154.7 1161.3 151.7 1161.5 148.8 1161.8 146.1 1162 143.7 1162.2 141.4 1162.5 139.3 1162.7 137.3 1163 135.5 1163.2 133.8 1163.5 132.3 1163.7 130.8 1163.9 129.4 1164.2 128.1 1164.4 127 1164.7 125.8 1164.9 124.8 1165.2 123.8 1165.4 122.9 1165.7 122 1165.9 121.2 1166.1 120.5 1166.4 119.7 1166.6 119.1 1166.9 118.4 1167.1 117.8 1167.4 117.3 1167.6 116.7 1167.8 116.2 1168.1 115.7 1168.3 115.3 1168.6 114.8 1168.8 114.4 1169.1 114 1169.3 113.6 1169.5 113.3 1169.8 112.9 1170 112.6 1170.3 112.3 1170.5 112 1170.8 111.7 1171 111.5 1171.3 111.2 1171.5 111 1171.7 110.7 1172 110.5 1172.2 110.3 1172.5 110.1 1172.7 109.9 1173 109.7 1173.2 109.5 1173.4 109.3 1173.7 109.1 1173.9 109 1174.2 108.8 1174.4 108.7 1174.7 108.5 1174.9 108.4 1175.2 108.3 1175.4 108.1 1175.6 108 1175.9 107.9 1176.1 107.8 1176.4 107.7 1176.6 107.6 1176.9 107.5 1177.1 107.4 1177.3 107.3 1177.6 107.2 1177.8 107.1 1178.1 107 1178.3 106.9 1178.6 106.8 1178.8 106.8 1179 106.7 1179.3 106.6 1179.5 106.6 1179.8 106.5 1180 106.4 1180.3 106.4 1180.5 106.3 1180.8 106.2 1181 106.2 1181.2 106.1 1181.5 106.1 1181.7 106 1182 106 1182.2 106 1182.5 105.9 1182.7 105.9 1182.9 105.8 1183.2 105.8 1183.4 105.8 1183.7 105.7 1183.9 105.7 1184.2 105.7 1184.4 105.6 1184.7 105.6 1184.9 105.6 1185.1 105.6 1185.4 105.5 1185.6 105.5 1185.9 105.5 1186.1 105.5 1186.4 105.4 1186.6 105.4 1186.8 105.4 1187.1 105.4 1187.3 105.4 1187.6 105.4 1187.8 105.4 1188.1 105.4 1188.3 105.3 1188.5 105.3 1188.8 105.3 1189 105.3 1189.3 105.3 1189.5 105.3 1189.8 105.3 1190 105.3 1190.3 105.3 1190.5 105.3 1190.7 105.3 1191 105.3 1191.2 105.3 1191.5 105.3 1191.7 105.3 1192 105.3 1192.2 105.4 1192.4 105.4 1192.7 105.4 1192.9 105.4 1193.2 105.4 1193.4 105.4 1193.7 105.4 1193.9 105.4 1194.2 105.5 1194.4 105.5 1194.6 105.5 1194.9 105.5 1195.1 105.5 1195.4 105.6 1195.6 105.6 1195.9 105.6 1196.1 105.7 1196.3 105.7 1196.6 105.7 1196.8 105.7 1197.1 105.8 1197.3 105.8 1197.6 105.9 1197.8 105.9 1198 105.9 1198.3 106 1198.5 106 1198.8 106.1 1199 106.1 1199.3 106.2 1199.5 106.2 1199.8 106.3 1200 106.3 1200.2 106.4 1200.5 106.4 1200.7 106.5 1201 106.6 1201.2 106.6 1201.5 106.7 1201.7 106.8 1201.9 106.8 1202.2 106.9 1202.4 107 1202.7 107.1 1202.9 107.1 1203.2 107.2 1203.4 107.3 1203.7 107.4 1203.9 107.5 1204.1 107.6 1204.4 107.7 1204.6 107.8 1204.9 107.9 1205.1 108 1205.4 108.2 1205.6 108.3 1205.8 108.4 1206.1 108.5 1206.3 108.7 1206.6 108.8 1206.8 109 1207.1 109.1 1207.3 109.3 1207.5 109.4 1207.8 109.6 1208 109.8 1208.3 110 1208.5 110.2 1208.8 110.4 1209 110.6 1209.3 110.8 1209.5 111 1209.7 111.3 1210 111.5 1210.2 111.8 1210.5 112.1 1210.7 112.3 1211 112.6 1211.2 113 1211.4 113.3 1211.7 113.6 1211.9 114 1212.2 114.4 1212.4 114.8 1212.7 115.2 1212.9 115.6 1213.2 116.1 1213.4 116.6 1213.6 117.1 1213.9 117.6 1214.1 118.2 1214.4 118.8 1214.6 119.5 1214.9 120.2 1215.1 120.9 1215.3 121.7 1215.6 122.5 1215.8 123.4 1216.1 124.3 1216.3 125.3 1216.6 126.3 1216.8 127.5 1217.1 128.7 1217.3 130 1217.5 131.4 1217.8 132.9 1218 134.5 1218.3 136.2 1218.5 138.1 1218.8 140.1 1219 142.2 1219.2 144.6 1219.5 147 1219.7 149.7 1220 152.6 1220.2 155.6 1220.5 158.9 1220.7 162.3 1220.9 165.9 1221.2 169.7 1221.4 173.6 1221.7 177.6 1221.9 181.6 1222.2 185.6 1222.4 189.4 1222.7 193 1222.9 196.4 1223.1 199.3 1223.4 201.7 1223.6 203.6 1223.9 204.9 1224.1 205.7 1224.4 206 1224.6 205.8 1224.8 205.3 1225.1 204.6 1225.3 203.7 1225.6 202.7 1225.8 201.8 1226.1 200.9 1226.3 200.2 1226.6 199.6 1226.8 199.1 1227 198.8 1227.3 198.6 1227.5 198.5 1227.8 198.4 1228 198.3 1228.3 198.1 1228.5 197.8 1228.7 197.4 1229 196.8 1229.2 196 1229.5 195.1 1229.7 193.9 1230 192.6 1230.2 191.2 1230.4 189.7 1230.7 188.2 1230.9 186.7 1231.2 185.2 1231.4 183.8 1231.7 182.5 1231.9 181.4 1232.2 180.5 1232.4 179.9 1232.6 179.4 1232.9 179.3 1233.1 179.4 1233.4 179.8 1233.6 180.5 1233.9 181.6 1234.1 183 1234.3 184.7 1234.6 186.8 1234.8 189.2 1235.1 191.9 1235.3 195 1235.6 198.3 1235.8 202 1236.1 205.8 1236.3 209.7 1236.5 213.6 1236.8 217.5 1237 221.1 1237.3 224.3 1237.5 226.9 1237.8 228.9 1238 230 1238.2 230.2 1238.5 229.4 1238.7 227.7 1239 225 1239.2 221.6 1239.5 217.5 1239.7 212.9 1239.9 208 1240.2 202.8 1240.4 197.6 1240.7 192.4 1240.9 187.3 1241.2 182.3 1241.4 177.6 1241.7 173.1 1241.9 168.9 1242.1 164.9 1242.4 161.2 1242.6 157.8 1242.9 154.6 1243.1 151.6 1243.4 148.8 1243.6 146.3 1243.8 143.9 1244.1 141.7 1244.3 139.7 1244.6 137.8 1244.8 136 1245.1 134.4 1245.3 132.9 1245.6 131.5 1245.8 130.2 1246 129 1246.3 127.8 1246.5 126.8 1246.8 125.8 1247 124.9 1247.3 124 1247.5 123.2 1247.7 122.4 1248 121.7 1248.2 121 1248.5 120.4 1248.7 119.8 1249 119.2 1249.2 118.7 1249.4 118.2 1249.7 117.7 1249.9 117.3 1250.2 116.8 1250.4 116.4 1250.7 116.1 1250.9 115.7 1251.2 115.4 1251.4 115 1251.6 114.7 1251.9 114.5 1252.1 114.2 1252.4 113.9 1252.6 113.7 1252.9 113.4 1253.1 113.2 1253.3 113 1253.6 112.8 1253.8 112.6 1254.1 112.5 1254.3 112.3 1254.6 112.1 1254.8 112 1255.1 111.8 1255.3 111.7 1255.5 111.6 1255.8 111.5 1256 111.4 1256.3 111.3 1256.5 111.2 1256.8 111.1 1257 111 1257.2 110.9 1257.5 110.9 1257.7 110.8 1258 110.7 1258.2 110.7 1258.5 110.6 1258.7 110.6 1258.9 110.6 1259.2 110.5 1259.4 110.5 1259.7 110.5 1259.9 110.5 1260.2 110.5 1260.4 110.5 1260.7 110.5 1260.9 110.5 1261.1 110.5 1261.4 110.5 1261.6 110.5 1261.9 110.6 1262.1 110.6 1262.4 110.7 1262.6 110.7 1262.8 110.8 1263.1 110.8 1263.3 110.9 1263.6 111 1263.8 111 1264.1 111.1 1264.3 111.2 1264.6 111.3 1264.8 111.4 1265 111.6 1265.3 111.7 1265.5 111.8 1265.8 112 1266 112.1 1266.3 112.3 1266.5 112.4 1266.7 112.6 1267 112.8 1267.2 113 1267.5 113.2 1267.7 113.5 1268 113.7 1268.2 114 1268.4 114.2 1268.7 114.5 1268.9 114.8 1269.2 115.2 1269.4 115.5 1269.7 115.9 1269.9 116.3 1270.2 116.7 1270.4 117.1 1270.6 117.6 1270.9 118.1 1271.1 118.6 1271.4 119.1 1271.6 119.7 1271.9 120.4 1272.1 121 1272.3 121.8 1272.6 122.5 1272.8 123.4 1273.1 124.2 1273.3 125.2 1273.6 126.2 1273.8 127.3 1274.1 128.4 1274.3 129.7 1274.5 131 1274.8 132.5 1275 134.1 1275.3 135.7 1275.5 137.6 1275.8 139.5 1276 141.7 1276.2 144 1276.5 146.5 1276.7 149.2 1277 152.1 1277.2 155.2 1277.5 158.6 1277.7 162.3 1278 166.2 1278.2 170.4 1278.4 174.9 1278.7 179.6 1278.9 184.6 1279.2 189.8 1279.4 195.1 1279.7 200.4 1279.9 205.7 1280.1 210.9 1280.4 215.6 1280.6 219.9 1280.9 223.6 1281.1 226.4 1281.4 228.2 1281.6 229 1281.8 228.8 1282.1 227.4 1282.3 225.1 1282.6 221.9 1282.8 217.9 1283.1 213.4 1283.3 208.5 1283.6 203.3 1283.8 198 1284 192.8 1284.3 187.7 1284.5 182.7 1284.8 178 1285 173.5 1285.3 169.2 1285.5 165.3 1285.7 161.6 1286 158.2 1286.2 155 1286.5 152.1 1286.7 149.4 1287 147 1287.2 144.7 1287.5 142.6 1287.7 140.7 1287.9 138.9 1288.2 137.2 1288.4 135.7 1288.7 134.3 1288.9 133.1 1289.2 131.9 1289.4 130.8 1289.6 129.8 1289.9 128.9 1290.1 128.1 1290.4 127.3 1290.6 126.6 1290.9 125.9 1291.1 125.3 1291.3 124.8 1291.6 124.2 1291.8 123.8 1292.1 123.4 1292.3 123 1292.6 122.6 1292.8 122.3 1293.1 122 1293.3 121.8 1293.5 121.6 1293.8 121.4 1294 121.2 1294.3 121.1 1294.5 121 1294.8 120.9 1295 120.8 1295.2 120.8 1295.5 120.7 1295.7 120.7 1296 120.7 1296.2 120.8 1296.5 120.8 1296.7 120.9 1297 121 1297.2 121.1 1297.4 121.3 1297.7 121.5 1297.9 121.6 1298.2 121.8 1298.4 122.1 1298.7 122.3 1298.9 122.6 1299.1 122.9 1299.4 123.2 1299.6 123.5 1299.9 123.9 1300.1 124.3 1300.4 124.7 1300.6 125.1 1300.8 125.6 1301.1 126.1 1301.3 126.6 1301.6 127.2 1301.8 127.8 1302.1 128.4 1302.3 129.1 1302.6 129.8 1302.8 130.6 1303 131.4 1303.3 132.2 1303.5 133.1 1303.8 134.1 1304 135.1 1304.3 136.2 1304.5 137.3 1304.7 138.5 1305 139.8 1305.2 141.2 1305.5 142.6 1305.7 144.2 1306 145.8 1306.2 147.5 1306.5 149.4 1306.7 151.4 1306.9 153.5 1307.2 155.8 1307.4 158.2 1307.7 160.8 1307.9 163.6 1308.2 166.6 1308.4 169.8 1308.6 173.2 1308.9 176.9 1309.1 180.9 1309.4 185.2 1309.6 189.8 1309.9 194.8 1310.1 200.2 1310.3 206 1310.6 212.3 1310.8 219.1 1311.1 226.4 1311.3 234.3 1311.6 242.9 1311.8 252.1 1312.1 262 1312.3 272.5 1312.5 283.8 1312.8 295.8 1313 308.4 1313.3 321.6 1313.5 335.3 1313.8 349.2 1314 363.3 1314.2 377.2 1314.5 390.6 1314.7 403.1 1315 414.5 1315.2 424.5 1315.5 432.6 1315.7 438.8 1316 443 1316.2 445.1 1316.4 445.3 1316.7 443.7 1316.9 440.6 1317.2 436.2 1317.4 430.8 1317.7 424.6 1317.9 417.6 1318.1 409.9 1318.4 401.6 1318.6 392.7 1318.9 383.3 1319.1 373.2 1319.4 362.7 1319.6 351.7 1319.8 340.5 1320.1 329 1320.3 317.5 1320.6 306.1 1320.8 294.9 1321.1 284 1321.3 273.5 1321.6 263.5 1321.8 254 1322 245 1322.3 236.5 1322.5 228.5 1322.8 221.1 1323 214.2 1323.3 207.7 1323.5 201.7 1323.7 196.1 1324 190.9 1324.2 186.1 1324.5 181.6 1324.7 177.4 1325 173.6 1325.2 169.9 1325.5 166.6 1325.7 163.4 1325.9 160.5 1326.2 157.7 1326.4 155.1 1326.7 152.7 1326.9 150.5 1327.2 148.3 1327.4 146.3 1327.6 144.5 1327.9 142.7 1328.1 141 1328.4 139.5 1328.6 138 1328.9 136.6 1329.1 135.2 1329.4 134 1329.6 132.8 1329.8 131.7 1330.1 130.6 1330.3 129.6 1330.6 128.6 1330.8 127.7 1331.1 126.8 1331.3 126 1331.5 125.2 1331.8 124.4 1332 123.7 1332.3 123 1332.5 122.4 1332.8 121.7 1333 121.1 1333.2 120.5 1333.5 120 1333.7 119.5 1334 118.9 1334.2 118.5 1334.5 118 1334.7 117.5 1335 117.1 1335.2 116.7 1335.4 116.3 1335.7 115.9 1335.9 115.5 1336.2 115.1 1336.4 114.8 1336.7 114.5 1336.9 114.1 1337.1 113.8 1337.4 113.5 1337.6 113.2 1337.9 112.9 1338.1 112.7 1338.4 112.4 1338.6 112.2 1338.9 111.9 1339.1 111.7 1339.3 111.4 1339.6 111.2 1339.8 111 1340.1 110.8 1340.3 110.6 1340.6 110.4 1340.8 110.2 1341 110 1341.3 109.8 1341.5 109.6 1341.8 109.5 1342 109.3 1342.3 109.1 1342.5 109 1342.7 108.8 1343 108.7 1343.2 108.5 1343.5 108.4 1343.7 108.2 1344 108.1 1344.2 108 1344.5 107.8 1344.7 107.7 1344.9 107.6 1345.2 107.5 1345.4 107.4 1345.7 107.3 1345.9 107.1 1346.2 107 1346.4 106.9 1346.6 106.8 1346.9 106.7 1347.1 106.6 1347.4 106.5 1347.6 106.4 1347.9 106.3 1348.1 106.3 1348.4 106.2 1348.6 106.1 1348.8 106 1349.1 105.9 1349.3 105.8 1349.6 105.8 1349.8 105.7 1350.1 105.6 1350.3 105.5 1350.5 105.5 1350.8 105.4 1351 105.3 1351.3 105.3 1351.5 105.2 1351.8 105.1 1352 105.1 1352.2 105 1352.5 104.9 1352.7 104.9 1353 104.8 1353.2 104.8 1353.5 104.7 1353.7 104.7 1354 104.6 1354.2 104.5 1354.4 104.5 1354.7 104.4 1354.9 104.4 1355.2 104.3 1355.4 104.3 1355.7 104.2 1355.9 104.2 1356.1 104.2 1356.4 104.1 1356.6 104.1 1356.9 104 1357.1 104 1357.4 103.9 1357.6 103.9 1357.9 103.9 1358.1 103.8 1358.3 103.8 1358.6 103.7 1358.8 103.7 1359.1 103.7 1359.3 103.6 1359.6 103.6 1359.8 103.5 1360 103.5 1360.3 103.5 1360.5 103.4 1360.8 103.4 1361 103.4 1361.3 103.3 1361.5 103.3 1361.7 103.3 1362 103.3 1362.2 103.2 1362.5 103.2 1362.7 103.2 1363 103.1 1363.2 103.1 1363.5 103.1 1363.7 103 1363.9 103 1364.2 103 1364.4 103 1364.7 102.9 1364.9 102.9 1365.2 102.9 1365.4 102.9 1365.6 102.8 1365.9 102.8 1366.1 102.8 1366.4 102.8 1366.6 102.7 1366.9 102.7 1367.1 102.7 1367.4 102.7 1367.6 102.7 1367.8 102.6 1368.1 102.6 1368.3 102.6 1368.6 102.6 1368.8 102.5 1369.1 102.5 1369.3 102.5 1369.5 102.5 1369.8 102.5 1370 102.4 1370.3 102.4 1370.5 102.4 1370.8 102.4 1371 102.4 1371.2 102.4 1371.5 102.3 1371.7 102.3 1372 102.3 1372.2 102.3 1372.5 102.3 1372.7 102.2 1373 102.2 1373.2 102.2 1373.4 102.2 1373.7 102.2 1373.9 102.2 1374.2 102.1 1374.4 102.1 1374.7 102.1 1374.9 102.1 1375.1 102.1 1375.4 102.1 1375.6 102.1 1375.9 102 1376.1 102 1376.4 102 1376.6 102 1376.9 102 1377.1 102 1377.3 102 1377.6 101.9 1377.8 101.9 1378.1 101.9 1378.3 101.9 1378.6 101.9 1378.8 101.9 1379 101.9 1379.3 101.9 1379.5 101.8 1379.8 101.8 1380 101.8 1380.3 101.8 1380.5 101.8 1380.8 101.8 1381 101.8 1381.2 101.8 1381.5 101.8 1381.7 101.7 1382 101.7 1382.2 101.7 1382.5 101.7 1382.7 101.7 1382.9 101.7 1383.2 101.7 1383.4 101.7 1383.7 101.7 1383.9 101.6 1384.2 101.6 1384.4 101.6 1384.6 101.6 1384.9 101.6 1385.1 101.6 1385.4 101.6 1385.6 101.6 1385.9 101.6 1386.1 101.6 1386.4 101.5 1386.6 101.5 1386.8 101.5 1387.1 101.5 1387.3 101.5 1387.6 101.5 1387.8 101.5 1388.1 101.5 1388.3 101.5 1388.5 101.5 1388.8 101.5 1389 101.5 1389.3 101.4 1389.5 101.4 1389.8 101.4 1390 101.4 1390.3 101.4 1390.5 101.4 1390.7 101.4 1391 101.4 1391.2 101.4 1391.5 101.4 1391.7 101.4 1392 101.4 1392.2 101.4 1392.4 101.3 1392.7 101.3 1392.9 101.3 1393.2 101.3 1393.4 101.3 1393.7 101.3 1393.9 101.3 1394.1 101.3 1394.4 101.3 1394.6 101.3 1394.9 101.3 1395.1 101.3 1395.4 101.3 1395.6 101.3 1395.9 101.3 1396.1 101.2 1396.3 101.2 1396.6 101.2 1396.8 101.2 1397.1 101.2 1397.3 101.2 1397.6 101.2 1397.8 101.2 1398 101.2 1398.3 101.2 1398.5 101.2 1398.8 101.2 1399 101.2 1399.3 101.2 1399.5 101.2 1399.8 101.2 1400 101.1 1400.2 101.1 1400.5 101.1 1400.7 101.1 1401 101.1 1401.2 101.1 1401.5 101.1 1401.7 101.1" fill="none" stroke="#000" stroke-width="1.2"/>
<path d="M821 487.4 822.1 493.4 823.2 492.8 824.4 503.9 825.5 495.2 826.7 520.5 827.8 492.5 829 504.5 830.1 503.1 831.3 512.3 832.4 509.9 833.5 498.6 834.7 503.2 835.8 498.3 837 492 838.1 495.3 839.3 511.8 840.4 507.1 841.6 510.2 842.7 510.3 843.8 518.5 845 517.8 846.1 508.3 847.3 506.2 848.4 497.9 849.6 502.6 850.7 491.3 851.9 512.5 853 509.7 854.1 498.8 855.3 501.5 856.4 504.8 857.6 491.8 858.7 488.5 859.9 487.2 861 499 862.2 497.6 863.3 497.1 864.4 499.4 865.6 494.5 866.7 505.5 867.9 501.6 869 519.8 870.2 500.9 871.3 494.1 872.5 503.2 873.6 495.2 874.7 511.8 875.9 502.6 877 510.4 878.2 499.2 879.3 499.3 880.5 512.9 881.6 510.6 882.8 509.4 883.9 490.3 885 506.7 886.2 506.1 887.3 505.6 888.5 506.9 889.6 510.4 890.8 515.9 891.9 509.2 893.1 492.3 894.2 500.8 895.3 505.5 896.5 512.8 897.6 505.6 898.8 505.7 899.9 510.1 901.1 499.4 902.2 508.2 903.4 504.9 904.5 497.9 905.6 501.3 906.8 494.8 907.9 502.8 909.1 503.2 910.2 496.1 911.4 496.7 912.5 490.1 913.7 495.1 914.8 497.8 915.9 494.8 917.1 493.5 918.2 505.7 919.4 501 920.5 504.1 921.7 496.3 922.8 508.1 924 496.7 925.1 509.1 926.2 499.9 927.4 493.2 928.5 504.3 929.7 498.1 930.8 520.5 932 508.2 933.1 507.4 934.3 508.3 935.4 516.3 936.5 502 937.7 521.1 938.8 498.9 940 502 941.1 496.9 942.3 504.5 943.4 509.6 944.6 505.3 945.7 504.7 946.8 498 948 504 949.1 499.1 950.3 498.1 951.4 491.2 952.6 512.9 953.7 503.7 954.9 498.6 956 500.2 957.1 508.6 958.3 505.7 959.4 502.8 960.6 500 961.7 504.6 962.9 506.1 964 509.8 965.2 504.6 966.3 491.7 967.4 504.9 968.6 491.6 969.7 485.9 970.9 498.6 972 485.9 973.2 501.8 974.3 488.6 975.5 497.6 976.6 503.5 977.7 493 978.9 483.8 980 501.2 981.2 495.8 982.3 506.3 983.5 506.1 984.6 497.6 985.8 502 986.9 497.9 988 494.8 989.2 512.2 990.3 510 991.5 505.8 992.6 491.2 993.8 508.1 994.9 509 996.1 503.3 997.2 493 998.3 510.3 999.5 507.7 1000.6 504.1 1001.8 498.5 1002.9 488.9 1004.1 510.9 1005.2 513.4 1006.4 501.4 1007.5 498.4 1008.6 515.3 1009.8 503.5 1010.9 491.5 1012.1 499.6 1013.2 492.6 1014.4 495.7 1015.5 495.1 1016.7 499.6 1017.8 503.1 1018.9 497.4 1020.1 508.2 1021.2 502.1 1022.4 494.2 1023.5 504.4 1024.7 502.9 1025.8 504.5 1027 504.3 1028.1 483.9 1029.2 493.3 1030.4 484 1031.5 491.3 1032.7 495.2 1033.8 497.6 1035 495 1036.1 499.2 1037.3 496.8 1038.4 512.5 1039.5 508.7 1040.7 507.1 1041.8 509.3 1043 505.5 1044.1 496.9 1045.3 494.3 1046.4 497.3 1047.6 497.1 1048.7 502.4 1049.8 497.5 1051 503.9 1052.1 514.7 1053.3 507.2 1054.4 500.5 1055.6 501.1 1056.7 507 1057.9 496.1 1059 497.9 1060.1 499.7 1061.3 496.3 1062.4 510.6 1063.6 505.7 1064.7 510.9 1065.9 501.4 1067 498.2 1068.2 501 1069.3 498.5 1070.4 508.2 1071.6 498.9 1072.7 510.7 1073.9 489.1 1075 495.6 1076.2 513.2 1077.3 521.3 1078.5 496.7 1079.6 511.7 1080.7 504.3 1081.9 517.9 1083 510.8 1084.2 516.5 1085.3 508.2 1086.5 512.5 1087.6 498.1 1088.8 510.3 1089.9 495.5 1091 501.9 1092.2 496 1093.3 507.3 1094.5 506.9 1095.6 488.1 1096.8 503.4 1097.9 499.8 1099.1 502.8 1100.2 509 1101.3 503.2 1102.5 514.3 1103.6 513.1 1104.8 499.1 1105.9 509.3 1107.1 498.3 1108.2 497.9 1109.4 491.8 1110.5 498.3 1111.6 512.9 1112.8 505 1113.9 503.2 1115.1 492.7 1116.2 499.5 1117.4 507.4 1118.5 504.4 1119.7 511.8 1120.8 506.7 1121.9 508.8 1123.1 502.4 1124.2 508 1125.4 504.8 1126.5 512.3 1127.7 508 1128.8 512.2 1130 504.5 1131.1 504.6 1132.2 505.6 1133.4 508.2 1134.5 508.4 1135.7 504.5 1136.8 522.8 1138 500.2 1139.1 522.7 1140.3 507 1141.4 506.3 1142.5 498.7 1143.7 501.7 1144.8 503.4 1146 503.2 1147.1 499 1148.3 491.4 1149.4 504.3 1150.6 519.1 1151.7 506.6 1152.8 498.7 1154 477.8 1155.1 503.1 1156.3 501.4 1157.4 497.3 1158.6 501 1159.7 513.2 1160.9 498.5 1162 511.2 1163.1 501.6 1164.3 488.9 1165.4 505.4 1166.6 501.2 1167.7 491.4 1168.9 506.8 1170 513.1 1171.2 509 1172.3 497.6 1173.4 510.9 1174.6 503.9 1175.7 509.9 1176.9 509.8 1178 496.6 1179.2 508 1180.3 511.9 1181.5 506.5 1182.6 512.6 1183.7 513.7 1184.9 495.9 1186 495.2 1187.2 504.8 1188.3 495.2 1189.5 493 1190.6 503.2 1191.8 507.4 1192.9 522.2 1194 516.9 1195.2 528.1 1196.3 507.7 1197.5 514.8 1198.6 504.1 1199.8 515.8 1200.9 501.9 1202.1 513.9 1203.2 502.9 1204.3 494.7 1205.5 495.4 1206.6 498.7 1207.8 510 1208.9 491.2 1210.1 494.6 1211.2 489.1 1212.4 486.6 1213.5 494.6 1214.6 489.2 1215.8 475.9 1216.9 501.5 1218.1 497.1 1219.2 507 1220.4 494.4 1221.5 505.7 1222.7 513.5 1223.8 509.9 1224.9 515 1226.1 521.9 1227.2 526.9 1228.4 516.5 1229.5 520.9 1230.7 512.6 1231.8 517.5 1233 508.4 1234.1 496.2 1235.2 513.6 1236.4 511.8 1237.5 495.3 1238.7 484.5 1239.8 504.5 1241 510.1 1242.1 502.4 1243.3 504.6 1244.4 497.9 1245.5 508.7 1246.7 502 1247.8 501.3 1249 510.1 1250.1 511.9 1251.3 500.5 1252.4 500.5 1253.6 508.5 1254.7 491.2 1255.8 493.6 1257 496.3 1258.1 496.4 1259.3 499.6 1260.4 498 1261.6 497.4 1262.7 501.9 1263.9 514.5 1265 501.1 1266.1 505.6 1267.3 509.5 1268.4 500.2 1269.6 518.1 1270.7 502.9 1271.9 513.6 1273 518 1274.2 516.3 1275.3 496.3 1276.4 502.7 1277.6 513.7 1278.7 502.6 1279.9 494.5 1281 508.7 1282.2 502.5 1283.3 493.7 1284.5 497.5 1285.6 504.4 1286.7 494.3 1287.9 504.4 1289 504.3 1290.2 493.7 1291.3 503.7 1292.5 484.9 1293.6 495.2 1294.8 494.1 1295.9 489.9 1297 484.8 1298.2 487.5 1299.3 492 1300.5 506.8 1301.6 505.5 1302.8 500 1303.9 492.9 1305.1 487.4 1306.2 512.5 1307.3 498.2 1308.5 501.3 1309.6 500.2 1310.8 498.9 1311.9 506.4 1313.1 510.3 1314.2 495.7 1315.4 497.9 1316.5 505 1317.6 500.8 1318.8 501.3 1319.9 503 1321.1 488.4 1322.2 498.9 1323.4 506.3 1324.5 508.3 1325.7 498.7 1326.8 510.1 1327.9 512.6 1329.1 512.9 1330.2 506.3 1331.4 505 1332.5 515.6 1333.7 505.5 1334.8 505.6 1336 498.5 1337.1 500.5 1338.2 514.9 1339.4 496.4 1340.5 503.7 1341.7 516.4 1342.8 495 1344 498.4 1345.1 493.3 1346.3 494.8 1347.4 494.2 1348.5 500.2 1349.7 510.5 1350.8 507 1352 504.6 1353.1 506.4 1354.3 501.3 1355.4 503.7 1356.6 514.9 1357.7 493.4 1358.8 503.9 1360 509.2 1361.1 504.4 1362.3 512.1 1363.4 500.4 1364.6 508.1 1365.7 488.4 1366.9 502.3 1368 504 1369.1 504.1 1370.3 514 1371.4 506.4 1372.6 506.6 1373.7 504 1374.9 515.6 1376 498.8 1377.2 488.4 1378.3 499 1379.4 498.4 1380.6 499.8 1381.7 512.5 1382.9 513.3 1384 505.7 1385.2 510.3 1386.3 517.8 1387.5 519.5 1388.6 491.9 1389.7 503.7 1390.9 516.2 1392 503 1393.2 497 1394.3 497.5 1395.5 507 1396.6 479.8 1397.8 486.5 1398.9 492 1400 487.2 1401.2 494.8" fill="none" stroke="#000" stroke-width="1.3" stroke-linejoin="round"/>
</g>
<rect x="817.3" y="69.2" width="584" height="470.7" fill="none" stroke="#1a1a1a" stroke-width="1.8"/>
<path d="M866 539.9v-9.3M987.8 539.9v-9.3M1109.5 539.9v-9.3M1231.2 539.9v-9.3M1353 539.9v-9.3M926.9 539.9v-5M1048.6 539.9v-5M1170.4 539.9v-5M1292.1 539.9v-5M817.3 100h10M817.3 251.8h10M817.3 403.6h10M817.3 175.9h5.5M817.3 327.7h5.5M817.3 479.5h5.5" stroke="#1a1a1a" stroke-width="1.5" fill="none"/>
<text class="b" transform="translate(805.3 108.6) scale(0.985 1)" font-size="26.0" text-anchor="end" fill="#111">100</text>
<text class="b" transform="translate(805.3 260.4) scale(0.985 1)" font-size="26.0" text-anchor="end" fill="#111">98</text>
<text class="b" transform="translate(805.3 412.2) scale(0.985 1)" font-size="26.0" text-anchor="end" fill="#111">96</text>
<text class="b" transform="translate(865.5 572.8) scale(1.06 1)" font-size="26.0" text-anchor="middle" fill="#111">-10</text>
<text class="b" transform="translate(987.2 572.8) scale(1.06 1)" font-size="26.0" text-anchor="middle" fill="#111">-5</text>
<text class="b" transform="translate(1109.5 572.8) scale(1.06 1)" font-size="26.0" text-anchor="middle" fill="#111">0</text>
<text class="b" transform="translate(1231.2 572.8) scale(1.06 1)" font-size="26.0" text-anchor="middle" fill="#111">5</text>
<text class="b" transform="translate(1353 572.8) scale(1.06 1)" font-size="26.0" text-anchor="middle" fill="#111">10</text>
<text class="b" font-size="29" fill="#111" text-anchor="middle" x="1099" y="608.5"><tspan class="bi">v</tspan> (mm/s)</text>
<text class="b" font-size="31.5" fill="#111" text-anchor="middle" transform="translate(760.3 295) rotate(-90) scale(0.858 1)">Transmission (%)</text>
<text font-size="51" fill="#111" transform="translate(744 50.5) scale(1.06 1)">(b)</text>
<text class="b" font-size="28.3" fill="#111" x="852" y="448"><tspan class="bi">T</tspan> = 15 K</text>
<path d="M1205 250L1282 216M1276.2 221.5L1282 216L1274 216.6" stroke="#1a8a1a" stroke-width="1.1" fill="none"/>
<path d="M1349 229L1320 178M1326.1 183.2L1320 178L1321.4 185.9" stroke="#e02020" stroke-width="1.1" fill="none"/>
<path d="M1030 345L922 313M930 312.5L922 313L928.4 317.7" stroke="#2020e0" stroke-width="1.1" fill="none"/>
<g filter="url(#sh2)" class="b" font-size="28.5">
<text x="1177" y="278" fill="#1c7c1c">Fe(2)</text>
<text x="1329" y="256" fill="#d81818">Fe(1)</text>
<text x="1028" y="361" fill="#1818d8">Fe(3)</text>
</g>
<text font-size="51" fill="#111" transform="translate(27 700.8) scale(1.06 1)">(c)</text>
<path d="M422.2 846L417.2 919.4L477 893.8M417.2 919.4L476 939.8" stroke="#222" stroke-width="1.2" fill="none"/>
<path d="M423.6 813L410.9 842.5Q421.5 848.5 433.3 843.6Z" fill="#000"/>
<path d="M468 887.1L486.8 888.4L475.2 903.6L477.8 893.8Z" fill="#000"/>
<path d="M482.3 931.8Q471.5 941.5 477.8 952.3L506.6 951.7Z" fill="#000"/>
<g class="b" font-size="30" fill="#111" text-anchor="middle">
<text x="420.6" y="803">a</text><text x="507.8" y="893">c</text><text x="533.5" y="970">b</text></g>
<circle cx="219.9" cy="929" r="9.5" fill="url(#sW)"/>
<polygon points="281.4,903 73.3,1010.6 219.9,929" fill="#f09890" opacity="0.5"/>
<polygon points="281.4,903 414.6,1058 219.9,929" fill="#f09890" opacity="0.5"/>
<polygon points="189.3,1165.6 73.3,1010.6 219.9,929" fill="#f09890" opacity="0.5"/>
<polygon points="189.3,1165.6 414.6,1058 219.9,929" fill="#f09890" opacity="0.5"/>
<polygon points="281.4,903 73.3,1010.6 263.9,1115.4" fill="#e08c8b" opacity="0.6"/>
<polygon points="281.4,903 414.6,1058 263.9,1115.4" fill="#ff9e9d" opacity="0.6"/>
<polygon points="189.3,1165.6 73.3,1010.6 263.9,1115.4" fill="#b4888b" opacity="0.6"/>
<polygon points="189.3,1165.6 414.6,1058 263.9,1115.4" fill="#de837f" opacity="0.6"/>
<path d="M281.4 903L219.9 929M73.3 1010.6L219.9 929M414.6 1058L219.9 929M189.3 1165.6L219.9 929" stroke="#e87878" stroke-width="0.8" fill="none" opacity="0.7" stroke-linecap="round"/>
<path d="M281.4 903L73.3 1010.6M281.4 903L414.6 1058M189.3 1165.6L73.3 1010.6M189.3 1165.6L414.6 1058M281.4 903L263.9 1115.4M73.3 1010.6L263.9 1115.4M414.6 1058L263.9 1115.4M189.3 1165.6L263.9 1115.4" stroke="#e25050" stroke-width="1.0" fill="none" opacity="0.9" stroke-linecap="round"/>
<g>
<path d="M335 1062L190.7 1004.3" stroke="#2a08c8" stroke-width="8.5" stroke-linecap="round" fill="none"/>
<path d="M194.1 995.9L167.5 995L187.4 1012.6Z" fill="#2606b4"/>
</g>
<path d="M249.2 1027.4L170 1031" stroke="#e01818" stroke-width="5.5" stroke-linecap="round" fill="none"/>
<g>
<path d="M94.5 1036L71 1037.6" stroke="#d01414" stroke-width="5" stroke-linecap="round" fill="none"/>
<path d="M94.4 1034.5L70.9 1036.1" stroke="#7a0000" stroke-width="2" fill="none" opacity="0.55"/>
<path d="M70.6 1031.8L56.5 1038.6L71.4 1043.4Z" fill="#d01414"/>
</g>
<g>
<path d="M249.2 1027.4L182 716.9" stroke="#f01414" stroke-width="5.8" stroke-linecap="round" fill="none"/>
<path d="M188.3 715.6L177.8 697.4L175.8 718.3Z" fill="#f01414"/>
</g>
<circle cx="249.2" cy="1027.4" r="31.5" fill="url(#sR)"/>
<g>
<path d="M234.6 1034L108.2 1091.6" stroke="#f01818" stroke-width="5.6" stroke-linecap="round" fill="none"/>
<path d="M105.8 1086.3L93.6 1098.2L110.6 1096.8Z" fill="#f01818"/>
</g>
<circle cx="281.4" cy="903" r="9.5" fill="url(#sW)"/>
<circle cx="73.3" cy="1010.6" r="9.5" fill="url(#sW)"/>
<circle cx="414.6" cy="1058" r="9.5" fill="url(#sW)"/>
<circle cx="263.9" cy="1115.4" r="9.5" fill="url(#sW)"/>
<circle cx="189.3" cy="1165.6" r="9.5" fill="url(#sW)"/>
<text class="b" filter="url(#sh)" font-size="29.3" fill="#fff" text-anchor="middle" x="255" y="1035.5">Fe1</text>
<text filter="url(#sh)" x="199" y="721.6" fill="#e81414"><tspan class="i" font-size="35.5" stroke="#e81414" stroke-width="0.8">V</tspan><tspan class="bi" font-size="26" dx="-1.6" dy="6" letter-spacing="1.2">ZZ</tspan></text>
<text filter="url(#sh)" x="11" y="1067.6" fill="#e81414"><tspan class="i" font-size="35.5" stroke="#e81414" stroke-width="0.8">V</tspan><tspan class="b" font-size="26" dx="-1.6" dy="6" letter-spacing="1.2">XX</tspan></text>
<text filter="url(#sh)" x="71" y="1134.6" fill="#e81414"><tspan class="i" font-size="35.5" stroke="#e81414" stroke-width="0.8">V</tspan><tspan class="b" font-size="26" dx="-1.6" dy="6" letter-spacing="1.2">YY</tspan></text>
<text filter="url(#sh)" x="170" y="984" fill="#141a5e"><tspan class="bi" font-size="38">B</tspan><tspan class="b" font-size="27" dx="-1" dy="7" letter-spacing="0">hf</tspan></text>
<polygon points="722.4,880.9 545.4,1039.7 784.5,1146.8" fill="#94bc94" opacity="0.55"/>
<polygon points="722.4,880.9 770.7,1072.4 784.5,1146.8" fill="#a0c8a0" opacity="0.55"/>
<polygon points="722.4,880.9 545.4,1039.7 770.7,1072.4" fill="#98c49c" opacity="0.6"/>
<polygon points="545.4,1039.7 770.7,1072.4 784.5,1146.8" fill="#86a08a" opacity="0.6"/>
<path d="M722.4 880.9L784.5 1146.8M770.7 1072.4L784.5 1146.8M545.4 1039.7L784.5 1146.8" stroke="#7ab07a" stroke-width="0.8" fill="none" opacity="0.8" stroke-linecap="round"/>
<path d="M722.4 880.9L545.4 1039.7M722.4 880.9L770.7 1072.4M545.4 1039.7L770.7 1072.4" stroke="#74ac74" stroke-width="0.9" fill="none" opacity="0.9" stroke-linecap="round"/>
<g>
<path d="M637.6 1009.2L761.8 1060.2" stroke="#0a22e0" stroke-width="10.5" stroke-linecap="round" fill="none"/>
<path d="M757.8 1069.9L786.8 1070.4L765.8 1050.4Z" fill="#0a22e0"/>
</g>
<g>
<path d="M718.8 1062L873.4 1306.4" stroke="#e81818" stroke-width="6.2" stroke-linecap="round" fill="none"/>
<path d="M717.2 1063L871.8 1307.4" stroke="#ffa0a0" stroke-width="2.5" fill="none" opacity="0.55"/>
<path d="M868.1 1309.7L883 1321.6L878.6 1303.1Z" fill="#e81818"/>
</g>
<circle cx="703.5" cy="1034.7" r="31" fill="url(#sO)"/>
<g>
<path d="M716.7 1024L839.4 924.2" stroke="#7e0606" stroke-width="6.3" stroke-linecap="round" fill="none"/>
<path d="M843.1 928.7L852.2 913.8L835.7 919.7Z" fill="#c81414"/>
</g>
<g>
<path d="M687.1 1042.1L563.3 1098" stroke="#f01818" stroke-width="6.3" stroke-linecap="round" fill="none"/>
<path d="M560.9 1092.7L548.3 1104.8L565.7 1103.3Z" fill="#f01818"/>
</g>
<circle cx="722.4" cy="880.9" r="8.3" fill="url(#sW)"/>
<circle cx="545.4" cy="1039.7" r="8.3" fill="url(#sW)"/>
<circle cx="770.7" cy="1072.4" r="8.3" fill="url(#sW)"/>
<circle cx="784.5" cy="1146.8" r="8.3" fill="url(#sW)"/>
<text class="b" filter="url(#sh)" font-size="31" fill="#fff" text-anchor="middle" x="712.5" y="1046">Fe2</text>
<text filter="url(#sh)" x="796" y="903.6" fill="#e81414"><tspan class="i" font-size="35.5" stroke="#e81414" stroke-width="0.8">V</tspan><tspan class="b" font-size="26" dx="-1.6" dy="6" letter-spacing="1.2">XX</tspan></text>
<text filter="url(#sh)" x="520" y="1139.6" fill="#e81414"><tspan class="i" font-size="35.5" stroke="#e81414" stroke-width="0.8">V</tspan><tspan class="b" font-size="26" dx="-1.6" dy="6" letter-spacing="1.2">YY</tspan></text>
<text filter="url(#sh)" x="877" y="1293.6" fill="#e81414"><tspan class="i" font-size="35.5" stroke="#e81414" stroke-width="0.8">V</tspan><tspan class="bi" font-size="26" dx="-1.6" dy="6" letter-spacing="1.2">ZZ</tspan></text>
<text filter="url(#sh)" x="785" y="1052" fill="#141a5e"><tspan class="bi" font-size="38">B</tspan><tspan class="b" font-size="27" dx="-1" dy="7" letter-spacing="0">hf</tspan></text>
<polygon points="1083.2,881.5 926.2,1019.9 1094.5,1003" fill="#9a9ae2" opacity="0.5"/>
<polygon points="1083.2,881.5 1262,1054.3 1094.5,1003" fill="#9a9ae2" opacity="0.5"/>
<polygon points="1084.4,1218.1 926.2,1019.9 1094.5,1003" fill="#9a9ae2" opacity="0.5"/>
<polygon points="1084.4,1218.1 1262,1054.3 1094.5,1003" fill="#9a9ae2" opacity="0.5"/>
<polygon points="1083.2,881.5 926.2,1019.9 1086.2,1107" fill="#9696da" opacity="0.64"/>
<polygon points="1083.2,881.5 1262,1054.3 1086.2,1107" fill="#9c9cee" opacity="0.64"/>
<polygon points="1084.4,1218.1 926.2,1019.9 1086.2,1107" fill="#8e8ece" opacity="0.64"/>
<polygon points="1084.4,1218.1 1262,1054.3 1086.2,1107" fill="#9090d2" opacity="0.64"/>
<path d="M1083.2 881.5L1094.5 1003" stroke="#e8e8ff" stroke-width="1" stroke-dasharray="7 3" fill="none" opacity="0.8"/>
<path d="M926.2 1019.9L1094.5 1003M1262 1054.3L1094.5 1003M1084.4 1218.1L1094.5 1003" stroke="#7878ea" stroke-width="1.1" fill="none" opacity="0.8" stroke-linecap="round"/>
<path d="M1083.2 881.5L926.2 1019.9M1083.2 881.5L1262 1054.3M1084.4 1218.1L926.2 1019.9M1084.4 1218.1L1262 1054.3M1083.2 881.5L1086.2 1107M926.2 1019.9L1086.2 1107M1262 1054.3L1086.2 1107M1084.4 1218.1L1086.2 1107" stroke="#7272e6" stroke-width="1.1" fill="none" opacity="0.9" stroke-linecap="round"/>
<g>
<path d="M1042.1 973.2L1135.4 1081.3" stroke="#0a14e8" stroke-width="9" stroke-linecap="round" fill="none"/>
<path d="M1126.7 1088.8L1154.3 1103.3L1144.1 1073.8Z" fill="#0a14e8"/>
</g>
<circle cx="1098.2" cy="1039.7" r="30" fill="url(#sB)"/>
<g>
<path d="M1101.2 1026L1148.6 809.4" stroke="#c01024" stroke-width="5.3" stroke-linecap="round" fill="none"/>
<path d="M1154.4 810.7L1152.4 791.8L1142.7 808.1Z" fill="#e81818"/>
</g>
<g>
<path d="M1118.9 1047.3L1313.2 1118.4" stroke="#e81420" stroke-width="5.6" stroke-linecap="round" fill="none"/>
<path d="M1311.1 1124L1330.1 1124.6L1315.3 1112.8Z" fill="#e81420"/>
</g>
<g>
<path d="M1091.5 1052L1026 1171.4" stroke="#f01414" stroke-width="5.4" stroke-linecap="round" fill="none"/>
<path d="M1020.9 1168.6L1017.8 1186.3L1031.1 1174.2Z" fill="#f01414"/>
</g>
<circle cx="1083.2" cy="881.5" r="9.3" fill="url(#sW)"/>
<circle cx="926.2" cy="1019.9" r="9.3" fill="url(#sW)"/>
<circle cx="1262" cy="1054.3" r="9.3" fill="url(#sW)"/>
<circle cx="1084.4" cy="1218.1" r="9.3" fill="url(#sW)"/>
<circle cx="1086.2" cy="1107" r="9.3" fill="url(#sW)"/>
<path d="M1116.5 971.5C1138 972 1141 1040 1141.5 1082" stroke="#0a0a0a" stroke-width="3" fill="none"/>
<path d="M1061.5 1110.5Q1091 1136 1121 1112" stroke="#0a0a0a" stroke-width="2.2" fill="none"/>
<path d="M1058.5 1115.5Q1091 1144.5 1123.5 1117" stroke="#0a0a0a" stroke-width="2.2" fill="none"/>
<path d="M1105.5 1059L1126 1147L1154.3 1106" stroke="#0a0a0a" stroke-width="2" stroke-dasharray="2 2.6" fill="none"/>
<text class="b" filter="url(#sh)" font-size="31" fill="#fff" text-anchor="middle" x="1109.5" y="1050">Fe3</text>
<text class="b" font-size="34" fill="#0a0a0a" text-anchor="middle" x="1153.5" y="991">θ</text>
<text class="b" font-size="34" fill="#0a0a0a" text-anchor="middle" x="1116" y="1156">φ</text>
<text filter="url(#sh)" x="1179" y="823.6" fill="#e81414"><tspan class="i" font-size="35.5" stroke="#e81414" stroke-width="0.8">V</tspan><tspan class="bi" font-size="26" dx="-1.6" dy="6" letter-spacing="1.2">ZZ</tspan></text>
<text filter="url(#sh)" x="1325" y="1102.6" fill="#e81414"><tspan class="i" font-size="35.5" stroke="#e81414" stroke-width="0.8">V</tspan><tspan class="b" font-size="26" dx="-1.6" dy="6" letter-spacing="1.2">YY</tspan></text>
<text filter="url(#sh)" x="960" y="1180.6" fill="#e81414"><tspan class="i" font-size="35.5" stroke="#e81414" stroke-width="0.8">V</tspan><tspan class="b" font-size="26" dx="-1.6" dy="6" letter-spacing="1.2">XX</tspan></text>
<text filter="url(#sh)" x="1171" y="1105" fill="#141a5e"><tspan class="bi" font-size="38">B</tspan><tspan class="b" font-size="27" dx="-1" dy="7" letter-spacing="0">hf</tspan></text>
</svg></body></html>
